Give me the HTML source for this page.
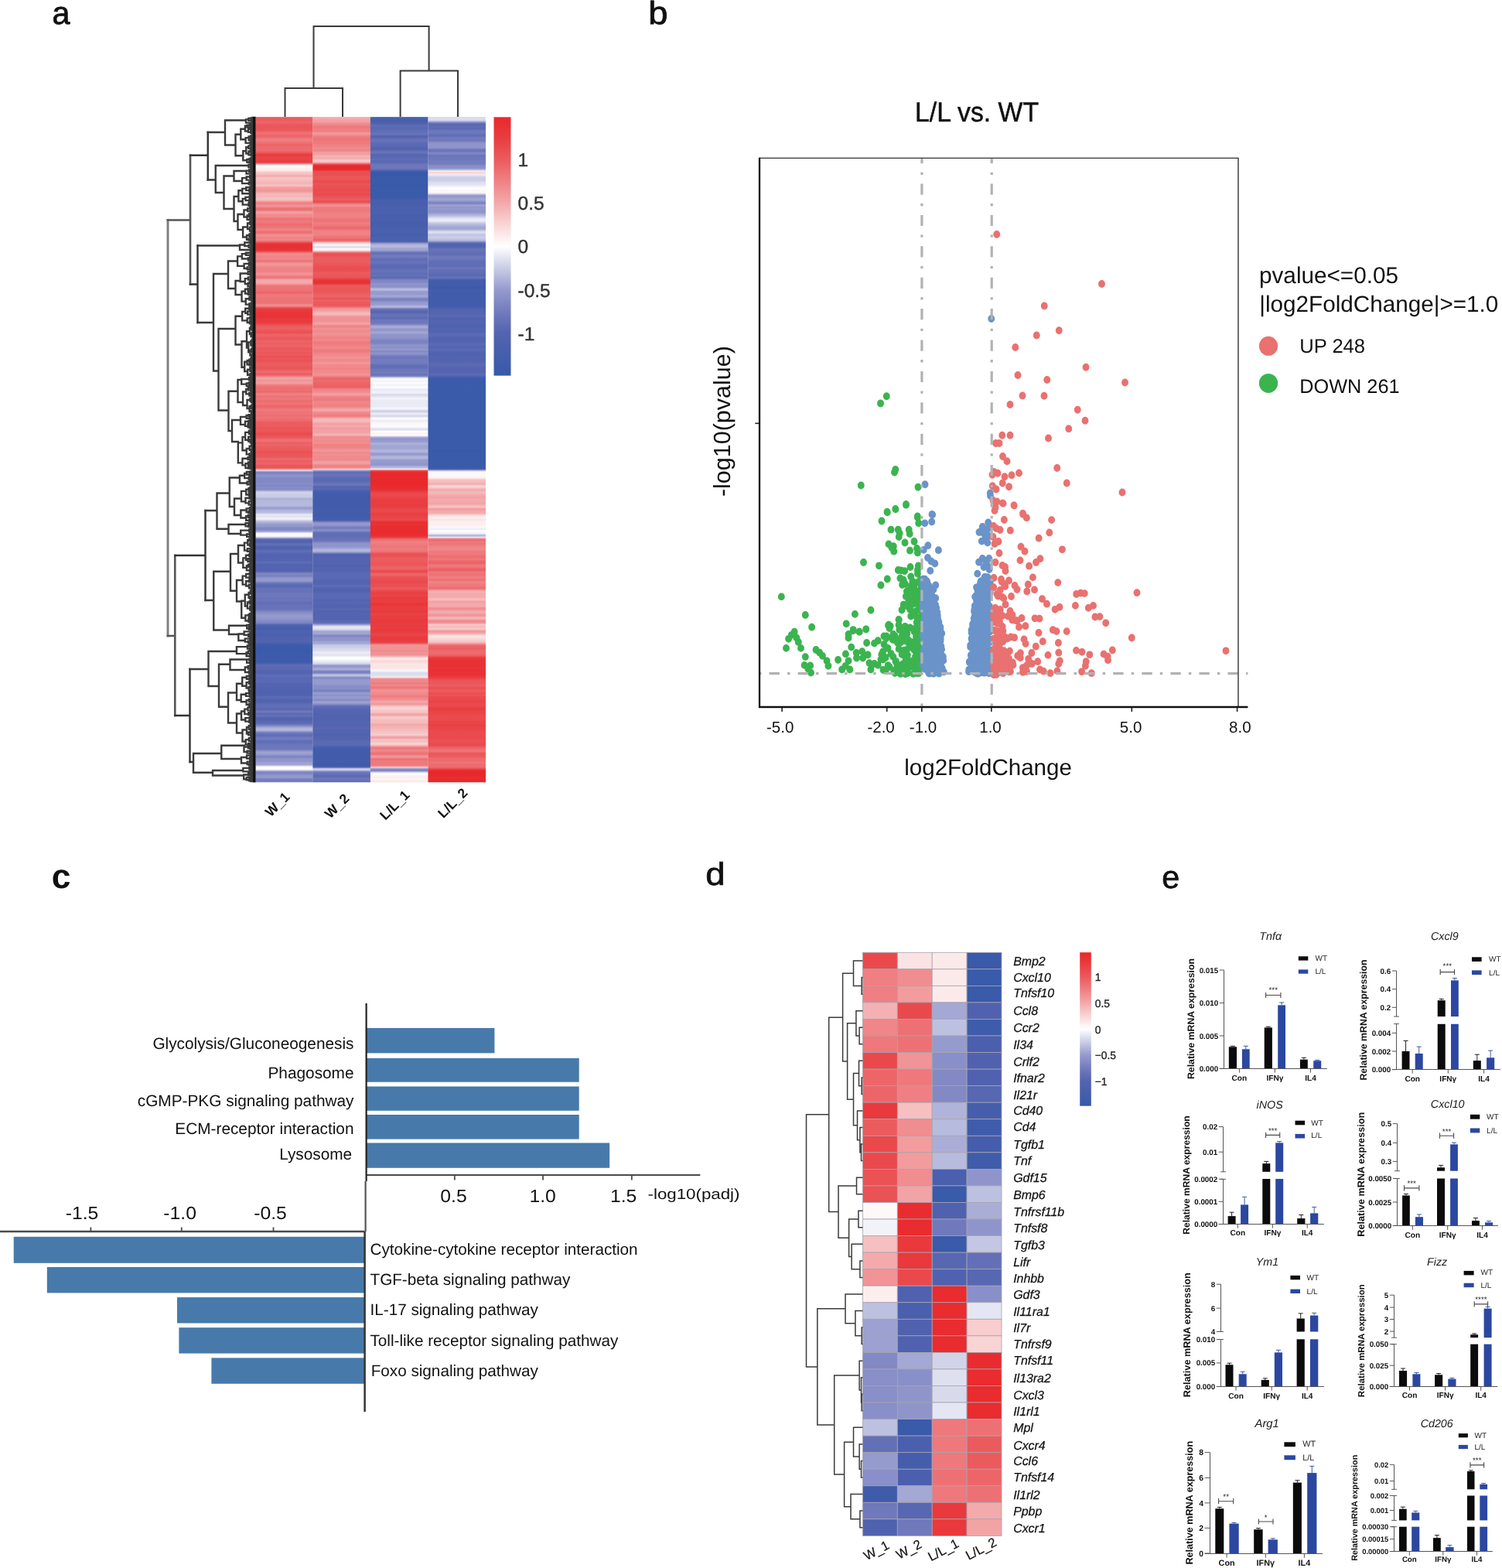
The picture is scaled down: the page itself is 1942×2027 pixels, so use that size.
<!DOCTYPE html>
<html lang="en"><head><meta charset="utf-8"><title>Figure</title>
<style>
html,body{margin:0;padding:0;background:#fff;}
body{width:1942px;height:2027px;overflow:hidden;}
svg{display:block;font-family:"Liberation Sans", sans-serif;text-rendering:geometricPrecision;}
</style></head>
<body>
<svg width="1942" height="2027" viewBox="0 0 1942 2027">
<defs>
<linearGradient id="cbA" x1="0" y1="0" x2="0" y2="1"><stop offset="0.0000" stop-color="#e8282b"/><stop offset="0.0833" stop-color="#e93e41"/><stop offset="0.1667" stop-color="#eb5c5f"/><stop offset="0.2500" stop-color="#ef8285"/><stop offset="0.3333" stop-color="#f3aaac"/><stop offset="0.4167" stop-color="#f9d6d6"/><stop offset="0.5000" stop-color="#ffffff"/><stop offset="0.5833" stop-color="#cacde6"/><stop offset="0.6667" stop-color="#969bce"/><stop offset="0.7500" stop-color="#737cbe"/><stop offset="0.8333" stop-color="#5464b0"/><stop offset="1.0000" stop-color="#3759a9"/></linearGradient><linearGradient id="hA0" x1="0" y1="0" x2="0" y2="1"><stop offset="0.0010" stop-color="#eb5c5f"/><stop offset="0.0029" stop-color="#eb5c5f"/><stop offset="0.0049" stop-color="#eb5c5f"/><stop offset="0.0069" stop-color="#ec6467"/><stop offset="0.0088" stop-color="#ec6467"/><stop offset="0.0108" stop-color="#eb5c5f"/><stop offset="0.0128" stop-color="#eb5659"/><stop offset="0.0147" stop-color="#eb5659"/><stop offset="0.0167" stop-color="#eb5659"/><stop offset="0.0187" stop-color="#eb5659"/><stop offset="0.0206" stop-color="#eb5c5f"/><stop offset="0.0226" stop-color="#ed6b6e"/><stop offset="0.0246" stop-color="#ed7376"/><stop offset="0.0265" stop-color="#ed6b6e"/><stop offset="0.0285" stop-color="#ec6467"/><stop offset="0.0305" stop-color="#ed6b6e"/><stop offset="0.0324" stop-color="#ee7a7d"/><stop offset="0.0344" stop-color="#ef8285"/><stop offset="0.0363" stop-color="#ee7a7d"/><stop offset="0.0383" stop-color="#ed7376"/><stop offset="0.0403" stop-color="#ed6b6e"/><stop offset="0.0422" stop-color="#ec6467"/><stop offset="0.0442" stop-color="#ed6b6e"/><stop offset="0.0462" stop-color="#ed6b6e"/><stop offset="0.0481" stop-color="#ed6b6e"/><stop offset="0.0501" stop-color="#ed6b6e"/><stop offset="0.0521" stop-color="#ec6467"/><stop offset="0.0540" stop-color="#eb5659"/><stop offset="0.0560" stop-color="#e93e41"/><stop offset="0.0580" stop-color="#e93a3d"/><stop offset="0.0599" stop-color="#e94447"/><stop offset="0.0619" stop-color="#e94447"/><stop offset="0.0639" stop-color="#e94447"/><stop offset="0.0658" stop-color="#e93e41"/><stop offset="0.0678" stop-color="#e93e41"/><stop offset="0.0697" stop-color="#ec6467"/><stop offset="0.0717" stop-color="#f8cdce"/><stop offset="0.0737" stop-color="#ffffff"/><stop offset="0.0756" stop-color="#fef7f7"/><stop offset="0.0776" stop-color="#fdefef"/><stop offset="0.0796" stop-color="#fdefef"/><stop offset="0.0815" stop-color="#fadede"/><stop offset="0.0835" stop-color="#f7c4c5"/><stop offset="0.0855" stop-color="#f7c4c5"/><stop offset="0.0874" stop-color="#f4b3b4"/><stop offset="0.0894" stop-color="#f3aaac"/><stop offset="0.0914" stop-color="#f7c4c5"/><stop offset="0.0933" stop-color="#f7c4c5"/><stop offset="0.0953" stop-color="#f5bcbd"/><stop offset="0.0972" stop-color="#f5bcbd"/><stop offset="0.0992" stop-color="#f4b3b4"/><stop offset="0.1012" stop-color="#f5bcbd"/><stop offset="0.1031" stop-color="#f7c4c5"/><stop offset="0.1051" stop-color="#f3aaac"/><stop offset="0.1071" stop-color="#f19a9c"/><stop offset="0.1090" stop-color="#f19a9c"/><stop offset="0.1110" stop-color="#f19295"/><stop offset="0.1130" stop-color="#f2a2a4"/><stop offset="0.1149" stop-color="#f4b3b4"/><stop offset="0.1169" stop-color="#f5bcbd"/><stop offset="0.1189" stop-color="#f4b3b4"/><stop offset="0.1208" stop-color="#f5bcbd"/><stop offset="0.1228" stop-color="#f7c4c5"/><stop offset="0.1248" stop-color="#f5bcbd"/><stop offset="0.1267" stop-color="#f2a2a4"/><stop offset="0.1287" stop-color="#ef8285"/><stop offset="0.1306" stop-color="#ef8285"/><stop offset="0.1326" stop-color="#f19295"/><stop offset="0.1346" stop-color="#f19295"/><stop offset="0.1365" stop-color="#ee7a7d"/><stop offset="0.1385" stop-color="#ed6b6e"/><stop offset="0.1405" stop-color="#ee7a7d"/><stop offset="0.1424" stop-color="#f19a9c"/><stop offset="0.1444" stop-color="#f2a2a4"/><stop offset="0.1464" stop-color="#f08a8d"/><stop offset="0.1483" stop-color="#f08a8d"/><stop offset="0.1503" stop-color="#f08a8d"/><stop offset="0.1523" stop-color="#ed7376"/><stop offset="0.1542" stop-color="#ed7376"/><stop offset="0.1562" stop-color="#ee7a7d"/><stop offset="0.1582" stop-color="#ee7a7d"/><stop offset="0.1601" stop-color="#ed7376"/><stop offset="0.1621" stop-color="#ed6b6e"/><stop offset="0.1640" stop-color="#ed7376"/><stop offset="0.1660" stop-color="#ed7376"/><stop offset="0.1680" stop-color="#ef8285"/><stop offset="0.1699" stop-color="#ef8285"/><stop offset="0.1719" stop-color="#ed7376"/><stop offset="0.1739" stop-color="#ed6b6e"/><stop offset="0.1758" stop-color="#ef8285"/><stop offset="0.1778" stop-color="#f19295"/><stop offset="0.1798" stop-color="#f08a8d"/><stop offset="0.1817" stop-color="#ef8285"/><stop offset="0.1837" stop-color="#f08a8d"/><stop offset="0.1857" stop-color="#ef8285"/><stop offset="0.1876" stop-color="#ec6467"/><stop offset="0.1896" stop-color="#e93e41"/><stop offset="0.1916" stop-color="#e83134"/><stop offset="0.1935" stop-color="#e83134"/><stop offset="0.1955" stop-color="#e83134"/><stop offset="0.1974" stop-color="#e83134"/><stop offset="0.1994" stop-color="#e83134"/><stop offset="0.2014" stop-color="#e93e41"/><stop offset="0.2033" stop-color="#ec6467"/><stop offset="0.2053" stop-color="#f08a8d"/><stop offset="0.2073" stop-color="#f08a8d"/><stop offset="0.2092" stop-color="#ef8285"/><stop offset="0.2112" stop-color="#ef8285"/><stop offset="0.2132" stop-color="#f08a8d"/><stop offset="0.2151" stop-color="#ee7a7d"/><stop offset="0.2171" stop-color="#ed7376"/><stop offset="0.2191" stop-color="#f08a8d"/><stop offset="0.2210" stop-color="#f19a9c"/><stop offset="0.2230" stop-color="#f19295"/><stop offset="0.2250" stop-color="#f08a8d"/><stop offset="0.2269" stop-color="#ef8285"/><stop offset="0.2289" stop-color="#ef8285"/><stop offset="0.2308" stop-color="#ef8285"/><stop offset="0.2328" stop-color="#ef8285"/><stop offset="0.2348" stop-color="#f19295"/><stop offset="0.2367" stop-color="#f19295"/><stop offset="0.2387" stop-color="#ef8285"/><stop offset="0.2407" stop-color="#ed7376"/><stop offset="0.2426" stop-color="#ef8285"/><stop offset="0.2446" stop-color="#f2a2a4"/><stop offset="0.2466" stop-color="#f3aaac"/><stop offset="0.2485" stop-color="#f3aaac"/><stop offset="0.2505" stop-color="#f2a2a4"/><stop offset="0.2525" stop-color="#ef8285"/><stop offset="0.2544" stop-color="#ed7376"/><stop offset="0.2564" stop-color="#ed7376"/><stop offset="0.2583" stop-color="#ed7376"/><stop offset="0.2603" stop-color="#ed7376"/><stop offset="0.2623" stop-color="#ed6b6e"/><stop offset="0.2642" stop-color="#ec6467"/><stop offset="0.2662" stop-color="#ed7376"/><stop offset="0.2682" stop-color="#ee7a7d"/><stop offset="0.2701" stop-color="#ee7a7d"/><stop offset="0.2721" stop-color="#ed7376"/><stop offset="0.2741" stop-color="#ed7376"/><stop offset="0.2760" stop-color="#ed7376"/><stop offset="0.2780" stop-color="#ed7376"/><stop offset="0.2800" stop-color="#ed7376"/><stop offset="0.2819" stop-color="#f08a8d"/><stop offset="0.2839" stop-color="#f08a8d"/><stop offset="0.2859" stop-color="#ec6467"/><stop offset="0.2878" stop-color="#e94447"/><stop offset="0.2898" stop-color="#e93a3d"/><stop offset="0.2917" stop-color="#e93a3d"/><stop offset="0.2937" stop-color="#e93538"/><stop offset="0.2957" stop-color="#e93538"/><stop offset="0.2976" stop-color="#e93538"/><stop offset="0.2996" stop-color="#e83134"/><stop offset="0.3016" stop-color="#e93538"/><stop offset="0.3035" stop-color="#e93a3d"/><stop offset="0.3055" stop-color="#e93a3d"/><stop offset="0.3075" stop-color="#e93a3d"/><stop offset="0.3094" stop-color="#e93e41"/><stop offset="0.3114" stop-color="#ea4a4d"/><stop offset="0.3134" stop-color="#eb5659"/><stop offset="0.3153" stop-color="#eb5c5f"/><stop offset="0.3173" stop-color="#ec6467"/><stop offset="0.3193" stop-color="#eb5c5f"/><stop offset="0.3212" stop-color="#eb5659"/><stop offset="0.3232" stop-color="#ea5053"/><stop offset="0.3251" stop-color="#eb5659"/><stop offset="0.3271" stop-color="#ec6467"/><stop offset="0.3291" stop-color="#ec6467"/><stop offset="0.3310" stop-color="#eb5c5f"/><stop offset="0.3330" stop-color="#eb5659"/><stop offset="0.3350" stop-color="#eb5c5f"/><stop offset="0.3369" stop-color="#ec6467"/><stop offset="0.3389" stop-color="#ec6467"/><stop offset="0.3409" stop-color="#eb5c5f"/><stop offset="0.3428" stop-color="#ec6467"/><stop offset="0.3448" stop-color="#ec6467"/><stop offset="0.3468" stop-color="#eb5c5f"/><stop offset="0.3487" stop-color="#eb5659"/><stop offset="0.3507" stop-color="#eb5c5f"/><stop offset="0.3527" stop-color="#eb5c5f"/><stop offset="0.3546" stop-color="#eb5659"/><stop offset="0.3566" stop-color="#eb5c5f"/><stop offset="0.3585" stop-color="#eb5659"/><stop offset="0.3605" stop-color="#ea5053"/><stop offset="0.3625" stop-color="#eb5659"/><stop offset="0.3644" stop-color="#eb5659"/><stop offset="0.3664" stop-color="#ea5053"/><stop offset="0.3684" stop-color="#eb5659"/><stop offset="0.3703" stop-color="#eb5c5f"/><stop offset="0.3723" stop-color="#eb5c5f"/><stop offset="0.3743" stop-color="#eb5c5f"/><stop offset="0.3762" stop-color="#eb5659"/><stop offset="0.3782" stop-color="#eb5659"/><stop offset="0.3802" stop-color="#eb5c5f"/><stop offset="0.3821" stop-color="#ed6b6e"/><stop offset="0.3841" stop-color="#ed6b6e"/><stop offset="0.3861" stop-color="#eb5c5f"/><stop offset="0.3880" stop-color="#ec6467"/><stop offset="0.3900" stop-color="#ef8285"/><stop offset="0.3919" stop-color="#f2a2a4"/><stop offset="0.3939" stop-color="#f2a2a4"/><stop offset="0.3959" stop-color="#f19295"/><stop offset="0.3978" stop-color="#f19a9c"/><stop offset="0.3998" stop-color="#f2a2a4"/><stop offset="0.4018" stop-color="#f08a8d"/><stop offset="0.4037" stop-color="#ee7a7d"/><stop offset="0.4057" stop-color="#ed7376"/><stop offset="0.4077" stop-color="#ed6b6e"/><stop offset="0.4096" stop-color="#ed7376"/><stop offset="0.4116" stop-color="#ed6b6e"/><stop offset="0.4136" stop-color="#ed6b6e"/><stop offset="0.4155" stop-color="#ee7a7d"/><stop offset="0.4175" stop-color="#ef8285"/><stop offset="0.4194" stop-color="#ed7376"/><stop offset="0.4214" stop-color="#ed7376"/><stop offset="0.4234" stop-color="#ee7a7d"/><stop offset="0.4253" stop-color="#ed7376"/><stop offset="0.4273" stop-color="#ed6b6e"/><stop offset="0.4293" stop-color="#ed7376"/><stop offset="0.4312" stop-color="#ed7376"/><stop offset="0.4332" stop-color="#ed6b6e"/><stop offset="0.4352" stop-color="#ec6467"/><stop offset="0.4371" stop-color="#ed6b6e"/><stop offset="0.4391" stop-color="#ee7a7d"/><stop offset="0.4411" stop-color="#ee7a7d"/><stop offset="0.4430" stop-color="#ed7376"/><stop offset="0.4450" stop-color="#ed7376"/><stop offset="0.4470" stop-color="#ed7376"/><stop offset="0.4489" stop-color="#ed6b6e"/><stop offset="0.4509" stop-color="#ed7376"/><stop offset="0.4528" stop-color="#ed7376"/><stop offset="0.4548" stop-color="#ed6b6e"/><stop offset="0.4568" stop-color="#ed6b6e"/><stop offset="0.4587" stop-color="#eb5c5f"/><stop offset="0.4607" stop-color="#eb5c5f"/><stop offset="0.4627" stop-color="#eb5c5f"/><stop offset="0.4646" stop-color="#eb5c5f"/><stop offset="0.4666" stop-color="#eb5659"/><stop offset="0.4686" stop-color="#eb5659"/><stop offset="0.4705" stop-color="#eb5659"/><stop offset="0.4725" stop-color="#eb5659"/><stop offset="0.4745" stop-color="#ea5053"/><stop offset="0.4764" stop-color="#ea4a4d"/><stop offset="0.4784" stop-color="#ea5053"/><stop offset="0.4804" stop-color="#eb5659"/><stop offset="0.4823" stop-color="#eb5c5f"/><stop offset="0.4843" stop-color="#ed6b6e"/><stop offset="0.4862" stop-color="#ed7376"/><stop offset="0.4882" stop-color="#ed6b6e"/><stop offset="0.4902" stop-color="#eb5c5f"/><stop offset="0.4921" stop-color="#ec6467"/><stop offset="0.4941" stop-color="#ec6467"/><stop offset="0.4961" stop-color="#eb5c5f"/><stop offset="0.4980" stop-color="#eb5c5f"/><stop offset="0.5000" stop-color="#eb5c5f"/><stop offset="0.5020" stop-color="#eb5659"/><stop offset="0.5039" stop-color="#ea5053"/><stop offset="0.5059" stop-color="#eb5659"/><stop offset="0.5079" stop-color="#eb5659"/><stop offset="0.5098" stop-color="#eb5659"/><stop offset="0.5118" stop-color="#eb5c5f"/><stop offset="0.5138" stop-color="#ed6b6e"/><stop offset="0.5157" stop-color="#ec6467"/><stop offset="0.5177" stop-color="#eb5c5f"/><stop offset="0.5196" stop-color="#ec6467"/><stop offset="0.5216" stop-color="#ec6467"/><stop offset="0.5236" stop-color="#eb5659"/><stop offset="0.5255" stop-color="#eb5659"/><stop offset="0.5275" stop-color="#eb5659"/><stop offset="0.5295" stop-color="#f19295"/><stop offset="0.5314" stop-color="#dfe1f0"/><stop offset="0.5334" stop-color="#8188c4"/><stop offset="0.5354" stop-color="#7a82c1"/><stop offset="0.5373" stop-color="#888fc8"/><stop offset="0.5393" stop-color="#8f95cb"/><stop offset="0.5413" stop-color="#888fc8"/><stop offset="0.5432" stop-color="#8188c4"/><stop offset="0.5452" stop-color="#8188c4"/><stop offset="0.5472" stop-color="#8188c4"/><stop offset="0.5491" stop-color="#8188c4"/><stop offset="0.5511" stop-color="#888fc8"/><stop offset="0.5530" stop-color="#8188c4"/><stop offset="0.5550" stop-color="#8188c4"/><stop offset="0.5570" stop-color="#888fc8"/><stop offset="0.5589" stop-color="#8188c4"/><stop offset="0.5609" stop-color="#8f95cb"/><stop offset="0.5629" stop-color="#c0c3e1"/><stop offset="0.5648" stop-color="#d5d7eb"/><stop offset="0.5668" stop-color="#cacde6"/><stop offset="0.5688" stop-color="#cacde6"/><stop offset="0.5707" stop-color="#cacde6"/><stop offset="0.5727" stop-color="#b5b9dc"/><stop offset="0.5747" stop-color="#abafd8"/><stop offset="0.5766" stop-color="#b5b9dc"/><stop offset="0.5786" stop-color="#b5b9dc"/><stop offset="0.5806" stop-color="#b5b9dc"/><stop offset="0.5825" stop-color="#b5b9dc"/><stop offset="0.5845" stop-color="#b5b9dc"/><stop offset="0.5864" stop-color="#a0a5d3"/><stop offset="0.5884" stop-color="#969bce"/><stop offset="0.5904" stop-color="#abafd8"/><stop offset="0.5923" stop-color="#b5b9dc"/><stop offset="0.5943" stop-color="#b5b9dc"/><stop offset="0.5963" stop-color="#d5d7eb"/><stop offset="0.5982" stop-color="#eaebf5"/><stop offset="0.6002" stop-color="#dfe1f0"/><stop offset="0.6022" stop-color="#eaebf5"/><stop offset="0.6041" stop-color="#f4f5fa"/><stop offset="0.6061" stop-color="#d5d7eb"/><stop offset="0.6081" stop-color="#b5b9dc"/><stop offset="0.6100" stop-color="#abafd8"/><stop offset="0.6120" stop-color="#969bce"/><stop offset="0.6139" stop-color="#969bce"/><stop offset="0.6159" stop-color="#8f95cb"/><stop offset="0.6179" stop-color="#8188c4"/><stop offset="0.6198" stop-color="#8188c4"/><stop offset="0.6218" stop-color="#8f95cb"/><stop offset="0.6238" stop-color="#b5b9dc"/><stop offset="0.6257" stop-color="#f4f5fa"/><stop offset="0.6277" stop-color="#fef7f7"/><stop offset="0.6297" stop-color="#fef7f7"/><stop offset="0.6316" stop-color="#d5d7eb"/><stop offset="0.6336" stop-color="#7a82c1"/><stop offset="0.6356" stop-color="#5464b0"/><stop offset="0.6375" stop-color="#5163af"/><stop offset="0.6395" stop-color="#5464b0"/><stop offset="0.6415" stop-color="#606eb6"/><stop offset="0.6434" stop-color="#606eb6"/><stop offset="0.6454" stop-color="#5464b0"/><stop offset="0.6473" stop-color="#4e62af"/><stop offset="0.6493" stop-color="#5464b0"/><stop offset="0.6513" stop-color="#5a69b3"/><stop offset="0.6532" stop-color="#606eb6"/><stop offset="0.6552" stop-color="#5a69b3"/><stop offset="0.6572" stop-color="#5464b0"/><stop offset="0.6591" stop-color="#5464b0"/><stop offset="0.6611" stop-color="#5163af"/><stop offset="0.6631" stop-color="#5464b0"/><stop offset="0.6650" stop-color="#5464b0"/><stop offset="0.6670" stop-color="#5464b0"/><stop offset="0.6690" stop-color="#606eb6"/><stop offset="0.6709" stop-color="#5a69b3"/><stop offset="0.6729" stop-color="#5163af"/><stop offset="0.6749" stop-color="#5163af"/><stop offset="0.6768" stop-color="#5464b0"/><stop offset="0.6788" stop-color="#5464b0"/><stop offset="0.6807" stop-color="#5163af"/><stop offset="0.6827" stop-color="#5464b0"/><stop offset="0.6847" stop-color="#6d77bb"/><stop offset="0.6866" stop-color="#8188c4"/><stop offset="0.6886" stop-color="#7a82c1"/><stop offset="0.6906" stop-color="#7a82c1"/><stop offset="0.6925" stop-color="#8f95cb"/><stop offset="0.6945" stop-color="#969bce"/><stop offset="0.6965" stop-color="#969bce"/><stop offset="0.6984" stop-color="#888fc8"/><stop offset="0.7004" stop-color="#6d77bb"/><stop offset="0.7024" stop-color="#606eb6"/><stop offset="0.7043" stop-color="#5a69b3"/><stop offset="0.7063" stop-color="#5a69b3"/><stop offset="0.7083" stop-color="#6772b8"/><stop offset="0.7102" stop-color="#6772b8"/><stop offset="0.7122" stop-color="#6772b8"/><stop offset="0.7141" stop-color="#6772b8"/><stop offset="0.7161" stop-color="#6d77bb"/><stop offset="0.7181" stop-color="#6d77bb"/><stop offset="0.7200" stop-color="#6d77bb"/><stop offset="0.7220" stop-color="#6d77bb"/><stop offset="0.7240" stop-color="#6772b8"/><stop offset="0.7259" stop-color="#6d77bb"/><stop offset="0.7279" stop-color="#6772b8"/><stop offset="0.7299" stop-color="#606eb6"/><stop offset="0.7318" stop-color="#606eb6"/><stop offset="0.7338" stop-color="#6772b8"/><stop offset="0.7358" stop-color="#6772b8"/><stop offset="0.7377" stop-color="#6772b8"/><stop offset="0.7397" stop-color="#6772b8"/><stop offset="0.7417" stop-color="#737cbe"/><stop offset="0.7436" stop-color="#8188c4"/><stop offset="0.7456" stop-color="#888fc8"/><stop offset="0.7475" stop-color="#8f95cb"/><stop offset="0.7495" stop-color="#969bce"/><stop offset="0.7515" stop-color="#969bce"/><stop offset="0.7534" stop-color="#8f95cb"/><stop offset="0.7554" stop-color="#8f95cb"/><stop offset="0.7574" stop-color="#8188c4"/><stop offset="0.7593" stop-color="#8188c4"/><stop offset="0.7613" stop-color="#737cbe"/><stop offset="0.7633" stop-color="#5464b0"/><stop offset="0.7652" stop-color="#4e62af"/><stop offset="0.7672" stop-color="#4860ad"/><stop offset="0.7692" stop-color="#465eac"/><stop offset="0.7711" stop-color="#4b61ae"/><stop offset="0.7731" stop-color="#5163af"/><stop offset="0.7750" stop-color="#4e62af"/><stop offset="0.7770" stop-color="#4860ad"/><stop offset="0.7790" stop-color="#4b61ae"/><stop offset="0.7809" stop-color="#4e62af"/><stop offset="0.7829" stop-color="#5163af"/><stop offset="0.7849" stop-color="#5163af"/><stop offset="0.7868" stop-color="#5163af"/><stop offset="0.7888" stop-color="#5163af"/><stop offset="0.7908" stop-color="#4b61ae"/><stop offset="0.7927" stop-color="#405cab"/><stop offset="0.7947" stop-color="#3d5baa"/><stop offset="0.7967" stop-color="#3d5baa"/><stop offset="0.7986" stop-color="#3a5aaa"/><stop offset="0.8006" stop-color="#3a5aaa"/><stop offset="0.8026" stop-color="#3a5aaa"/><stop offset="0.8045" stop-color="#3a5aaa"/><stop offset="0.8065" stop-color="#3a5aaa"/><stop offset="0.8084" stop-color="#3d5baa"/><stop offset="0.8104" stop-color="#3d5baa"/><stop offset="0.8124" stop-color="#3a5aaa"/><stop offset="0.8143" stop-color="#3d5baa"/><stop offset="0.8163" stop-color="#3d5baa"/><stop offset="0.8183" stop-color="#3d5baa"/><stop offset="0.8202" stop-color="#405cab"/><stop offset="0.8222" stop-color="#5163af"/><stop offset="0.8242" stop-color="#606eb6"/><stop offset="0.8261" stop-color="#5a69b3"/><stop offset="0.8281" stop-color="#5a69b3"/><stop offset="0.8301" stop-color="#5a69b3"/><stop offset="0.8320" stop-color="#5464b0"/><stop offset="0.8340" stop-color="#5163af"/><stop offset="0.8360" stop-color="#5464b0"/><stop offset="0.8379" stop-color="#5a69b3"/><stop offset="0.8399" stop-color="#606eb6"/><stop offset="0.8418" stop-color="#5a69b3"/><stop offset="0.8438" stop-color="#5a69b3"/><stop offset="0.8458" stop-color="#5a69b3"/><stop offset="0.8477" stop-color="#5a69b3"/><stop offset="0.8497" stop-color="#5a69b3"/><stop offset="0.8517" stop-color="#5464b0"/><stop offset="0.8536" stop-color="#5464b0"/><stop offset="0.8556" stop-color="#5464b0"/><stop offset="0.8576" stop-color="#5163af"/><stop offset="0.8595" stop-color="#5163af"/><stop offset="0.8615" stop-color="#5163af"/><stop offset="0.8635" stop-color="#4e62af"/><stop offset="0.8654" stop-color="#4e62af"/><stop offset="0.8674" stop-color="#4e62af"/><stop offset="0.8694" stop-color="#5163af"/><stop offset="0.8713" stop-color="#5a69b3"/><stop offset="0.8733" stop-color="#5a69b3"/><stop offset="0.8752" stop-color="#5464b0"/><stop offset="0.8772" stop-color="#5163af"/><stop offset="0.8792" stop-color="#5163af"/><stop offset="0.8811" stop-color="#5a69b3"/><stop offset="0.8831" stop-color="#606eb6"/><stop offset="0.8851" stop-color="#606eb6"/><stop offset="0.8870" stop-color="#606eb6"/><stop offset="0.8890" stop-color="#5a69b3"/><stop offset="0.8910" stop-color="#5a69b3"/><stop offset="0.8929" stop-color="#6d77bb"/><stop offset="0.8949" stop-color="#6d77bb"/><stop offset="0.8969" stop-color="#5a69b3"/><stop offset="0.8988" stop-color="#606eb6"/><stop offset="0.9008" stop-color="#6772b8"/><stop offset="0.9028" stop-color="#5464b0"/><stop offset="0.9047" stop-color="#5163af"/><stop offset="0.9067" stop-color="#5464b0"/><stop offset="0.9086" stop-color="#5a69b3"/><stop offset="0.9106" stop-color="#5a69b3"/><stop offset="0.9126" stop-color="#6772b8"/><stop offset="0.9145" stop-color="#7a82c1"/><stop offset="0.9165" stop-color="#969bce"/><stop offset="0.9185" stop-color="#abafd8"/><stop offset="0.9204" stop-color="#b5b9dc"/><stop offset="0.9224" stop-color="#abafd8"/><stop offset="0.9244" stop-color="#8188c4"/><stop offset="0.9263" stop-color="#6d77bb"/><stop offset="0.9283" stop-color="#606eb6"/><stop offset="0.9303" stop-color="#606eb6"/><stop offset="0.9322" stop-color="#6d77bb"/><stop offset="0.9342" stop-color="#737cbe"/><stop offset="0.9361" stop-color="#6d77bb"/><stop offset="0.9381" stop-color="#606eb6"/><stop offset="0.9401" stop-color="#606eb6"/><stop offset="0.9420" stop-color="#6772b8"/><stop offset="0.9440" stop-color="#6d77bb"/><stop offset="0.9460" stop-color="#6d77bb"/><stop offset="0.9479" stop-color="#6d77bb"/><stop offset="0.9499" stop-color="#6d77bb"/><stop offset="0.9519" stop-color="#8188c4"/><stop offset="0.9538" stop-color="#969bce"/><stop offset="0.9558" stop-color="#a0a5d3"/><stop offset="0.9578" stop-color="#969bce"/><stop offset="0.9597" stop-color="#888fc8"/><stop offset="0.9617" stop-color="#7a82c1"/><stop offset="0.9637" stop-color="#888fc8"/><stop offset="0.9656" stop-color="#8f95cb"/><stop offset="0.9676" stop-color="#8f95cb"/><stop offset="0.9695" stop-color="#969bce"/><stop offset="0.9715" stop-color="#a0a5d3"/><stop offset="0.9735" stop-color="#a0a5d3"/><stop offset="0.9754" stop-color="#d5d7eb"/><stop offset="0.9774" stop-color="#ffffff"/><stop offset="0.9794" stop-color="#ffffff"/><stop offset="0.9813" stop-color="#eaebf5"/><stop offset="0.9833" stop-color="#969bce"/><stop offset="0.9853" stop-color="#7a82c1"/><stop offset="0.9872" stop-color="#8188c4"/><stop offset="0.9892" stop-color="#8f95cb"/><stop offset="0.9912" stop-color="#969bce"/><stop offset="0.9931" stop-color="#8f95cb"/><stop offset="0.9951" stop-color="#7a82c1"/><stop offset="0.9971" stop-color="#6d77bb"/><stop offset="0.9990" stop-color="#7a82c1"/></linearGradient><linearGradient id="hA1" x1="0" y1="0" x2="0" y2="1"><stop offset="0.0010" stop-color="#f3aaac"/><stop offset="0.0029" stop-color="#f3aaac"/><stop offset="0.0049" stop-color="#f2a2a4"/><stop offset="0.0069" stop-color="#f2a2a4"/><stop offset="0.0088" stop-color="#f19295"/><stop offset="0.0108" stop-color="#f08a8d"/><stop offset="0.0128" stop-color="#ef8285"/><stop offset="0.0147" stop-color="#ee7a7d"/><stop offset="0.0167" stop-color="#ee7a7d"/><stop offset="0.0187" stop-color="#ef8285"/><stop offset="0.0206" stop-color="#ee7a7d"/><stop offset="0.0226" stop-color="#f08a8d"/><stop offset="0.0246" stop-color="#f19a9c"/><stop offset="0.0265" stop-color="#f19295"/><stop offset="0.0285" stop-color="#ef8285"/><stop offset="0.0305" stop-color="#ee7a7d"/><stop offset="0.0324" stop-color="#ed7376"/><stop offset="0.0344" stop-color="#ed7376"/><stop offset="0.0363" stop-color="#ee7a7d"/><stop offset="0.0383" stop-color="#ee7a7d"/><stop offset="0.0403" stop-color="#ee7a7d"/><stop offset="0.0422" stop-color="#ef8285"/><stop offset="0.0442" stop-color="#ef8285"/><stop offset="0.0462" stop-color="#f08a8d"/><stop offset="0.0481" stop-color="#f08a8d"/><stop offset="0.0501" stop-color="#ef8285"/><stop offset="0.0521" stop-color="#f19295"/><stop offset="0.0540" stop-color="#f2a2a4"/><stop offset="0.0560" stop-color="#f19a9c"/><stop offset="0.0580" stop-color="#f4b3b4"/><stop offset="0.0599" stop-color="#f4b3b4"/><stop offset="0.0619" stop-color="#f3aaac"/><stop offset="0.0639" stop-color="#f5bcbd"/><stop offset="0.0658" stop-color="#f8cdce"/><stop offset="0.0678" stop-color="#f5bcbd"/><stop offset="0.0697" stop-color="#ef8285"/><stop offset="0.0717" stop-color="#e93e41"/><stop offset="0.0737" stop-color="#e8282b"/><stop offset="0.0756" stop-color="#e8282b"/><stop offset="0.0776" stop-color="#e8282b"/><stop offset="0.0796" stop-color="#e83134"/><stop offset="0.0815" stop-color="#ea4a4d"/><stop offset="0.0835" stop-color="#ea5053"/><stop offset="0.0855" stop-color="#ea5053"/><stop offset="0.0874" stop-color="#ea5053"/><stop offset="0.0894" stop-color="#eb5659"/><stop offset="0.0914" stop-color="#eb5659"/><stop offset="0.0933" stop-color="#eb5659"/><stop offset="0.0953" stop-color="#ea5053"/><stop offset="0.0972" stop-color="#ea4a4d"/><stop offset="0.0992" stop-color="#ea5053"/><stop offset="0.1012" stop-color="#eb5659"/><stop offset="0.1031" stop-color="#ea5053"/><stop offset="0.1051" stop-color="#ea5053"/><stop offset="0.1071" stop-color="#ea5053"/><stop offset="0.1090" stop-color="#ea4a4d"/><stop offset="0.1110" stop-color="#ea4a4d"/><stop offset="0.1130" stop-color="#ea5053"/><stop offset="0.1149" stop-color="#ea4a4d"/><stop offset="0.1169" stop-color="#ea4a4d"/><stop offset="0.1189" stop-color="#ea5053"/><stop offset="0.1208" stop-color="#eb5659"/><stop offset="0.1228" stop-color="#eb5c5f"/><stop offset="0.1248" stop-color="#eb5c5f"/><stop offset="0.1267" stop-color="#ea4a4d"/><stop offset="0.1287" stop-color="#eb5659"/><stop offset="0.1306" stop-color="#ee7a7d"/><stop offset="0.1326" stop-color="#f19295"/><stop offset="0.1346" stop-color="#f08a8d"/><stop offset="0.1365" stop-color="#ee7a7d"/><stop offset="0.1385" stop-color="#ee7a7d"/><stop offset="0.1405" stop-color="#ee7a7d"/><stop offset="0.1424" stop-color="#ee7a7d"/><stop offset="0.1444" stop-color="#ef8285"/><stop offset="0.1464" stop-color="#ef8285"/><stop offset="0.1483" stop-color="#ef8285"/><stop offset="0.1503" stop-color="#ef8285"/><stop offset="0.1523" stop-color="#ee7a7d"/><stop offset="0.1542" stop-color="#ed7376"/><stop offset="0.1562" stop-color="#ed7376"/><stop offset="0.1582" stop-color="#ee7a7d"/><stop offset="0.1601" stop-color="#ef8285"/><stop offset="0.1621" stop-color="#ee7a7d"/><stop offset="0.1640" stop-color="#ed7376"/><stop offset="0.1660" stop-color="#ed6b6e"/><stop offset="0.1680" stop-color="#ed6b6e"/><stop offset="0.1699" stop-color="#ee7a7d"/><stop offset="0.1719" stop-color="#ef8285"/><stop offset="0.1739" stop-color="#ef8285"/><stop offset="0.1758" stop-color="#ef8285"/><stop offset="0.1778" stop-color="#ef8285"/><stop offset="0.1798" stop-color="#ed7376"/><stop offset="0.1817" stop-color="#ed7376"/><stop offset="0.1837" stop-color="#ec6467"/><stop offset="0.1857" stop-color="#ec6467"/><stop offset="0.1876" stop-color="#f19295"/><stop offset="0.1896" stop-color="#f9d6d6"/><stop offset="0.1916" stop-color="#fdefef"/><stop offset="0.1935" stop-color="#f4f5fa"/><stop offset="0.1955" stop-color="#d5d7eb"/><stop offset="0.1974" stop-color="#f4f5fa"/><stop offset="0.1994" stop-color="#fef7f7"/><stop offset="0.2014" stop-color="#f8cdce"/><stop offset="0.2033" stop-color="#ee7a7d"/><stop offset="0.2053" stop-color="#eb5659"/><stop offset="0.2073" stop-color="#ea5053"/><stop offset="0.2092" stop-color="#eb5659"/><stop offset="0.2112" stop-color="#eb5c5f"/><stop offset="0.2132" stop-color="#eb5c5f"/><stop offset="0.2151" stop-color="#eb5c5f"/><stop offset="0.2171" stop-color="#eb5c5f"/><stop offset="0.2191" stop-color="#eb5c5f"/><stop offset="0.2210" stop-color="#eb5659"/><stop offset="0.2230" stop-color="#eb5659"/><stop offset="0.2250" stop-color="#ea5053"/><stop offset="0.2269" stop-color="#ea5053"/><stop offset="0.2289" stop-color="#ea5053"/><stop offset="0.2308" stop-color="#ea5053"/><stop offset="0.2328" stop-color="#eb5659"/><stop offset="0.2348" stop-color="#eb5c5f"/><stop offset="0.2367" stop-color="#eb5659"/><stop offset="0.2387" stop-color="#eb5659"/><stop offset="0.2407" stop-color="#eb5659"/><stop offset="0.2426" stop-color="#ea4a4d"/><stop offset="0.2446" stop-color="#e93a3d"/><stop offset="0.2466" stop-color="#e83134"/><stop offset="0.2485" stop-color="#e83134"/><stop offset="0.2505" stop-color="#e93538"/><stop offset="0.2525" stop-color="#ea5053"/><stop offset="0.2544" stop-color="#eb5c5f"/><stop offset="0.2564" stop-color="#eb5659"/><stop offset="0.2583" stop-color="#eb5659"/><stop offset="0.2603" stop-color="#eb5659"/><stop offset="0.2623" stop-color="#eb5659"/><stop offset="0.2642" stop-color="#eb5c5f"/><stop offset="0.2662" stop-color="#eb5c5f"/><stop offset="0.2682" stop-color="#ec6467"/><stop offset="0.2701" stop-color="#ec6467"/><stop offset="0.2721" stop-color="#eb5659"/><stop offset="0.2741" stop-color="#eb5659"/><stop offset="0.2760" stop-color="#ec6467"/><stop offset="0.2780" stop-color="#eb5c5f"/><stop offset="0.2800" stop-color="#eb5c5f"/><stop offset="0.2819" stop-color="#eb5659"/><stop offset="0.2839" stop-color="#eb5c5f"/><stop offset="0.2859" stop-color="#ed7376"/><stop offset="0.2878" stop-color="#f19295"/><stop offset="0.2898" stop-color="#f19a9c"/><stop offset="0.2917" stop-color="#f2a2a4"/><stop offset="0.2937" stop-color="#f4b3b4"/><stop offset="0.2957" stop-color="#f5bcbd"/><stop offset="0.2976" stop-color="#f4b3b4"/><stop offset="0.2996" stop-color="#f19a9c"/><stop offset="0.3016" stop-color="#f19295"/><stop offset="0.3035" stop-color="#f19295"/><stop offset="0.3055" stop-color="#f19295"/><stop offset="0.3075" stop-color="#f19295"/><stop offset="0.3094" stop-color="#f2a2a4"/><stop offset="0.3114" stop-color="#f2a2a4"/><stop offset="0.3134" stop-color="#f08a8d"/><stop offset="0.3153" stop-color="#ef8285"/><stop offset="0.3173" stop-color="#f19295"/><stop offset="0.3193" stop-color="#f19295"/><stop offset="0.3212" stop-color="#f08a8d"/><stop offset="0.3232" stop-color="#f08a8d"/><stop offset="0.3251" stop-color="#f19295"/><stop offset="0.3271" stop-color="#f19295"/><stop offset="0.3291" stop-color="#f08a8d"/><stop offset="0.3310" stop-color="#ef8285"/><stop offset="0.3330" stop-color="#ef8285"/><stop offset="0.3350" stop-color="#f08a8d"/><stop offset="0.3369" stop-color="#ef8285"/><stop offset="0.3389" stop-color="#ee7a7d"/><stop offset="0.3409" stop-color="#ee7a7d"/><stop offset="0.3428" stop-color="#ef8285"/><stop offset="0.3448" stop-color="#ef8285"/><stop offset="0.3468" stop-color="#f08a8d"/><stop offset="0.3487" stop-color="#ef8285"/><stop offset="0.3507" stop-color="#ee7a7d"/><stop offset="0.3527" stop-color="#ee7a7d"/><stop offset="0.3546" stop-color="#ef8285"/><stop offset="0.3566" stop-color="#f08a8d"/><stop offset="0.3585" stop-color="#f08a8d"/><stop offset="0.3605" stop-color="#f19295"/><stop offset="0.3625" stop-color="#f19295"/><stop offset="0.3644" stop-color="#f08a8d"/><stop offset="0.3664" stop-color="#f08a8d"/><stop offset="0.3684" stop-color="#f19295"/><stop offset="0.3703" stop-color="#f19a9c"/><stop offset="0.3723" stop-color="#f08a8d"/><stop offset="0.3743" stop-color="#f08a8d"/><stop offset="0.3762" stop-color="#f08a8d"/><stop offset="0.3782" stop-color="#ef8285"/><stop offset="0.3802" stop-color="#f08a8d"/><stop offset="0.3821" stop-color="#f08a8d"/><stop offset="0.3841" stop-color="#f08a8d"/><stop offset="0.3861" stop-color="#f19295"/><stop offset="0.3880" stop-color="#f19295"/><stop offset="0.3900" stop-color="#ef8285"/><stop offset="0.3919" stop-color="#ed6b6e"/><stop offset="0.3939" stop-color="#ec6467"/><stop offset="0.3959" stop-color="#ed6b6e"/><stop offset="0.3978" stop-color="#ed6b6e"/><stop offset="0.3998" stop-color="#ec6467"/><stop offset="0.4018" stop-color="#ec6467"/><stop offset="0.4037" stop-color="#ec6467"/><stop offset="0.4057" stop-color="#eb5c5f"/><stop offset="0.4077" stop-color="#ed7376"/><stop offset="0.4096" stop-color="#ef8285"/><stop offset="0.4116" stop-color="#f08a8d"/><stop offset="0.4136" stop-color="#f08a8d"/><stop offset="0.4155" stop-color="#f19a9c"/><stop offset="0.4175" stop-color="#f2a2a4"/><stop offset="0.4194" stop-color="#f08a8d"/><stop offset="0.4214" stop-color="#ef8285"/><stop offset="0.4234" stop-color="#ee7a7d"/><stop offset="0.4253" stop-color="#ee7a7d"/><stop offset="0.4273" stop-color="#ef8285"/><stop offset="0.4293" stop-color="#f08a8d"/><stop offset="0.4312" stop-color="#ef8285"/><stop offset="0.4332" stop-color="#ef8285"/><stop offset="0.4352" stop-color="#ef8285"/><stop offset="0.4371" stop-color="#f19295"/><stop offset="0.4391" stop-color="#f2a2a4"/><stop offset="0.4411" stop-color="#f3aaac"/><stop offset="0.4430" stop-color="#f19295"/><stop offset="0.4450" stop-color="#f08a8d"/><stop offset="0.4470" stop-color="#ef8285"/><stop offset="0.4489" stop-color="#ee7a7d"/><stop offset="0.4509" stop-color="#f08a8d"/><stop offset="0.4528" stop-color="#f3aaac"/><stop offset="0.4548" stop-color="#f5bcbd"/><stop offset="0.4568" stop-color="#f5bcbd"/><stop offset="0.4587" stop-color="#f4b3b4"/><stop offset="0.4607" stop-color="#f2a2a4"/><stop offset="0.4627" stop-color="#f2a2a4"/><stop offset="0.4646" stop-color="#f3aaac"/><stop offset="0.4666" stop-color="#f2a2a4"/><stop offset="0.4686" stop-color="#f19a9c"/><stop offset="0.4705" stop-color="#f2a2a4"/><stop offset="0.4725" stop-color="#f2a2a4"/><stop offset="0.4745" stop-color="#f2a2a4"/><stop offset="0.4764" stop-color="#f4b3b4"/><stop offset="0.4784" stop-color="#f4b3b4"/><stop offset="0.4804" stop-color="#f19295"/><stop offset="0.4823" stop-color="#f08a8d"/><stop offset="0.4843" stop-color="#f19295"/><stop offset="0.4862" stop-color="#f08a8d"/><stop offset="0.4882" stop-color="#f08a8d"/><stop offset="0.4902" stop-color="#f19295"/><stop offset="0.4921" stop-color="#ef8285"/><stop offset="0.4941" stop-color="#ef8285"/><stop offset="0.4961" stop-color="#ef8285"/><stop offset="0.4980" stop-color="#f08a8d"/><stop offset="0.5000" stop-color="#f19295"/><stop offset="0.5020" stop-color="#f19a9c"/><stop offset="0.5039" stop-color="#f08a8d"/><stop offset="0.5059" stop-color="#f08a8d"/><stop offset="0.5079" stop-color="#f19295"/><stop offset="0.5098" stop-color="#f08a8d"/><stop offset="0.5118" stop-color="#f08a8d"/><stop offset="0.5138" stop-color="#f08a8d"/><stop offset="0.5157" stop-color="#f08a8d"/><stop offset="0.5177" stop-color="#f19a9c"/><stop offset="0.5196" stop-color="#f2a2a4"/><stop offset="0.5216" stop-color="#f19a9c"/><stop offset="0.5236" stop-color="#ef8285"/><stop offset="0.5255" stop-color="#ef8285"/><stop offset="0.5275" stop-color="#f08a8d"/><stop offset="0.5295" stop-color="#f8cdce"/><stop offset="0.5314" stop-color="#a0a5d3"/><stop offset="0.5334" stop-color="#606eb6"/><stop offset="0.5354" stop-color="#606eb6"/><stop offset="0.5373" stop-color="#6772b8"/><stop offset="0.5393" stop-color="#6772b8"/><stop offset="0.5413" stop-color="#606eb6"/><stop offset="0.5432" stop-color="#5a69b3"/><stop offset="0.5452" stop-color="#5a69b3"/><stop offset="0.5472" stop-color="#5a69b3"/><stop offset="0.5491" stop-color="#606eb6"/><stop offset="0.5511" stop-color="#6772b8"/><stop offset="0.5530" stop-color="#6d77bb"/><stop offset="0.5550" stop-color="#5a69b3"/><stop offset="0.5570" stop-color="#5464b0"/><stop offset="0.5589" stop-color="#5a69b3"/><stop offset="0.5609" stop-color="#4e62af"/><stop offset="0.5629" stop-color="#465eac"/><stop offset="0.5648" stop-color="#435dac"/><stop offset="0.5668" stop-color="#405cab"/><stop offset="0.5688" stop-color="#405cab"/><stop offset="0.5707" stop-color="#405cab"/><stop offset="0.5727" stop-color="#405cab"/><stop offset="0.5747" stop-color="#405cab"/><stop offset="0.5766" stop-color="#405cab"/><stop offset="0.5786" stop-color="#405cab"/><stop offset="0.5806" stop-color="#405cab"/><stop offset="0.5825" stop-color="#435dac"/><stop offset="0.5845" stop-color="#405cab"/><stop offset="0.5864" stop-color="#405cab"/><stop offset="0.5884" stop-color="#435dac"/><stop offset="0.5904" stop-color="#435dac"/><stop offset="0.5923" stop-color="#435dac"/><stop offset="0.5943" stop-color="#435dac"/><stop offset="0.5963" stop-color="#435dac"/><stop offset="0.5982" stop-color="#405cab"/><stop offset="0.6002" stop-color="#405cab"/><stop offset="0.6022" stop-color="#435dac"/><stop offset="0.6041" stop-color="#435dac"/><stop offset="0.6061" stop-color="#4860ad"/><stop offset="0.6081" stop-color="#6d77bb"/><stop offset="0.6100" stop-color="#8f95cb"/><stop offset="0.6120" stop-color="#969bce"/><stop offset="0.6139" stop-color="#8f95cb"/><stop offset="0.6159" stop-color="#7a82c1"/><stop offset="0.6179" stop-color="#737cbe"/><stop offset="0.6198" stop-color="#8188c4"/><stop offset="0.6218" stop-color="#888fc8"/><stop offset="0.6238" stop-color="#6d77bb"/><stop offset="0.6257" stop-color="#606eb6"/><stop offset="0.6277" stop-color="#606eb6"/><stop offset="0.6297" stop-color="#606eb6"/><stop offset="0.6316" stop-color="#606eb6"/><stop offset="0.6336" stop-color="#6772b8"/><stop offset="0.6356" stop-color="#6772b8"/><stop offset="0.6375" stop-color="#6d77bb"/><stop offset="0.6395" stop-color="#8188c4"/><stop offset="0.6415" stop-color="#8f95cb"/><stop offset="0.6434" stop-color="#8f95cb"/><stop offset="0.6454" stop-color="#8f95cb"/><stop offset="0.6473" stop-color="#969bce"/><stop offset="0.6493" stop-color="#abafd8"/><stop offset="0.6513" stop-color="#b5b9dc"/><stop offset="0.6532" stop-color="#abafd8"/><stop offset="0.6552" stop-color="#8188c4"/><stop offset="0.6572" stop-color="#5464b0"/><stop offset="0.6591" stop-color="#4e62af"/><stop offset="0.6611" stop-color="#5464b0"/><stop offset="0.6631" stop-color="#5464b0"/><stop offset="0.6650" stop-color="#5464b0"/><stop offset="0.6670" stop-color="#5464b0"/><stop offset="0.6690" stop-color="#5163af"/><stop offset="0.6709" stop-color="#5464b0"/><stop offset="0.6729" stop-color="#5163af"/><stop offset="0.6749" stop-color="#4e62af"/><stop offset="0.6768" stop-color="#5464b0"/><stop offset="0.6788" stop-color="#5464b0"/><stop offset="0.6807" stop-color="#5163af"/><stop offset="0.6827" stop-color="#5464b0"/><stop offset="0.6847" stop-color="#5a69b3"/><stop offset="0.6866" stop-color="#5a69b3"/><stop offset="0.6886" stop-color="#5a69b3"/><stop offset="0.6906" stop-color="#5a69b3"/><stop offset="0.6925" stop-color="#5a69b3"/><stop offset="0.6945" stop-color="#5a69b3"/><stop offset="0.6965" stop-color="#5464b0"/><stop offset="0.6984" stop-color="#5464b0"/><stop offset="0.7004" stop-color="#5464b0"/><stop offset="0.7024" stop-color="#5464b0"/><stop offset="0.7043" stop-color="#606eb6"/><stop offset="0.7063" stop-color="#5a69b3"/><stop offset="0.7083" stop-color="#5464b0"/><stop offset="0.7102" stop-color="#4e62af"/><stop offset="0.7122" stop-color="#5163af"/><stop offset="0.7141" stop-color="#5464b0"/><stop offset="0.7161" stop-color="#5a69b3"/><stop offset="0.7181" stop-color="#5a69b3"/><stop offset="0.7200" stop-color="#5a69b3"/><stop offset="0.7220" stop-color="#5a69b3"/><stop offset="0.7240" stop-color="#5a69b3"/><stop offset="0.7259" stop-color="#5464b0"/><stop offset="0.7279" stop-color="#5464b0"/><stop offset="0.7299" stop-color="#5a69b3"/><stop offset="0.7318" stop-color="#5464b0"/><stop offset="0.7338" stop-color="#5464b0"/><stop offset="0.7358" stop-color="#5163af"/><stop offset="0.7377" stop-color="#5464b0"/><stop offset="0.7397" stop-color="#5a69b3"/><stop offset="0.7417" stop-color="#5464b0"/><stop offset="0.7436" stop-color="#5163af"/><stop offset="0.7456" stop-color="#5464b0"/><stop offset="0.7475" stop-color="#5464b0"/><stop offset="0.7495" stop-color="#5464b0"/><stop offset="0.7515" stop-color="#5464b0"/><stop offset="0.7534" stop-color="#5464b0"/><stop offset="0.7554" stop-color="#5464b0"/><stop offset="0.7574" stop-color="#5a69b3"/><stop offset="0.7593" stop-color="#5a69b3"/><stop offset="0.7613" stop-color="#6d77bb"/><stop offset="0.7633" stop-color="#a0a5d3"/><stop offset="0.7652" stop-color="#d5d7eb"/><stop offset="0.7672" stop-color="#eaebf5"/><stop offset="0.7692" stop-color="#dfe1f0"/><stop offset="0.7711" stop-color="#cacde6"/><stop offset="0.7731" stop-color="#a0a5d3"/><stop offset="0.7750" stop-color="#a0a5d3"/><stop offset="0.7770" stop-color="#a0a5d3"/><stop offset="0.7790" stop-color="#8188c4"/><stop offset="0.7809" stop-color="#8188c4"/><stop offset="0.7829" stop-color="#8f95cb"/><stop offset="0.7849" stop-color="#8f95cb"/><stop offset="0.7868" stop-color="#8f95cb"/><stop offset="0.7888" stop-color="#a0a5d3"/><stop offset="0.7908" stop-color="#a0a5d3"/><stop offset="0.7927" stop-color="#b5b9dc"/><stop offset="0.7947" stop-color="#cacde6"/><stop offset="0.7967" stop-color="#cacde6"/><stop offset="0.7986" stop-color="#d5d7eb"/><stop offset="0.8006" stop-color="#d5d7eb"/><stop offset="0.8026" stop-color="#dfe1f0"/><stop offset="0.8045" stop-color="#eaebf5"/><stop offset="0.8065" stop-color="#eaebf5"/><stop offset="0.8084" stop-color="#dfe1f0"/><stop offset="0.8104" stop-color="#eaebf5"/><stop offset="0.8124" stop-color="#ffffff"/><stop offset="0.8143" stop-color="#ffffff"/><stop offset="0.8163" stop-color="#f4f5fa"/><stop offset="0.8183" stop-color="#eaebf5"/><stop offset="0.8202" stop-color="#dfe1f0"/><stop offset="0.8222" stop-color="#cacde6"/><stop offset="0.8242" stop-color="#969bce"/><stop offset="0.8261" stop-color="#8f95cb"/><stop offset="0.8281" stop-color="#a0a5d3"/><stop offset="0.8301" stop-color="#abafd8"/><stop offset="0.8320" stop-color="#8f95cb"/><stop offset="0.8340" stop-color="#737cbe"/><stop offset="0.8360" stop-color="#8188c4"/><stop offset="0.8379" stop-color="#b5b9dc"/><stop offset="0.8399" stop-color="#c0c3e1"/><stop offset="0.8418" stop-color="#8f95cb"/><stop offset="0.8438" stop-color="#8188c4"/><stop offset="0.8458" stop-color="#969bce"/><stop offset="0.8477" stop-color="#969bce"/><stop offset="0.8497" stop-color="#969bce"/><stop offset="0.8517" stop-color="#969bce"/><stop offset="0.8536" stop-color="#8f95cb"/><stop offset="0.8556" stop-color="#888fc8"/><stop offset="0.8576" stop-color="#888fc8"/><stop offset="0.8595" stop-color="#888fc8"/><stop offset="0.8615" stop-color="#7a82c1"/><stop offset="0.8635" stop-color="#7a82c1"/><stop offset="0.8654" stop-color="#969bce"/><stop offset="0.8674" stop-color="#969bce"/><stop offset="0.8694" stop-color="#888fc8"/><stop offset="0.8713" stop-color="#969bce"/><stop offset="0.8733" stop-color="#969bce"/><stop offset="0.8752" stop-color="#888fc8"/><stop offset="0.8772" stop-color="#888fc8"/><stop offset="0.8792" stop-color="#a0a5d3"/><stop offset="0.8811" stop-color="#969bce"/><stop offset="0.8831" stop-color="#8188c4"/><stop offset="0.8851" stop-color="#6772b8"/><stop offset="0.8870" stop-color="#5a69b3"/><stop offset="0.8890" stop-color="#5a69b3"/><stop offset="0.8910" stop-color="#5464b0"/><stop offset="0.8929" stop-color="#5464b0"/><stop offset="0.8949" stop-color="#5464b0"/><stop offset="0.8969" stop-color="#5163af"/><stop offset="0.8988" stop-color="#5163af"/><stop offset="0.9008" stop-color="#5163af"/><stop offset="0.9028" stop-color="#5163af"/><stop offset="0.9047" stop-color="#5163af"/><stop offset="0.9067" stop-color="#5163af"/><stop offset="0.9086" stop-color="#5464b0"/><stop offset="0.9106" stop-color="#5464b0"/><stop offset="0.9126" stop-color="#5464b0"/><stop offset="0.9145" stop-color="#5464b0"/><stop offset="0.9165" stop-color="#5464b0"/><stop offset="0.9185" stop-color="#5a69b3"/><stop offset="0.9204" stop-color="#5464b0"/><stop offset="0.9224" stop-color="#5464b0"/><stop offset="0.9244" stop-color="#5464b0"/><stop offset="0.9263" stop-color="#5163af"/><stop offset="0.9283" stop-color="#4e62af"/><stop offset="0.9303" stop-color="#5163af"/><stop offset="0.9322" stop-color="#5464b0"/><stop offset="0.9342" stop-color="#5464b0"/><stop offset="0.9361" stop-color="#5464b0"/><stop offset="0.9381" stop-color="#5a69b3"/><stop offset="0.9401" stop-color="#5a69b3"/><stop offset="0.9420" stop-color="#5a69b3"/><stop offset="0.9440" stop-color="#5a69b3"/><stop offset="0.9460" stop-color="#4e62af"/><stop offset="0.9479" stop-color="#465eac"/><stop offset="0.9499" stop-color="#405cab"/><stop offset="0.9519" stop-color="#405cab"/><stop offset="0.9538" stop-color="#405cab"/><stop offset="0.9558" stop-color="#405cab"/><stop offset="0.9578" stop-color="#405cab"/><stop offset="0.9597" stop-color="#405cab"/><stop offset="0.9617" stop-color="#405cab"/><stop offset="0.9637" stop-color="#405cab"/><stop offset="0.9656" stop-color="#405cab"/><stop offset="0.9676" stop-color="#435dac"/><stop offset="0.9695" stop-color="#435dac"/><stop offset="0.9715" stop-color="#405cab"/><stop offset="0.9735" stop-color="#3d5baa"/><stop offset="0.9754" stop-color="#405cab"/><stop offset="0.9774" stop-color="#5464b0"/><stop offset="0.9794" stop-color="#c0c3e1"/><stop offset="0.9813" stop-color="#d5d7eb"/><stop offset="0.9833" stop-color="#888fc8"/><stop offset="0.9853" stop-color="#6d77bb"/><stop offset="0.9872" stop-color="#6772b8"/><stop offset="0.9892" stop-color="#606eb6"/><stop offset="0.9912" stop-color="#5a69b3"/><stop offset="0.9931" stop-color="#6772b8"/><stop offset="0.9951" stop-color="#6d77bb"/><stop offset="0.9971" stop-color="#6772b8"/><stop offset="0.9990" stop-color="#606eb6"/></linearGradient><linearGradient id="hA2" x1="0" y1="0" x2="0" y2="1"><stop offset="0.0010" stop-color="#4860ad"/><stop offset="0.0029" stop-color="#4860ad"/><stop offset="0.0049" stop-color="#465eac"/><stop offset="0.0069" stop-color="#4860ad"/><stop offset="0.0088" stop-color="#4e62af"/><stop offset="0.0108" stop-color="#5464b0"/><stop offset="0.0128" stop-color="#606eb6"/><stop offset="0.0147" stop-color="#5a69b3"/><stop offset="0.0167" stop-color="#5a69b3"/><stop offset="0.0187" stop-color="#5a69b3"/><stop offset="0.0206" stop-color="#606eb6"/><stop offset="0.0226" stop-color="#606eb6"/><stop offset="0.0246" stop-color="#6772b8"/><stop offset="0.0265" stop-color="#6772b8"/><stop offset="0.0285" stop-color="#5464b0"/><stop offset="0.0305" stop-color="#5464b0"/><stop offset="0.0324" stop-color="#606eb6"/><stop offset="0.0344" stop-color="#6772b8"/><stop offset="0.0363" stop-color="#6772b8"/><stop offset="0.0383" stop-color="#606eb6"/><stop offset="0.0403" stop-color="#5a69b3"/><stop offset="0.0422" stop-color="#5a69b3"/><stop offset="0.0442" stop-color="#5a69b3"/><stop offset="0.0462" stop-color="#5464b0"/><stop offset="0.0481" stop-color="#5163af"/><stop offset="0.0501" stop-color="#5a69b3"/><stop offset="0.0521" stop-color="#6772b8"/><stop offset="0.0540" stop-color="#6772b8"/><stop offset="0.0560" stop-color="#5a69b3"/><stop offset="0.0580" stop-color="#5464b0"/><stop offset="0.0599" stop-color="#5a69b3"/><stop offset="0.0619" stop-color="#5a69b3"/><stop offset="0.0639" stop-color="#606eb6"/><stop offset="0.0658" stop-color="#5a69b3"/><stop offset="0.0678" stop-color="#5a69b3"/><stop offset="0.0697" stop-color="#606eb6"/><stop offset="0.0717" stop-color="#6d77bb"/><stop offset="0.0737" stop-color="#6d77bb"/><stop offset="0.0756" stop-color="#6d77bb"/><stop offset="0.0776" stop-color="#6d77bb"/><stop offset="0.0796" stop-color="#5a69b3"/><stop offset="0.0815" stop-color="#435dac"/><stop offset="0.0835" stop-color="#3759a9"/><stop offset="0.0855" stop-color="#3759a9"/><stop offset="0.0874" stop-color="#3759a9"/><stop offset="0.0894" stop-color="#3a5aaa"/><stop offset="0.0914" stop-color="#3a5aaa"/><stop offset="0.0933" stop-color="#3a5aaa"/><stop offset="0.0953" stop-color="#3a5aaa"/><stop offset="0.0972" stop-color="#3a5aaa"/><stop offset="0.0992" stop-color="#3a5aaa"/><stop offset="0.1012" stop-color="#3a5aaa"/><stop offset="0.1031" stop-color="#3759a9"/><stop offset="0.1051" stop-color="#3a5aaa"/><stop offset="0.1071" stop-color="#3a5aaa"/><stop offset="0.1090" stop-color="#3a5aaa"/><stop offset="0.1110" stop-color="#3a5aaa"/><stop offset="0.1130" stop-color="#3a5aaa"/><stop offset="0.1149" stop-color="#3a5aaa"/><stop offset="0.1169" stop-color="#3a5aaa"/><stop offset="0.1189" stop-color="#3a5aaa"/><stop offset="0.1208" stop-color="#3a5aaa"/><stop offset="0.1228" stop-color="#405cab"/><stop offset="0.1248" stop-color="#465eac"/><stop offset="0.1267" stop-color="#4860ad"/><stop offset="0.1287" stop-color="#465eac"/><stop offset="0.1306" stop-color="#465eac"/><stop offset="0.1326" stop-color="#465eac"/><stop offset="0.1346" stop-color="#4b61ae"/><stop offset="0.1365" stop-color="#4b61ae"/><stop offset="0.1385" stop-color="#4860ad"/><stop offset="0.1405" stop-color="#4860ad"/><stop offset="0.1424" stop-color="#4860ad"/><stop offset="0.1444" stop-color="#4b61ae"/><stop offset="0.1464" stop-color="#4860ad"/><stop offset="0.1483" stop-color="#465eac"/><stop offset="0.1503" stop-color="#465eac"/><stop offset="0.1523" stop-color="#4860ad"/><stop offset="0.1542" stop-color="#4860ad"/><stop offset="0.1562" stop-color="#4860ad"/><stop offset="0.1582" stop-color="#465eac"/><stop offset="0.1601" stop-color="#465eac"/><stop offset="0.1621" stop-color="#465eac"/><stop offset="0.1640" stop-color="#465eac"/><stop offset="0.1660" stop-color="#4860ad"/><stop offset="0.1680" stop-color="#4860ad"/><stop offset="0.1699" stop-color="#4860ad"/><stop offset="0.1719" stop-color="#4b61ae"/><stop offset="0.1739" stop-color="#4b61ae"/><stop offset="0.1758" stop-color="#4860ad"/><stop offset="0.1778" stop-color="#465eac"/><stop offset="0.1798" stop-color="#4860ad"/><stop offset="0.1817" stop-color="#4b61ae"/><stop offset="0.1837" stop-color="#4b61ae"/><stop offset="0.1857" stop-color="#4860ad"/><stop offset="0.1876" stop-color="#5464b0"/><stop offset="0.1896" stop-color="#888fc8"/><stop offset="0.1916" stop-color="#abafd8"/><stop offset="0.1935" stop-color="#b5b9dc"/><stop offset="0.1955" stop-color="#b5b9dc"/><stop offset="0.1974" stop-color="#a0a5d3"/><stop offset="0.1994" stop-color="#a0a5d3"/><stop offset="0.2014" stop-color="#8f95cb"/><stop offset="0.2033" stop-color="#6d77bb"/><stop offset="0.2053" stop-color="#606eb6"/><stop offset="0.2073" stop-color="#6d77bb"/><stop offset="0.2092" stop-color="#737cbe"/><stop offset="0.2112" stop-color="#6d77bb"/><stop offset="0.2132" stop-color="#606eb6"/><stop offset="0.2151" stop-color="#606eb6"/><stop offset="0.2171" stop-color="#6772b8"/><stop offset="0.2191" stop-color="#6772b8"/><stop offset="0.2210" stop-color="#606eb6"/><stop offset="0.2230" stop-color="#5a69b3"/><stop offset="0.2250" stop-color="#5a69b3"/><stop offset="0.2269" stop-color="#5a69b3"/><stop offset="0.2289" stop-color="#606eb6"/><stop offset="0.2308" stop-color="#6772b8"/><stop offset="0.2328" stop-color="#6772b8"/><stop offset="0.2348" stop-color="#606eb6"/><stop offset="0.2367" stop-color="#606eb6"/><stop offset="0.2387" stop-color="#6772b8"/><stop offset="0.2407" stop-color="#5a69b3"/><stop offset="0.2426" stop-color="#606eb6"/><stop offset="0.2446" stop-color="#7a82c1"/><stop offset="0.2466" stop-color="#8188c4"/><stop offset="0.2485" stop-color="#8188c4"/><stop offset="0.2505" stop-color="#8f95cb"/><stop offset="0.2525" stop-color="#8f95cb"/><stop offset="0.2544" stop-color="#888fc8"/><stop offset="0.2564" stop-color="#969bce"/><stop offset="0.2583" stop-color="#b5b9dc"/><stop offset="0.2603" stop-color="#b5b9dc"/><stop offset="0.2623" stop-color="#969bce"/><stop offset="0.2642" stop-color="#969bce"/><stop offset="0.2662" stop-color="#969bce"/><stop offset="0.2682" stop-color="#a0a5d3"/><stop offset="0.2701" stop-color="#a0a5d3"/><stop offset="0.2721" stop-color="#888fc8"/><stop offset="0.2741" stop-color="#737cbe"/><stop offset="0.2760" stop-color="#8188c4"/><stop offset="0.2780" stop-color="#8f95cb"/><stop offset="0.2800" stop-color="#969bce"/><stop offset="0.2819" stop-color="#969bce"/><stop offset="0.2839" stop-color="#abafd8"/><stop offset="0.2859" stop-color="#b5b9dc"/><stop offset="0.2878" stop-color="#7a82c1"/><stop offset="0.2898" stop-color="#606eb6"/><stop offset="0.2917" stop-color="#5a69b3"/><stop offset="0.2937" stop-color="#5464b0"/><stop offset="0.2957" stop-color="#606eb6"/><stop offset="0.2976" stop-color="#6772b8"/><stop offset="0.2996" stop-color="#6772b8"/><stop offset="0.3016" stop-color="#5a69b3"/><stop offset="0.3035" stop-color="#606eb6"/><stop offset="0.3055" stop-color="#6d77bb"/><stop offset="0.3075" stop-color="#6d77bb"/><stop offset="0.3094" stop-color="#6d77bb"/><stop offset="0.3114" stop-color="#7a82c1"/><stop offset="0.3134" stop-color="#969bce"/><stop offset="0.3153" stop-color="#abafd8"/><stop offset="0.3173" stop-color="#a0a5d3"/><stop offset="0.3193" stop-color="#8f95cb"/><stop offset="0.3212" stop-color="#969bce"/><stop offset="0.3232" stop-color="#a0a5d3"/><stop offset="0.3251" stop-color="#a0a5d3"/><stop offset="0.3271" stop-color="#8f95cb"/><stop offset="0.3291" stop-color="#8f95cb"/><stop offset="0.3310" stop-color="#8f95cb"/><stop offset="0.3330" stop-color="#888fc8"/><stop offset="0.3350" stop-color="#8188c4"/><stop offset="0.3369" stop-color="#7a82c1"/><stop offset="0.3389" stop-color="#7a82c1"/><stop offset="0.3409" stop-color="#8188c4"/><stop offset="0.3428" stop-color="#8f95cb"/><stop offset="0.3448" stop-color="#8f95cb"/><stop offset="0.3468" stop-color="#888fc8"/><stop offset="0.3487" stop-color="#969bce"/><stop offset="0.3507" stop-color="#8f95cb"/><stop offset="0.3527" stop-color="#8188c4"/><stop offset="0.3546" stop-color="#8f95cb"/><stop offset="0.3566" stop-color="#888fc8"/><stop offset="0.3585" stop-color="#7a82c1"/><stop offset="0.3605" stop-color="#6d77bb"/><stop offset="0.3625" stop-color="#6d77bb"/><stop offset="0.3644" stop-color="#737cbe"/><stop offset="0.3664" stop-color="#737cbe"/><stop offset="0.3684" stop-color="#737cbe"/><stop offset="0.3703" stop-color="#737cbe"/><stop offset="0.3723" stop-color="#6772b8"/><stop offset="0.3743" stop-color="#606eb6"/><stop offset="0.3762" stop-color="#606eb6"/><stop offset="0.3782" stop-color="#6772b8"/><stop offset="0.3802" stop-color="#6d77bb"/><stop offset="0.3821" stop-color="#6d77bb"/><stop offset="0.3841" stop-color="#737cbe"/><stop offset="0.3861" stop-color="#6d77bb"/><stop offset="0.3880" stop-color="#6772b8"/><stop offset="0.3900" stop-color="#888fc8"/><stop offset="0.3919" stop-color="#d5d7eb"/><stop offset="0.3939" stop-color="#ffffff"/><stop offset="0.3959" stop-color="#f4f5fa"/><stop offset="0.3978" stop-color="#f4f5fa"/><stop offset="0.3998" stop-color="#ffffff"/><stop offset="0.4018" stop-color="#f4f5fa"/><stop offset="0.4037" stop-color="#f4f5fa"/><stop offset="0.4057" stop-color="#ffffff"/><stop offset="0.4077" stop-color="#f4f5fa"/><stop offset="0.4096" stop-color="#eaebf5"/><stop offset="0.4116" stop-color="#eaebf5"/><stop offset="0.4136" stop-color="#f4f5fa"/><stop offset="0.4155" stop-color="#eaebf5"/><stop offset="0.4175" stop-color="#d5d7eb"/><stop offset="0.4194" stop-color="#dfe1f0"/><stop offset="0.4214" stop-color="#eaebf5"/><stop offset="0.4234" stop-color="#f4f5fa"/><stop offset="0.4253" stop-color="#eaebf5"/><stop offset="0.4273" stop-color="#eaebf5"/><stop offset="0.4293" stop-color="#eaebf5"/><stop offset="0.4312" stop-color="#eaebf5"/><stop offset="0.4332" stop-color="#eaebf5"/><stop offset="0.4352" stop-color="#eaebf5"/><stop offset="0.4371" stop-color="#f4f5fa"/><stop offset="0.4391" stop-color="#f4f5fa"/><stop offset="0.4411" stop-color="#d5d7eb"/><stop offset="0.4430" stop-color="#cacde6"/><stop offset="0.4450" stop-color="#eaebf5"/><stop offset="0.4470" stop-color="#eaebf5"/><stop offset="0.4489" stop-color="#d5d7eb"/><stop offset="0.4509" stop-color="#dfe1f0"/><stop offset="0.4528" stop-color="#ffffff"/><stop offset="0.4548" stop-color="#f4f5fa"/><stop offset="0.4568" stop-color="#eaebf5"/><stop offset="0.4587" stop-color="#f4f5fa"/><stop offset="0.4607" stop-color="#fef7f7"/><stop offset="0.4627" stop-color="#fef7f7"/><stop offset="0.4646" stop-color="#ffffff"/><stop offset="0.4666" stop-color="#f4f5fa"/><stop offset="0.4686" stop-color="#dfe1f0"/><stop offset="0.4705" stop-color="#dfe1f0"/><stop offset="0.4725" stop-color="#ffffff"/><stop offset="0.4745" stop-color="#fef7f7"/><stop offset="0.4764" stop-color="#fdefef"/><stop offset="0.4784" stop-color="#ffffff"/><stop offset="0.4804" stop-color="#cacde6"/><stop offset="0.4823" stop-color="#969bce"/><stop offset="0.4843" stop-color="#8f95cb"/><stop offset="0.4862" stop-color="#969bce"/><stop offset="0.4882" stop-color="#969bce"/><stop offset="0.4902" stop-color="#abafd8"/><stop offset="0.4921" stop-color="#abafd8"/><stop offset="0.4941" stop-color="#a0a5d3"/><stop offset="0.4961" stop-color="#a0a5d3"/><stop offset="0.4980" stop-color="#a0a5d3"/><stop offset="0.5000" stop-color="#abafd8"/><stop offset="0.5020" stop-color="#b5b9dc"/><stop offset="0.5039" stop-color="#abafd8"/><stop offset="0.5059" stop-color="#969bce"/><stop offset="0.5079" stop-color="#969bce"/><stop offset="0.5098" stop-color="#abafd8"/><stop offset="0.5118" stop-color="#b5b9dc"/><stop offset="0.5138" stop-color="#abafd8"/><stop offset="0.5157" stop-color="#969bce"/><stop offset="0.5177" stop-color="#969bce"/><stop offset="0.5196" stop-color="#969bce"/><stop offset="0.5216" stop-color="#8f95cb"/><stop offset="0.5236" stop-color="#969bce"/><stop offset="0.5255" stop-color="#abafd8"/><stop offset="0.5275" stop-color="#c0c3e1"/><stop offset="0.5295" stop-color="#fbe6e6"/><stop offset="0.5314" stop-color="#eb5659"/><stop offset="0.5334" stop-color="#e82c2f"/><stop offset="0.5354" stop-color="#e8282b"/><stop offset="0.5373" stop-color="#e8282b"/><stop offset="0.5393" stop-color="#e8282b"/><stop offset="0.5413" stop-color="#e82c2f"/><stop offset="0.5432" stop-color="#e8282b"/><stop offset="0.5452" stop-color="#e8282b"/><stop offset="0.5472" stop-color="#e8282b"/><stop offset="0.5491" stop-color="#e8282b"/><stop offset="0.5511" stop-color="#e8282b"/><stop offset="0.5530" stop-color="#e8282b"/><stop offset="0.5550" stop-color="#e82c2f"/><stop offset="0.5570" stop-color="#e82c2f"/><stop offset="0.5589" stop-color="#e82c2f"/><stop offset="0.5609" stop-color="#e83134"/><stop offset="0.5629" stop-color="#e93e41"/><stop offset="0.5648" stop-color="#e94447"/><stop offset="0.5668" stop-color="#ea4a4d"/><stop offset="0.5688" stop-color="#ea4a4d"/><stop offset="0.5707" stop-color="#e94447"/><stop offset="0.5727" stop-color="#e94447"/><stop offset="0.5747" stop-color="#e93e41"/><stop offset="0.5766" stop-color="#e93e41"/><stop offset="0.5786" stop-color="#e93e41"/><stop offset="0.5806" stop-color="#e93e41"/><stop offset="0.5825" stop-color="#e93e41"/><stop offset="0.5845" stop-color="#e93e41"/><stop offset="0.5864" stop-color="#e93e41"/><stop offset="0.5884" stop-color="#e94447"/><stop offset="0.5904" stop-color="#ea4a4d"/><stop offset="0.5923" stop-color="#ea4a4d"/><stop offset="0.5943" stop-color="#e94447"/><stop offset="0.5963" stop-color="#e93e41"/><stop offset="0.5982" stop-color="#e93e41"/><stop offset="0.6002" stop-color="#e94447"/><stop offset="0.6022" stop-color="#e94447"/><stop offset="0.6041" stop-color="#ea4a4d"/><stop offset="0.6061" stop-color="#e94447"/><stop offset="0.6081" stop-color="#e93538"/><stop offset="0.6100" stop-color="#e82c2f"/><stop offset="0.6120" stop-color="#e83134"/><stop offset="0.6139" stop-color="#e83134"/><stop offset="0.6159" stop-color="#e82c2f"/><stop offset="0.6179" stop-color="#e82c2f"/><stop offset="0.6198" stop-color="#e82c2f"/><stop offset="0.6218" stop-color="#e82c2f"/><stop offset="0.6238" stop-color="#e82c2f"/><stop offset="0.6257" stop-color="#e82c2f"/><stop offset="0.6277" stop-color="#e82c2f"/><stop offset="0.6297" stop-color="#e83134"/><stop offset="0.6316" stop-color="#e93e41"/><stop offset="0.6336" stop-color="#eb5c5f"/><stop offset="0.6356" stop-color="#ed7376"/><stop offset="0.6375" stop-color="#ee7a7d"/><stop offset="0.6395" stop-color="#ef8285"/><stop offset="0.6415" stop-color="#ee7a7d"/><stop offset="0.6434" stop-color="#ee7a7d"/><stop offset="0.6454" stop-color="#ed7376"/><stop offset="0.6473" stop-color="#ee7a7d"/><stop offset="0.6493" stop-color="#ee7a7d"/><stop offset="0.6513" stop-color="#ee7a7d"/><stop offset="0.6532" stop-color="#ed7376"/><stop offset="0.6552" stop-color="#eb5c5f"/><stop offset="0.6572" stop-color="#ea5053"/><stop offset="0.6591" stop-color="#ea5053"/><stop offset="0.6611" stop-color="#eb5659"/><stop offset="0.6631" stop-color="#eb5c5f"/><stop offset="0.6650" stop-color="#eb5c5f"/><stop offset="0.6670" stop-color="#eb5c5f"/><stop offset="0.6690" stop-color="#eb5c5f"/><stop offset="0.6709" stop-color="#eb5659"/><stop offset="0.6729" stop-color="#eb5659"/><stop offset="0.6749" stop-color="#eb5c5f"/><stop offset="0.6768" stop-color="#ec6467"/><stop offset="0.6788" stop-color="#ec6467"/><stop offset="0.6807" stop-color="#eb5659"/><stop offset="0.6827" stop-color="#ea4a4d"/><stop offset="0.6847" stop-color="#ea5053"/><stop offset="0.6866" stop-color="#ec6467"/><stop offset="0.6886" stop-color="#ec6467"/><stop offset="0.6906" stop-color="#eb5659"/><stop offset="0.6925" stop-color="#ea5053"/><stop offset="0.6945" stop-color="#ea5053"/><stop offset="0.6965" stop-color="#ea4a4d"/><stop offset="0.6984" stop-color="#ea4a4d"/><stop offset="0.7004" stop-color="#ea4a4d"/><stop offset="0.7024" stop-color="#ea5053"/><stop offset="0.7043" stop-color="#ea5053"/><stop offset="0.7063" stop-color="#ea5053"/><stop offset="0.7083" stop-color="#eb5c5f"/><stop offset="0.7102" stop-color="#eb5659"/><stop offset="0.7122" stop-color="#ea4a4d"/><stop offset="0.7141" stop-color="#e94447"/><stop offset="0.7161" stop-color="#e93e41"/><stop offset="0.7181" stop-color="#e94447"/><stop offset="0.7200" stop-color="#e94447"/><stop offset="0.7220" stop-color="#e93e41"/><stop offset="0.7240" stop-color="#e93a3d"/><stop offset="0.7259" stop-color="#e93e41"/><stop offset="0.7279" stop-color="#e93e41"/><stop offset="0.7299" stop-color="#e93a3d"/><stop offset="0.7318" stop-color="#e93538"/><stop offset="0.7338" stop-color="#e93538"/><stop offset="0.7358" stop-color="#e93e41"/><stop offset="0.7377" stop-color="#e93e41"/><stop offset="0.7397" stop-color="#e93e41"/><stop offset="0.7417" stop-color="#e93a3d"/><stop offset="0.7436" stop-color="#e93a3d"/><stop offset="0.7456" stop-color="#e93e41"/><stop offset="0.7475" stop-color="#e94447"/><stop offset="0.7495" stop-color="#e93e41"/><stop offset="0.7515" stop-color="#e93e41"/><stop offset="0.7534" stop-color="#e93e41"/><stop offset="0.7554" stop-color="#e93a3d"/><stop offset="0.7574" stop-color="#e93a3d"/><stop offset="0.7593" stop-color="#e93a3d"/><stop offset="0.7613" stop-color="#e93e41"/><stop offset="0.7633" stop-color="#e93e41"/><stop offset="0.7652" stop-color="#e93a3d"/><stop offset="0.7672" stop-color="#e93e41"/><stop offset="0.7692" stop-color="#e93e41"/><stop offset="0.7711" stop-color="#e93a3d"/><stop offset="0.7731" stop-color="#e93a3d"/><stop offset="0.7750" stop-color="#e93e41"/><stop offset="0.7770" stop-color="#e94447"/><stop offset="0.7790" stop-color="#e94447"/><stop offset="0.7809" stop-color="#e93e41"/><stop offset="0.7829" stop-color="#e93a3d"/><stop offset="0.7849" stop-color="#e93a3d"/><stop offset="0.7868" stop-color="#e93e41"/><stop offset="0.7888" stop-color="#e93e41"/><stop offset="0.7908" stop-color="#ea5053"/><stop offset="0.7927" stop-color="#ef8285"/><stop offset="0.7947" stop-color="#f19a9c"/><stop offset="0.7967" stop-color="#f19295"/><stop offset="0.7986" stop-color="#f19295"/><stop offset="0.8006" stop-color="#f19295"/><stop offset="0.8026" stop-color="#f08a8d"/><stop offset="0.8045" stop-color="#f19295"/><stop offset="0.8065" stop-color="#f19295"/><stop offset="0.8084" stop-color="#f19295"/><stop offset="0.8104" stop-color="#f3aaac"/><stop offset="0.8124" stop-color="#f9d6d6"/><stop offset="0.8143" stop-color="#fdefef"/><stop offset="0.8163" stop-color="#fadede"/><stop offset="0.8183" stop-color="#f9d6d6"/><stop offset="0.8202" stop-color="#fadede"/><stop offset="0.8222" stop-color="#fbe6e6"/><stop offset="0.8242" stop-color="#fbe6e6"/><stop offset="0.8261" stop-color="#fbe6e6"/><stop offset="0.8281" stop-color="#fbe6e6"/><stop offset="0.8301" stop-color="#fdefef"/><stop offset="0.8320" stop-color="#fef7f7"/><stop offset="0.8340" stop-color="#eaebf5"/><stop offset="0.8360" stop-color="#d5d7eb"/><stop offset="0.8379" stop-color="#dfe1f0"/><stop offset="0.8399" stop-color="#dfe1f0"/><stop offset="0.8418" stop-color="#fdefef"/><stop offset="0.8438" stop-color="#f2a2a4"/><stop offset="0.8458" stop-color="#ef8285"/><stop offset="0.8477" stop-color="#f08a8d"/><stop offset="0.8497" stop-color="#ef8285"/><stop offset="0.8517" stop-color="#ee7a7d"/><stop offset="0.8536" stop-color="#f08a8d"/><stop offset="0.8556" stop-color="#ef8285"/><stop offset="0.8576" stop-color="#ed7376"/><stop offset="0.8595" stop-color="#ef8285"/><stop offset="0.8615" stop-color="#f19295"/><stop offset="0.8635" stop-color="#f19295"/><stop offset="0.8654" stop-color="#f08a8d"/><stop offset="0.8674" stop-color="#f08a8d"/><stop offset="0.8694" stop-color="#ef8285"/><stop offset="0.8713" stop-color="#ee7a7d"/><stop offset="0.8733" stop-color="#f08a8d"/><stop offset="0.8752" stop-color="#f08a8d"/><stop offset="0.8772" stop-color="#f19a9c"/><stop offset="0.8792" stop-color="#f3aaac"/><stop offset="0.8811" stop-color="#f19a9c"/><stop offset="0.8831" stop-color="#f19a9c"/><stop offset="0.8851" stop-color="#f5bcbd"/><stop offset="0.8870" stop-color="#f8cdce"/><stop offset="0.8890" stop-color="#f9d6d6"/><stop offset="0.8910" stop-color="#f8cdce"/><stop offset="0.8929" stop-color="#f7c4c5"/><stop offset="0.8949" stop-color="#f7c4c5"/><stop offset="0.8969" stop-color="#f3aaac"/><stop offset="0.8988" stop-color="#f2a2a4"/><stop offset="0.9008" stop-color="#f5bcbd"/><stop offset="0.9028" stop-color="#f8cdce"/><stop offset="0.9047" stop-color="#f7c4c5"/><stop offset="0.9067" stop-color="#f5bcbd"/><stop offset="0.9086" stop-color="#f5bcbd"/><stop offset="0.9106" stop-color="#f5bcbd"/><stop offset="0.9126" stop-color="#f3aaac"/><stop offset="0.9145" stop-color="#f3aaac"/><stop offset="0.9165" stop-color="#f4b3b4"/><stop offset="0.9185" stop-color="#f4b3b4"/><stop offset="0.9204" stop-color="#f5bcbd"/><stop offset="0.9224" stop-color="#f5bcbd"/><stop offset="0.9244" stop-color="#f7c4c5"/><stop offset="0.9263" stop-color="#f7c4c5"/><stop offset="0.9283" stop-color="#f8cdce"/><stop offset="0.9303" stop-color="#f5bcbd"/><stop offset="0.9322" stop-color="#f19a9c"/><stop offset="0.9342" stop-color="#f3aaac"/><stop offset="0.9361" stop-color="#f7c4c5"/><stop offset="0.9381" stop-color="#f5bcbd"/><stop offset="0.9401" stop-color="#f7c4c5"/><stop offset="0.9420" stop-color="#f9d6d6"/><stop offset="0.9440" stop-color="#f7c4c5"/><stop offset="0.9460" stop-color="#f19a9c"/><stop offset="0.9479" stop-color="#ee7a7d"/><stop offset="0.9499" stop-color="#ee7a7d"/><stop offset="0.9519" stop-color="#f08a8d"/><stop offset="0.9538" stop-color="#ef8285"/><stop offset="0.9558" stop-color="#ed7376"/><stop offset="0.9578" stop-color="#ed7376"/><stop offset="0.9597" stop-color="#f08a8d"/><stop offset="0.9617" stop-color="#f19a9c"/><stop offset="0.9637" stop-color="#ef8285"/><stop offset="0.9656" stop-color="#ed6b6e"/><stop offset="0.9676" stop-color="#ee7a7d"/><stop offset="0.9695" stop-color="#ee7a7d"/><stop offset="0.9715" stop-color="#ee7a7d"/><stop offset="0.9735" stop-color="#ee7a7d"/><stop offset="0.9754" stop-color="#ef8285"/><stop offset="0.9774" stop-color="#f8cdce"/><stop offset="0.9794" stop-color="#a0a5d3"/><stop offset="0.9813" stop-color="#737cbe"/><stop offset="0.9833" stop-color="#8f95cb"/><stop offset="0.9853" stop-color="#dfe1f0"/><stop offset="0.9872" stop-color="#ffffff"/><stop offset="0.9892" stop-color="#fef7f7"/><stop offset="0.9912" stop-color="#fdefef"/><stop offset="0.9931" stop-color="#fdefef"/><stop offset="0.9951" stop-color="#fef7f7"/><stop offset="0.9971" stop-color="#fdefef"/><stop offset="0.9990" stop-color="#fbe6e6"/></linearGradient><linearGradient id="hA3" x1="0" y1="0" x2="0" y2="1"><stop offset="0.0010" stop-color="#d5d7eb"/><stop offset="0.0029" stop-color="#dfe1f0"/><stop offset="0.0049" stop-color="#d5d7eb"/><stop offset="0.0069" stop-color="#abafd8"/><stop offset="0.0088" stop-color="#737cbe"/><stop offset="0.0108" stop-color="#5a69b3"/><stop offset="0.0128" stop-color="#5a69b3"/><stop offset="0.0147" stop-color="#606eb6"/><stop offset="0.0167" stop-color="#5a69b3"/><stop offset="0.0187" stop-color="#606eb6"/><stop offset="0.0206" stop-color="#6d77bb"/><stop offset="0.0226" stop-color="#6d77bb"/><stop offset="0.0246" stop-color="#6d77bb"/><stop offset="0.0265" stop-color="#606eb6"/><stop offset="0.0285" stop-color="#606eb6"/><stop offset="0.0305" stop-color="#6d77bb"/><stop offset="0.0324" stop-color="#737cbe"/><stop offset="0.0344" stop-color="#6d77bb"/><stop offset="0.0363" stop-color="#737cbe"/><stop offset="0.0383" stop-color="#888fc8"/><stop offset="0.0403" stop-color="#8f95cb"/><stop offset="0.0422" stop-color="#8f95cb"/><stop offset="0.0442" stop-color="#8f95cb"/><stop offset="0.0462" stop-color="#8f95cb"/><stop offset="0.0481" stop-color="#7a82c1"/><stop offset="0.0501" stop-color="#6772b8"/><stop offset="0.0521" stop-color="#6d77bb"/><stop offset="0.0540" stop-color="#8188c4"/><stop offset="0.0560" stop-color="#7a82c1"/><stop offset="0.0580" stop-color="#6772b8"/><stop offset="0.0599" stop-color="#6d77bb"/><stop offset="0.0619" stop-color="#6d77bb"/><stop offset="0.0639" stop-color="#6d77bb"/><stop offset="0.0658" stop-color="#737cbe"/><stop offset="0.0678" stop-color="#737cbe"/><stop offset="0.0697" stop-color="#737cbe"/><stop offset="0.0717" stop-color="#7a82c1"/><stop offset="0.0737" stop-color="#888fc8"/><stop offset="0.0756" stop-color="#888fc8"/><stop offset="0.0776" stop-color="#8f95cb"/><stop offset="0.0796" stop-color="#c0c3e1"/><stop offset="0.0815" stop-color="#fdefef"/><stop offset="0.0835" stop-color="#f8cdce"/><stop offset="0.0855" stop-color="#fbe6e6"/><stop offset="0.0874" stop-color="#eaebf5"/><stop offset="0.0894" stop-color="#d5d7eb"/><stop offset="0.0914" stop-color="#cacde6"/><stop offset="0.0933" stop-color="#cacde6"/><stop offset="0.0953" stop-color="#cacde6"/><stop offset="0.0972" stop-color="#d5d7eb"/><stop offset="0.0992" stop-color="#dfe1f0"/><stop offset="0.1012" stop-color="#dfe1f0"/><stop offset="0.1031" stop-color="#eaebf5"/><stop offset="0.1051" stop-color="#f4f5fa"/><stop offset="0.1071" stop-color="#ffffff"/><stop offset="0.1090" stop-color="#fef7f7"/><stop offset="0.1110" stop-color="#fef7f7"/><stop offset="0.1130" stop-color="#fef7f7"/><stop offset="0.1149" stop-color="#eaebf5"/><stop offset="0.1169" stop-color="#abafd8"/><stop offset="0.1189" stop-color="#8f95cb"/><stop offset="0.1208" stop-color="#969bce"/><stop offset="0.1228" stop-color="#a0a5d3"/><stop offset="0.1248" stop-color="#a0a5d3"/><stop offset="0.1267" stop-color="#8f95cb"/><stop offset="0.1287" stop-color="#7a82c1"/><stop offset="0.1306" stop-color="#8188c4"/><stop offset="0.1326" stop-color="#a0a5d3"/><stop offset="0.1346" stop-color="#969bce"/><stop offset="0.1365" stop-color="#8f95cb"/><stop offset="0.1385" stop-color="#969bce"/><stop offset="0.1405" stop-color="#8f95cb"/><stop offset="0.1424" stop-color="#8f95cb"/><stop offset="0.1444" stop-color="#969bce"/><stop offset="0.1464" stop-color="#abafd8"/><stop offset="0.1483" stop-color="#b5b9dc"/><stop offset="0.1503" stop-color="#cacde6"/><stop offset="0.1523" stop-color="#dfe1f0"/><stop offset="0.1542" stop-color="#eaebf5"/><stop offset="0.1562" stop-color="#eaebf5"/><stop offset="0.1582" stop-color="#d5d7eb"/><stop offset="0.1601" stop-color="#c0c3e1"/><stop offset="0.1621" stop-color="#b5b9dc"/><stop offset="0.1640" stop-color="#abafd8"/><stop offset="0.1660" stop-color="#a0a5d3"/><stop offset="0.1680" stop-color="#a0a5d3"/><stop offset="0.1699" stop-color="#b5b9dc"/><stop offset="0.1719" stop-color="#d5d7eb"/><stop offset="0.1739" stop-color="#dfe1f0"/><stop offset="0.1758" stop-color="#cacde6"/><stop offset="0.1778" stop-color="#c0c3e1"/><stop offset="0.1798" stop-color="#cacde6"/><stop offset="0.1817" stop-color="#cacde6"/><stop offset="0.1837" stop-color="#c0c3e1"/><stop offset="0.1857" stop-color="#b5b9dc"/><stop offset="0.1876" stop-color="#888fc8"/><stop offset="0.1896" stop-color="#5a69b3"/><stop offset="0.1916" stop-color="#5163af"/><stop offset="0.1935" stop-color="#5163af"/><stop offset="0.1955" stop-color="#5464b0"/><stop offset="0.1974" stop-color="#606eb6"/><stop offset="0.1994" stop-color="#6772b8"/><stop offset="0.2014" stop-color="#6772b8"/><stop offset="0.2033" stop-color="#606eb6"/><stop offset="0.2053" stop-color="#606eb6"/><stop offset="0.2073" stop-color="#606eb6"/><stop offset="0.2092" stop-color="#6d77bb"/><stop offset="0.2112" stop-color="#6d77bb"/><stop offset="0.2132" stop-color="#6d77bb"/><stop offset="0.2151" stop-color="#6772b8"/><stop offset="0.2171" stop-color="#606eb6"/><stop offset="0.2191" stop-color="#606eb6"/><stop offset="0.2210" stop-color="#606eb6"/><stop offset="0.2230" stop-color="#606eb6"/><stop offset="0.2250" stop-color="#606eb6"/><stop offset="0.2269" stop-color="#6d77bb"/><stop offset="0.2289" stop-color="#6772b8"/><stop offset="0.2308" stop-color="#606eb6"/><stop offset="0.2328" stop-color="#606eb6"/><stop offset="0.2348" stop-color="#606eb6"/><stop offset="0.2367" stop-color="#5a69b3"/><stop offset="0.2387" stop-color="#5a69b3"/><stop offset="0.2407" stop-color="#6772b8"/><stop offset="0.2426" stop-color="#606eb6"/><stop offset="0.2446" stop-color="#4860ad"/><stop offset="0.2466" stop-color="#405cab"/><stop offset="0.2485" stop-color="#435dac"/><stop offset="0.2505" stop-color="#435dac"/><stop offset="0.2525" stop-color="#435dac"/><stop offset="0.2544" stop-color="#405cab"/><stop offset="0.2564" stop-color="#3d5baa"/><stop offset="0.2583" stop-color="#405cab"/><stop offset="0.2603" stop-color="#435dac"/><stop offset="0.2623" stop-color="#435dac"/><stop offset="0.2642" stop-color="#405cab"/><stop offset="0.2662" stop-color="#405cab"/><stop offset="0.2682" stop-color="#405cab"/><stop offset="0.2701" stop-color="#405cab"/><stop offset="0.2721" stop-color="#405cab"/><stop offset="0.2741" stop-color="#405cab"/><stop offset="0.2760" stop-color="#405cab"/><stop offset="0.2780" stop-color="#405cab"/><stop offset="0.2800" stop-color="#405cab"/><stop offset="0.2819" stop-color="#405cab"/><stop offset="0.2839" stop-color="#405cab"/><stop offset="0.2859" stop-color="#465eac"/><stop offset="0.2878" stop-color="#4e62af"/><stop offset="0.2898" stop-color="#5163af"/><stop offset="0.2917" stop-color="#5464b0"/><stop offset="0.2937" stop-color="#5464b0"/><stop offset="0.2957" stop-color="#5464b0"/><stop offset="0.2976" stop-color="#5a69b3"/><stop offset="0.2996" stop-color="#5a69b3"/><stop offset="0.3016" stop-color="#5464b0"/><stop offset="0.3035" stop-color="#5163af"/><stop offset="0.3055" stop-color="#5163af"/><stop offset="0.3075" stop-color="#5464b0"/><stop offset="0.3094" stop-color="#5464b0"/><stop offset="0.3114" stop-color="#5163af"/><stop offset="0.3134" stop-color="#4e62af"/><stop offset="0.3153" stop-color="#4e62af"/><stop offset="0.3173" stop-color="#5163af"/><stop offset="0.3193" stop-color="#5464b0"/><stop offset="0.3212" stop-color="#5163af"/><stop offset="0.3232" stop-color="#5163af"/><stop offset="0.3251" stop-color="#5a69b3"/><stop offset="0.3271" stop-color="#5a69b3"/><stop offset="0.3291" stop-color="#5a69b3"/><stop offset="0.3310" stop-color="#5464b0"/><stop offset="0.3330" stop-color="#5163af"/><stop offset="0.3350" stop-color="#5163af"/><stop offset="0.3369" stop-color="#5163af"/><stop offset="0.3389" stop-color="#5464b0"/><stop offset="0.3409" stop-color="#5a69b3"/><stop offset="0.3428" stop-color="#5a69b3"/><stop offset="0.3448" stop-color="#5464b0"/><stop offset="0.3468" stop-color="#5464b0"/><stop offset="0.3487" stop-color="#5a69b3"/><stop offset="0.3507" stop-color="#5a69b3"/><stop offset="0.3527" stop-color="#5464b0"/><stop offset="0.3546" stop-color="#5163af"/><stop offset="0.3566" stop-color="#4e62af"/><stop offset="0.3585" stop-color="#5163af"/><stop offset="0.3605" stop-color="#5464b0"/><stop offset="0.3625" stop-color="#5163af"/><stop offset="0.3644" stop-color="#5163af"/><stop offset="0.3664" stop-color="#5464b0"/><stop offset="0.3684" stop-color="#5464b0"/><stop offset="0.3703" stop-color="#5a69b3"/><stop offset="0.3723" stop-color="#5a69b3"/><stop offset="0.3743" stop-color="#5a69b3"/><stop offset="0.3762" stop-color="#5464b0"/><stop offset="0.3782" stop-color="#5464b0"/><stop offset="0.3802" stop-color="#5464b0"/><stop offset="0.3821" stop-color="#5464b0"/><stop offset="0.3841" stop-color="#5464b0"/><stop offset="0.3861" stop-color="#5a69b3"/><stop offset="0.3880" stop-color="#5a69b3"/><stop offset="0.3900" stop-color="#4e62af"/><stop offset="0.3919" stop-color="#435dac"/><stop offset="0.3939" stop-color="#3a5aaa"/><stop offset="0.3959" stop-color="#3a5aaa"/><stop offset="0.3978" stop-color="#3a5aaa"/><stop offset="0.3998" stop-color="#3a5aaa"/><stop offset="0.4018" stop-color="#3a5aaa"/><stop offset="0.4037" stop-color="#3a5aaa"/><stop offset="0.4057" stop-color="#3a5aaa"/><stop offset="0.4077" stop-color="#3d5baa"/><stop offset="0.4096" stop-color="#3a5aaa"/><stop offset="0.4116" stop-color="#3a5aaa"/><stop offset="0.4136" stop-color="#3a5aaa"/><stop offset="0.4155" stop-color="#3a5aaa"/><stop offset="0.4175" stop-color="#3a5aaa"/><stop offset="0.4194" stop-color="#3a5aaa"/><stop offset="0.4214" stop-color="#3a5aaa"/><stop offset="0.4234" stop-color="#3a5aaa"/><stop offset="0.4253" stop-color="#3a5aaa"/><stop offset="0.4273" stop-color="#3a5aaa"/><stop offset="0.4293" stop-color="#3a5aaa"/><stop offset="0.4312" stop-color="#3a5aaa"/><stop offset="0.4332" stop-color="#3a5aaa"/><stop offset="0.4352" stop-color="#3a5aaa"/><stop offset="0.4371" stop-color="#3a5aaa"/><stop offset="0.4391" stop-color="#3a5aaa"/><stop offset="0.4411" stop-color="#3a5aaa"/><stop offset="0.4430" stop-color="#3a5aaa"/><stop offset="0.4450" stop-color="#3a5aaa"/><stop offset="0.4470" stop-color="#3a5aaa"/><stop offset="0.4489" stop-color="#3a5aaa"/><stop offset="0.4509" stop-color="#3a5aaa"/><stop offset="0.4528" stop-color="#3a5aaa"/><stop offset="0.4548" stop-color="#3a5aaa"/><stop offset="0.4568" stop-color="#3a5aaa"/><stop offset="0.4587" stop-color="#3a5aaa"/><stop offset="0.4607" stop-color="#3a5aaa"/><stop offset="0.4627" stop-color="#3a5aaa"/><stop offset="0.4646" stop-color="#3a5aaa"/><stop offset="0.4666" stop-color="#3a5aaa"/><stop offset="0.4686" stop-color="#3a5aaa"/><stop offset="0.4705" stop-color="#3a5aaa"/><stop offset="0.4725" stop-color="#3a5aaa"/><stop offset="0.4745" stop-color="#3a5aaa"/><stop offset="0.4764" stop-color="#3a5aaa"/><stop offset="0.4784" stop-color="#3a5aaa"/><stop offset="0.4804" stop-color="#3a5aaa"/><stop offset="0.4823" stop-color="#3a5aaa"/><stop offset="0.4843" stop-color="#3a5aaa"/><stop offset="0.4862" stop-color="#3a5aaa"/><stop offset="0.4882" stop-color="#3a5aaa"/><stop offset="0.4902" stop-color="#3a5aaa"/><stop offset="0.4921" stop-color="#3a5aaa"/><stop offset="0.4941" stop-color="#3a5aaa"/><stop offset="0.4961" stop-color="#3a5aaa"/><stop offset="0.4980" stop-color="#3a5aaa"/><stop offset="0.5000" stop-color="#3a5aaa"/><stop offset="0.5020" stop-color="#3759a9"/><stop offset="0.5039" stop-color="#3a5aaa"/><stop offset="0.5059" stop-color="#3a5aaa"/><stop offset="0.5079" stop-color="#3a5aaa"/><stop offset="0.5098" stop-color="#3a5aaa"/><stop offset="0.5118" stop-color="#3a5aaa"/><stop offset="0.5138" stop-color="#3a5aaa"/><stop offset="0.5157" stop-color="#3a5aaa"/><stop offset="0.5177" stop-color="#3a5aaa"/><stop offset="0.5196" stop-color="#3a5aaa"/><stop offset="0.5216" stop-color="#3a5aaa"/><stop offset="0.5236" stop-color="#3a5aaa"/><stop offset="0.5255" stop-color="#3a5aaa"/><stop offset="0.5275" stop-color="#3a5aaa"/><stop offset="0.5295" stop-color="#4e62af"/><stop offset="0.5314" stop-color="#b5b9dc"/><stop offset="0.5334" stop-color="#fef7f7"/><stop offset="0.5354" stop-color="#fef7f7"/><stop offset="0.5373" stop-color="#fef7f7"/><stop offset="0.5393" stop-color="#fef7f7"/><stop offset="0.5413" stop-color="#fef7f7"/><stop offset="0.5432" stop-color="#fbe6e6"/><stop offset="0.5452" stop-color="#f7c4c5"/><stop offset="0.5472" stop-color="#f5bcbd"/><stop offset="0.5491" stop-color="#f5bcbd"/><stop offset="0.5511" stop-color="#f3aaac"/><stop offset="0.5530" stop-color="#f5bcbd"/><stop offset="0.5550" stop-color="#f9d6d6"/><stop offset="0.5570" stop-color="#f8cdce"/><stop offset="0.5589" stop-color="#f4b3b4"/><stop offset="0.5609" stop-color="#f3aaac"/><stop offset="0.5629" stop-color="#f4b3b4"/><stop offset="0.5648" stop-color="#f5bcbd"/><stop offset="0.5668" stop-color="#f4b3b4"/><stop offset="0.5688" stop-color="#f3aaac"/><stop offset="0.5707" stop-color="#f2a2a4"/><stop offset="0.5727" stop-color="#f2a2a4"/><stop offset="0.5747" stop-color="#f3aaac"/><stop offset="0.5766" stop-color="#f3aaac"/><stop offset="0.5786" stop-color="#f3aaac"/><stop offset="0.5806" stop-color="#f2a2a4"/><stop offset="0.5825" stop-color="#f3aaac"/><stop offset="0.5845" stop-color="#f5bcbd"/><stop offset="0.5864" stop-color="#f7c4c5"/><stop offset="0.5884" stop-color="#f2a2a4"/><stop offset="0.5904" stop-color="#f19a9c"/><stop offset="0.5923" stop-color="#f3aaac"/><stop offset="0.5943" stop-color="#f3aaac"/><stop offset="0.5963" stop-color="#f4b3b4"/><stop offset="0.5982" stop-color="#f9d6d6"/><stop offset="0.6002" stop-color="#fbe6e6"/><stop offset="0.6022" stop-color="#fdefef"/><stop offset="0.6041" stop-color="#fbe6e6"/><stop offset="0.6061" stop-color="#fbe6e6"/><stop offset="0.6081" stop-color="#fdefef"/><stop offset="0.6100" stop-color="#fdefef"/><stop offset="0.6120" stop-color="#fdefef"/><stop offset="0.6139" stop-color="#fdefef"/><stop offset="0.6159" stop-color="#fef7f7"/><stop offset="0.6179" stop-color="#f4f5fa"/><stop offset="0.6198" stop-color="#eaebf5"/><stop offset="0.6218" stop-color="#ffffff"/><stop offset="0.6238" stop-color="#fef7f7"/><stop offset="0.6257" stop-color="#f4f5fa"/><stop offset="0.6277" stop-color="#cacde6"/><stop offset="0.6297" stop-color="#abafd8"/><stop offset="0.6316" stop-color="#eaebf5"/><stop offset="0.6336" stop-color="#f19295"/><stop offset="0.6356" stop-color="#ec6467"/><stop offset="0.6375" stop-color="#ed7376"/><stop offset="0.6395" stop-color="#ee7a7d"/><stop offset="0.6415" stop-color="#ed7376"/><stop offset="0.6434" stop-color="#ee7a7d"/><stop offset="0.6454" stop-color="#ef8285"/><stop offset="0.6473" stop-color="#ef8285"/><stop offset="0.6493" stop-color="#f08a8d"/><stop offset="0.6513" stop-color="#ef8285"/><stop offset="0.6532" stop-color="#ee7a7d"/><stop offset="0.6552" stop-color="#ee7a7d"/><stop offset="0.6572" stop-color="#ee7a7d"/><stop offset="0.6591" stop-color="#ed7376"/><stop offset="0.6611" stop-color="#ed6b6e"/><stop offset="0.6631" stop-color="#ed7376"/><stop offset="0.6650" stop-color="#ee7a7d"/><stop offset="0.6670" stop-color="#ed6b6e"/><stop offset="0.6690" stop-color="#ec6467"/><stop offset="0.6709" stop-color="#ec6467"/><stop offset="0.6729" stop-color="#ed7376"/><stop offset="0.6749" stop-color="#ee7a7d"/><stop offset="0.6768" stop-color="#ed7376"/><stop offset="0.6788" stop-color="#ec6467"/><stop offset="0.6807" stop-color="#eb5c5f"/><stop offset="0.6827" stop-color="#ed6b6e"/><stop offset="0.6847" stop-color="#ee7a7d"/><stop offset="0.6866" stop-color="#ed7376"/><stop offset="0.6886" stop-color="#ed7376"/><stop offset="0.6906" stop-color="#ee7a7d"/><stop offset="0.6925" stop-color="#ef8285"/><stop offset="0.6945" stop-color="#ed7376"/><stop offset="0.6965" stop-color="#ed7376"/><stop offset="0.6984" stop-color="#ef8285"/><stop offset="0.7004" stop-color="#ef8285"/><stop offset="0.7024" stop-color="#ee7a7d"/><stop offset="0.7043" stop-color="#ee7a7d"/><stop offset="0.7063" stop-color="#ed7376"/><stop offset="0.7083" stop-color="#ed6b6e"/><stop offset="0.7102" stop-color="#ef8285"/><stop offset="0.7122" stop-color="#f3aaac"/><stop offset="0.7141" stop-color="#f4b3b4"/><stop offset="0.7161" stop-color="#f3aaac"/><stop offset="0.7181" stop-color="#f3aaac"/><stop offset="0.7200" stop-color="#f3aaac"/><stop offset="0.7220" stop-color="#f3aaac"/><stop offset="0.7240" stop-color="#f5bcbd"/><stop offset="0.7259" stop-color="#f5bcbd"/><stop offset="0.7279" stop-color="#f2a2a4"/><stop offset="0.7299" stop-color="#f2a2a4"/><stop offset="0.7318" stop-color="#f3aaac"/><stop offset="0.7338" stop-color="#f3aaac"/><stop offset="0.7358" stop-color="#f3aaac"/><stop offset="0.7377" stop-color="#f19295"/><stop offset="0.7397" stop-color="#f08a8d"/><stop offset="0.7417" stop-color="#f2a2a4"/><stop offset="0.7436" stop-color="#f3aaac"/><stop offset="0.7456" stop-color="#f3aaac"/><stop offset="0.7475" stop-color="#f19a9c"/><stop offset="0.7495" stop-color="#f19295"/><stop offset="0.7515" stop-color="#f3aaac"/><stop offset="0.7534" stop-color="#f5bcbd"/><stop offset="0.7554" stop-color="#f2a2a4"/><stop offset="0.7574" stop-color="#f08a8d"/><stop offset="0.7593" stop-color="#f08a8d"/><stop offset="0.7613" stop-color="#f2a2a4"/><stop offset="0.7633" stop-color="#f8cdce"/><stop offset="0.7652" stop-color="#f5bcbd"/><stop offset="0.7672" stop-color="#f5bcbd"/><stop offset="0.7692" stop-color="#f8cdce"/><stop offset="0.7711" stop-color="#f4b3b4"/><stop offset="0.7731" stop-color="#f19295"/><stop offset="0.7750" stop-color="#f2a2a4"/><stop offset="0.7770" stop-color="#f4b3b4"/><stop offset="0.7790" stop-color="#f9d6d6"/><stop offset="0.7809" stop-color="#fbe6e6"/><stop offset="0.7829" stop-color="#fadede"/><stop offset="0.7849" stop-color="#f9d6d6"/><stop offset="0.7868" stop-color="#f8cdce"/><stop offset="0.7888" stop-color="#f7c4c5"/><stop offset="0.7908" stop-color="#f3aaac"/><stop offset="0.7927" stop-color="#ef8285"/><stop offset="0.7947" stop-color="#ec6467"/><stop offset="0.7967" stop-color="#ec6467"/><stop offset="0.7986" stop-color="#eb5c5f"/><stop offset="0.8006" stop-color="#ec6467"/><stop offset="0.8026" stop-color="#ed6b6e"/><stop offset="0.8045" stop-color="#ed6b6e"/><stop offset="0.8065" stop-color="#ed6b6e"/><stop offset="0.8084" stop-color="#ec6467"/><stop offset="0.8104" stop-color="#eb5659"/><stop offset="0.8124" stop-color="#e93e41"/><stop offset="0.8143" stop-color="#e93538"/><stop offset="0.8163" stop-color="#e83134"/><stop offset="0.8183" stop-color="#e83134"/><stop offset="0.8202" stop-color="#e83134"/><stop offset="0.8222" stop-color="#e83134"/><stop offset="0.8242" stop-color="#e83134"/><stop offset="0.8261" stop-color="#e83134"/><stop offset="0.8281" stop-color="#e93538"/><stop offset="0.8301" stop-color="#e83134"/><stop offset="0.8320" stop-color="#e83134"/><stop offset="0.8340" stop-color="#e83134"/><stop offset="0.8360" stop-color="#e83134"/><stop offset="0.8379" stop-color="#e83134"/><stop offset="0.8399" stop-color="#e93538"/><stop offset="0.8418" stop-color="#e93a3d"/><stop offset="0.8438" stop-color="#e94447"/><stop offset="0.8458" stop-color="#ea5053"/><stop offset="0.8477" stop-color="#eb5659"/><stop offset="0.8497" stop-color="#eb5659"/><stop offset="0.8517" stop-color="#eb5659"/><stop offset="0.8536" stop-color="#eb5c5f"/><stop offset="0.8556" stop-color="#eb5c5f"/><stop offset="0.8576" stop-color="#ea5053"/><stop offset="0.8595" stop-color="#ea5053"/><stop offset="0.8615" stop-color="#eb5c5f"/><stop offset="0.8635" stop-color="#eb5c5f"/><stop offset="0.8654" stop-color="#ea5053"/><stop offset="0.8674" stop-color="#ea5053"/><stop offset="0.8694" stop-color="#eb5659"/><stop offset="0.8713" stop-color="#ea4a4d"/><stop offset="0.8733" stop-color="#ea4a4d"/><stop offset="0.8752" stop-color="#ea4a4d"/><stop offset="0.8772" stop-color="#e94447"/><stop offset="0.8792" stop-color="#e94447"/><stop offset="0.8811" stop-color="#ea4a4d"/><stop offset="0.8831" stop-color="#ea4a4d"/><stop offset="0.8851" stop-color="#ea4a4d"/><stop offset="0.8870" stop-color="#e94447"/><stop offset="0.8890" stop-color="#e93e41"/><stop offset="0.8910" stop-color="#e93e41"/><stop offset="0.8929" stop-color="#e94447"/><stop offset="0.8949" stop-color="#e94447"/><stop offset="0.8969" stop-color="#e94447"/><stop offset="0.8988" stop-color="#ea4a4d"/><stop offset="0.9008" stop-color="#ea4a4d"/><stop offset="0.9028" stop-color="#ea4a4d"/><stop offset="0.9047" stop-color="#ea4a4d"/><stop offset="0.9067" stop-color="#ea4a4d"/><stop offset="0.9086" stop-color="#e94447"/><stop offset="0.9106" stop-color="#e94447"/><stop offset="0.9126" stop-color="#e94447"/><stop offset="0.9145" stop-color="#e93e41"/><stop offset="0.9165" stop-color="#e94447"/><stop offset="0.9185" stop-color="#e94447"/><stop offset="0.9204" stop-color="#e94447"/><stop offset="0.9224" stop-color="#ea4a4d"/><stop offset="0.9244" stop-color="#ea4a4d"/><stop offset="0.9263" stop-color="#ea4a4d"/><stop offset="0.9283" stop-color="#ea4a4d"/><stop offset="0.9303" stop-color="#ea4a4d"/><stop offset="0.9322" stop-color="#ea4a4d"/><stop offset="0.9342" stop-color="#ea4a4d"/><stop offset="0.9361" stop-color="#ea5053"/><stop offset="0.9381" stop-color="#ea5053"/><stop offset="0.9401" stop-color="#ea5053"/><stop offset="0.9420" stop-color="#ea4a4d"/><stop offset="0.9440" stop-color="#ea4a4d"/><stop offset="0.9460" stop-color="#eb5659"/><stop offset="0.9479" stop-color="#ec6467"/><stop offset="0.9499" stop-color="#ed6b6e"/><stop offset="0.9519" stop-color="#ed7376"/><stop offset="0.9538" stop-color="#ed7376"/><stop offset="0.9558" stop-color="#eb5c5f"/><stop offset="0.9578" stop-color="#eb5659"/><stop offset="0.9597" stop-color="#eb5c5f"/><stop offset="0.9617" stop-color="#eb5c5f"/><stop offset="0.9637" stop-color="#ed6b6e"/><stop offset="0.9656" stop-color="#ed6b6e"/><stop offset="0.9676" stop-color="#ed6b6e"/><stop offset="0.9695" stop-color="#ed7376"/><stop offset="0.9715" stop-color="#ed7376"/><stop offset="0.9735" stop-color="#ed6b6e"/><stop offset="0.9754" stop-color="#ed6b6e"/><stop offset="0.9774" stop-color="#ed6b6e"/><stop offset="0.9794" stop-color="#ea5053"/><stop offset="0.9813" stop-color="#e93538"/><stop offset="0.9833" stop-color="#e8282b"/><stop offset="0.9853" stop-color="#e8282b"/><stop offset="0.9872" stop-color="#e8282b"/><stop offset="0.9892" stop-color="#e8282b"/><stop offset="0.9912" stop-color="#e82c2f"/><stop offset="0.9931" stop-color="#e82c2f"/><stop offset="0.9951" stop-color="#e82c2f"/><stop offset="0.9971" stop-color="#e8282b"/><stop offset="0.9990" stop-color="#e8282b"/></linearGradient>
<linearGradient id="cbD" x1="0" y1="0" x2="0" y2="1"><stop offset="0.0000" stop-color="#e8282b"/><stop offset="0.0833" stop-color="#e93e41"/><stop offset="0.1667" stop-color="#eb5c5f"/><stop offset="0.2500" stop-color="#ef8285"/><stop offset="0.3333" stop-color="#f3aaac"/><stop offset="0.4167" stop-color="#f9d6d6"/><stop offset="0.5000" stop-color="#ffffff"/><stop offset="0.5833" stop-color="#cacde6"/><stop offset="0.6667" stop-color="#969bce"/><stop offset="0.7500" stop-color="#737cbe"/><stop offset="0.8333" stop-color="#5464b0"/><stop offset="1.0000" stop-color="#3759a9"/></linearGradient>
</defs>
<rect width="1942" height="2027" fill="#ffffff"/>
<g id="panel-a">
<text x="67.6" y="30.6" font-size="41.3" fill="#111" stroke="#111" stroke-width="0.8">a</text>
<rect x="329.8" y="151.2" width="74.75" height="860.1" fill="url(#hA0)" /><rect x="404.35" y="151.2" width="74.75" height="860.1" fill="url(#hA1)" /><rect x="478.9" y="151.2" width="74.75" height="860.1" fill="url(#hA2)" /><rect x="553.45" y="151.2" width="74.55" height="860.1" fill="url(#hA3)" />
<path fill="none" stroke="#808080" stroke-width="3" stroke-linecap="square" d="M217 284.5V822"/><path fill="none" stroke="#555" stroke-width="2.6" stroke-linecap="square" d="M217 284.5H246M246 200.75V367.5M217 822H226.25M226.25 718V925"/><path fill="none" stroke="#333" stroke-width="2.4" stroke-linecap="square" d="M246 200.75H268.75M268.75 171V232.5M246 367.5H255.5M255.5 317.5V417M226.25 718H265.5M265.5 660V776M226.25 925H245.5M245.5 865V985"/><path fill="none" stroke="#3a3a3a" stroke-width="2.4" stroke-linecap="square" d="M268.75 171H291M291 155.5V187.5M291 155.5H317.93M317.93 154.35V158.6M317.93 154.35H321.38M321.38 153.02V155.87M321.38 153.02H324.67M324.67 152.34V153.86M324.67 152.34H326.51M326.51 151.85V152.69M326.51 151.85H329.5M326.51 152.69H329.5M324.67 153.86H326.93M326.93 153.57V154.26M326.93 153.57H329.5M326.93 154.26H329.5M321.38 155.87H325.47M325.47 155.45V156.78M325.47 155.45H326.97M326.97 154.87V155.78M326.97 154.87H329.5M326.97 155.78H329.5M325.47 156.78H329.5M317.93 158.6H325.36M325.36 157.65V159.05M325.36 157.65H329.5M325.36 159.05H326.86M326.86 158.4V159.35M326.86 158.4H329.5M326.86 159.35H328.36M328.36 159.11V159.76M328.36 159.11H329.5M328.36 159.76H329.5M291 187.5H304.5M304.5 173.75V201.25M304.5 173.75H311.3M311.3 166.75V180.25M311.3 166.75H316.91M316.91 162.78V169.52M316.91 162.78H319.44M319.44 161.77V164.54M319.44 161.77H322.83M322.83 160.69V162.46M322.83 160.69H326.61M326.61 160.42V161.11M326.61 160.42H329.5M326.61 161.11H329.5M322.83 162.46H325.31M325.31 161.87V162.95M325.31 161.87H329.5M325.31 162.95H329.5M319.44 164.54H324.41M324.41 163.83V164.84M324.41 163.83H329.5M324.41 164.84H326.68M326.68 164.48V165.19M326.68 164.48H329.5M326.68 165.19H329.5M316.91 169.52H320.95M320.95 166.86V170.83M320.95 166.86H324.13M324.13 166.08V167.39M324.13 166.08H329.5M324.13 167.39H326.69M326.69 167.15V167.92M326.69 167.15H329.5M326.69 167.92H329.5M320.95 170.83H324.17M324.17 169.23V171.89M324.17 169.23H326.24M326.24 168.82V169.89M326.24 168.82H327.74M327.74 168.48V169.14M327.74 168.48H329.5M327.74 169.14H329.5M326.24 169.89H329.5M324.17 171.89H325.67M325.67 170.86V172.46M325.67 170.86H329.5M325.67 172.46H327.17M327.17 171.91V172.95M327.17 171.91H329.5M327.17 172.95H329.5M311.3 180.25H317.6M317.6 178.14V184.9M317.6 178.14H321.63M321.63 176.54V181.18M321.63 176.54H324.16M324.16 175.45V178.49M324.16 175.45H326.19M326.19 174.85V176.8M326.19 174.85H327.69M327.69 174.32V175.68M327.69 174.32H329.5M327.69 175.68H329.5M326.19 176.8H329.5M324.16 178.49H326.2M326.2 177.98V179.07M326.2 177.98H329.5M326.2 179.07H329.5M321.63 181.18H324.32M324.32 180.3V181.91M324.32 180.3H326.27M326.27 179.93V180.65M326.27 179.93H329.5M326.27 180.65H329.5M324.32 181.91H325.82M325.82 181.35V182.24M325.82 181.35H329.5M325.82 182.24H329.5M317.6 184.9H323.51M323.51 184.11V186.22M323.51 184.11H325.68M325.68 183.58V184.9M325.68 183.58H327.18M327.18 183.33V184.11M327.18 183.33H329.5M327.18 184.11H329.5M325.68 184.9H329.5M323.51 186.22H325.38M325.38 185.8V186.58M325.38 185.8H329.5M325.38 186.58H329.5M304.5 201.25H314.31M314.31 195.22V207.22M314.31 195.22H318.24M318.24 190.31V198.53M318.24 190.31H321.4M321.4 188.38V191.69M321.4 188.38H325.02M325.02 187.45V188.83M325.02 187.45H329.5M325.02 188.83H326.52M326.52 188.5V189.43M326.52 188.5H329.5M326.52 189.43H329.5M321.4 191.69H324.19M324.19 191.05V192.98M324.19 191.05H326.3M326.3 190.29V191.58M326.3 190.29H329.5M326.3 191.58H327.8M327.8 191.1V191.86M327.8 191.1H329.5M327.8 191.86H329.5M324.19 192.98H329.5M318.24 198.53H321.46M321.46 195.35V200.26M321.46 195.35H323.7M323.7 194.82V196.55M323.7 194.82H325.21M325.21 194.26V195.46M325.21 194.26H329.5M325.21 195.46H329.5M323.7 196.55H329.5M321.46 200.26H324.62M324.62 198.06V201.24M324.62 198.06H326.12M326.12 197.75V198.73M326.12 197.75H327.62M327.62 197.41V198.08M327.62 197.41H329.5M327.62 198.08H329.5M326.12 198.73H329.5M324.62 201.24H326.26M326.26 200.58V202.78M326.26 200.58H327.76M327.76 199.95V201.5M327.76 199.95H329.5M327.76 201.5H329.5M326.26 202.78H327.76M327.76 202.56V203.22M327.76 202.56H329.5M327.76 203.22H329.5M314.31 207.22H319.37M319.37 205.94V209.72M319.37 205.94H322.58M322.58 204.98V207.47M322.58 204.98H324.55M324.55 204.29V205.83M324.55 204.29H326.05M326.05 203.9V204.75M326.05 203.9H329.5M326.05 204.75H329.5M324.55 205.83H326.92M326.92 205.62V206.31M326.92 205.62H329.5M326.92 206.31H329.5M322.58 207.47H324.74M324.74 206.95V207.91M324.74 206.95H329.5M324.74 207.91H329.5M319.37 209.72H323.96M323.96 209.04V210.33M323.96 209.04H329.5M323.96 210.33H326.08M326.08 210.06V210.73M326.08 210.06H329.5M326.08 210.73H329.5M268.75 232.5H278.75M278.75 214V249M278.75 214H306M306 214H321.44M321.44 212.72V216.22M321.44 212.72H324.09M324.09 211.86V213.58M324.09 211.86H325.59M325.59 211.35V212.21M325.59 211.35H329.5M325.59 212.21H329.5M324.09 213.58H326.59M326.59 213.21V214.08M326.59 213.21H329.5M326.59 214.08H329.5M321.44 216.22H324.39M324.39 215.62V217.4M324.39 215.62H325.98M325.98 215.22V216.4M325.98 215.22H327.48M327.48 214.74V215.51M327.48 214.74H329.5M327.48 215.51H329.5M325.98 216.4H329.5M324.39 217.4H329.5M278.75 249H289.5M289.5 227.5V270M289.5 227.5H302.5M302.5 221V234M302.5 221H318.53M318.53 220.66V224.66M318.53 220.66H322.08M322.08 219.42V222.08M322.08 219.42H324.84M324.84 218.71V220.13M324.84 218.71H326.34M326.34 218.41V219.12M326.34 218.41H329.5M326.34 219.12H329.5M324.84 220.13H326.45M326.45 219.68V220.39M326.45 219.68H329.5M326.45 220.39H329.5M322.08 222.08H324.73M324.73 221.32V222.56M324.73 221.32H329.5M324.73 222.56H326.23M326.23 222.18V222.94M326.23 222.18H329.5M326.23 222.94H329.5M318.53 224.66H324.79M324.79 224.25V225.59M324.79 224.25H326.6M326.6 223.62V224.54M326.6 223.62H329.5M326.6 224.54H329.5M324.79 225.59H329.5M302.5 234H313.08M313.08 230.08V237.08M313.08 230.08H318.63M318.63 228.52V232.6M318.63 228.52H323.18M323.18 227.21V229.73M323.18 227.21H325.75M325.75 226.48V227.69M325.75 226.48H329.5M325.75 227.69H327.25M327.25 227.36V228.1M327.25 227.36H329.5M327.25 228.1H329.5M323.18 229.73H324.91M324.91 229.16V230.47M324.91 229.16H326.41M326.41 228.85V229.58M326.41 228.85H329.5M326.41 229.58H329.5M324.91 230.47H329.5M318.63 232.6H324.53M324.53 231.62V233.18M324.53 231.62H329.5M324.53 233.18H326.3M326.3 232.78V233.76M326.3 232.78H329.5M326.3 233.76H329.5M313.08 237.08H321.81M321.81 235.45V238.36M321.81 235.45H324.09M324.09 234.87V236.14M324.09 234.87H325.9M325.9 234.6V235.3M325.9 234.6H329.5M325.9 235.3H329.5M324.09 236.14H329.5M321.81 238.36H324.75M324.75 237.83V239.46M324.75 237.83H326.53M326.53 237.26V238.36M326.53 237.26H329.5M326.53 238.36H329.5M324.75 239.46H329.5M289.5 270H302.5M302.5 254V286M302.5 254H308.39M308.39 246.31V260.31M308.39 246.31H313.27M313.27 243.9V250.21M313.27 243.9H318.26M318.26 242.19V246.09M318.26 242.19H323.16M323.16 241.37V243.56M323.16 241.37H324.79M324.79 240.53V241.9M324.79 240.53H329.5M324.79 241.9H326.29M326.29 241.64V242.48M326.29 241.64H329.5M326.29 242.48H329.5M323.16 243.56H325.83M325.83 243.09V243.91M325.83 243.09H329.5M325.83 243.91H329.5M318.26 246.09H322.18M322.18 245.13V246.85M322.18 245.13H326.75M326.75 244.77V245.52M326.75 244.77H329.5M326.75 245.52H329.5M322.18 246.85H324.94M324.94 246.18V247.15M324.94 246.18H329.5M324.94 247.15H326.7M326.7 246.89V247.56M326.7 246.89H329.5M326.7 247.56H329.5M313.27 250.21H322.83M322.83 249.29V251.69M322.83 249.29H325.3M325.3 248.56V250.04M325.3 248.56H326.8M326.8 248.24V248.99M326.8 248.24H329.5M326.8 248.99H329.5M325.3 250.04H326.8M326.8 249.8V250.53M326.8 249.8H329.5M326.8 250.53H329.5M322.83 251.69H326.3M326.3 251.24V252.17M326.3 251.24H329.5M326.3 252.17H329.5M308.39 260.31H313.75M313.75 256.89V264.58M313.75 256.89H317.5M317.5 254.86V259.13M317.5 254.86H322.69M322.69 254.05V256.29M322.69 254.05H325.13M325.13 253.53V254.96M325.13 253.53H326.63M326.63 253.1V254.02M326.63 253.1H329.5M326.63 254.02H329.5M325.13 254.96H329.5M322.69 256.29H326.41M326.41 255.88V256.69M326.41 255.88H329.5M326.41 256.69H329.5M317.5 259.13H322.23M322.23 258.5V260.53M322.23 258.5H324.56M324.56 257.97V259.36M324.56 257.97H326.06M326.06 257.6V258.47M326.06 257.6H329.5M326.06 258.47H329.5M324.56 259.36H329.5M322.23 260.53H329.5M313.75 264.58H321.41M321.41 262.76V266.17M321.41 262.76H323.15M323.15 261.81V263.4M323.15 261.81H329.5M323.15 263.4H325.55M325.55 262.91V263.85M325.55 262.91H329.5M325.55 263.85H329.5M321.41 266.17H323.19M323.19 265.24V267.07M323.19 265.24H325.97M325.97 264.84V265.73M325.97 264.84H329.5M325.97 265.73H329.5M323.19 267.07H325.55M325.55 266.71V267.64M325.55 266.71H329.5M325.55 267.64H329.5M302.5 286H307.5M307.5 277V297M307.5 277H315.45M315.45 271.52V280.52M315.45 271.52H320.16M320.16 269.56V273.07M320.16 269.56H323.7M323.7 268.92V270.48M323.7 268.92H326.25M326.25 268.37V269.29M326.25 268.37H329.5M326.25 269.29H329.5M323.7 270.48H329.5M320.16 273.07H323.66M323.66 272.04V274.01M323.66 272.04H325.76M325.76 271.59V272.52M325.76 271.59H329.5M325.76 272.52H329.5M323.66 274.01H325.9M325.9 273.54V274.57M325.9 273.54H329.5M325.9 274.57H329.5M315.45 280.52H319.58M319.58 278.55V284.03M319.58 278.55H321.85M321.85 276.42V279.93M321.85 276.42H323.67M323.67 275.95V277.33M323.67 275.95H325.92M325.92 275.65V276.56M325.92 275.65H329.5M325.92 276.56H329.5M323.67 277.33H329.5M321.85 279.93H323.38M323.38 279.19V281.32M323.38 279.19H325.54M325.54 278.62V280.02M325.54 278.62H327.04M327.04 278.32V279.14M327.04 278.32H329.5M327.04 279.14H329.5M325.54 280.02H329.5M323.38 281.32H326.28M326.28 280.85V281.58M326.28 280.85H329.5M326.28 281.58H329.5M319.58 284.03H323M323 282.66V284.63M323 282.66H329.5M323 284.63H325M325 284.18V285.54M325 284.18H326.69M326.69 283.72V284.63M326.69 283.72H329.5M326.69 284.63H329.5M325 285.54H329.5M307.5 297H314.09M314.09 293.47V306.47M314.09 293.47H320.04M320.04 288.56V296.02M320.04 288.56H323.04M323.04 287.29V289.85M323.04 287.29H325.44M325.44 286.48V287.78M325.44 286.48H329.5M325.44 287.78H326.94M326.94 287.53V288.34M326.94 287.53H329.5M326.94 288.34H329.5M323.04 289.85H325.5M325.5 289V290.26M325.5 289H329.5M325.5 290.26H327M327 289.92V290.78M327 289.92H329.5M327 290.78H329.5M320.04 296.02H322.94M322.94 293.6V298.51M322.94 293.6H324.77M324.77 291.87V294.36M324.77 291.87H326.27M326.27 291.4V292.15M326.27 291.4H329.5M326.27 292.15H329.5M324.77 294.36H326.27M326.27 293.43V295.15M326.27 293.43H327.77M327.77 293.03V293.83M327.77 293.03H329.5M327.77 293.83H329.5M326.27 295.15H327.77M327.77 294.8V295.73M327.77 294.8H329.5M327.77 295.73H329.5M322.94 298.51H324.44M324.44 297.42V299.84M324.44 297.42H325.94M325.94 296.75V298.09M325.94 296.75H327.44M327.44 296.35V297.02M327.44 296.35H329.5M327.44 297.02H329.5M325.94 298.09H327.44M327.44 297.83V298.5M327.44 297.83H329.5M327.44 298.5H329.5M324.44 299.84H326.05M326.05 299.47V300.56M326.05 299.47H327.55M327.55 299.19V299.91M327.55 299.19H329.5M327.55 299.91H329.5M326.05 300.56H329.5M314.09 306.47H319M319 304.19V309.73M319 304.19H322.48M322.48 302.52V305.78M322.48 302.52H324.99M324.99 301.81V303.4M324.99 301.81H326.58M326.58 301.53V302.41M326.58 301.53H329.5M326.58 302.41H329.5M324.99 303.4H326.49M326.49 303.1V303.8M326.49 303.1H329.5M326.49 303.8H329.5M322.48 305.78H324.54M324.54 304.87V306.54M324.54 304.87H326.04M326.04 304.55V305.31M326.04 304.55H329.5M326.04 305.31H329.5M324.54 306.54H326.04M326.04 305.91V306.82M326.04 305.91H329.5M326.04 306.82H329.5M319 309.73H321.65M321.65 308.37V310.64M321.65 308.37H325.76M325.76 307.8V308.71M325.76 307.8H329.5M325.76 308.71H329.5M321.65 310.64H324.64M324.64 309.83V311.19M324.64 309.83H329.5M324.64 311.19H326.14M326.14 310.78V311.6M326.14 310.78H329.5M326.14 311.6H329.5M255.5 317.5H294M294 317.5H309.97M309.97 316.54V323.04M309.97 316.54H316.3M316.3 313.5V318.04M316.3 313.5H323.66M323.66 312.48V313.98M323.66 312.48H329.5M323.66 313.98H325.81M325.81 313.45V314.48M325.81 313.45H329.5M325.81 314.48H329.5M316.3 318.04H321.63M321.63 316.65V319.69M321.63 316.65H324.72M324.72 315.77V317.43M324.72 315.77H326.22M326.22 315.34V316.12M326.22 315.34H329.5M326.22 316.12H329.5M324.72 317.43H326.22M326.22 317.01V317.89M326.22 317.01H329.5M326.22 317.89H329.5M321.63 319.69H324.75M324.75 318.89V320.27M324.75 318.89H329.5M324.75 320.27H326.73M326.73 319.72V320.52M326.73 319.72H329.5M326.73 320.52H329.5M309.97 323.04H323.79M323.79 321.97V323.93M323.79 321.97H325.29M325.29 321.36V322.26M325.29 321.36H329.5M325.29 322.26H329.5M323.79 323.93H325.29M325.29 323.22V324.28M325.29 323.22H329.5M325.29 324.28H326.79M326.79 323.92V324.64M326.79 323.92H329.5M326.79 324.64H329.5M255.5 417H276M276 354V479.5M276 354H295M295 337.5V373M295 337.5H307.12M307.12 331.37V343.87M307.12 331.37H312.84M312.84 328.1V334.47M312.84 328.1H317.98M317.98 326.68V329.78M317.98 326.68H324.51M324.51 325.81V327.49M324.51 325.81H326.45M326.45 325.41V326.22M326.45 325.41H329.5M326.45 326.22H329.5M324.51 327.49H326.38M326.38 327.11V327.98M326.38 327.11H329.5M326.38 327.98H329.5M317.98 329.78H324.23M324.23 329.12V330.54M324.23 329.12H326.21M326.21 328.75V329.51M326.21 328.75H329.5M326.21 329.51H329.5M324.23 330.54H325.73M325.73 330.27V330.94M325.73 330.27H329.5M325.73 330.94H329.5M312.84 334.47H320.9M320.9 333.35V336.61M320.9 333.35H323.26M323.26 332.16V334.3M323.26 332.16H325.9M325.9 331.71V332.66M325.9 331.71H329.5M325.9 332.66H329.5M323.26 334.3H324.97M324.97 333.83V335.02M324.97 333.83H326.68M326.68 333.61V334.32M326.68 333.61H329.5M326.68 334.32H329.5M324.97 335.02H329.5M320.9 336.61H324.1M324.1 335.85V336.97M324.1 335.85H329.5M324.1 336.97H326.75M326.75 336.56V337.33M326.75 336.56H329.5M326.75 337.33H329.5M307.12 343.87H315.61M315.61 340.9V347.04M315.61 340.9H321.81M321.81 339.54V342.71M321.81 339.54H323.92M323.92 338.55V340.35M323.92 338.55H325.94M325.94 338.09V338.9M325.94 338.09H329.5M325.94 338.9H329.5M323.92 340.35H325.42M325.42 339.69V340.68M325.42 339.69H329.5M325.42 340.68H326.93M326.93 340.38V341.05M326.93 340.38H329.5M326.93 341.05H329.5M321.81 342.71H324.56M324.56 341.99V343.35M324.56 341.99H329.5M324.56 343.35H326.57M326.57 342.95V343.67M326.57 342.95H329.5M326.57 343.67H329.5M315.61 347.04H319.72M319.72 345.35V348.31M319.72 345.35H324.41M324.41 344.92V346.2M324.41 344.92H326.07M326.07 344.36V345.21M326.07 344.36H329.5M326.07 345.21H329.5M324.41 346.2H329.5M319.72 348.31H323.48M323.48 347.18V348.87M323.48 347.18H329.5M323.48 348.87H325.3M325.3 348.39V349.52M325.3 348.39H329.5M325.3 349.52H329.5M295 373H304.5M304.5 363V381M304.5 363H310.62M310.62 353.47V363.97M310.62 353.47H320.63M320.63 351.15V354.62M320.63 351.15H325.29M325.29 350.67V351.82M325.29 350.67H326.85M326.85 350.3V350.96M326.85 350.3H329.5M326.85 350.96H329.5M325.29 351.82H329.5M320.63 354.62H323.53M323.53 353.11V355.43M323.53 353.11H325.59M325.59 352.84V353.65M325.59 352.84H329.5M325.59 353.65H329.5M323.53 355.43H325.03M325.03 354.63V356.15M325.03 354.63H326.54M326.54 354.22V354.94M326.54 354.22H329.5M326.54 354.94H329.5M325.03 356.15H326.53M326.53 355.87V356.67M326.53 355.87H329.5M326.53 356.67H329.5M310.62 363.97H316.81M316.81 360.08V367.11M316.81 360.08H320.88M320.88 358.37V361.5M320.88 358.37H324.86M324.86 357.82V359.25M324.86 357.82H326.36M326.36 357.4V358.29M326.36 357.4H329.5M326.36 358.29H329.5M324.86 359.25H329.5M320.88 361.5H324.27M324.27 360.91V362.62M324.27 360.91H326.34M326.34 360.36V361.47M326.34 360.36H329.5M326.34 361.47H329.5M324.27 362.62H329.5M316.81 367.11H320.44M320.44 365.89V369.78M320.44 365.89H322.61M322.61 364.08V366.76M322.61 364.08H325.64M325.64 363.5V364.37M325.64 363.5H329.5M325.64 364.37H329.5M322.61 366.76H324.35M324.35 366.14V367.95M324.35 366.14H325.85M325.85 365.38V366.57M325.85 365.38H329.5M325.85 366.57H327.35M327.35 366.11V366.87M327.35 366.11H329.5M327.35 366.87H329.5M324.35 367.95H329.5M320.44 369.78H325.3M325.3 369.18V370.4M325.3 369.18H329.5M325.3 370.4H329.5M304.5 381H312.53M312.53 376.66V389.66M312.53 376.66H317.03M317.03 373.81V379.47M317.03 373.81H320.55M320.55 372.64V375.46M320.55 372.64H323.4M323.4 372.03V373.68M323.4 372.03H324.9M324.9 371.64V372.68M324.9 371.64H329.5M324.9 372.68H329.5M323.4 373.68H329.5M320.55 375.46H324.1M324.1 375.08V376.26M324.1 375.08H325.71M325.71 374.75V375.55M325.71 374.75H329.5M325.71 375.55H329.5M324.1 376.26H329.5M317.03 379.47H320.97M320.97 377.96V380.8M320.97 377.96H325.21M325.21 377.55V378.89M325.21 377.55H326.78M326.78 376.98V377.91M326.78 376.98H329.5M326.78 377.91H329.5M325.21 378.89H329.5M320.97 380.8H324.07M324.07 380.33V381.84M324.07 380.33H326.08M326.08 379.65V380.69M326.08 379.65H329.5M326.08 380.69H327.58M327.58 380.26V380.94M327.58 380.26H329.5M327.58 380.94H329.5M324.07 381.84H329.5M312.53 389.66H317.76M317.76 386.23V393.58M317.76 386.23H322.37M322.37 383.66V387.58M322.37 383.66H325.08M325.08 382.84V384.19M325.08 382.84H329.5M325.08 384.19H326.58M326.58 383.69V384.51M326.58 383.69H329.5M326.58 384.51H329.5M322.37 387.58H324.82M324.82 385.95V388.53M324.82 385.95H326.4M326.4 385.5V386.45M326.4 385.5H329.5M326.4 386.45H329.5M324.82 388.53H326.32M326.32 387.56V389.18M326.32 387.56H327.82M327.82 387.19V387.85M327.82 387.19H329.5M327.82 387.85H329.5M326.32 389.18H327.82M327.82 388.69V389.66M327.82 388.69H329.5M327.82 389.66H329.5M317.76 393.58H322.34M322.34 392.48V395.9M322.34 392.48H324.65M324.65 391.34V393.66M324.65 391.34H326.33M326.33 390.98V392.17M326.33 390.98H327.83M327.83 390.4V391.23M327.83 390.4H329.5M327.83 391.23H329.5M326.33 392.17H329.5M324.65 393.66H326.23M326.23 393.23V394.37M326.23 393.23H327.73M327.73 392.78V393.49M327.73 392.78H329.5M327.73 393.49H329.5M326.23 394.37H329.5M322.34 395.9H325.74M325.74 395.25V396.34M325.74 395.25H329.5M325.74 396.34H327.24M327.24 396.05V396.71M327.24 396.05H329.5M327.24 396.71H329.5M276 479.5H282.5M282.5 425V530.5M282.5 425H304.5M304.5 408.75V445.5M304.5 408.75H313.17M313.17 402.91V414.41M313.17 402.91H317.18M317.18 398.78V404.68M317.18 398.78H322.25M322.25 398.12V399.89M322.25 398.12H325.85M325.85 397.66V398.77M325.85 397.66H327.35M327.35 397.32V397.97M327.35 397.32H329.5M327.35 397.97H329.5M325.85 398.77H329.5M322.25 399.89H325.76M325.76 399.66V400.32M325.76 399.66H329.5M325.76 400.32H329.5M317.18 404.68H320.17M320.17 402.48V406.61M320.17 402.48H323.73M323.73 401.77V403.7M323.73 401.77H325.41M325.41 401.17V402.39M325.41 401.17H329.5M325.41 402.39H329.5M323.73 403.7H326.74M326.74 403.29V404M326.74 403.29H329.5M326.74 404H329.5M320.17 406.61H323.76M323.76 405.34V407.54M323.76 405.34H325.6M325.6 404.82V405.75M325.6 404.82H329.5M325.6 405.75H329.5M323.76 407.54H325.93M325.93 406.85V408.13M325.93 406.85H329.5M325.93 408.13H327.43M327.43 407.87V408.56M327.43 407.87H329.5M327.43 408.56H329.5M313.17 414.41H319.66M319.66 411.34V416.93M319.66 411.34H323.13M323.13 410.14V412.66M323.13 410.14H325.66M325.66 409.74V411.07M325.66 409.74H327.16M327.16 409.32V410.25M327.16 409.32H329.5M327.16 410.25H329.5M325.66 411.07H329.5M323.13 412.66H325.21M325.21 412.08V413.28M325.21 412.08H329.5M325.21 413.28H329.5M319.66 416.93H322.93M322.93 415.26V418.33M322.93 415.26H325.22M325.22 414.39V415.8M325.22 414.39H329.5M325.22 415.8H326.72M326.72 415.52V416.38M326.72 415.52H329.5M326.72 416.38H329.5M322.93 418.33H324.61M324.61 417.39V419.05M324.61 417.39H326.47M326.47 416.92V417.64M326.47 416.92H329.5M326.47 417.64H329.5M324.61 419.05H326.24M326.24 418.66V419.61M326.24 418.66H329.5M326.24 419.61H329.5M304.5 445.5H312.49M312.49 441.26V474.76M312.49 441.26H318.99M318.99 428.31V449.57M318.99 428.31H322.93M322.93 423.84V432.15M322.93 423.84H324.43M324.43 421.81V425.65M324.43 421.81H325.93M325.93 421.1V422.91M325.93 421.1H327.43M327.43 420.47V421.57M327.43 420.47H329.5M327.43 421.57H329.5M325.93 422.91H327.43M327.43 422.52V423.24M327.43 422.52H329.5M327.43 423.24H329.5M324.43 425.65H325.93M325.93 424.87V426.91M325.93 424.87H327.43M327.43 424V425.26M327.43 424H329.5M327.43 425.26H329.5M325.93 426.91H327.43M327.43 426.48V427.26M327.43 426.48H329.5M327.43 427.26H329.5M322.93 432.15H324.52M324.52 430.5V434.96M324.52 430.5H326.36M326.36 429.39V432.21M326.36 429.39H327.86M327.86 428.44V430.15M327.86 428.44H329.5M327.86 430.15H329.5M326.36 432.21H327.86M327.86 431.8V432.91M327.86 431.8H329.5M327.86 432.91H329.5M324.52 434.96H326.32M326.32 433.86V435.51M326.32 433.86H329.5M326.32 435.51H327.82M327.82 435.05V436.15M327.82 435.05H329.5M327.82 436.15H329.5M318.99 449.57H321.24M321.24 442.37V455.33M321.24 442.37H324.34M324.34 440.58V446.34M324.34 440.58H325.84M325.84 438.67V442.64M325.84 438.67H327.34M327.34 437.45V439.5M327.34 437.45H329.5M327.34 439.5H329.5M325.84 442.64H327.34M327.34 441.52V443.43M327.34 441.52H329.5M327.34 443.43H329.5M324.34 446.34H325.84M325.84 445.15V446.94M325.84 445.15H329.5M325.84 446.94H327.34M327.34 446.57V447.77M327.34 446.57H329.5M327.34 447.77H329.5M321.24 455.33H323.43M323.43 452.42V459.61M323.43 452.42H325.14M325.14 450.79V455.08M325.14 450.79H326.71M326.71 449.43V452.09M326.71 449.43H328.21M328.21 448.82V450.11M328.21 448.82H329.5M328.21 450.11H329.5M326.71 452.09H328.21M328.21 451.32V452.68M328.21 451.32H329.5M328.21 452.68H329.5M325.14 455.08H326.76M326.76 454.57V456.19M326.76 454.57H328.26M328.26 453.97V455.08M328.26 453.97H329.5M328.26 455.08H329.5M326.76 456.19H329.5M323.43 459.61H325.02M325.02 458.46V461.37M325.02 458.46H326.52M326.52 457.93V459.69M326.52 457.93H328.02M328.02 457.27V458.5M328.02 457.27H329.5M328.02 458.5H329.5M326.52 459.69H329.5M325.02 461.37H326.52M326.52 460.81V461.96M326.52 460.81H329.5M326.52 461.96H329.5M312.49 474.76H316.22M316.22 467.77V480M316.22 467.77H319.6M319.6 465.99V471.23M319.6 465.99H322.38M322.38 464.61V468.07M322.38 464.61H324.38M324.38 463.21V465.29M324.38 463.21H326.88M326.88 462.87V463.55M326.88 462.87H329.5M326.88 463.55H329.5M324.38 465.29H326.38M326.38 464.7V466.1M326.38 464.7H327.88M327.88 464.23V465.04M327.88 464.23H329.5M327.88 465.04H329.5M326.38 466.1H329.5M322.38 468.07H324.89M324.89 467.14V468.52M324.89 467.14H329.5M324.89 468.52H326.39M326.39 468.12V469.04M326.39 468.12H329.5M326.39 469.04H329.5M319.6 471.23H322.73M322.73 470.56V472.34M322.73 470.56H325.58M325.58 470.03V471.14M325.58 470.03H329.5M325.58 471.14H329.5M322.73 472.34H325.78M325.78 472.08V472.75M325.78 472.08H329.5M325.78 472.75H329.5M316.22 480H320.1M320.1 477.77V484.76M320.1 477.77H323.4M323.4 475.01V479.77M323.4 475.01H325.77M325.77 474.32V476.32M325.77 474.32H327.27M327.27 473.59V474.91M327.27 473.59H329.5M327.27 474.91H329.5M325.77 476.32H327.27M327.27 475.93V476.61M327.27 475.93H329.5M327.27 476.61H329.5M323.4 479.77H324.9M324.9 478.91V481.67M324.9 478.91H326.55M326.55 477.8V479.71M326.55 477.8H328.05M328.05 477.31V478.1M328.05 477.31H329.5M328.05 478.1H329.5M326.55 479.71H328.05M328.05 479.14V480.25M328.05 479.14H329.5M328.05 480.25H329.5M324.9 481.67H326.4M326.4 481.42V482.27M326.4 481.42H329.5M326.4 482.27H329.5M320.1 484.76H323.07M323.07 483.37V485.61M323.07 483.37H325.58M325.58 482.82V483.66M325.58 482.82H329.5M325.58 483.66H329.5M323.07 485.61H325.24M325.24 485.13V486.53M325.24 485.13H326.74M326.74 484.54V485.46M326.74 484.54H329.5M326.74 485.46H329.5M325.24 486.53H329.5M282.5 530.5H295.5M295.5 505.75V557M295.5 505.75H307.5M307.5 491V520M307.5 491H312.17M312.17 490.11V496.61M312.17 490.11H321.89M321.89 488.31V491.42M321.89 488.31H324.63M324.63 487.49V488.8M324.63 487.49H329.5M324.63 488.8H326.31M326.31 488.49V489.31M326.31 488.49H329.5M326.31 489.31H329.5M321.89 491.42H323.93M323.93 490.8V492.59M323.93 490.8H325.9M325.9 490.12V491.29M325.9 490.12H329.5M325.9 491.29H327.4M327.4 490.89V491.57M327.4 490.89H329.5M327.4 491.57H329.5M323.93 492.59H329.5M312.17 496.61H318.79M318.79 495.57V498.96M318.79 495.57H321.98M321.98 494.42V496.77M321.98 494.42H325.73M325.73 493.71V494.92M325.73 493.71H329.5M325.73 494.92H327.23M327.23 494.45V495.15M327.23 494.45H329.5M327.23 495.15H329.5M321.98 496.77H325.35M325.35 496.08V497.23M325.35 496.08H329.5M325.35 497.23H326.85M326.85 496.8V497.49M326.85 496.8H329.5M326.85 497.49H329.5M318.79 498.96H324.41M324.41 498.24V499.29M324.41 498.24H329.5M324.41 499.29H326.28M326.28 498.9V499.61M326.28 498.9H329.5M326.28 499.61H329.5M307.5 520H314.1M314.1 506.51V524.01M314.1 506.51H318.27M318.27 502.89V509.4M318.27 502.89H321.01M321.01 501.46V504.35M321.01 501.46H323.99M323.99 500.84V502.3M323.99 500.84H325.78M325.78 500.31V501.15M325.78 500.31H329.5M325.78 501.15H329.5M323.99 502.3H329.5M321.01 504.35H324.12M324.12 503.7V505.13M324.12 503.7H326.45M326.45 503.4V504.17M326.45 503.4H329.5M326.45 504.17H329.5M324.12 505.13H326.03M326.03 504.73V505.38M326.03 504.73H329.5M326.03 505.38H329.5M318.27 509.4H322.27M322.27 507.7V511.32M322.27 507.7H325.11M325.11 506.82V508.74M325.11 506.82H326.61M326.61 506.45V507.49M326.61 506.45H328.11M328.11 505.99V506.66M328.11 505.99H329.5M328.11 506.66H329.5M326.61 507.49H329.5M325.11 508.74H326.61M326.61 508.28V509.17M326.61 508.28H329.5M326.61 509.17H329.5M322.27 511.32H324.06M324.06 510.19V511.88M324.06 510.19H329.5M324.06 511.88H325.62M325.62 511.33V512.47M325.62 511.33H329.5M325.62 512.47H329.5M314.1 524.01H319.53M319.53 516.96V527.95M319.53 516.96H323.43M323.43 514.7V518.64M323.43 514.7H325.22M325.22 513.7V515.38M325.22 513.7H326.86M326.86 513.45V514.13M326.86 513.45H329.5M326.86 514.13H329.5M325.22 515.38H326.72M326.72 514.74V515.74M326.72 514.74H329.5M326.72 515.74H329.5M323.43 518.64H324.93M324.93 517.76V520.03M324.93 517.76H326.43M326.43 516.99V518.38M326.43 516.99H329.5M326.43 518.38H327.93M327.93 517.86V518.63M327.93 517.86H329.5M327.93 518.63H329.5M324.93 520.03H326.43M326.43 519.76V520.63M326.43 519.76H329.5M326.43 520.63H329.5M319.53 527.95H322.61M322.61 525.11V532.17M322.61 525.11H325.03M325.03 523.66V527.88M325.03 523.66H326.53M326.53 522.06V524.82M326.53 522.06H328.03M328.03 521.26V522.42M328.03 521.26H329.5M328.03 522.42H329.5M326.53 524.82H328.03M328.03 523.86V525.47M328.03 523.86H329.5M328.03 525.47H329.5M325.03 527.88H326.53M326.53 527.08V528.53M326.53 527.08H329.5M326.53 528.53H328.03M328.03 528.16V528.96M328.03 528.16H329.5M328.03 528.96H329.5M322.61 532.17H324.81M324.81 530.92V533.75M324.81 530.92H326.36M326.36 530.25V531.84M326.36 530.25H327.86M327.86 529.93V530.85M327.86 529.93H329.5M327.86 530.85H329.5M326.36 531.84H327.86M327.86 531.59V532.26M327.86 531.59H329.5M327.86 532.26H329.5M324.81 533.75H326.31M326.31 532.99V534.23M326.31 532.99H329.5M326.31 534.23H327.81M327.81 533.87V534.63M327.81 533.87H329.5M327.81 534.63H329.5M295.5 557H300M300 543V571M300 543H310.99M310.99 538.86V548.86M310.99 538.86H318.63M318.63 536.85V540.71M318.63 536.85H321.53M321.53 536.19V538.04M321.53 536.19H325.41M325.41 535.39V536.58M325.41 535.39H329.5M325.41 536.58H326.91M326.91 536.11V536.91M326.91 536.11H329.5M326.91 536.91H329.5M321.53 538.04H327.1M327.1 537.65V538.3M327.1 537.65H329.5M327.1 538.3H329.5M318.63 540.71H322.94M322.94 539.87V541.88M322.94 539.87H325.3M325.3 539.12V540.3M325.3 539.12H329.5M325.3 540.3H326.8M326.8 540V540.75M326.8 540H329.5M326.8 540.75H329.5M322.94 541.88H325.46M325.46 541.31V542.14M325.46 541.31H329.5M325.46 542.14H329.5M310.99 548.86H316.97M316.97 544.76V550.9M316.97 544.76H321.27M321.27 543.96V546.01M321.27 543.96H324.57M324.57 543.29V544.53M324.57 543.29H329.5M324.57 544.53H326.73M326.73 544.1V544.77M326.73 544.1H329.5M326.73 544.77H329.5M321.27 546.01H325.78M325.78 545.55V546.35M325.78 545.55H329.5M325.78 546.35H329.5M316.97 550.9H320.62M320.62 548.26V552.36M320.62 548.26H323.71M323.71 547.67V549.12M323.71 547.67H325.85M325.85 547.14V547.99M325.85 547.14H329.5M325.85 547.99H329.5M323.71 549.12H329.5M320.62 552.36H322.9M322.9 550.93V553.58M322.9 550.93H324.93M324.93 550.19V551.41M324.93 550.19H329.5M324.93 551.41H326.45M326.45 550.95V551.7M326.45 550.95H329.5M326.45 551.7H329.5M322.9 553.58H325.51M325.51 552.94V554.36M325.51 552.94H327.01M327.01 552.7V553.48M327.01 552.7H329.5M327.01 553.48H329.5M325.51 554.36H329.5M300 571H307.84M307.84 572.36V598.36M307.84 572.36H313.52M313.52 564.84V582.19M313.52 564.84H317.14M317.14 558.87V568.71M317.14 558.87H321.86M321.86 556.82V560.7M321.86 556.82H324.82M324.82 555.83V557.65M324.82 555.83H326.32M326.32 555.34V556.17M326.32 555.34H329.5M326.32 556.17H329.5M324.82 557.65H326.32M326.32 557.14V558.14M326.32 557.14H329.5M326.32 558.14H329.5M321.86 560.7H323.9M323.9 559.46V561.51M323.9 559.46H326.58M326.58 559.03V559.84M326.58 559.03H329.5M326.58 559.84H329.5M323.9 561.51H325.49M325.49 560.99V562.23M325.49 560.99H326.99M326.99 560.49V561.21M326.99 560.49H329.5M326.99 561.21H329.5M325.49 562.23H329.5M317.14 568.71H321.18M321.18 564.69V570.65M321.18 564.69H324.42M324.42 563.71V565.65M324.42 563.71H325.97M325.97 563.16V564.13M325.97 563.16H329.5M325.97 564.13H329.5M324.42 565.65H326.43M326.43 565.11V566.08M326.43 565.11H329.5M326.43 566.08H329.5M321.18 570.65H323.57M323.57 568.25V572.28M323.57 568.25H325.72M325.72 567.42V569.05M325.72 567.42H327.22M327.22 566.98V567.77M327.22 566.98H329.5M327.22 567.77H329.5M325.72 569.05H327.22M327.22 568.72V569.56M327.22 568.72H329.5M327.22 569.56H329.5M323.57 572.28H325.2M325.2 570.99V573.39M325.2 570.99H326.7M326.7 570.58V571.7M326.7 570.58H328.2M328.2 570.35V571.05M328.2 570.35H329.5M328.2 571.05H329.5M326.7 571.7H329.5M325.2 573.39H326.81M326.81 572.75V574.03M326.81 572.75H329.5M326.81 574.03H329.5M313.52 582.19H318.76M318.76 579.87V587.39M318.76 579.87H322.64M322.64 576.71V581.9M322.64 576.71H325.06M325.06 575.28V577.32M325.06 575.28H329.5M325.06 577.32H326.56M326.56 576.46V577.88M326.56 576.46H329.5M326.56 577.88H328.06M328.06 577.47V578.33M328.06 577.47H329.5M328.06 578.33H329.5M322.64 581.9H324.62M324.62 580.74V583.9M324.62 580.74H326.24M326.24 579.62V581.62M326.24 579.62H327.74M327.74 579.25V580.13M327.74 579.25H329.5M327.74 580.13H329.5M326.24 581.62H327.74M327.74 581.26V582.39M327.74 581.26H329.5M327.74 582.39H329.5M324.62 583.9H326.12M326.12 583.35V584.51M326.12 583.35H329.5M326.12 584.51H329.5M318.76 587.39H322.44M322.44 586.46V588.79M322.44 586.46H324.93M324.93 585.62V587.02M324.93 585.62H329.5M324.93 587.02H326.6M326.6 586.6V587.44M326.6 586.6H329.5M326.6 587.44H329.5M322.44 588.79H326.22M326.22 588.16V589.09M326.22 588.16H329.5M326.22 589.09H329.5M307.84 598.36H313.45M313.45 592.7V601.34M313.45 592.7H320.53M320.53 591.18V594.17M320.53 591.18H324.85M324.85 590.67V592.14M324.85 590.67H326.48M326.48 590.2V591.15M326.48 590.2H329.5M326.48 591.15H329.5M324.85 592.14H329.5M320.53 594.17H323.42M323.42 593.54V595.06M323.42 593.54H326.11M326.11 593.04V593.92M326.11 593.04H329.5M326.11 593.92H329.5M323.42 595.06H329.5M313.45 601.34H317.44M317.44 599.29V604.95M317.44 599.29H320.89M320.89 597.37V600.98M320.89 597.37H323.26M323.26 596.75V598.44M323.26 596.75H325.6M325.6 596.16V597.23M325.6 596.16H329.5M325.6 597.23H329.5M323.26 598.44H329.5M320.89 600.98H323.94M323.94 599.77V601.69M323.94 599.77H326.95M326.95 599.54V600.26M326.95 599.54H329.5M326.95 600.26H329.5M323.94 601.69H326.01M326.01 601.18V602.38M326.01 601.18H327.51M327.51 600.81V601.5M327.51 600.81H329.5M327.51 601.5H329.5M326.01 602.38H329.5M317.44 604.95H321.09M321.09 603.55V605.6M321.09 603.55H326.11M326.11 603.1V603.76M326.11 603.1H329.5M326.11 603.76H329.5M321.09 605.6H324.71M324.71 605.18V606.58M324.71 605.18H326.31M326.31 604.51V605.48M326.31 604.51H329.5M326.31 605.48H327.81M327.81 605.11V605.78M327.81 605.11H329.5M327.81 605.78H329.5M324.71 606.58H329.5M265.5 660H280.5M280.5 637.5V683.75M280.5 637.5H296.75M296.75 617.5V655M296.75 617.5H309.88M309.88 614.7V624.45M309.88 614.7H316.19M316.19 611.89V618.09M316.19 611.89H318.9M318.9 610.04V613.43M318.9 610.04H323.28M323.28 609.46V611M323.28 609.46H326.11M326.11 608.83V609.79M326.11 608.83H329.5M326.11 609.79H329.5M323.28 611H329.5M318.9 613.43H322.61M322.61 612.5V614.35M322.61 612.5H326.27M326.27 611.87V612.78M326.27 611.87H329.5M326.27 612.78H329.5M322.61 614.35H325.41M325.41 613.93V614.86M325.41 613.93H329.5M325.41 614.86H329.5M316.19 618.09H321.64M321.64 616.66V619.47M321.64 616.66H324.55M324.55 615.72V617.11M324.55 615.72H329.5M324.55 617.11H326.31M326.31 616.56V617.5M326.31 616.56H329.5M326.31 617.5H329.5M321.64 619.47H325.16M325.16 618.75V620.17M325.16 618.75H326.72M326.72 618.5V619.2M326.72 618.5H329.5M326.72 619.2H329.5M325.16 620.17H326.66M326.66 619.9V620.62M326.66 619.9H329.5M326.66 620.62H329.5M309.88 624.45H319.59M319.59 622.74V626.29M319.59 622.74H322.53M322.53 621.65V623.5M322.53 621.65H325.38M325.38 621.42V622.18M325.38 621.42H329.5M325.38 622.18H329.5M322.53 623.5H325.18M325.18 623.05V624.14M325.18 623.05H329.5M325.18 624.14H329.5M319.59 626.29H324.29M324.29 625.22V626.92M324.29 625.22H329.5M324.29 626.92H326.29M326.29 626.32V627.4M326.29 626.32H329.5M326.29 627.4H329.5M296.75 655H303M303 644.5V666M303 644.5H311.96M311.96 634.83V648.33M311.96 634.83H318.24M318.24 632.67V639.49M318.24 632.67H321.55M321.55 630.91V635.58M321.55 630.91H323.56M323.56 629.34V632.25M323.56 629.34H325.06M325.06 628.81V630.15M325.06 628.81H326.75M326.75 628.55V629.37M326.75 628.55H329.5M326.75 629.37H329.5M325.06 630.15H329.5M323.56 632.25H325.1M325.1 631.31V632.88M325.1 631.31H329.5M325.1 632.88H326.84M326.84 632.44V633.38M326.84 632.44H329.5M326.84 633.38H329.5M321.55 635.58H324.12M324.12 634.61V636.37M324.12 634.61H325.74M325.74 634.18V634.96M325.74 634.18H329.5M325.74 634.96H329.5M324.12 636.37H325.89M325.89 635.8V636.77M325.89 635.8H329.5M325.89 636.77H329.5M318.24 639.49H322.02M322.02 638.06V640.22M322.02 638.06H326.43M326.43 637.62V638.34M326.43 637.62H329.5M326.43 638.34H329.5M322.02 640.22H324.19M324.19 639.61V641.04M324.19 639.61H326.42M326.42 639.09V639.9M326.42 639.09H329.5M326.42 639.9H329.5M324.19 641.04H329.5M311.96 648.33H317.46M317.46 643.68V650.35M317.46 643.68H322.55M322.55 642.52V644.55M322.55 642.52H325.66M325.66 641.99V642.85M325.66 641.99H329.5M325.66 642.85H329.5M322.55 644.55H324.88M324.88 644.09V645.25M324.88 644.09H326.86M326.86 643.72V644.42M326.86 643.72H329.5M326.86 644.42H329.5M324.88 645.25H329.5M317.46 650.35H321.75M321.75 647.86V652.51M321.75 647.86H324.57M324.57 646.59V648.74M324.57 646.59H326.07M326.07 646.09V646.97M326.07 646.09H329.5M326.07 646.97H329.5M324.57 648.74H326.19M326.19 648.35V649.63M326.19 648.35H327.69M327.69 647.87V648.75M327.69 647.87H329.5M327.69 648.75H329.5M326.19 649.63H329.5M321.75 652.51H324.52M324.52 651.38V653.87M324.52 651.38H326.02M326.02 650.76V652.13M326.02 650.76H327.52M327.52 650.27V651.02M327.52 650.27H329.5M327.52 651.02H329.5M326.02 652.13H329.5M324.52 653.87H326.02M326.02 653.28V654.41M326.02 653.28H329.5M326.02 654.41H329.5M303 666H311.38M311.38 659.54V669.54M311.38 659.54H318.64M318.64 657.4V661.94M318.64 657.4H322.91M322.91 656.32V658.72M322.91 656.32H324.77M324.77 655.71V657.03M324.77 655.71H326.52M326.52 655.35V656.06M326.52 655.35H329.5M326.52 656.06H329.5M324.77 657.03H329.5M322.91 658.72H324.58M324.58 658.1V659.18M324.58 658.1H329.5M324.58 659.18H329.5M318.64 661.94H321.5M321.5 660.79V662.92M321.5 660.79H324.67M324.67 660.49V661.47M324.67 660.49H326.38M326.38 660.24V660.92M326.38 660.24H329.5M326.38 660.92H329.5M324.67 661.47H329.5M321.5 662.92H324.56M324.56 662.5V663.65M324.56 662.5H326.06M326.06 662.28V663.01M326.06 662.28H329.5M326.06 663.01H329.5M324.56 663.65H329.5M311.38 669.54H318.17M318.17 667.27V672.73M318.17 667.27H320.98M320.98 665.62V668.81M320.98 665.62H323.71M323.71 664.66V666.2M323.71 664.66H329.5M323.71 666.2H325.87M325.87 665.56V666.51M325.87 665.56H329.5M325.87 666.51H329.5M320.98 668.81H323.35M323.35 667.97V669.63M323.35 667.97H326.31M326.31 667.68V668.5M326.31 667.68H329.5M326.31 668.5H329.5M323.35 669.63H325.38M325.38 669.35V670.18M325.38 669.35H329.5M325.38 670.18H329.5M318.17 672.73H322.36M322.36 671.48V673.74M322.36 671.48H326.06M326.06 670.91V671.92M326.06 670.91H329.5M326.06 671.92H329.5M322.36 673.74H324.02M324.02 672.92V674.18M324.02 672.92H329.5M324.02 674.18H326.41M326.41 673.88V674.7M326.41 673.88H329.5M326.41 674.7H329.5M280.5 683.75H295.5M295.5 678V690M295.5 678H317.56M317.56 676.32V680.32M317.56 676.32H323.27M323.27 675.73V677.04M323.27 675.73H325.61M325.61 675.27V676M325.61 675.27H329.5M325.61 676H329.5M323.27 677.04H329.5M317.56 680.32H321.31M321.31 678.45V681.14M321.31 678.45H326.14M326.14 678.08V678.91M326.14 678.08H329.5M326.14 678.91H329.5M321.31 681.14H323.63M323.63 680.35V682.21M323.63 680.35H325.83M325.83 679.9V680.97M325.83 679.9H329.5M325.83 680.97H329.5M323.63 682.21H326.04M326.04 681.7V682.49M326.04 681.7H329.5M326.04 682.49H329.5M295.5 690H311.24M311.24 685.66V691.66M311.24 685.66H322.24M322.24 684.53V687.19M322.24 684.53H324.62M324.62 683.65V685.18M324.62 683.65H326.57M326.57 683.36V684.01M326.57 683.36H329.5M326.57 684.01H329.5M324.62 685.18H326.12M326.12 684.71V685.59M326.12 684.71H329.5M326.12 685.59H329.5M322.24 687.19H325.04M325.04 686.83V687.95M325.04 686.83H326.54M326.54 686.37V687.13M326.54 686.37H329.5M326.54 687.13H329.5M325.04 687.95H329.5M311.24 691.66H319.18M319.18 690.49V693.83M319.18 690.49H322.93M322.93 689.55V691.72M322.93 689.55H324.73M324.73 688.88V690.12M324.73 688.88H329.5M324.73 690.12H326.23M326.23 689.77V690.44M326.23 689.77H329.5M326.23 690.44H329.5M322.93 691.72H326.33M326.33 691.18V692.11M326.33 691.18H329.5M326.33 692.11H329.5M319.18 693.83H324.94M324.94 693.14V694.32M324.94 693.14H329.5M324.94 694.32H326.44M326.44 693.9V694.59M326.44 693.9H329.5M326.44 694.59H329.5M265.5 776H276.25M276.25 738.75V814.5M276.25 738.75H298M298 716V763.75M298 716H308M308 705V727.5M308 705H316.03M316.03 701.58V711.58M316.03 701.58H320.29M320.29 697.87V704.46M320.29 697.87H322.4M322.4 696.54V699.41M322.4 696.54H325.1M325.1 696.01V697.56M325.1 696.01H326.6M326.6 695.46V696.47M326.6 695.46H329.5M326.6 696.47H329.5M325.1 697.56H329.5M322.4 699.41H324.29M324.29 698.67V700M324.29 698.67H329.5M324.29 700H325.79M325.79 699.48V700.23M325.79 699.48H329.5M325.79 700.23H329.5M320.29 704.46H323.11M323.11 702.4V706.1M323.11 702.4H325.26M325.26 701.68V703.33M325.26 701.68H326.76M326.76 701.39V702.33M326.76 701.39H329.5M326.76 702.33H329.5M325.26 703.33H326.76M326.76 703.07V703.78M326.76 703.07H329.5M326.76 703.78H329.5M323.11 706.1H324.77M324.77 705.48V707.54M324.77 705.48H326.27M326.27 704.71V706.15M326.27 704.71H327.77M327.77 704.51V705.17M327.77 704.51H329.5M327.77 705.17H329.5M326.27 706.15H327.77M327.77 705.65V706.42M327.77 705.65H329.5M327.77 706.42H329.5M324.77 707.54H329.5M316.03 711.58H319.87M319.87 709.3V712.72M319.87 709.3H325.62M325.62 708.79V709.93M325.62 708.79H329.5M325.62 709.93H329.5M319.87 712.72H323.24M323.24 711.87V714.14M323.24 711.87H324.77M324.77 710.94V712.36M324.77 710.94H329.5M324.77 712.36H326.65M326.65 712.03V712.96M326.65 712.03H329.5M326.65 712.96H329.5M323.24 714.14H325M325 713.55V714.41M325 713.55H329.5M325 714.41H329.5M308 727.5H314.3M314.3 721.42V733.92M314.3 721.42H317.98M317.98 717.7V724.12M317.98 717.7H322.3M322.3 716.42V719.12M322.3 716.42H325.05M325.05 715.72V717.14M325.05 715.72H326.55M326.55 715.29V716.01M326.55 715.29H329.5M326.55 716.01H329.5M325.05 717.14H326.78M326.78 716.71V717.41M326.78 716.71H329.5M326.78 717.41H329.5M322.3 719.12H324.63M324.63 718.46V719.74M324.63 718.46H329.5M324.63 719.74H326.48M326.48 719.5V720.16M326.48 719.5H329.5M326.48 720.16H329.5M317.98 724.12H320.46M320.46 722.3V726.01M320.46 722.3H323.17M323.17 721.62V723.52M323.17 721.62H325.18M325.18 720.77V722M325.18 720.77H329.5M325.18 722H326.68M326.68 721.65V722.5M326.68 721.65H329.5M326.68 722.5H329.5M323.17 723.52H326.06M326.06 723.19V723.86M326.06 723.19H329.5M326.06 723.86H329.5M320.46 726.01H324.47M324.47 724.96V726.78M324.47 724.96H325.97M325.97 724.68V725.45M325.97 724.68H329.5M325.97 725.45H329.5M324.47 726.78H326.07M326.07 726.07V727.13M326.07 726.07H329.5M326.07 727.13H327.57M327.57 726.9V727.6M327.57 726.9H329.5M327.57 727.6H329.5M314.3 733.92H318.89M318.89 731.25V737.33M318.89 731.25H321.13M321.13 729.64V733.05M321.13 729.64H323.12M323.12 728.66V730.46M323.12 728.66H326.2M326.2 728.17V728.99M326.2 728.17H329.5M326.2 728.99H329.5M323.12 730.46H325.65M325.65 729.96V730.94M325.65 729.96H329.5M325.65 730.94H329.5M321.13 733.05H323.99M323.99 732.21V733.83M323.99 732.21H326.75M326.75 731.69V732.47M326.75 731.69H329.5M326.75 732.47H329.5M323.99 733.83H325.77M325.77 733.38V734.21M325.77 733.38H329.5M325.77 734.21H329.5M318.89 737.33H322.92M322.92 735.86V738.53M322.92 735.86H325.16M325.16 735.14V736.33M325.16 735.14H329.5M325.16 736.33H326.66M326.66 735.83V736.55M326.66 735.83H329.5M326.66 736.55H329.5M322.92 738.53H324.42M324.42 737.51V738.98M324.42 737.51H329.5M324.42 738.98H325.92M325.92 738.41V739.43M325.92 738.41H329.5M325.92 739.43H329.5M298 763.75H306M306 750V777.5M306 750H313.67M313.67 744.63V755.63M313.67 744.63H318.13M318.13 741.97V746.6M318.13 741.97H322.7M322.7 741.19V743.16M322.7 741.19H325.75M325.75 740.48V741.66M325.75 740.48H329.5M325.75 741.66H327.25M327.25 741.28V741.99M327.25 741.28H329.5M327.25 741.99H329.5M322.7 743.16H325.41M325.41 742.7V743.48M325.41 742.7H329.5M325.41 743.48H329.5M318.13 746.6H322.49M322.49 745.78V748.44M322.49 745.78H324.83M324.83 744.73V746.57M324.83 744.73H326.33M326.33 744.38V745.17M326.33 744.38H329.5M326.33 745.17H329.5M324.83 746.57H326.33M326.33 745.85V746.91M326.33 745.85H329.5M326.33 746.91H327.83M327.83 746.67V747.39M327.83 746.67H329.5M327.83 747.39H329.5M322.49 748.44H325.67M325.67 748.17V748.98M325.67 748.17H329.5M325.67 748.98H329.5M313.67 755.63H318.16M318.16 751.18V757.55M318.16 751.18H322.07M322.07 750.35V752.28M322.07 750.35H324.02M324.02 749.61V750.72M324.02 749.61H329.5M324.02 750.72H325.73M325.73 750.42V751.16M325.73 750.42H329.5M325.73 751.16H329.5M322.07 752.28H326.07M326.07 751.85V752.67M326.07 751.85H329.5M326.07 752.67H329.5M318.16 757.55H321.97M321.97 755.75V760.19M321.97 755.75H324.81M324.81 754.78V757.42M324.81 754.78H326.31M326.31 753.68V755.36M326.31 753.68H329.5M326.31 755.36H327.81M327.81 755.01V756.1M327.81 755.01H329.5M327.81 756.1H329.5M324.81 757.42H326.31M326.31 756.95V757.92M326.31 756.95H329.5M326.31 757.92H329.5M321.97 760.19H324.8M324.8 759.56V761.37M324.8 759.56H326.65M326.65 758.94V760.11M326.65 758.94H329.5M326.65 760.11H329.5M324.8 761.37H329.5M306 777.5H312.23M312.23 776.77V798.77M312.23 776.77H316.76M316.76 768.72V783.49M316.76 768.72H321.59M321.59 766.01V772.74M321.59 766.01H323.82M323.82 763.53V767.54M323.82 763.53H325.91M325.91 762.67V764.2M325.91 762.67H327.41M327.41 762.31V762.98M327.41 762.31H329.5M327.41 762.98H329.5M325.91 764.2H327.41M327.41 763.72V764.58M327.41 763.72H329.5M327.41 764.58H329.5M323.82 767.54H325.55M325.55 766.78V769.26M325.55 766.78H327.05M327.05 765.73V767.45M327.05 765.73H328.55M328.55 765.42V766.09M328.55 765.42H329.5M328.55 766.09H329.5M327.05 767.45H328.55M328.55 767.07V768.11M328.55 767.07H329.5M328.55 768.11H329.5M325.55 769.26H327.05M327.05 768.9V769.66M327.05 768.9H329.5M327.05 769.66H329.5M321.59 772.74H323.31M323.31 771.33V774.04M323.31 771.33H325.5M325.5 770.81V772.12M325.5 770.81H327M327 770.53V771.31M327 770.53H329.5M327 771.31H329.5M325.5 772.12H329.5M323.31 774.04H325.32M325.32 773.38V774.78M325.32 773.38H326.82M326.82 772.91V773.65M326.82 772.91H329.5M326.82 773.65H329.5M325.32 774.78H326.82M326.82 774.53V775.19M326.82 774.53H329.5M326.82 775.19H329.5M316.76 783.49H319.86M319.86 778.56V786.61M319.86 778.56H322.68M322.68 777.14V780.26M322.68 777.14H324.46M324.46 776.35V778.04M324.46 776.35H325.96M325.96 775.96V776.87M325.96 775.96H329.5M325.96 776.87H329.5M324.46 778.04H326.19M326.19 777.72V778.51M326.19 777.72H329.5M326.19 778.51H329.5M322.68 780.26H324.64M324.64 779.68V781.1M324.64 779.68H326.34M326.34 779.09V779.93M326.34 779.09H329.5M326.34 779.93H329.5M324.64 781.1H329.5M319.86 786.61H323.22M323.22 783.73V788.66M323.22 783.73H325.57M325.57 782.69V784.75M325.57 782.69H327.07M327.07 782.1V783.11M327.07 782.1H329.5M327.07 783.11H329.5M325.57 784.75H327.07M327.07 784.09V785.13M327.07 784.09H329.5M327.07 785.13H328.57M328.57 784.83V785.49M328.57 784.83H329.5M328.57 785.49H329.5M323.22 788.66H324.81M324.81 787.27V790.14M324.81 787.27H326.31M326.31 786.69V788.17M326.31 786.69H327.81M327.81 786.4V787.3M327.81 786.4H329.5M327.81 787.3H329.5M326.31 788.17H329.5M324.81 790.14H326.31M326.31 789.29V790.69M326.31 789.29H329.5M326.31 790.69H327.81M327.81 790.34V791.19M327.81 790.34H329.5M327.81 791.19H329.5M312.23 798.77H317.39M317.39 795.34V802.57M317.39 795.34H321.67M321.67 794.12V797.93M321.67 794.12H323.33M323.33 792.99V795.58M323.33 792.99H325.11M325.11 792.03V793.49M325.11 792.03H329.5M325.11 793.49H326.76M326.76 793.2V794.16M326.76 793.2H328.26M328.26 792.75V793.41M328.26 792.75H329.5M328.26 793.41H329.5M326.76 794.16H329.5M323.33 795.58H325.72M325.72 794.8V795.93M325.72 794.8H329.5M325.72 795.93H327.22M327.22 795.6V796.38M327.22 795.6H329.5M327.22 796.38H329.5M321.67 797.93H323.9M323.9 797.33V798.55M323.9 797.33H329.5M323.9 798.55H329.5M317.39 802.57H321.35M321.35 800.43V803.86M321.35 800.43H324.45M324.45 799.79V801.07M324.45 799.79H329.5M324.45 801.07H329.5M321.35 803.86H323.46M323.46 802.71V804.86M323.46 802.71H325.78M325.78 802.21V803.21M325.78 802.21H329.5M325.78 803.21H329.5M323.46 804.86H324.96M324.96 804.31V805.46M324.96 804.31H329.5M324.96 805.46H329.5M276.25 814.5H296M296 808.75V820M296 808.75H319.25M319.25 807.95V812.45M319.25 807.95H322.11M322.11 807.35V809.3M322.11 807.35H323.69M323.69 806.87V808.22M323.69 806.87H325.99M325.99 806.43V807.3M325.99 806.43H329.5M325.99 807.3H329.5M323.69 808.22H329.5M322.11 809.3H329.5M319.25 812.45H321.94M321.94 811.3V813.84M321.94 811.3H323.94M323.94 810.37V811.76M323.94 810.37H329.5M323.94 811.76H325.52M325.52 811.13V812.05M325.52 811.13H329.5M325.52 812.05H329.5M321.94 813.84H325.69M325.69 813.47V814.63M325.69 813.47H327.19M327.19 813.18V813.97M327.19 813.18H329.5M327.19 813.97H329.5M325.69 814.63H329.5M296 820H308.31M308.31 819.52V828.02M308.31 819.52H315.65M315.65 816.36V820.88M315.65 816.36H325.33M325.33 815.94V817.3M325.33 815.94H326.83M326.83 815.41V816.34M326.83 815.41H329.5M326.83 816.34H329.5M325.33 817.3H329.5M315.65 820.88H321.15M321.15 819.64V822.8M321.15 819.64H323.54M323.54 818.7V820.62M323.54 818.7H325.69M325.69 818.19V819.17M325.69 818.19H329.5M325.69 819.17H329.5M323.54 820.62H325.99M325.99 820.03V820.97M325.99 820.03H329.5M325.99 820.97H329.5M321.15 822.8H325.41M325.41 822.17V823.41M325.41 822.17H329.5M325.41 823.41H329.5M308.31 828.02H316.74M316.74 825.62V829.59M316.74 825.62H323.3M323.3 824.85V826.42M323.3 824.85H326.34M326.34 824.34V825.14M326.34 824.34H329.5M326.34 825.14H329.5M323.3 826.42H326.46M326.46 825.98V826.75M326.46 825.98H329.5M326.46 826.75H329.5M316.74 829.59H320.82M320.82 828.67V831.08M320.82 828.67H324.16M324.16 828.09V829.57M324.16 828.09H326.09M326.09 827.61V828.5M326.09 827.61H329.5M326.09 828.5H329.5M324.16 829.57H329.5M320.82 831.08H324.67M324.67 830.56V831.49M324.67 830.56H329.5M324.67 831.49H329.5M245.5 865H269.5M269.5 842V887M269.5 842H300M300 842H305.96M305.96 836.09V845.09M305.96 836.09H319.92M319.92 834.51V838.6M319.92 834.51H322.24M322.24 833.13V835.64M322.24 833.13H325.38M325.38 832.68V833.81M325.38 832.68H326.88M326.88 832.21V832.88M326.88 832.21H329.5M326.88 832.88H329.5M325.38 833.81H329.5M322.24 835.64H324.59M324.59 834.72V836.09M324.59 834.72H329.5M324.59 836.09H326.41M326.41 835.52V836.45M326.41 835.52H329.5M326.41 836.45H329.5M319.92 838.6H322.67M322.67 838.08V839.67M322.67 838.08H325.45M325.45 837.4V838.46M325.45 837.4H329.5M325.45 838.46H326.95M326.95 838.04V838.72M326.95 838.04H329.5M326.95 838.72H329.5M322.67 839.67H329.5M305.96 845.09H318.58M318.58 843.39V848.3M318.58 843.39H320.88M320.88 841.73V844.93M320.88 841.73H324.13M324.13 840.82V842.36M324.13 840.82H329.5M324.13 842.36H326.2M326.2 841.79V842.7M326.2 841.79H329.5M326.2 842.7H329.5M320.88 844.93H324.24M324.24 843.98V845.64M324.24 843.98H326.74M326.74 843.63V844.33M326.74 843.63H329.5M326.74 844.33H329.5M324.24 845.64H325.75M325.75 845.26V846.22M325.75 845.26H329.5M325.75 846.22H329.5M318.58 848.3H323.3M323.3 847.16V848.86M323.3 847.16H329.5M323.3 848.86H325.68M325.68 848.21V849.35M325.68 848.21H329.5M325.68 849.35H327.18M327.18 849.02V849.67M327.18 849.02H329.5M327.18 849.67H329.5M269.5 887H283M283 858.75V913.75M283 858.75H297.5M297.5 852.5V866M297.5 852.5H319.1M319.1 852.37V856.87M319.1 852.37H322.46M322.46 851.64V854.01M322.46 851.64H324.43M324.43 851.04V852.68M324.43 851.04H326.26M326.26 850.71V851.75M326.26 850.71H327.76M327.76 850.43V851.14M327.76 850.43H329.5M327.76 851.14H329.5M326.26 851.75H329.5M324.43 852.68H329.5M322.46 854.01H326.3M326.3 853.54V854.28M326.3 853.54H329.5M326.3 854.28H329.5M319.1 856.87H323.4M323.4 855.56V857.69M323.4 855.56H326.69M326.69 855.25V856.07M326.69 855.25H329.5M326.69 856.07H329.5M323.4 857.69H325.04M325.04 857.02V858.33M325.04 857.02H329.5M325.04 858.33H326.82M326.82 857.94V858.61M326.82 857.94H329.5M326.82 858.61H329.5M297.5 866H316.83M316.83 862.56V869.06M316.83 862.56H320.7M320.7 860.96V864.51M320.7 860.96H323.59M323.59 860.28V862.23M323.59 860.28H325.46M325.46 859.66V860.94M325.46 859.66H326.96M326.96 859.44V860.1M326.96 859.44H329.5M326.96 860.1H329.5M325.46 860.94H329.5M323.59 862.23H326.73M326.73 861.99V862.67M326.73 861.99H329.5M326.73 862.67H329.5M320.7 864.51H323.93M323.93 863.72V865.32M323.93 863.72H325.84M325.84 863.21V864.02M325.84 863.21H329.5M325.84 864.02H329.5M323.93 865.32H325.9M325.9 864.95V865.75M325.9 864.95H329.5M325.9 865.75H329.5M316.83 869.06H321.86M321.86 867.33V870.28M321.86 867.33H325.59M325.59 866.65V867.87M325.59 866.65H329.5M325.59 867.87H327.09M327.09 867.64V868.32M327.09 867.64H329.5M327.09 868.32H329.5M321.86 870.28H324.33M324.33 869.07V870.79M324.33 869.07H329.5M324.33 870.79H326.12M326.12 870.23V871.43M326.12 870.23H329.5M326.12 871.43H329.5M283 913.75H295M295 895.5V934.5M295 895.5H306M306 883.75V905M306 883.75H313.23M313.23 875.7V886.7M313.23 875.7H318.81M318.81 874.06V877.75M318.81 874.06H322.49M322.49 872.98V875.04M322.49 872.98H326.17M326.17 872.39V873.37M326.17 872.39H329.5M326.17 873.37H329.5M322.49 875.04H324.43M324.43 874.39V875.47M324.43 874.39H329.5M324.43 875.47H329.5M318.81 877.75H322.43M322.43 876.88V878.52M322.43 876.88H325.95M325.95 876.5V877.27M325.95 876.5H329.5M325.95 877.27H329.5M322.43 878.52H325.76M325.76 878.21V879.08M325.76 878.21H329.5M325.76 879.08H329.5M313.23 886.7H318.62M318.62 882.16V889.46M318.62 882.16H321.96M321.96 881.11V883.88M321.96 881.11H323.59M323.59 880.38V882.1M323.59 880.38H325.11M325.11 880.01V880.99M325.11 880.01H329.5M325.11 880.99H329.5M323.59 882.1H325.75M325.75 881.82V882.55M325.75 881.82H329.5M325.75 882.55H329.5M321.96 883.88H325.58M325.58 883.53V884.57M325.58 883.53H327.08M327.08 883.13V883.83M327.08 883.13H329.5M327.08 883.83H329.5M325.58 884.57H329.5M318.62 889.46H321.64M321.64 887.94V892.48M321.64 887.94H323.77M323.77 885.9V888.92M323.77 885.9H325.94M325.94 885.6V886.59M325.94 885.6H327.44M327.44 885.18V885.86M327.44 885.18H329.5M327.44 885.86H329.5M325.94 886.59H329.5M323.77 888.92H325.27M325.27 888.3V890.33M325.27 888.3H326.86M326.86 887.72V889.13M326.86 887.72H328.36M328.36 887.39V888.23M328.36 887.39H329.5M328.36 888.23H329.5M326.86 889.13H329.5M325.27 890.33H329.5M321.64 892.48H323.41M323.41 891.76V893.28M323.41 891.76H325.2M325.2 891.35V892.16M325.2 891.35H329.5M325.2 892.16H329.5M323.41 893.28H326.38M326.38 892.78V893.5M326.38 892.78H329.5M326.38 893.5H329.5M306 905H311.68M311.68 897.72V907.22M311.68 897.72H317.99M317.99 896.15V899.87M317.99 896.15H322.2M322.2 894.88V897.03M322.2 894.88H326.24M326.24 894.51V895.38M326.24 894.51H329.5M326.24 895.38H329.5M322.2 897.03H324.64M324.64 896.61V897.88M324.64 896.61H326.3M326.3 896.34V897.19M326.3 896.34H329.5M326.3 897.19H329.5M324.64 897.88H329.5M317.99 899.87H323.4M323.4 899.25V900.83M323.4 899.25H325.76M325.76 898.78V899.74M325.76 898.78H329.5M325.76 899.74H329.5M323.4 900.83H329.5M311.68 907.22H318.68M318.68 905.17V910.95M318.68 905.17H321.99M321.99 903.67V907.4M321.99 903.67H324.69M324.69 902.62V904.85M324.69 902.62H326.3M326.3 901.83V903.01M326.3 901.83H329.5M326.3 903.01H327.8M327.8 902.62V903.42M327.8 902.62H329.5M327.8 903.42H329.5M324.69 904.85H326.19M326.19 904.3V905.34M326.19 904.3H329.5M326.19 905.34H329.5M321.99 907.4H324.64M324.64 906.63V908.13M324.64 906.63H326.46M326.46 906.24V906.98M326.46 906.24H329.5M326.46 906.98H329.5M324.64 908.13H326.14M326.14 907.76V908.53M326.14 907.76H329.5M326.14 908.53H329.5M318.68 910.95H322.04M322.04 910.25V912.3M322.04 910.25H324.9M324.9 909.84V911.2M324.9 909.84H326.56M326.56 909.47V910.42M326.56 909.47H329.5M326.56 910.42H329.5M324.9 911.2H329.5M322.04 912.3H326.94M326.94 911.97V912.67M326.94 911.97H329.5M326.94 912.67H329.5M295 934.5H306M306 922.5V947.5M306 922.5H312.02M312.02 919.5V930.5M312.02 919.5H316.33M316.33 916.63V923.13M316.33 916.63H320.39M320.39 914.72V918.35M320.39 914.72H324.45M324.45 914.17V915.89M324.45 914.17H326.42M326.42 913.38V914.56M326.42 913.38H329.5M326.42 914.56H327.92M327.92 914.14V914.93M327.92 914.14H329.5M327.92 914.93H329.5M324.45 915.89H329.5M320.39 918.35H323.98M323.98 917.45V919.36M323.98 917.45H325.74M325.74 917V918.02M325.74 917H329.5M325.74 918.02H329.5M323.98 919.36H325.51M325.51 918.75V919.65M325.51 918.75H329.5M325.51 919.65H329.5M316.33 923.13H321.26M321.26 921.19V924.05M321.26 921.19H325.61M325.61 920.57V921.49M325.61 920.57H329.5M325.61 921.49H329.5M321.26 924.05H323.78M323.78 922.78V924.72M323.78 922.78H325.74M325.74 922.44V923.1M325.74 922.44H329.5M325.74 923.1H329.5M323.78 924.72H325.71M325.71 924.33V925.6M325.71 924.33H327.21M327.21 923.78V924.67M327.21 923.78H329.5M327.21 924.67H329.5M325.71 925.6H329.5M312.02 930.5H317.23M317.23 928.09V932.59M317.23 928.09H322.73M322.73 926.84V928.93M322.73 926.84H325.31M325.31 926.4V927.24M325.31 926.4H329.5M325.31 927.24H329.5M322.73 928.93H324.91M324.91 928.28V929.53M324.91 928.28H329.5M324.91 929.53H329.5M317.23 932.59H322.3M322.3 931.3V933.71M322.3 931.3H325.38M325.38 930.72V931.84M325.38 930.72H329.5M325.38 931.84H329.5M322.3 933.71H324.54M324.54 933.04V934.33M324.54 933.04H329.5M324.54 934.33H326.55M326.55 934.12V934.79M326.55 934.12H329.5M326.55 934.79H329.5M306 947.5H313.51M313.51 943.53V958.53M313.51 943.53H318.96M318.96 940.03V948.55M318.96 940.03H321.79M321.79 937.85V942.88M321.79 937.85H323.87M323.87 936.11V938.97M323.87 936.11H325.51M325.51 935.77V936.88M325.51 935.77H327.01M327.01 935.24V936.01M327.01 935.24H329.5M327.01 936.01H329.5M325.51 936.88H329.5M323.87 938.97H325.37M325.37 937.93V939.67M325.37 937.93H326.87M326.87 937.55V938.25M326.87 937.55H329.5M326.87 938.25H329.5M325.37 939.67H326.87M326.87 939.32V940.36M326.87 939.32H328.37M328.37 939.07V939.76M328.37 939.07H329.5M328.37 939.76H329.5M326.87 940.36H329.5M321.79 942.88H324.27M324.27 941.87V944.05M324.27 941.87H325.77M325.77 941.4V942.57M325.77 941.4H327.27M327.27 941.11V941.81M327.27 941.11H329.5M327.27 941.81H329.5M325.77 942.57H329.5M324.27 944.05H325.8M325.8 943.74V944.75M325.8 943.74H327.3M327.3 943.34V944.04M327.3 943.34H329.5M327.3 944.04H329.5M325.8 944.75H329.5M318.96 948.55H321.17M321.17 946.49V949.99M321.17 946.49H323.92M323.92 945.77V947.2M323.92 945.77H326.73M326.73 945.52V946.24M326.73 945.52H329.5M326.73 946.24H329.5M323.92 947.2H325.96M325.96 946.93V947.65M325.96 946.93H329.5M325.96 947.65H329.5M321.17 949.99H324.26M324.26 949.04V951.11M324.26 949.04H325.8M325.8 948.7V949.82M325.8 948.7H327.3M327.3 948.27V949.05M327.3 948.27H329.5M327.3 949.05H329.5M325.8 949.82H329.5M324.26 951.11H326.28M326.28 950.56V951.51M326.28 950.56H329.5M326.28 951.51H329.5M313.51 958.53H317.7M317.7 956.14V962.61M317.7 956.14H321.77M321.77 953.87V957.95M321.77 953.87H324.83M324.83 952.87V954.68M324.83 952.87H326.56M326.56 952.4V953.22M326.56 952.4H329.5M326.56 953.22H329.5M324.83 954.68H326.33M326.33 954.08V955.08M326.33 954.08H329.5M326.33 955.08H329.5M321.77 957.95H324.68M324.68 956.44V958.71M324.68 956.44H326.18M326.18 955.99V956.75M326.18 955.99H329.5M326.18 956.75H329.5M324.68 958.71H326.18M326.18 957.67V959.18M326.18 957.67H329.5M326.18 959.18H327.68M327.68 958.54V959.59M327.68 958.54H329.5M327.68 959.59H329.5M317.7 962.61H320.96M320.96 961.27V963.65M320.96 961.27H324.46M324.46 960.74V961.77M324.46 960.74H329.5M324.46 961.77H329.5M320.96 963.65H324.77M324.77 963.15V964.49M324.77 963.15H326.27M326.27 962.89V963.73M326.27 962.89H329.5M326.27 963.73H329.5M324.77 964.49H329.5M245.5 985H250M250 974V998.75M250 974H286.25M286.25 963.75V981M286.25 963.75H315.48M315.48 965.56V972.06M315.48 965.56H320.76M320.76 963.55V967.12M320.76 963.55H323.92M323.92 962.98V964.54M323.92 962.98H325.42M325.42 962.36V963.34M325.42 962.36H329.5M325.42 963.34H329.5M323.92 964.54H329.5M320.76 967.12H323.07M323.07 965.88V967.89M323.07 965.88H325.41M325.41 965.41V966.19M325.41 965.41H329.5M325.41 966.19H329.5M323.07 967.89H325.35M325.35 967.38V968.61M325.35 967.38H326.88M326.88 966.89V967.62M326.88 966.89H329.5M326.88 967.62H329.5M325.35 968.61H329.5M315.48 972.06H319.57M319.57 970.69V973.63M319.57 970.69H324.81M324.81 969.81V971.38M324.81 969.81H326.31M326.31 969.57V970.26M326.31 969.57H329.5M326.31 970.26H329.5M324.81 971.38H326.59M326.59 970.78V971.65M326.59 970.78H329.5M326.59 971.65H329.5M319.57 973.63H323.78M323.78 972.82V974.19M323.78 972.82H329.5M323.78 974.19H325.63M325.63 973.73V974.54M325.63 973.73H329.5M325.63 974.54H329.5M286.25 981H311.95M311.95 978.93V986.43M311.95 978.93H319.05M319.05 976.57V980.51M319.05 976.57H324.27M324.27 975.48V977.05M324.27 975.48H329.5M324.27 977.05H325.77M325.77 976.41V977.5M325.77 976.41H329.5M325.77 977.5H329.5M319.05 980.51H323.13M323.13 979.3V981.66M323.13 979.3H325.28M325.28 978.9V980.05M325.28 978.9H326.78M326.78 978.57V979.32M326.78 978.57H329.5M326.78 979.32H329.5M325.28 980.05H329.5M323.13 981.66H325.04M325.04 981.01V982.22M325.04 981.01H329.5M325.04 982.22H329.5M311.95 986.43H319.6M319.6 984.61V988.17M319.6 984.61H323.2M323.2 983.94V985.68M323.2 983.94H325.44M325.44 983.2V984.27M325.44 983.2H329.5M325.44 984.27H327.04M327.04 983.99V984.73M327.04 983.99H329.5M327.04 984.73H329.5M323.2 985.68H326.2M326.2 985.26V985.93M326.2 985.26H329.5M326.2 985.93H329.5M319.6 988.17H321.96M321.96 987.39V989.22M321.96 987.39H324.8M324.8 986.85V987.9M324.8 986.85H329.5M324.8 987.9H329.5M321.96 989.22H326.17M326.17 988.95V989.73M326.17 988.95H329.5M326.17 989.73H329.5M250 998.75H275M275 996V1002.5M275 996H314.37M314.37 992.85V997.35M314.37 992.85H322.36M322.36 991.96V994.82M322.36 991.96H324.48M324.48 990.83V992.8M324.48 990.83H325.98M325.98 990.58V991.41M325.98 990.58H329.5M325.98 991.41H329.5M324.48 992.8H325.98M325.98 992.01V993.14M325.98 992.01H329.5M325.98 993.14H327.48M327.48 992.79V993.58M327.48 992.79H329.5M327.48 993.58H329.5M322.36 994.82H326.35M326.35 994.53V995.42M326.35 994.53H329.5M326.35 995.42H329.5M314.37 997.35H323.7M323.7 996.59V998.24M323.7 996.59H325.82M325.82 996.14V997.02M325.82 996.14H329.5M325.82 997.02H329.5M323.7 998.24H325.43M325.43 997.77V998.53M325.43 997.77H329.5M325.43 998.53H329.5M275 1002.5H315.15M315.15 1001.5V1007.25M315.15 1001.5H321.13M321.13 999.77V1002.27M321.13 999.77H326.49M326.49 999.3V1000.06M326.49 999.3H329.5M326.49 1000.06H329.5M321.13 1002.27H324.52M324.52 1001.29V1003.02M324.52 1001.29H326.02M326.02 1000.79V1001.54M326.02 1000.79H329.5M326.02 1001.54H329.5M324.52 1003.02H326.25M326.25 1002.65V1003.63M326.25 1002.65H329.5M326.25 1003.63H329.5M315.15 1007.25H318.73M318.73 1005.05V1008.3M318.73 1005.05H326.11M326.11 1004.37V1005.42M326.11 1004.37H329.5M326.11 1005.42H327.61M327.61 1004.99V1005.67M327.61 1004.99H329.5M327.61 1005.67H329.5M318.73 1008.3H322.22M322.22 1007.04V1009.24M322.22 1007.04H325.94M325.94 1006.45V1007.39M325.94 1006.45H329.5M325.94 1007.39H329.5M322.22 1009.24H324.27M324.27 1008.83V1010.09M324.27 1008.83H326.57M326.57 1008.37V1009.22M326.57 1008.37H329.5M326.57 1009.22H329.5M324.27 1010.09H329.5"/><rect x="327" y="151.2" width="3" height="860.1" fill="#111" />
<path fill="none" stroke="#3a3a3a" stroke-width="2" d="M368.5 151V114H443V151M517.6 151V91.6H592V151M405.5 114V34H554.6V91.6"/>
<rect x="638.5" y="151.4" width="22" height="334.2" fill="url(#cbA)" />
<text x="669.5" y="215.4" font-size="24.5" fill="#333" stroke="#333" stroke-width="0.4">1</text>
<text x="669.5" y="271.4" font-size="24.5" fill="#333" stroke="#333" stroke-width="0.4">0.5</text>
<text x="669.5" y="327" font-size="24.5" fill="#333" stroke="#333" stroke-width="0.4">0</text>
<text x="669.5" y="383.6" font-size="24.5" fill="#333" stroke="#333" stroke-width="0.4">-0.5</text>
<text x="669.5" y="439.6" font-size="24.5" fill="#333" stroke="#333" stroke-width="0.4">-1</text>
<text transform="translate(362.8 1044) rotate(-45)" text-anchor="middle" font-size="17.5" font-weight="bold" fill="#111">W_1</text>
<text transform="translate(439.8 1046.2) rotate(-45)" text-anchor="middle" font-size="17.5" font-weight="bold" fill="#111">W_2</text>
<text transform="translate(514.5 1044.9) rotate(-45)" text-anchor="middle" font-size="17.5" font-weight="bold" fill="#111">L/L_1</text>
<text transform="translate(589.4 1042.3) rotate(-45)" text-anchor="middle" font-size="17.5" font-weight="bold" fill="#111">L/L_2</text>
</g>
<g id="panel-b">
<text x="838.2" y="30.7" font-size="41.6" fill="#111" stroke="#111" stroke-width="0.8" textLength="25.2" lengthAdjust="spacingAndGlyphs">b</text>
<text x="1183" y="156.9" font-size="35.7" fill="#111" textLength="160" lengthAdjust="spacingAndGlyphs" stroke="#111" stroke-width="0.5">L/L vs. WT</text>
<line x1="1011.1" y1="914" x2="1011.1" y2="920" stroke="#222" stroke-width="1.6" />
<line x1="1146.7" y1="914" x2="1146.7" y2="920" stroke="#222" stroke-width="1.6" />
<line x1="1191.8" y1="914" x2="1191.8" y2="920" stroke="#222" stroke-width="1.6" />
<line x1="1281.8" y1="914" x2="1281.8" y2="920" stroke="#222" stroke-width="1.6" />
<line x1="1463.3" y1="914" x2="1463.3" y2="920" stroke="#222" stroke-width="1.6" />
<line x1="1599.6" y1="914" x2="1599.6" y2="920" stroke="#222" stroke-width="1.6" />
<line x1="976.3" y1="547.3" x2="982" y2="547.3" stroke="#222" stroke-width="1.6" />
<text x="1008.7" y="946.7" font-size="20.5" text-anchor="middle" fill="#111" >-5.0</text>
<text x="1139.1" y="946.7" font-size="20.5" text-anchor="middle" fill="#111" >-2.0</text>
<text x="1193.5" y="946.7" font-size="20.5" text-anchor="middle" fill="#111" >-1.0</text>
<text x="1280.5" y="946.7" font-size="20.5" text-anchor="middle" fill="#111" >1.0</text>
<text x="1462.1" y="946.7" font-size="20.5" text-anchor="middle" fill="#111" >5.0</text>
<text x="1603.3" y="946.7" font-size="20.5" text-anchor="middle" fill="#111" >8.0</text>
<text x="1169.3" y="1002.3" font-size="29.5" fill="#111" >log2FoldChange</text>
<text transform="translate(943.8 544.6) rotate(-90)" text-anchor="middle" font-size="30.5" fill="#111">-log10(pvalue)</text>
<path fill="#3bb44f" d="M1141.8 512.25a4.45 4.9 0 1 0 8.9 0a4.45 4.9 0 1 0 -8.9 0zM1134.05 521.5a4.45 4.9 0 1 0 8.9 0a4.45 4.9 0 1 0 -8.9 0zM1153.3 607a4.45 4.9 0 1 0 8.9 0a4.45 4.9 0 1 0 -8.9 0zM1152.05 610.5a4.45 4.9 0 1 0 8.9 0a4.45 4.9 0 1 0 -8.9 0zM1108.8 627.5a4.45 4.9 0 1 0 8.9 0a4.45 4.9 0 1 0 -8.9 0zM1182.55 629.75a4.45 4.9 0 1 0 8.9 0a4.45 4.9 0 1 0 -8.9 0zM1167.05 652a4.45 4.9 0 1 0 8.9 0a4.45 4.9 0 1 0 -8.9 0zM1153.3 658a4.45 4.9 0 1 0 8.9 0a4.45 4.9 0 1 0 -8.9 0zM1142.55 661.75a4.45 4.9 0 1 0 8.9 0a4.45 4.9 0 1 0 -8.9 0zM1181.8 667.5a4.45 4.9 0 1 0 8.9 0a4.45 4.9 0 1 0 -8.9 0zM1005.85 771.4a4.45 4.9 0 1 0 8.9 0a4.45 4.9 0 1 0 -8.9 0zM1036.85 795a4.45 4.9 0 1 0 8.9 0a4.45 4.9 0 1 0 -8.9 0zM1045.15 810.7a4.45 4.9 0 1 0 8.9 0a4.45 4.9 0 1 0 -8.9 0zM1022.65 816.7a4.45 4.9 0 1 0 8.9 0a4.45 4.9 0 1 0 -8.9 0zM1018.95 820.8a4.45 4.9 0 1 0 8.9 0a4.45 4.9 0 1 0 -8.9 0zM1015.15 825.8a4.45 4.9 0 1 0 8.9 0a4.45 4.9 0 1 0 -8.9 0zM1025.45 824.5a4.45 4.9 0 1 0 8.9 0a4.45 4.9 0 1 0 -8.9 0zM1027.85 830a4.45 4.9 0 1 0 8.9 0a4.45 4.9 0 1 0 -8.9 0zM1012.05 837.9a4.45 4.9 0 1 0 8.9 0a4.45 4.9 0 1 0 -8.9 0zM1031.05 837.9a4.45 4.9 0 1 0 8.9 0a4.45 4.9 0 1 0 -8.9 0zM1036.85 849.1a4.45 4.9 0 1 0 8.9 0a4.45 4.9 0 1 0 -8.9 0zM1035.65 859.9a4.45 4.9 0 1 0 8.9 0a4.45 4.9 0 1 0 -8.9 0zM1043.15 860.5a4.45 4.9 0 1 0 8.9 0a4.45 4.9 0 1 0 -8.9 0zM1040.35 864.6a4.45 4.9 0 1 0 8.9 0a4.45 4.9 0 1 0 -8.9 0zM1044.05 869.6a4.45 4.9 0 1 0 8.9 0a4.45 4.9 0 1 0 -8.9 0zM1050.55 840a4.45 4.9 0 1 0 8.9 0a4.45 4.9 0 1 0 -8.9 0zM1055.25 843.7a4.45 4.9 0 1 0 8.9 0a4.45 4.9 0 1 0 -8.9 0zM1058.95 847.8a4.45 4.9 0 1 0 8.9 0a4.45 4.9 0 1 0 -8.9 0zM1064.55 854.3a4.45 4.9 0 1 0 8.9 0a4.45 4.9 0 1 0 -8.9 0zM1066.45 860.8a4.45 4.9 0 1 0 8.9 0a4.45 4.9 0 1 0 -8.9 0zM1079.15 853a4.45 4.9 0 1 0 8.9 0a4.45 4.9 0 1 0 -8.9 0zM1084.15 865.5a4.45 4.9 0 1 0 8.9 0a4.45 4.9 0 1 0 -8.9 0zM1088.75 860.8a4.45 4.9 0 1 0 8.9 0a4.45 4.9 0 1 0 -8.9 0zM1092.55 854.3a4.45 4.9 0 1 0 8.9 0a4.45 4.9 0 1 0 -8.9 0zM1094.35 865.5a4.45 4.9 0 1 0 8.9 0a4.45 4.9 0 1 0 -8.9 0zM1088.95 845.4a4.45 4.9 0 1 0 8.9 0a4.45 4.9 0 1 0 -8.9 0zM1096.25 836.6a4.45 4.9 0 1 0 8.9 0a4.45 4.9 0 1 0 -8.9 0zM1092.55 824.5a4.45 4.9 0 1 0 8.9 0a4.45 4.9 0 1 0 -8.9 0zM1092.55 820a4.45 4.9 0 1 0 8.9 0a4.45 4.9 0 1 0 -8.9 0zM1089.75 806.4a4.45 4.9 0 1 0 8.9 0a4.45 4.9 0 1 0 -8.9 0zM1100.95 793.9a4.45 4.9 0 1 0 8.9 0a4.45 4.9 0 1 0 -8.9 0zM1098.65 815.2a4.45 4.9 0 1 0 8.9 0a4.45 4.9 0 1 0 -8.9 0zM1106.55 816.7a4.45 4.9 0 1 0 8.9 0a4.45 4.9 0 1 0 -8.9 0zM1115.25 813.3a4.45 4.9 0 1 0 8.9 0a4.45 4.9 0 1 0 -8.9 0zM1121.45 788.7a4.45 4.9 0 1 0 8.9 0a4.45 4.9 0 1 0 -8.9 0zM1116.15 831a4.45 4.9 0 1 0 8.9 0a4.45 4.9 0 1 0 -8.9 0zM1126.05 831.6a4.45 4.9 0 1 0 8.9 0a4.45 4.9 0 1 0 -8.9 0zM1130.75 828.2a4.45 4.9 0 1 0 8.9 0a4.45 4.9 0 1 0 -8.9 0zM1102.75 844a4.45 4.9 0 1 0 8.9 0a4.45 4.9 0 1 0 -8.9 0zM1110.25 842.2a4.45 4.9 0 1 0 8.9 0a4.45 4.9 0 1 0 -8.9 0zM1111.15 850.6a4.45 4.9 0 1 0 8.9 0a4.45 4.9 0 1 0 -8.9 0zM1117.65 846.5a4.45 4.9 0 1 0 8.9 0a4.45 4.9 0 1 0 -8.9 0zM1103.05 850.5a4.45 4.9 0 1 0 8.9 0a4.45 4.9 0 1 0 -8.9 0zM1119.55 857.1a4.45 4.9 0 1 0 8.9 0a4.45 4.9 0 1 0 -8.9 0zM1121.45 865.5a4.45 4.9 0 1 0 8.9 0a4.45 4.9 0 1 0 -8.9 0zM1126.05 858a4.45 4.9 0 1 0 8.9 0a4.45 4.9 0 1 0 -8.9 0zM1130.75 859.9a4.45 4.9 0 1 0 8.9 0a4.45 4.9 0 1 0 -8.9 0zM1134.45 852.4a4.45 4.9 0 1 0 8.9 0a4.45 4.9 0 1 0 -8.9 0zM1135.35 845.9a4.45 4.9 0 1 0 8.9 0a4.45 4.9 0 1 0 -8.9 0zM1112.05 727a4.45 4.9 0 1 0 8.9 0a4.45 4.9 0 1 0 -8.9 0zM1132.05 731.3a4.45 4.9 0 1 0 8.9 0a4.45 4.9 0 1 0 -8.9 0zM1142.85 748.5a4.45 4.9 0 1 0 8.9 0a4.45 4.9 0 1 0 -8.9 0zM1134.45 756.5a4.45 4.9 0 1 0 8.9 0a4.45 4.9 0 1 0 -8.9 0zM1135.55 673.5a4.45 4.9 0 1 0 8.9 0a4.45 4.9 0 1 0 -8.9 0zM1142.85 662.4a4.45 4.9 0 1 0 8.9 0a4.45 4.9 0 1 0 -8.9 0zM1153.45 658.3a4.45 4.9 0 1 0 8.9 0a4.45 4.9 0 1 0 -8.9 0zM1167.05 652.7a4.45 4.9 0 1 0 8.9 0a4.45 4.9 0 1 0 -8.9 0zM1181.95 668.9a4.45 4.9 0 1 0 8.9 0a4.45 4.9 0 1 0 -8.9 0zM1183.25 676.3a4.45 4.9 0 1 0 8.9 0a4.45 4.9 0 1 0 -8.9 0zM1147.55 684.7a4.45 4.9 0 1 0 8.9 0a4.45 4.9 0 1 0 -8.9 0zM1156.85 684.7a4.45 4.9 0 1 0 8.9 0a4.45 4.9 0 1 0 -8.9 0zM1158.65 689.4a4.45 4.9 0 1 0 8.9 0a4.45 4.9 0 1 0 -8.9 0zM1157.75 694a4.45 4.9 0 1 0 8.9 0a4.45 4.9 0 1 0 -8.9 0zM1170.75 684.7a4.45 4.9 0 1 0 8.9 0a4.45 4.9 0 1 0 -8.9 0zM1171.75 690a4.45 4.9 0 1 0 8.9 0a4.45 4.9 0 1 0 -8.9 0zM1165.55 701.5a4.45 4.9 0 1 0 8.9 0a4.45 4.9 0 1 0 -8.9 0zM1177.55 700a4.45 4.9 0 1 0 8.9 0a4.45 4.9 0 1 0 -8.9 0zM1144.55 703.4a4.45 4.9 0 1 0 8.9 0a4.45 4.9 0 1 0 -8.9 0zM1148.45 708a4.45 4.9 0 1 0 8.9 0a4.45 4.9 0 1 0 -8.9 0zM1150.85 706.2a4.45 4.9 0 1 0 8.9 0a4.45 4.9 0 1 0 -8.9 0zM1151.25 712.7a4.45 4.9 0 1 0 8.9 0a4.45 4.9 0 1 0 -8.9 0zM1172.05 711.7a4.45 4.9 0 1 0 8.9 0a4.45 4.9 0 1 0 -8.9 0zM1181.05 709a4.45 4.9 0 1 0 8.9 0a4.45 4.9 0 1 0 -8.9 0zM1181.95 714.5a4.45 4.9 0 1 0 8.9 0a4.45 4.9 0 1 0 -8.9 0zM1156.85 737a4.45 4.9 0 1 0 8.9 0a4.45 4.9 0 1 0 -8.9 0zM1160.55 737.3a4.45 4.9 0 1 0 8.9 0a4.45 4.9 0 1 0 -8.9 0zM1165.15 738.2a4.45 4.9 0 1 0 8.9 0a4.45 4.9 0 1 0 -8.9 0zM1172.55 733a4.45 4.9 0 1 0 8.9 0a4.45 4.9 0 1 0 -8.9 0zM1182.95 731.3a4.45 4.9 0 1 0 8.9 0a4.45 4.9 0 1 0 -8.9 0zM1181.95 737a4.45 4.9 0 1 0 8.9 0a4.45 4.9 0 1 0 -8.9 0zM1181.95 741.5a4.45 4.9 0 1 0 8.9 0a4.45 4.9 0 1 0 -8.9 0zM1141.55 825a4.45 4.9 0 1 0 8.9 0a4.45 4.9 0 1 0 -8.9 0zM1145.55 812a4.45 4.9 0 1 0 8.9 0a4.45 4.9 0 1 0 -8.9 0zM1138.55 833a4.45 4.9 0 1 0 8.9 0a4.45 4.9 0 1 0 -8.9 0zM1143.55 838a4.45 4.9 0 1 0 8.9 0a4.45 4.9 0 1 0 -8.9 0zM1150.55 820a4.45 4.9 0 1 0 8.9 0a4.45 4.9 0 1 0 -8.9 0zM1155.55 830a4.45 4.9 0 1 0 8.9 0a4.45 4.9 0 1 0 -8.9 0zM1147.55 845a4.45 4.9 0 1 0 8.9 0a4.45 4.9 0 1 0 -8.9 0zM1140.55 850a4.45 4.9 0 1 0 8.9 0a4.45 4.9 0 1 0 -8.9 0zM1153.55 855a4.45 4.9 0 1 0 8.9 0a4.45 4.9 0 1 0 -8.9 0zM1145.55 862a4.45 4.9 0 1 0 8.9 0a4.45 4.9 0 1 0 -8.9 0zM1137.55 866a4.45 4.9 0 1 0 8.9 0a4.45 4.9 0 1 0 -8.9 0zM1157.55 808a4.45 4.9 0 1 0 8.9 0a4.45 4.9 0 1 0 -8.9 0zM1144.05 808.5a4.45 4.9 0 1 0 8.9 0a4.45 4.9 0 1 0 -8.9 0zM1157.55 801a4.45 4.9 0 1 0 8.9 0a4.45 4.9 0 1 0 -8.9 0zM1163.71 749.64a4.45 4.9 0 1 0 8.9 0a4.45 4.9 0 1 0 -8.9 0zM1162.11 756.03a4.45 4.9 0 1 0 8.9 0a4.45 4.9 0 1 0 -8.9 0zM1173.29 745.38a4.45 4.9 0 1 0 8.9 0a4.45 4.9 0 1 0 -8.9 0zM1175.42 751.77a4.45 4.9 0 1 0 8.9 0a4.45 4.9 0 1 0 -8.9 0zM1173.82 757.09a4.45 4.9 0 1 0 8.9 0a4.45 4.9 0 1 0 -8.9 0zM1177.55 760.29a4.45 4.9 0 1 0 8.9 0a4.45 4.9 0 1 0 -8.9 0zM1186.6 760.29a4.45 4.9 0 1 0 8.9 0a4.45 4.9 0 1 0 -8.9 0zM1167.97 764.55a4.45 4.9 0 1 0 8.9 0a4.45 4.9 0 1 0 -8.9 0zM1166.9 770.94a4.45 4.9 0 1 0 8.9 0a4.45 4.9 0 1 0 -8.9 0zM1179.68 766.68a4.45 4.9 0 1 0 8.9 0a4.45 4.9 0 1 0 -8.9 0zM1183.94 770.94a4.45 4.9 0 1 0 8.9 0a4.45 4.9 0 1 0 -8.9 0zM1174.36 772a4.45 4.9 0 1 0 8.9 0a4.45 4.9 0 1 0 -8.9 0zM1163.71 781.59a4.45 4.9 0 1 0 8.9 0a4.45 4.9 0 1 0 -8.9 0zM1170.1 778.39a4.45 4.9 0 1 0 8.9 0a4.45 4.9 0 1 0 -8.9 0zM1176.49 780.52a4.45 4.9 0 1 0 8.9 0a4.45 4.9 0 1 0 -8.9 0zM1182.88 781.59a4.45 4.9 0 1 0 8.9 0a4.45 4.9 0 1 0 -8.9 0zM1186.92 780.52a4.45 4.9 0 1 0 8.9 0a4.45 4.9 0 1 0 -8.9 0zM1161.58 788.51a4.45 4.9 0 1 0 8.9 0a4.45 4.9 0 1 0 -8.9 0zM1172.23 787.98a4.45 4.9 0 1 0 8.9 0a4.45 4.9 0 1 0 -8.9 0zM1179.68 790.11a4.45 4.9 0 1 0 8.9 0a4.45 4.9 0 1 0 -8.9 0zM1186.07 789.04a4.45 4.9 0 1 0 8.9 0a4.45 4.9 0 1 0 -8.9 0zM1169.03 783.72a4.45 4.9 0 1 0 8.9 0a4.45 4.9 0 1 0 -8.9 0zM1173.29 796.5a4.45 4.9 0 1 0 8.9 0a4.45 4.9 0 1 0 -8.9 0zM1180.75 797.56a4.45 4.9 0 1 0 8.9 0a4.45 4.9 0 1 0 -8.9 0zM1186.07 797.56a4.45 4.9 0 1 0 8.9 0a4.45 4.9 0 1 0 -8.9 0zM1176.49 792.24a4.45 4.9 0 1 0 8.9 0a4.45 4.9 0 1 0 -8.9 0zM1157.85 801.29a4.45 4.9 0 1 0 8.9 0a4.45 4.9 0 1 0 -8.9 0zM1180.75 804.48a4.45 4.9 0 1 0 8.9 0a4.45 4.9 0 1 0 -8.9 0zM1185.01 805.02a4.45 4.9 0 1 0 8.9 0a4.45 4.9 0 1 0 -8.9 0zM1170.1 763.48a4.45 4.9 0 1 0 8.9 0a4.45 4.9 0 1 0 -8.9 0zM1176.49 764.55a4.45 4.9 0 1 0 8.9 0a4.45 4.9 0 1 0 -8.9 0zM1182.88 764.55a4.45 4.9 0 1 0 8.9 0a4.45 4.9 0 1 0 -8.9 0zM1180.75 775.2a4.45 4.9 0 1 0 8.9 0a4.45 4.9 0 1 0 -8.9 0zM1186.07 774.13a4.45 4.9 0 1 0 8.9 0a4.45 4.9 0 1 0 -8.9 0zM1172.23 768.81a4.45 4.9 0 1 0 8.9 0a4.45 4.9 0 1 0 -8.9 0zM1144.54 807.68a4.45 4.9 0 1 0 8.9 0a4.45 4.9 0 1 0 -8.9 0zM1146.67 809.28a4.45 4.9 0 1 0 8.9 0a4.45 4.9 0 1 0 -8.9 0zM1098.74 814.07a4.45 4.9 0 1 0 8.9 0a4.45 4.9 0 1 0 -8.9 0zM1106.73 816.73a4.45 4.9 0 1 0 8.9 0a4.45 4.9 0 1 0 -8.9 0zM1115.25 813.54a4.45 4.9 0 1 0 8.9 0a4.45 4.9 0 1 0 -8.9 0zM1158.38 814.07a4.45 4.9 0 1 0 8.9 0a4.45 4.9 0 1 0 -8.9 0zM1165.84 809.81a4.45 4.9 0 1 0 8.9 0a4.45 4.9 0 1 0 -8.9 0zM1172.23 811.41a4.45 4.9 0 1 0 8.9 0a4.45 4.9 0 1 0 -8.9 0zM1178.62 812.47a4.45 4.9 0 1 0 8.9 0a4.45 4.9 0 1 0 -8.9 0zM1185.01 810.34a4.45 4.9 0 1 0 8.9 0a4.45 4.9 0 1 0 -8.9 0zM1159.45 747.51a4.45 4.9 0 1 0 8.9 0a4.45 4.9 0 1 0 -8.9 0zM1165.84 754.96a4.45 4.9 0 1 0 8.9 0a4.45 4.9 0 1 0 -8.9 0zM1181.81 752.83a4.45 4.9 0 1 0 8.9 0a4.45 4.9 0 1 0 -8.9 0zM1185.54 749.64a4.45 4.9 0 1 0 8.9 0a4.45 4.9 0 1 0 -8.9 0zM1169.35 870.1a4.45 4.9 0 1 0 8.9 0a4.45 4.9 0 1 0 -8.9 0zM1151.24 866.63a4.45 4.9 0 1 0 8.9 0a4.45 4.9 0 1 0 -8.9 0zM1184.2 859.26a4.45 4.9 0 1 0 8.9 0a4.45 4.9 0 1 0 -8.9 0zM1184.25 860.37a4.45 4.9 0 1 0 8.9 0a4.45 4.9 0 1 0 -8.9 0zM1172.84 859.16a4.45 4.9 0 1 0 8.9 0a4.45 4.9 0 1 0 -8.9 0zM1159.78 871.14a4.45 4.9 0 1 0 8.9 0a4.45 4.9 0 1 0 -8.9 0zM1166.68 852.45a4.45 4.9 0 1 0 8.9 0a4.45 4.9 0 1 0 -8.9 0zM1137.38 852.65a4.45 4.9 0 1 0 8.9 0a4.45 4.9 0 1 0 -8.9 0zM1159.96 830.64a4.45 4.9 0 1 0 8.9 0a4.45 4.9 0 1 0 -8.9 0zM1183.95 858.74a4.45 4.9 0 1 0 8.9 0a4.45 4.9 0 1 0 -8.9 0zM1183.4 858.46a4.45 4.9 0 1 0 8.9 0a4.45 4.9 0 1 0 -8.9 0zM1179.76 835.9a4.45 4.9 0 1 0 8.9 0a4.45 4.9 0 1 0 -8.9 0zM1177.72 859.77a4.45 4.9 0 1 0 8.9 0a4.45 4.9 0 1 0 -8.9 0zM1181.83 830.67a4.45 4.9 0 1 0 8.9 0a4.45 4.9 0 1 0 -8.9 0zM1162.21 858.67a4.45 4.9 0 1 0 8.9 0a4.45 4.9 0 1 0 -8.9 0zM1178.97 856.51a4.45 4.9 0 1 0 8.9 0a4.45 4.9 0 1 0 -8.9 0zM1141.7 822.42a4.45 4.9 0 1 0 8.9 0a4.45 4.9 0 1 0 -8.9 0zM1175.44 856.67a4.45 4.9 0 1 0 8.9 0a4.45 4.9 0 1 0 -8.9 0zM1172.29 856.79a4.45 4.9 0 1 0 8.9 0a4.45 4.9 0 1 0 -8.9 0zM1150.43 849.13a4.45 4.9 0 1 0 8.9 0a4.45 4.9 0 1 0 -8.9 0zM1183.22 868.86a4.45 4.9 0 1 0 8.9 0a4.45 4.9 0 1 0 -8.9 0zM1169.84 827.14a4.45 4.9 0 1 0 8.9 0a4.45 4.9 0 1 0 -8.9 0zM1173.1 856.56a4.45 4.9 0 1 0 8.9 0a4.45 4.9 0 1 0 -8.9 0zM1182.88 847.15a4.45 4.9 0 1 0 8.9 0a4.45 4.9 0 1 0 -8.9 0zM1138.52 822.45a4.45 4.9 0 1 0 8.9 0a4.45 4.9 0 1 0 -8.9 0zM1153.99 854.79a4.45 4.9 0 1 0 8.9 0a4.45 4.9 0 1 0 -8.9 0zM1170.57 862.94a4.45 4.9 0 1 0 8.9 0a4.45 4.9 0 1 0 -8.9 0zM1184.64 853.35a4.45 4.9 0 1 0 8.9 0a4.45 4.9 0 1 0 -8.9 0zM1179.14 868.26a4.45 4.9 0 1 0 8.9 0a4.45 4.9 0 1 0 -8.9 0zM1140.6 866.7a4.45 4.9 0 1 0 8.9 0a4.45 4.9 0 1 0 -8.9 0zM1182.59 844.88a4.45 4.9 0 1 0 8.9 0a4.45 4.9 0 1 0 -8.9 0zM1180.03 822.64a4.45 4.9 0 1 0 8.9 0a4.45 4.9 0 1 0 -8.9 0zM1168.91 846.97a4.45 4.9 0 1 0 8.9 0a4.45 4.9 0 1 0 -8.9 0zM1182.72 858.92a4.45 4.9 0 1 0 8.9 0a4.45 4.9 0 1 0 -8.9 0zM1171.34 858.61a4.45 4.9 0 1 0 8.9 0a4.45 4.9 0 1 0 -8.9 0zM1183.55 836.16a4.45 4.9 0 1 0 8.9 0a4.45 4.9 0 1 0 -8.9 0zM1149.28 823.36a4.45 4.9 0 1 0 8.9 0a4.45 4.9 0 1 0 -8.9 0zM1180.57 834.04a4.45 4.9 0 1 0 8.9 0a4.45 4.9 0 1 0 -8.9 0zM1181.48 866.07a4.45 4.9 0 1 0 8.9 0a4.45 4.9 0 1 0 -8.9 0zM1167.87 816.39a4.45 4.9 0 1 0 8.9 0a4.45 4.9 0 1 0 -8.9 0zM1180.36 860.85a4.45 4.9 0 1 0 8.9 0a4.45 4.9 0 1 0 -8.9 0zM1176.43 855.9a4.45 4.9 0 1 0 8.9 0a4.45 4.9 0 1 0 -8.9 0zM1156.32 862.19a4.45 4.9 0 1 0 8.9 0a4.45 4.9 0 1 0 -8.9 0zM1181.04 849.04a4.45 4.9 0 1 0 8.9 0a4.45 4.9 0 1 0 -8.9 0zM1177.5 816.32a4.45 4.9 0 1 0 8.9 0a4.45 4.9 0 1 0 -8.9 0zM1161.66 846.02a4.45 4.9 0 1 0 8.9 0a4.45 4.9 0 1 0 -8.9 0zM1165.64 862.83a4.45 4.9 0 1 0 8.9 0a4.45 4.9 0 1 0 -8.9 0zM1172.93 829.61a4.45 4.9 0 1 0 8.9 0a4.45 4.9 0 1 0 -8.9 0zM1182.08 817.7a4.45 4.9 0 1 0 8.9 0a4.45 4.9 0 1 0 -8.9 0zM1180.63 864.79a4.45 4.9 0 1 0 8.9 0a4.45 4.9 0 1 0 -8.9 0zM1180.41 838.21a4.45 4.9 0 1 0 8.9 0a4.45 4.9 0 1 0 -8.9 0zM1176.5 838.81a4.45 4.9 0 1 0 8.9 0a4.45 4.9 0 1 0 -8.9 0zM1143.72 860.06a4.45 4.9 0 1 0 8.9 0a4.45 4.9 0 1 0 -8.9 0zM1180.56 849.34a4.45 4.9 0 1 0 8.9 0a4.45 4.9 0 1 0 -8.9 0zM1179.3 853.79a4.45 4.9 0 1 0 8.9 0a4.45 4.9 0 1 0 -8.9 0zM1152.74 822.26a4.45 4.9 0 1 0 8.9 0a4.45 4.9 0 1 0 -8.9 0zM1184.53 825.74a4.45 4.9 0 1 0 8.9 0a4.45 4.9 0 1 0 -8.9 0zM1168.32 818.92a4.45 4.9 0 1 0 8.9 0a4.45 4.9 0 1 0 -8.9 0zM1182.81 865.51a4.45 4.9 0 1 0 8.9 0a4.45 4.9 0 1 0 -8.9 0zM1181.24 835.98a4.45 4.9 0 1 0 8.9 0a4.45 4.9 0 1 0 -8.9 0zM1183.2 847.78a4.45 4.9 0 1 0 8.9 0a4.45 4.9 0 1 0 -8.9 0zM1176.28 870.96a4.45 4.9 0 1 0 8.9 0a4.45 4.9 0 1 0 -8.9 0zM1157.66 838.88a4.45 4.9 0 1 0 8.9 0a4.45 4.9 0 1 0 -8.9 0zM1181.11 857.53a4.45 4.9 0 1 0 8.9 0a4.45 4.9 0 1 0 -8.9 0zM1161.93 821.99a4.45 4.9 0 1 0 8.9 0a4.45 4.9 0 1 0 -8.9 0zM1152.67 870.11a4.45 4.9 0 1 0 8.9 0a4.45 4.9 0 1 0 -8.9 0zM1154.72 826.1a4.45 4.9 0 1 0 8.9 0a4.45 4.9 0 1 0 -8.9 0zM1161.43 865.45a4.45 4.9 0 1 0 8.9 0a4.45 4.9 0 1 0 -8.9 0zM1155.31 859.04a4.45 4.9 0 1 0 8.9 0a4.45 4.9 0 1 0 -8.9 0zM1175.4 854.41a4.45 4.9 0 1 0 8.9 0a4.45 4.9 0 1 0 -8.9 0zM1180.78 870.17a4.45 4.9 0 1 0 8.9 0a4.45 4.9 0 1 0 -8.9 0zM1179.74 835.58a4.45 4.9 0 1 0 8.9 0a4.45 4.9 0 1 0 -8.9 0zM1181.7 817.6a4.45 4.9 0 1 0 8.9 0a4.45 4.9 0 1 0 -8.9 0zM1182.93 847.16a4.45 4.9 0 1 0 8.9 0a4.45 4.9 0 1 0 -8.9 0zM1179 837.55a4.45 4.9 0 1 0 8.9 0a4.45 4.9 0 1 0 -8.9 0zM1177.35 839.21a4.45 4.9 0 1 0 8.9 0a4.45 4.9 0 1 0 -8.9 0zM1166.14 871.41a4.45 4.9 0 1 0 8.9 0a4.45 4.9 0 1 0 -8.9 0zM1167.99 851.1a4.45 4.9 0 1 0 8.9 0a4.45 4.9 0 1 0 -8.9 0zM1168.28 853.01a4.45 4.9 0 1 0 8.9 0a4.45 4.9 0 1 0 -8.9 0zM1156.39 831.19a4.45 4.9 0 1 0 8.9 0a4.45 4.9 0 1 0 -8.9 0zM1179.1 848.63a4.45 4.9 0 1 0 8.9 0a4.45 4.9 0 1 0 -8.9 0zM1179.39 864.37a4.45 4.9 0 1 0 8.9 0a4.45 4.9 0 1 0 -8.9 0zM1170.31 854.65a4.45 4.9 0 1 0 8.9 0a4.45 4.9 0 1 0 -8.9 0zM1184.64 855.43a4.45 4.9 0 1 0 8.9 0a4.45 4.9 0 1 0 -8.9 0zM1171.64 834.84a4.45 4.9 0 1 0 8.9 0a4.45 4.9 0 1 0 -8.9 0zM1175.89 859.53a4.45 4.9 0 1 0 8.9 0a4.45 4.9 0 1 0 -8.9 0zM1149.93 826.92a4.45 4.9 0 1 0 8.9 0a4.45 4.9 0 1 0 -8.9 0zM1183.32 842.63a4.45 4.9 0 1 0 8.9 0a4.45 4.9 0 1 0 -8.9 0zM1167.89 858.92a4.45 4.9 0 1 0 8.9 0a4.45 4.9 0 1 0 -8.9 0zM1184.28 857.79a4.45 4.9 0 1 0 8.9 0a4.45 4.9 0 1 0 -8.9 0zM1156.22 867.42a4.45 4.9 0 1 0 8.9 0a4.45 4.9 0 1 0 -8.9 0zM1169.75 860.61a4.45 4.9 0 1 0 8.9 0a4.45 4.9 0 1 0 -8.9 0zM1174.42 857.84a4.45 4.9 0 1 0 8.9 0a4.45 4.9 0 1 0 -8.9 0zM1182.96 847.69a4.45 4.9 0 1 0 8.9 0a4.45 4.9 0 1 0 -8.9 0zM1137.11 842.49a4.45 4.9 0 1 0 8.9 0a4.45 4.9 0 1 0 -8.9 0zM1180.35 823.99a4.45 4.9 0 1 0 8.9 0a4.45 4.9 0 1 0 -8.9 0zM1170.42 831.22a4.45 4.9 0 1 0 8.9 0a4.45 4.9 0 1 0 -8.9 0zM1164.23 844.92a4.45 4.9 0 1 0 8.9 0a4.45 4.9 0 1 0 -8.9 0zM1173.6 836.4a4.45 4.9 0 1 0 8.9 0a4.45 4.9 0 1 0 -8.9 0zM1183.44 855.5a4.45 4.9 0 1 0 8.9 0a4.45 4.9 0 1 0 -8.9 0zM1178.87 841.25a4.45 4.9 0 1 0 8.9 0a4.45 4.9 0 1 0 -8.9 0zM1183.65 848.67a4.45 4.9 0 1 0 8.9 0a4.45 4.9 0 1 0 -8.9 0zM1176.59 859.92a4.45 4.9 0 1 0 8.9 0a4.45 4.9 0 1 0 -8.9 0zM1155.5 828.63a4.45 4.9 0 1 0 8.9 0a4.45 4.9 0 1 0 -8.9 0zM1184.56 851.8a4.45 4.9 0 1 0 8.9 0a4.45 4.9 0 1 0 -8.9 0zM1164 840.92a4.45 4.9 0 1 0 8.9 0a4.45 4.9 0 1 0 -8.9 0zM1180.91 859.21a4.45 4.9 0 1 0 8.9 0a4.45 4.9 0 1 0 -8.9 0zM1184.21 852.68a4.45 4.9 0 1 0 8.9 0a4.45 4.9 0 1 0 -8.9 0zM1176.88 862.26a4.45 4.9 0 1 0 8.9 0a4.45 4.9 0 1 0 -8.9 0zM1182.6 836.65a4.45 4.9 0 1 0 8.9 0a4.45 4.9 0 1 0 -8.9 0zM1177.14 839.89a4.45 4.9 0 1 0 8.9 0a4.45 4.9 0 1 0 -8.9 0zM1169.21 863.9a4.45 4.9 0 1 0 8.9 0a4.45 4.9 0 1 0 -8.9 0zM1183.88 850.27a4.45 4.9 0 1 0 8.9 0a4.45 4.9 0 1 0 -8.9 0zM1178.71 828.87a4.45 4.9 0 1 0 8.9 0a4.45 4.9 0 1 0 -8.9 0zM1163.73 824.91a4.45 4.9 0 1 0 8.9 0a4.45 4.9 0 1 0 -8.9 0zM1183.37 870.41a4.45 4.9 0 1 0 8.9 0a4.45 4.9 0 1 0 -8.9 0zM1163.6 818.32a4.45 4.9 0 1 0 8.9 0a4.45 4.9 0 1 0 -8.9 0zM1184.34 862.97a4.45 4.9 0 1 0 8.9 0a4.45 4.9 0 1 0 -8.9 0zM1168.04 839.92a4.45 4.9 0 1 0 8.9 0a4.45 4.9 0 1 0 -8.9 0zM1166.62 828.55a4.45 4.9 0 1 0 8.9 0a4.45 4.9 0 1 0 -8.9 0z"/>
<path fill="#6a93c9" d="M1202.45 870.86a4.45 4.9 0 1 0 8.9 0a4.45 4.9 0 1 0 -8.9 0zM1194.65 766.28a4.45 4.9 0 1 0 8.9 0a4.45 4.9 0 1 0 -8.9 0zM1198.88 790.45a4.45 4.9 0 1 0 8.9 0a4.45 4.9 0 1 0 -8.9 0zM1199.57 814.84a4.45 4.9 0 1 0 8.9 0a4.45 4.9 0 1 0 -8.9 0zM1192.03 787.58a4.45 4.9 0 1 0 8.9 0a4.45 4.9 0 1 0 -8.9 0zM1203.25 833.79a4.45 4.9 0 1 0 8.9 0a4.45 4.9 0 1 0 -8.9 0zM1200.8 776.73a4.45 4.9 0 1 0 8.9 0a4.45 4.9 0 1 0 -8.9 0zM1193.67 753.37a4.45 4.9 0 1 0 8.9 0a4.45 4.9 0 1 0 -8.9 0zM1209.4 834.74a4.45 4.9 0 1 0 8.9 0a4.45 4.9 0 1 0 -8.9 0zM1201.65 795.49a4.45 4.9 0 1 0 8.9 0a4.45 4.9 0 1 0 -8.9 0zM1214.93 848.95a4.45 4.9 0 1 0 8.9 0a4.45 4.9 0 1 0 -8.9 0zM1189.49 808.93a4.45 4.9 0 1 0 8.9 0a4.45 4.9 0 1 0 -8.9 0zM1202.12 809.78a4.45 4.9 0 1 0 8.9 0a4.45 4.9 0 1 0 -8.9 0zM1212.6 854.97a4.45 4.9 0 1 0 8.9 0a4.45 4.9 0 1 0 -8.9 0zM1199.74 802.16a4.45 4.9 0 1 0 8.9 0a4.45 4.9 0 1 0 -8.9 0zM1204.22 804.2a4.45 4.9 0 1 0 8.9 0a4.45 4.9 0 1 0 -8.9 0zM1201.9 798.43a4.45 4.9 0 1 0 8.9 0a4.45 4.9 0 1 0 -8.9 0zM1194.04 766.99a4.45 4.9 0 1 0 8.9 0a4.45 4.9 0 1 0 -8.9 0zM1198.16 867.21a4.45 4.9 0 1 0 8.9 0a4.45 4.9 0 1 0 -8.9 0zM1205.22 833.2a4.45 4.9 0 1 0 8.9 0a4.45 4.9 0 1 0 -8.9 0zM1211.81 852.77a4.45 4.9 0 1 0 8.9 0a4.45 4.9 0 1 0 -8.9 0zM1199.01 853.7a4.45 4.9 0 1 0 8.9 0a4.45 4.9 0 1 0 -8.9 0zM1201.44 786.95a4.45 4.9 0 1 0 8.9 0a4.45 4.9 0 1 0 -8.9 0zM1211.37 841.41a4.45 4.9 0 1 0 8.9 0a4.45 4.9 0 1 0 -8.9 0zM1189.09 752.42a4.45 4.9 0 1 0 8.9 0a4.45 4.9 0 1 0 -8.9 0zM1211.77 825.63a4.45 4.9 0 1 0 8.9 0a4.45 4.9 0 1 0 -8.9 0zM1209.7 870.68a4.45 4.9 0 1 0 8.9 0a4.45 4.9 0 1 0 -8.9 0zM1190.71 801.38a4.45 4.9 0 1 0 8.9 0a4.45 4.9 0 1 0 -8.9 0zM1210.57 825.95a4.45 4.9 0 1 0 8.9 0a4.45 4.9 0 1 0 -8.9 0zM1203.35 802.57a4.45 4.9 0 1 0 8.9 0a4.45 4.9 0 1 0 -8.9 0zM1189.93 859.12a4.45 4.9 0 1 0 8.9 0a4.45 4.9 0 1 0 -8.9 0zM1196.42 845.93a4.45 4.9 0 1 0 8.9 0a4.45 4.9 0 1 0 -8.9 0zM1191.46 794.11a4.45 4.9 0 1 0 8.9 0a4.45 4.9 0 1 0 -8.9 0zM1202.03 813.33a4.45 4.9 0 1 0 8.9 0a4.45 4.9 0 1 0 -8.9 0zM1193.15 845.48a4.45 4.9 0 1 0 8.9 0a4.45 4.9 0 1 0 -8.9 0zM1195.73 757.71a4.45 4.9 0 1 0 8.9 0a4.45 4.9 0 1 0 -8.9 0zM1194.68 824.22a4.45 4.9 0 1 0 8.9 0a4.45 4.9 0 1 0 -8.9 0zM1192.64 860.28a4.45 4.9 0 1 0 8.9 0a4.45 4.9 0 1 0 -8.9 0zM1194.15 804.72a4.45 4.9 0 1 0 8.9 0a4.45 4.9 0 1 0 -8.9 0zM1188.8 779.41a4.45 4.9 0 1 0 8.9 0a4.45 4.9 0 1 0 -8.9 0zM1212.62 846.97a4.45 4.9 0 1 0 8.9 0a4.45 4.9 0 1 0 -8.9 0zM1192.66 831.35a4.45 4.9 0 1 0 8.9 0a4.45 4.9 0 1 0 -8.9 0zM1195.95 802.33a4.45 4.9 0 1 0 8.9 0a4.45 4.9 0 1 0 -8.9 0zM1204.51 820.27a4.45 4.9 0 1 0 8.9 0a4.45 4.9 0 1 0 -8.9 0zM1193.81 800.19a4.45 4.9 0 1 0 8.9 0a4.45 4.9 0 1 0 -8.9 0zM1194.05 851.97a4.45 4.9 0 1 0 8.9 0a4.45 4.9 0 1 0 -8.9 0zM1198.1 795.32a4.45 4.9 0 1 0 8.9 0a4.45 4.9 0 1 0 -8.9 0zM1197.66 777.18a4.45 4.9 0 1 0 8.9 0a4.45 4.9 0 1 0 -8.9 0zM1213.21 818.7a4.45 4.9 0 1 0 8.9 0a4.45 4.9 0 1 0 -8.9 0zM1205.52 784.31a4.45 4.9 0 1 0 8.9 0a4.45 4.9 0 1 0 -8.9 0zM1195.59 828.96a4.45 4.9 0 1 0 8.9 0a4.45 4.9 0 1 0 -8.9 0zM1205.53 817.61a4.45 4.9 0 1 0 8.9 0a4.45 4.9 0 1 0 -8.9 0zM1189.92 839.59a4.45 4.9 0 1 0 8.9 0a4.45 4.9 0 1 0 -8.9 0zM1201.04 822.59a4.45 4.9 0 1 0 8.9 0a4.45 4.9 0 1 0 -8.9 0zM1196.61 859.21a4.45 4.9 0 1 0 8.9 0a4.45 4.9 0 1 0 -8.9 0zM1204.75 846.26a4.45 4.9 0 1 0 8.9 0a4.45 4.9 0 1 0 -8.9 0zM1200.57 791.34a4.45 4.9 0 1 0 8.9 0a4.45 4.9 0 1 0 -8.9 0zM1205.62 824.37a4.45 4.9 0 1 0 8.9 0a4.45 4.9 0 1 0 -8.9 0zM1205.58 836.67a4.45 4.9 0 1 0 8.9 0a4.45 4.9 0 1 0 -8.9 0zM1205.62 851.12a4.45 4.9 0 1 0 8.9 0a4.45 4.9 0 1 0 -8.9 0zM1206.63 859.12a4.45 4.9 0 1 0 8.9 0a4.45 4.9 0 1 0 -8.9 0zM1196.41 786a4.45 4.9 0 1 0 8.9 0a4.45 4.9 0 1 0 -8.9 0zM1206.79 819.29a4.45 4.9 0 1 0 8.9 0a4.45 4.9 0 1 0 -8.9 0zM1191.18 759.09a4.45 4.9 0 1 0 8.9 0a4.45 4.9 0 1 0 -8.9 0zM1193.2 839.94a4.45 4.9 0 1 0 8.9 0a4.45 4.9 0 1 0 -8.9 0zM1194.16 764.26a4.45 4.9 0 1 0 8.9 0a4.45 4.9 0 1 0 -8.9 0zM1203.57 867.49a4.45 4.9 0 1 0 8.9 0a4.45 4.9 0 1 0 -8.9 0zM1211.83 860.36a4.45 4.9 0 1 0 8.9 0a4.45 4.9 0 1 0 -8.9 0zM1202.06 779.61a4.45 4.9 0 1 0 8.9 0a4.45 4.9 0 1 0 -8.9 0zM1206.6 807.27a4.45 4.9 0 1 0 8.9 0a4.45 4.9 0 1 0 -8.9 0zM1197.42 839.83a4.45 4.9 0 1 0 8.9 0a4.45 4.9 0 1 0 -8.9 0zM1197.85 762.17a4.45 4.9 0 1 0 8.9 0a4.45 4.9 0 1 0 -8.9 0zM1198.98 765.31a4.45 4.9 0 1 0 8.9 0a4.45 4.9 0 1 0 -8.9 0zM1208.41 853.8a4.45 4.9 0 1 0 8.9 0a4.45 4.9 0 1 0 -8.9 0zM1215.86 868.53a4.45 4.9 0 1 0 8.9 0a4.45 4.9 0 1 0 -8.9 0zM1198.38 846.96a4.45 4.9 0 1 0 8.9 0a4.45 4.9 0 1 0 -8.9 0zM1189.02 845.25a4.45 4.9 0 1 0 8.9 0a4.45 4.9 0 1 0 -8.9 0zM1199.47 814a4.45 4.9 0 1 0 8.9 0a4.45 4.9 0 1 0 -8.9 0zM1205.71 830.76a4.45 4.9 0 1 0 8.9 0a4.45 4.9 0 1 0 -8.9 0zM1209.05 819.9a4.45 4.9 0 1 0 8.9 0a4.45 4.9 0 1 0 -8.9 0zM1191.68 863.66a4.45 4.9 0 1 0 8.9 0a4.45 4.9 0 1 0 -8.9 0zM1189.04 776.76a4.45 4.9 0 1 0 8.9 0a4.45 4.9 0 1 0 -8.9 0zM1204.13 856.76a4.45 4.9 0 1 0 8.9 0a4.45 4.9 0 1 0 -8.9 0zM1194.83 860.58a4.45 4.9 0 1 0 8.9 0a4.45 4.9 0 1 0 -8.9 0zM1194.84 755.78a4.45 4.9 0 1 0 8.9 0a4.45 4.9 0 1 0 -8.9 0zM1197.08 859.85a4.45 4.9 0 1 0 8.9 0a4.45 4.9 0 1 0 -8.9 0zM1191.47 798.22a4.45 4.9 0 1 0 8.9 0a4.45 4.9 0 1 0 -8.9 0zM1197.18 864.39a4.45 4.9 0 1 0 8.9 0a4.45 4.9 0 1 0 -8.9 0zM1190.84 808.59a4.45 4.9 0 1 0 8.9 0a4.45 4.9 0 1 0 -8.9 0zM1192.4 857.13a4.45 4.9 0 1 0 8.9 0a4.45 4.9 0 1 0 -8.9 0zM1203.04 803.8a4.45 4.9 0 1 0 8.9 0a4.45 4.9 0 1 0 -8.9 0zM1213.09 839.41a4.45 4.9 0 1 0 8.9 0a4.45 4.9 0 1 0 -8.9 0zM1203.86 799.55a4.45 4.9 0 1 0 8.9 0a4.45 4.9 0 1 0 -8.9 0zM1193.42 767.01a4.45 4.9 0 1 0 8.9 0a4.45 4.9 0 1 0 -8.9 0zM1193.01 760.18a4.45 4.9 0 1 0 8.9 0a4.45 4.9 0 1 0 -8.9 0zM1207.86 798.2a4.45 4.9 0 1 0 8.9 0a4.45 4.9 0 1 0 -8.9 0zM1190.99 752.02a4.45 4.9 0 1 0 8.9 0a4.45 4.9 0 1 0 -8.9 0zM1208.78 802.54a4.45 4.9 0 1 0 8.9 0a4.45 4.9 0 1 0 -8.9 0zM1191.35 853.22a4.45 4.9 0 1 0 8.9 0a4.45 4.9 0 1 0 -8.9 0zM1202.51 832.34a4.45 4.9 0 1 0 8.9 0a4.45 4.9 0 1 0 -8.9 0zM1198.74 868.27a4.45 4.9 0 1 0 8.9 0a4.45 4.9 0 1 0 -8.9 0zM1192.43 796.97a4.45 4.9 0 1 0 8.9 0a4.45 4.9 0 1 0 -8.9 0zM1196.98 763.03a4.45 4.9 0 1 0 8.9 0a4.45 4.9 0 1 0 -8.9 0zM1202.9 803.93a4.45 4.9 0 1 0 8.9 0a4.45 4.9 0 1 0 -8.9 0zM1203.68 826.93a4.45 4.9 0 1 0 8.9 0a4.45 4.9 0 1 0 -8.9 0zM1192.53 750.63a4.45 4.9 0 1 0 8.9 0a4.45 4.9 0 1 0 -8.9 0zM1190.65 777.96a4.45 4.9 0 1 0 8.9 0a4.45 4.9 0 1 0 -8.9 0zM1190.34 817.44a4.45 4.9 0 1 0 8.9 0a4.45 4.9 0 1 0 -8.9 0zM1194.06 842.11a4.45 4.9 0 1 0 8.9 0a4.45 4.9 0 1 0 -8.9 0zM1201.77 774.56a4.45 4.9 0 1 0 8.9 0a4.45 4.9 0 1 0 -8.9 0zM1191.32 788.41a4.45 4.9 0 1 0 8.9 0a4.45 4.9 0 1 0 -8.9 0zM1188.73 858.77a4.45 4.9 0 1 0 8.9 0a4.45 4.9 0 1 0 -8.9 0zM1192.59 853.58a4.45 4.9 0 1 0 8.9 0a4.45 4.9 0 1 0 -8.9 0zM1191.19 763.99a4.45 4.9 0 1 0 8.9 0a4.45 4.9 0 1 0 -8.9 0zM1197.02 769.46a4.45 4.9 0 1 0 8.9 0a4.45 4.9 0 1 0 -8.9 0zM1188.73 751.17a4.45 4.9 0 1 0 8.9 0a4.45 4.9 0 1 0 -8.9 0zM1194.94 845.17a4.45 4.9 0 1 0 8.9 0a4.45 4.9 0 1 0 -8.9 0zM1191.78 787.82a4.45 4.9 0 1 0 8.9 0a4.45 4.9 0 1 0 -8.9 0zM1193.9 754.45a4.45 4.9 0 1 0 8.9 0a4.45 4.9 0 1 0 -8.9 0zM1206.17 812.71a4.45 4.9 0 1 0 8.9 0a4.45 4.9 0 1 0 -8.9 0zM1205.84 806.58a4.45 4.9 0 1 0 8.9 0a4.45 4.9 0 1 0 -8.9 0zM1191.17 811.13a4.45 4.9 0 1 0 8.9 0a4.45 4.9 0 1 0 -8.9 0zM1210.27 809.97a4.45 4.9 0 1 0 8.9 0a4.45 4.9 0 1 0 -8.9 0zM1193.92 753.33a4.45 4.9 0 1 0 8.9 0a4.45 4.9 0 1 0 -8.9 0zM1202.92 854.64a4.45 4.9 0 1 0 8.9 0a4.45 4.9 0 1 0 -8.9 0zM1209.46 804.34a4.45 4.9 0 1 0 8.9 0a4.45 4.9 0 1 0 -8.9 0zM1192.2 755.48a4.45 4.9 0 1 0 8.9 0a4.45 4.9 0 1 0 -8.9 0zM1202.38 797.4a4.45 4.9 0 1 0 8.9 0a4.45 4.9 0 1 0 -8.9 0zM1209.11 808.3a4.45 4.9 0 1 0 8.9 0a4.45 4.9 0 1 0 -8.9 0zM1189.29 757.04a4.45 4.9 0 1 0 8.9 0a4.45 4.9 0 1 0 -8.9 0zM1190.29 822.82a4.45 4.9 0 1 0 8.9 0a4.45 4.9 0 1 0 -8.9 0zM1199.24 781.83a4.45 4.9 0 1 0 8.9 0a4.45 4.9 0 1 0 -8.9 0zM1196.49 815.45a4.45 4.9 0 1 0 8.9 0a4.45 4.9 0 1 0 -8.9 0zM1203.6 870.34a4.45 4.9 0 1 0 8.9 0a4.45 4.9 0 1 0 -8.9 0zM1201.65 803.81a4.45 4.9 0 1 0 8.9 0a4.45 4.9 0 1 0 -8.9 0zM1194.91 760.2a4.45 4.9 0 1 0 8.9 0a4.45 4.9 0 1 0 -8.9 0zM1206.35 852.89a4.45 4.9 0 1 0 8.9 0a4.45 4.9 0 1 0 -8.9 0zM1207.51 842.58a4.45 4.9 0 1 0 8.9 0a4.45 4.9 0 1 0 -8.9 0zM1195.44 774.45a4.45 4.9 0 1 0 8.9 0a4.45 4.9 0 1 0 -8.9 0zM1193.91 776.1a4.45 4.9 0 1 0 8.9 0a4.45 4.9 0 1 0 -8.9 0zM1197.58 803.78a4.45 4.9 0 1 0 8.9 0a4.45 4.9 0 1 0 -8.9 0zM1192.39 759.7a4.45 4.9 0 1 0 8.9 0a4.45 4.9 0 1 0 -8.9 0zM1198.13 829.81a4.45 4.9 0 1 0 8.9 0a4.45 4.9 0 1 0 -8.9 0zM1199.16 766.77a4.45 4.9 0 1 0 8.9 0a4.45 4.9 0 1 0 -8.9 0zM1195.02 756.26a4.45 4.9 0 1 0 8.9 0a4.45 4.9 0 1 0 -8.9 0zM1189.49 759.47a4.45 4.9 0 1 0 8.9 0a4.45 4.9 0 1 0 -8.9 0zM1209.59 838.87a4.45 4.9 0 1 0 8.9 0a4.45 4.9 0 1 0 -8.9 0zM1202.93 816.43a4.45 4.9 0 1 0 8.9 0a4.45 4.9 0 1 0 -8.9 0zM1196.72 817.08a4.45 4.9 0 1 0 8.9 0a4.45 4.9 0 1 0 -8.9 0zM1192.13 763.03a4.45 4.9 0 1 0 8.9 0a4.45 4.9 0 1 0 -8.9 0zM1207.65 829.84a4.45 4.9 0 1 0 8.9 0a4.45 4.9 0 1 0 -8.9 0zM1208.39 854.78a4.45 4.9 0 1 0 8.9 0a4.45 4.9 0 1 0 -8.9 0zM1205.52 867.11a4.45 4.9 0 1 0 8.9 0a4.45 4.9 0 1 0 -8.9 0zM1199.46 791.25a4.45 4.9 0 1 0 8.9 0a4.45 4.9 0 1 0 -8.9 0zM1198.44 774.17a4.45 4.9 0 1 0 8.9 0a4.45 4.9 0 1 0 -8.9 0zM1190.32 775.58a4.45 4.9 0 1 0 8.9 0a4.45 4.9 0 1 0 -8.9 0zM1198.61 851.98a4.45 4.9 0 1 0 8.9 0a4.45 4.9 0 1 0 -8.9 0zM1203.62 841.8a4.45 4.9 0 1 0 8.9 0a4.45 4.9 0 1 0 -8.9 0zM1211.16 847.29a4.45 4.9 0 1 0 8.9 0a4.45 4.9 0 1 0 -8.9 0zM1211.66 867.87a4.45 4.9 0 1 0 8.9 0a4.45 4.9 0 1 0 -8.9 0zM1204.71 823.47a4.45 4.9 0 1 0 8.9 0a4.45 4.9 0 1 0 -8.9 0zM1193.79 751.23a4.45 4.9 0 1 0 8.9 0a4.45 4.9 0 1 0 -8.9 0zM1195.84 850.02a4.45 4.9 0 1 0 8.9 0a4.45 4.9 0 1 0 -8.9 0zM1197.79 770.19a4.45 4.9 0 1 0 8.9 0a4.45 4.9 0 1 0 -8.9 0zM1194.63 786.01a4.45 4.9 0 1 0 8.9 0a4.45 4.9 0 1 0 -8.9 0zM1191.3 748.75a4.45 4.9 0 1 0 8.9 0a4.45 4.9 0 1 0 -8.9 0zM1198.52 817.66a4.45 4.9 0 1 0 8.9 0a4.45 4.9 0 1 0 -8.9 0zM1195.46 765.45a4.45 4.9 0 1 0 8.9 0a4.45 4.9 0 1 0 -8.9 0zM1193.18 751.77a4.45 4.9 0 1 0 8.9 0a4.45 4.9 0 1 0 -8.9 0zM1194.97 774.46a4.45 4.9 0 1 0 8.9 0a4.45 4.9 0 1 0 -8.9 0zM1195.47 789.93a4.45 4.9 0 1 0 8.9 0a4.45 4.9 0 1 0 -8.9 0zM1208.6 836.76a4.45 4.9 0 1 0 8.9 0a4.45 4.9 0 1 0 -8.9 0zM1190.74 817.81a4.45 4.9 0 1 0 8.9 0a4.45 4.9 0 1 0 -8.9 0zM1189.77 754.47a4.45 4.9 0 1 0 8.9 0a4.45 4.9 0 1 0 -8.9 0zM1205.51 823.99a4.45 4.9 0 1 0 8.9 0a4.45 4.9 0 1 0 -8.9 0zM1199.67 781.47a4.45 4.9 0 1 0 8.9 0a4.45 4.9 0 1 0 -8.9 0zM1198.53 807.74a4.45 4.9 0 1 0 8.9 0a4.45 4.9 0 1 0 -8.9 0zM1201.24 781.6a4.45 4.9 0 1 0 8.9 0a4.45 4.9 0 1 0 -8.9 0zM1192.73 762a4.45 4.9 0 1 0 8.9 0a4.45 4.9 0 1 0 -8.9 0zM1200.14 782.84a4.45 4.9 0 1 0 8.9 0a4.45 4.9 0 1 0 -8.9 0zM1203.59 807.86a4.45 4.9 0 1 0 8.9 0a4.45 4.9 0 1 0 -8.9 0zM1191.34 753.59a4.45 4.9 0 1 0 8.9 0a4.45 4.9 0 1 0 -8.9 0zM1188.84 821.72a4.45 4.9 0 1 0 8.9 0a4.45 4.9 0 1 0 -8.9 0zM1192.33 785.07a4.45 4.9 0 1 0 8.9 0a4.45 4.9 0 1 0 -8.9 0zM1191.33 764.88a4.45 4.9 0 1 0 8.9 0a4.45 4.9 0 1 0 -8.9 0zM1188.79 788.36a4.45 4.9 0 1 0 8.9 0a4.45 4.9 0 1 0 -8.9 0zM1193.2 839.88a4.45 4.9 0 1 0 8.9 0a4.45 4.9 0 1 0 -8.9 0zM1202.33 794.77a4.45 4.9 0 1 0 8.9 0a4.45 4.9 0 1 0 -8.9 0zM1207.63 809.53a4.45 4.9 0 1 0 8.9 0a4.45 4.9 0 1 0 -8.9 0zM1190.57 847.16a4.45 4.9 0 1 0 8.9 0a4.45 4.9 0 1 0 -8.9 0zM1189.8 854a4.45 4.9 0 1 0 8.9 0a4.45 4.9 0 1 0 -8.9 0zM1192.89 750.31a4.45 4.9 0 1 0 8.9 0a4.45 4.9 0 1 0 -8.9 0zM1204.37 854.04a4.45 4.9 0 1 0 8.9 0a4.45 4.9 0 1 0 -8.9 0zM1206.19 818.53a4.45 4.9 0 1 0 8.9 0a4.45 4.9 0 1 0 -8.9 0zM1191.01 799.38a4.45 4.9 0 1 0 8.9 0a4.45 4.9 0 1 0 -8.9 0zM1190.23 750.57a4.45 4.9 0 1 0 8.9 0a4.45 4.9 0 1 0 -8.9 0zM1205.07 846.56a4.45 4.9 0 1 0 8.9 0a4.45 4.9 0 1 0 -8.9 0zM1213.42 850.34a4.45 4.9 0 1 0 8.9 0a4.45 4.9 0 1 0 -8.9 0zM1195.82 758.84a4.45 4.9 0 1 0 8.9 0a4.45 4.9 0 1 0 -8.9 0zM1198.02 777.93a4.45 4.9 0 1 0 8.9 0a4.45 4.9 0 1 0 -8.9 0zM1197.92 812.45a4.45 4.9 0 1 0 8.9 0a4.45 4.9 0 1 0 -8.9 0zM1194.64 786.16a4.45 4.9 0 1 0 8.9 0a4.45 4.9 0 1 0 -8.9 0zM1191.71 788.97a4.45 4.9 0 1 0 8.9 0a4.45 4.9 0 1 0 -8.9 0zM1191.28 810.79a4.45 4.9 0 1 0 8.9 0a4.45 4.9 0 1 0 -8.9 0zM1209.52 810.72a4.45 4.9 0 1 0 8.9 0a4.45 4.9 0 1 0 -8.9 0zM1202.21 790.97a4.45 4.9 0 1 0 8.9 0a4.45 4.9 0 1 0 -8.9 0zM1210.47 848.73a4.45 4.9 0 1 0 8.9 0a4.45 4.9 0 1 0 -8.9 0zM1190.95 777.06a4.45 4.9 0 1 0 8.9 0a4.45 4.9 0 1 0 -8.9 0zM1197.08 772.26a4.45 4.9 0 1 0 8.9 0a4.45 4.9 0 1 0 -8.9 0zM1205.73 841.51a4.45 4.9 0 1 0 8.9 0a4.45 4.9 0 1 0 -8.9 0zM1198.56 769.79a4.45 4.9 0 1 0 8.9 0a4.45 4.9 0 1 0 -8.9 0zM1205.7 808.78a4.45 4.9 0 1 0 8.9 0a4.45 4.9 0 1 0 -8.9 0zM1200.34 841.46a4.45 4.9 0 1 0 8.9 0a4.45 4.9 0 1 0 -8.9 0zM1204.42 861.67a4.45 4.9 0 1 0 8.9 0a4.45 4.9 0 1 0 -8.9 0zM1204.34 826.14a4.45 4.9 0 1 0 8.9 0a4.45 4.9 0 1 0 -8.9 0zM1205.79 854.3a4.45 4.9 0 1 0 8.9 0a4.45 4.9 0 1 0 -8.9 0zM1189.42 766.57a4.45 4.9 0 1 0 8.9 0a4.45 4.9 0 1 0 -8.9 0zM1195.05 802.39a4.45 4.9 0 1 0 8.9 0a4.45 4.9 0 1 0 -8.9 0zM1189.59 781.78a4.45 4.9 0 1 0 8.9 0a4.45 4.9 0 1 0 -8.9 0zM1195.78 810.4a4.45 4.9 0 1 0 8.9 0a4.45 4.9 0 1 0 -8.9 0zM1189.87 803.59a4.45 4.9 0 1 0 8.9 0a4.45 4.9 0 1 0 -8.9 0zM1190.72 850.3a4.45 4.9 0 1 0 8.9 0a4.45 4.9 0 1 0 -8.9 0zM1212.03 854.3a4.45 4.9 0 1 0 8.9 0a4.45 4.9 0 1 0 -8.9 0zM1201.32 823.65a4.45 4.9 0 1 0 8.9 0a4.45 4.9 0 1 0 -8.9 0zM1200.69 804.91a4.45 4.9 0 1 0 8.9 0a4.45 4.9 0 1 0 -8.9 0zM1212.34 845.39a4.45 4.9 0 1 0 8.9 0a4.45 4.9 0 1 0 -8.9 0zM1205.94 803.32a4.45 4.9 0 1 0 8.9 0a4.45 4.9 0 1 0 -8.9 0zM1196.76 828.18a4.45 4.9 0 1 0 8.9 0a4.45 4.9 0 1 0 -8.9 0zM1191.98 806.5a4.45 4.9 0 1 0 8.9 0a4.45 4.9 0 1 0 -8.9 0zM1189.42 755.61a4.45 4.9 0 1 0 8.9 0a4.45 4.9 0 1 0 -8.9 0zM1198.18 858.59a4.45 4.9 0 1 0 8.9 0a4.45 4.9 0 1 0 -8.9 0zM1201.58 835.86a4.45 4.9 0 1 0 8.9 0a4.45 4.9 0 1 0 -8.9 0zM1191.76 769.22a4.45 4.9 0 1 0 8.9 0a4.45 4.9 0 1 0 -8.9 0zM1197.89 801.84a4.45 4.9 0 1 0 8.9 0a4.45 4.9 0 1 0 -8.9 0zM1192.36 812.3a4.45 4.9 0 1 0 8.9 0a4.45 4.9 0 1 0 -8.9 0zM1194.1 793.86a4.45 4.9 0 1 0 8.9 0a4.45 4.9 0 1 0 -8.9 0zM1195.49 798.28a4.45 4.9 0 1 0 8.9 0a4.45 4.9 0 1 0 -8.9 0zM1208.29 821.54a4.45 4.9 0 1 0 8.9 0a4.45 4.9 0 1 0 -8.9 0zM1190.31 827.62a4.45 4.9 0 1 0 8.9 0a4.45 4.9 0 1 0 -8.9 0zM1194.58 759.62a4.45 4.9 0 1 0 8.9 0a4.45 4.9 0 1 0 -8.9 0zM1200.93 782.95a4.45 4.9 0 1 0 8.9 0a4.45 4.9 0 1 0 -8.9 0zM1211.55 828.76a4.45 4.9 0 1 0 8.9 0a4.45 4.9 0 1 0 -8.9 0zM1197.8 855.41a4.45 4.9 0 1 0 8.9 0a4.45 4.9 0 1 0 -8.9 0zM1192.16 819.68a4.45 4.9 0 1 0 8.9 0a4.45 4.9 0 1 0 -8.9 0zM1206.7 791.03a4.45 4.9 0 1 0 8.9 0a4.45 4.9 0 1 0 -8.9 0zM1198.66 833.91a4.45 4.9 0 1 0 8.9 0a4.45 4.9 0 1 0 -8.9 0zM1211.98 821.19a4.45 4.9 0 1 0 8.9 0a4.45 4.9 0 1 0 -8.9 0zM1195.29 786.08a4.45 4.9 0 1 0 8.9 0a4.45 4.9 0 1 0 -8.9 0zM1210.15 845.37a4.45 4.9 0 1 0 8.9 0a4.45 4.9 0 1 0 -8.9 0zM1209.66 830.42a4.45 4.9 0 1 0 8.9 0a4.45 4.9 0 1 0 -8.9 0zM1206.33 838.87a4.45 4.9 0 1 0 8.9 0a4.45 4.9 0 1 0 -8.9 0zM1203.83 812.75a4.45 4.9 0 1 0 8.9 0a4.45 4.9 0 1 0 -8.9 0zM1196.11 800.08a4.45 4.9 0 1 0 8.9 0a4.45 4.9 0 1 0 -8.9 0zM1192.07 792.6a4.45 4.9 0 1 0 8.9 0a4.45 4.9 0 1 0 -8.9 0zM1202.85 774.35a4.45 4.9 0 1 0 8.9 0a4.45 4.9 0 1 0 -8.9 0zM1193.72 807.81a4.45 4.9 0 1 0 8.9 0a4.45 4.9 0 1 0 -8.9 0zM1189.46 764.92a4.45 4.9 0 1 0 8.9 0a4.45 4.9 0 1 0 -8.9 0zM1191.39 851.86a4.45 4.9 0 1 0 8.9 0a4.45 4.9 0 1 0 -8.9 0zM1210.51 842.82a4.45 4.9 0 1 0 8.9 0a4.45 4.9 0 1 0 -8.9 0zM1189.69 856.69a4.45 4.9 0 1 0 8.9 0a4.45 4.9 0 1 0 -8.9 0zM1202.69 789.42a4.45 4.9 0 1 0 8.9 0a4.45 4.9 0 1 0 -8.9 0zM1192.48 764.12a4.45 4.9 0 1 0 8.9 0a4.45 4.9 0 1 0 -8.9 0zM1198.58 767.96a4.45 4.9 0 1 0 8.9 0a4.45 4.9 0 1 0 -8.9 0zM1209.83 842.85a4.45 4.9 0 1 0 8.9 0a4.45 4.9 0 1 0 -8.9 0zM1193.96 768.36a4.45 4.9 0 1 0 8.9 0a4.45 4.9 0 1 0 -8.9 0zM1202.36 798.54a4.45 4.9 0 1 0 8.9 0a4.45 4.9 0 1 0 -8.9 0zM1195.65 777.22a4.45 4.9 0 1 0 8.9 0a4.45 4.9 0 1 0 -8.9 0zM1201.36 783.05a4.45 4.9 0 1 0 8.9 0a4.45 4.9 0 1 0 -8.9 0zM1200.04 803.22a4.45 4.9 0 1 0 8.9 0a4.45 4.9 0 1 0 -8.9 0zM1202.89 786.06a4.45 4.9 0 1 0 8.9 0a4.45 4.9 0 1 0 -8.9 0zM1206.93 805.69a4.45 4.9 0 1 0 8.9 0a4.45 4.9 0 1 0 -8.9 0zM1206.76 793.24a4.45 4.9 0 1 0 8.9 0a4.45 4.9 0 1 0 -8.9 0zM1201.64 869.09a4.45 4.9 0 1 0 8.9 0a4.45 4.9 0 1 0 -8.9 0zM1195.1 782.66a4.45 4.9 0 1 0 8.9 0a4.45 4.9 0 1 0 -8.9 0zM1211.39 812.88a4.45 4.9 0 1 0 8.9 0a4.45 4.9 0 1 0 -8.9 0zM1210.08 848.48a4.45 4.9 0 1 0 8.9 0a4.45 4.9 0 1 0 -8.9 0zM1191.29 765.02a4.45 4.9 0 1 0 8.9 0a4.45 4.9 0 1 0 -8.9 0zM1210.65 826.87a4.45 4.9 0 1 0 8.9 0a4.45 4.9 0 1 0 -8.9 0zM1191.14 816.21a4.45 4.9 0 1 0 8.9 0a4.45 4.9 0 1 0 -8.9 0zM1211.72 852.04a4.45 4.9 0 1 0 8.9 0a4.45 4.9 0 1 0 -8.9 0zM1201.61 783.06a4.45 4.9 0 1 0 8.9 0a4.45 4.9 0 1 0 -8.9 0zM1203.74 781.55a4.45 4.9 0 1 0 8.9 0a4.45 4.9 0 1 0 -8.9 0zM1193.49 766.12a4.45 4.9 0 1 0 8.9 0a4.45 4.9 0 1 0 -8.9 0zM1194.87 864.41a4.45 4.9 0 1 0 8.9 0a4.45 4.9 0 1 0 -8.9 0zM1196.13 803.49a4.45 4.9 0 1 0 8.9 0a4.45 4.9 0 1 0 -8.9 0zM1188.95 751.28a4.45 4.9 0 1 0 8.9 0a4.45 4.9 0 1 0 -8.9 0zM1194.03 809.75a4.45 4.9 0 1 0 8.9 0a4.45 4.9 0 1 0 -8.9 0zM1199.21 870.33a4.45 4.9 0 1 0 8.9 0a4.45 4.9 0 1 0 -8.9 0zM1194.02 751.47a4.45 4.9 0 1 0 8.9 0a4.45 4.9 0 1 0 -8.9 0zM1206.21 851.22a4.45 4.9 0 1 0 8.9 0a4.45 4.9 0 1 0 -8.9 0zM1192.29 845.34a4.45 4.9 0 1 0 8.9 0a4.45 4.9 0 1 0 -8.9 0zM1202.78 783.29a4.45 4.9 0 1 0 8.9 0a4.45 4.9 0 1 0 -8.9 0zM1192.19 833.62a4.45 4.9 0 1 0 8.9 0a4.45 4.9 0 1 0 -8.9 0zM1200.12 834.78a4.45 4.9 0 1 0 8.9 0a4.45 4.9 0 1 0 -8.9 0zM1188.88 748.65a4.45 4.9 0 1 0 8.9 0a4.45 4.9 0 1 0 -8.9 0zM1202.21 779.48a4.45 4.9 0 1 0 8.9 0a4.45 4.9 0 1 0 -8.9 0zM1206.2 815.5a4.45 4.9 0 1 0 8.9 0a4.45 4.9 0 1 0 -8.9 0zM1191.27 812.92a4.45 4.9 0 1 0 8.9 0a4.45 4.9 0 1 0 -8.9 0zM1193.79 783.44a4.45 4.9 0 1 0 8.9 0a4.45 4.9 0 1 0 -8.9 0zM1191.55 753.87a4.45 4.9 0 1 0 8.9 0a4.45 4.9 0 1 0 -8.9 0zM1200.75 845.65a4.45 4.9 0 1 0 8.9 0a4.45 4.9 0 1 0 -8.9 0zM1197.14 761.64a4.45 4.9 0 1 0 8.9 0a4.45 4.9 0 1 0 -8.9 0zM1189.06 821.4a4.45 4.9 0 1 0 8.9 0a4.45 4.9 0 1 0 -8.9 0zM1194.26 811.39a4.45 4.9 0 1 0 8.9 0a4.45 4.9 0 1 0 -8.9 0zM1193.31 765.66a4.45 4.9 0 1 0 8.9 0a4.45 4.9 0 1 0 -8.9 0zM1194.66 823.62a4.45 4.9 0 1 0 8.9 0a4.45 4.9 0 1 0 -8.9 0zM1202.22 799.24a4.45 4.9 0 1 0 8.9 0a4.45 4.9 0 1 0 -8.9 0zM1196.83 758.53a4.45 4.9 0 1 0 8.9 0a4.45 4.9 0 1 0 -8.9 0zM1192.69 756.32a4.45 4.9 0 1 0 8.9 0a4.45 4.9 0 1 0 -8.9 0zM1211.35 810.4a4.45 4.9 0 1 0 8.9 0a4.45 4.9 0 1 0 -8.9 0zM1198.13 816.16a4.45 4.9 0 1 0 8.9 0a4.45 4.9 0 1 0 -8.9 0zM1202.59 805.83a4.45 4.9 0 1 0 8.9 0a4.45 4.9 0 1 0 -8.9 0zM1195.79 868.67a4.45 4.9 0 1 0 8.9 0a4.45 4.9 0 1 0 -8.9 0zM1192.04 750a4.45 4.9 0 1 0 8.9 0a4.45 4.9 0 1 0 -8.9 0zM1202.23 790.41a4.45 4.9 0 1 0 8.9 0a4.45 4.9 0 1 0 -8.9 0zM1208 825.28a4.45 4.9 0 1 0 8.9 0a4.45 4.9 0 1 0 -8.9 0zM1197.22 838.43a4.45 4.9 0 1 0 8.9 0a4.45 4.9 0 1 0 -8.9 0zM1192.34 753.45a4.45 4.9 0 1 0 8.9 0a4.45 4.9 0 1 0 -8.9 0zM1193.33 848.06a4.45 4.9 0 1 0 8.9 0a4.45 4.9 0 1 0 -8.9 0zM1200.86 843.83a4.45 4.9 0 1 0 8.9 0a4.45 4.9 0 1 0 -8.9 0zM1204.77 833.53a4.45 4.9 0 1 0 8.9 0a4.45 4.9 0 1 0 -8.9 0zM1190.33 847.81a4.45 4.9 0 1 0 8.9 0a4.45 4.9 0 1 0 -8.9 0zM1200.66 843.47a4.45 4.9 0 1 0 8.9 0a4.45 4.9 0 1 0 -8.9 0zM1189.4 784.09a4.45 4.9 0 1 0 8.9 0a4.45 4.9 0 1 0 -8.9 0zM1189.24 772.53a4.45 4.9 0 1 0 8.9 0a4.45 4.9 0 1 0 -8.9 0zM1203.07 862.8a4.45 4.9 0 1 0 8.9 0a4.45 4.9 0 1 0 -8.9 0zM1203.94 869.66a4.45 4.9 0 1 0 8.9 0a4.45 4.9 0 1 0 -8.9 0zM1200.83 779.16a4.45 4.9 0 1 0 8.9 0a4.45 4.9 0 1 0 -8.9 0zM1193.52 771.51a4.45 4.9 0 1 0 8.9 0a4.45 4.9 0 1 0 -8.9 0zM1211.42 844.04a4.45 4.9 0 1 0 8.9 0a4.45 4.9 0 1 0 -8.9 0zM1190.91 788.83a4.45 4.9 0 1 0 8.9 0a4.45 4.9 0 1 0 -8.9 0zM1205.66 793.27a4.45 4.9 0 1 0 8.9 0a4.45 4.9 0 1 0 -8.9 0zM1211.77 839.43a4.45 4.9 0 1 0 8.9 0a4.45 4.9 0 1 0 -8.9 0zM1207.74 795.56a4.45 4.9 0 1 0 8.9 0a4.45 4.9 0 1 0 -8.9 0zM1199.92 809.03a4.45 4.9 0 1 0 8.9 0a4.45 4.9 0 1 0 -8.9 0zM1203.16 861.69a4.45 4.9 0 1 0 8.9 0a4.45 4.9 0 1 0 -8.9 0zM1207.96 846.54a4.45 4.9 0 1 0 8.9 0a4.45 4.9 0 1 0 -8.9 0zM1193.55 757.71a4.45 4.9 0 1 0 8.9 0a4.45 4.9 0 1 0 -8.9 0zM1203.28 849.15a4.45 4.9 0 1 0 8.9 0a4.45 4.9 0 1 0 -8.9 0zM1190.08 787.51a4.45 4.9 0 1 0 8.9 0a4.45 4.9 0 1 0 -8.9 0zM1196.4 829.29a4.45 4.9 0 1 0 8.9 0a4.45 4.9 0 1 0 -8.9 0zM1199.27 822.12a4.45 4.9 0 1 0 8.9 0a4.45 4.9 0 1 0 -8.9 0zM1197.61 832.84a4.45 4.9 0 1 0 8.9 0a4.45 4.9 0 1 0 -8.9 0zM1194.47 753.21a4.45 4.9 0 1 0 8.9 0a4.45 4.9 0 1 0 -8.9 0zM1207.34 791.36a4.45 4.9 0 1 0 8.9 0a4.45 4.9 0 1 0 -8.9 0zM1205.03 781.77a4.45 4.9 0 1 0 8.9 0a4.45 4.9 0 1 0 -8.9 0zM1190.75 864.59a4.45 4.9 0 1 0 8.9 0a4.45 4.9 0 1 0 -8.9 0zM1197.78 826.41a4.45 4.9 0 1 0 8.9 0a4.45 4.9 0 1 0 -8.9 0zM1206.69 846.53a4.45 4.9 0 1 0 8.9 0a4.45 4.9 0 1 0 -8.9 0zM1192.65 865.19a4.45 4.9 0 1 0 8.9 0a4.45 4.9 0 1 0 -8.9 0zM1208.14 822.73a4.45 4.9 0 1 0 8.9 0a4.45 4.9 0 1 0 -8.9 0zM1189.08 752.28a4.45 4.9 0 1 0 8.9 0a4.45 4.9 0 1 0 -8.9 0zM1198.28 843.76a4.45 4.9 0 1 0 8.9 0a4.45 4.9 0 1 0 -8.9 0zM1199.71 795.09a4.45 4.9 0 1 0 8.9 0a4.45 4.9 0 1 0 -8.9 0zM1205.58 822.43a4.45 4.9 0 1 0 8.9 0a4.45 4.9 0 1 0 -8.9 0zM1199.08 864.71a4.45 4.9 0 1 0 8.9 0a4.45 4.9 0 1 0 -8.9 0zM1203.62 841.86a4.45 4.9 0 1 0 8.9 0a4.45 4.9 0 1 0 -8.9 0zM1198.04 813.12a4.45 4.9 0 1 0 8.9 0a4.45 4.9 0 1 0 -8.9 0zM1194.94 827.9a4.45 4.9 0 1 0 8.9 0a4.45 4.9 0 1 0 -8.9 0zM1195.63 761.95a4.45 4.9 0 1 0 8.9 0a4.45 4.9 0 1 0 -8.9 0zM1197.45 809.38a4.45 4.9 0 1 0 8.9 0a4.45 4.9 0 1 0 -8.9 0zM1195.06 817.09a4.45 4.9 0 1 0 8.9 0a4.45 4.9 0 1 0 -8.9 0zM1195.95 780.02a4.45 4.9 0 1 0 8.9 0a4.45 4.9 0 1 0 -8.9 0zM1196.7 870.55a4.45 4.9 0 1 0 8.9 0a4.45 4.9 0 1 0 -8.9 0zM1202.36 860.73a4.45 4.9 0 1 0 8.9 0a4.45 4.9 0 1 0 -8.9 0zM1197.05 763.08a4.45 4.9 0 1 0 8.9 0a4.45 4.9 0 1 0 -8.9 0zM1207.9 803.6a4.45 4.9 0 1 0 8.9 0a4.45 4.9 0 1 0 -8.9 0zM1190.51 802.75a4.45 4.9 0 1 0 8.9 0a4.45 4.9 0 1 0 -8.9 0zM1210.15 831.88a4.45 4.9 0 1 0 8.9 0a4.45 4.9 0 1 0 -8.9 0zM1194.86 787.31a4.45 4.9 0 1 0 8.9 0a4.45 4.9 0 1 0 -8.9 0zM1192.76 755.99a4.45 4.9 0 1 0 8.9 0a4.45 4.9 0 1 0 -8.9 0zM1212.2 857.63a4.45 4.9 0 1 0 8.9 0a4.45 4.9 0 1 0 -8.9 0zM1212.41 835.55a4.45 4.9 0 1 0 8.9 0a4.45 4.9 0 1 0 -8.9 0zM1208.61 826.44a4.45 4.9 0 1 0 8.9 0a4.45 4.9 0 1 0 -8.9 0zM1191.44 810.58a4.45 4.9 0 1 0 8.9 0a4.45 4.9 0 1 0 -8.9 0zM1190.62 772.72a4.45 4.9 0 1 0 8.9 0a4.45 4.9 0 1 0 -8.9 0zM1189.34 845.22a4.45 4.9 0 1 0 8.9 0a4.45 4.9 0 1 0 -8.9 0zM1197.61 816.14a4.45 4.9 0 1 0 8.9 0a4.45 4.9 0 1 0 -8.9 0zM1203.32 846.85a4.45 4.9 0 1 0 8.9 0a4.45 4.9 0 1 0 -8.9 0zM1190.8 823.27a4.45 4.9 0 1 0 8.9 0a4.45 4.9 0 1 0 -8.9 0zM1206.25 786.04a4.45 4.9 0 1 0 8.9 0a4.45 4.9 0 1 0 -8.9 0zM1202.14 836.42a4.45 4.9 0 1 0 8.9 0a4.45 4.9 0 1 0 -8.9 0zM1210.19 842.61a4.45 4.9 0 1 0 8.9 0a4.45 4.9 0 1 0 -8.9 0zM1196.35 757.07a4.45 4.9 0 1 0 8.9 0a4.45 4.9 0 1 0 -8.9 0zM1199.98 827.01a4.45 4.9 0 1 0 8.9 0a4.45 4.9 0 1 0 -8.9 0zM1197.41 831.65a4.45 4.9 0 1 0 8.9 0a4.45 4.9 0 1 0 -8.9 0zM1210.11 855.99a4.45 4.9 0 1 0 8.9 0a4.45 4.9 0 1 0 -8.9 0zM1193.23 826.69a4.45 4.9 0 1 0 8.9 0a4.45 4.9 0 1 0 -8.9 0zM1200.8 866.85a4.45 4.9 0 1 0 8.9 0a4.45 4.9 0 1 0 -8.9 0zM1190.2 860.02a4.45 4.9 0 1 0 8.9 0a4.45 4.9 0 1 0 -8.9 0zM1190.17 763.27a4.45 4.9 0 1 0 8.9 0a4.45 4.9 0 1 0 -8.9 0zM1192.55 768.25a4.45 4.9 0 1 0 8.9 0a4.45 4.9 0 1 0 -8.9 0zM1197.51 835.25a4.45 4.9 0 1 0 8.9 0a4.45 4.9 0 1 0 -8.9 0zM1213.71 863.73a4.45 4.9 0 1 0 8.9 0a4.45 4.9 0 1 0 -8.9 0zM1195.44 852.05a4.45 4.9 0 1 0 8.9 0a4.45 4.9 0 1 0 -8.9 0zM1202.49 826.11a4.45 4.9 0 1 0 8.9 0a4.45 4.9 0 1 0 -8.9 0zM1191.66 763.4a4.45 4.9 0 1 0 8.9 0a4.45 4.9 0 1 0 -8.9 0zM1200.56 813.62a4.45 4.9 0 1 0 8.9 0a4.45 4.9 0 1 0 -8.9 0zM1200.25 768.74a4.45 4.9 0 1 0 8.9 0a4.45 4.9 0 1 0 -8.9 0zM1196.21 766.97a4.45 4.9 0 1 0 8.9 0a4.45 4.9 0 1 0 -8.9 0zM1204.19 836.64a4.45 4.9 0 1 0 8.9 0a4.45 4.9 0 1 0 -8.9 0zM1203.9 851.63a4.45 4.9 0 1 0 8.9 0a4.45 4.9 0 1 0 -8.9 0zM1189.41 849.5a4.45 4.9 0 1 0 8.9 0a4.45 4.9 0 1 0 -8.9 0zM1193.02 753.59a4.45 4.9 0 1 0 8.9 0a4.45 4.9 0 1 0 -8.9 0zM1204.77 818.94a4.45 4.9 0 1 0 8.9 0a4.45 4.9 0 1 0 -8.9 0zM1199.54 842.34a4.45 4.9 0 1 0 8.9 0a4.45 4.9 0 1 0 -8.9 0zM1201.18 826.6a4.45 4.9 0 1 0 8.9 0a4.45 4.9 0 1 0 -8.9 0zM1195.91 825.14a4.45 4.9 0 1 0 8.9 0a4.45 4.9 0 1 0 -8.9 0zM1202.2 865.67a4.45 4.9 0 1 0 8.9 0a4.45 4.9 0 1 0 -8.9 0zM1206.87 846.98a4.45 4.9 0 1 0 8.9 0a4.45 4.9 0 1 0 -8.9 0zM1189.91 784.58a4.45 4.9 0 1 0 8.9 0a4.45 4.9 0 1 0 -8.9 0zM1191.89 755.37a4.45 4.9 0 1 0 8.9 0a4.45 4.9 0 1 0 -8.9 0zM1193.2 807.56a4.45 4.9 0 1 0 8.9 0a4.45 4.9 0 1 0 -8.9 0zM1196.45 822.62a4.45 4.9 0 1 0 8.9 0a4.45 4.9 0 1 0 -8.9 0zM1207.49 836.36a4.45 4.9 0 1 0 8.9 0a4.45 4.9 0 1 0 -8.9 0zM1215.27 853.88a4.45 4.9 0 1 0 8.9 0a4.45 4.9 0 1 0 -8.9 0zM1192.42 764.08a4.45 4.9 0 1 0 8.9 0a4.45 4.9 0 1 0 -8.9 0zM1196.47 817.08a4.45 4.9 0 1 0 8.9 0a4.45 4.9 0 1 0 -8.9 0zM1194.49 805.38a4.45 4.9 0 1 0 8.9 0a4.45 4.9 0 1 0 -8.9 0zM1190.2 778.49a4.45 4.9 0 1 0 8.9 0a4.45 4.9 0 1 0 -8.9 0zM1277.3 412a4.45 4.9 0 1 0 8.9 0a4.45 4.9 0 1 0 -8.9 0zM1191.55 626.25a4.45 4.9 0 1 0 8.9 0a4.45 4.9 0 1 0 -8.9 0zM1275.8 637.5a4.45 4.9 0 1 0 8.9 0a4.45 4.9 0 1 0 -8.9 0zM1200.55 665a4.45 4.9 0 1 0 8.9 0a4.45 4.9 0 1 0 -8.9 0zM1201.15 665.2a4.45 4.9 0 1 0 8.9 0a4.45 4.9 0 1 0 -8.9 0zM1191.25 676.3a4.45 4.9 0 1 0 8.9 0a4.45 4.9 0 1 0 -8.9 0zM1200.25 674.5a4.45 4.9 0 1 0 8.9 0a4.45 4.9 0 1 0 -8.9 0zM1195.35 705.2a4.45 4.9 0 1 0 8.9 0a4.45 4.9 0 1 0 -8.9 0zM1189.85 710.8a4.45 4.9 0 1 0 8.9 0a4.45 4.9 0 1 0 -8.9 0zM1208.95 711.2a4.45 4.9 0 1 0 8.9 0a4.45 4.9 0 1 0 -8.9 0zM1195.05 721a4.45 4.9 0 1 0 8.9 0a4.45 4.9 0 1 0 -8.9 0zM1199.65 725.7a4.45 4.9 0 1 0 8.9 0a4.45 4.9 0 1 0 -8.9 0zM1204.35 728.5a4.45 4.9 0 1 0 8.9 0a4.45 4.9 0 1 0 -8.9 0zM1198.35 737.8a4.45 4.9 0 1 0 8.9 0a4.45 4.9 0 1 0 -8.9 0zM1191.85 750a4.45 4.9 0 1 0 8.9 0a4.45 4.9 0 1 0 -8.9 0zM1205.25 756.5a4.45 4.9 0 1 0 8.9 0a4.45 4.9 0 1 0 -8.9 0zM1205.25 773.2a4.45 4.9 0 1 0 8.9 0a4.45 4.9 0 1 0 -8.9 0zM1193.55 755a4.45 4.9 0 1 0 8.9 0a4.45 4.9 0 1 0 -8.9 0zM1202.55 762a4.45 4.9 0 1 0 8.9 0a4.45 4.9 0 1 0 -8.9 0zM1259.35 741.6a4.45 4.9 0 1 0 8.9 0a4.45 4.9 0 1 0 -8.9 0zM1261.15 726.7a4.45 4.9 0 1 0 8.9 0a4.45 4.9 0 1 0 -8.9 0zM1265.85 722a4.45 4.9 0 1 0 8.9 0a4.45 4.9 0 1 0 -8.9 0zM1270.55 727.6a4.45 4.9 0 1 0 8.9 0a4.45 4.9 0 1 0 -8.9 0zM1274.25 722a4.45 4.9 0 1 0 8.9 0a4.45 4.9 0 1 0 -8.9 0zM1272.35 731.3a4.45 4.9 0 1 0 8.9 0a4.45 4.9 0 1 0 -8.9 0zM1267.55 733a4.45 4.9 0 1 0 8.9 0a4.45 4.9 0 1 0 -8.9 0zM1274.55 736a4.45 4.9 0 1 0 8.9 0a4.45 4.9 0 1 0 -8.9 0zM1265.85 681a4.45 4.9 0 1 0 8.9 0a4.45 4.9 0 1 0 -8.9 0zM1270.55 685.7a4.45 4.9 0 1 0 8.9 0a4.45 4.9 0 1 0 -8.9 0zM1273.25 675.4a4.45 4.9 0 1 0 8.9 0a4.45 4.9 0 1 0 -8.9 0zM1264.85 699.6a4.45 4.9 0 1 0 8.9 0a4.45 4.9 0 1 0 -8.9 0zM1269.55 695.9a4.45 4.9 0 1 0 8.9 0a4.45 4.9 0 1 0 -8.9 0zM1272.35 701.5a4.45 4.9 0 1 0 8.9 0a4.45 4.9 0 1 0 -8.9 0zM1268.05 690a4.45 4.9 0 1 0 8.9 0a4.45 4.9 0 1 0 -8.9 0zM1274.55 693a4.45 4.9 0 1 0 8.9 0a4.45 4.9 0 1 0 -8.9 0zM1273.55 683a4.45 4.9 0 1 0 8.9 0a4.45 4.9 0 1 0 -8.9 0zM1261.55 688a4.45 4.9 0 1 0 8.9 0a4.45 4.9 0 1 0 -8.9 0zM1276.05 641a4.45 4.9 0 1 0 8.9 0a4.45 4.9 0 1 0 -8.9 0zM1262.76 781.92a4.45 4.9 0 1 0 8.9 0a4.45 4.9 0 1 0 -8.9 0zM1256.76 822.73a4.45 4.9 0 1 0 8.9 0a4.45 4.9 0 1 0 -8.9 0zM1253.08 854.1a4.45 4.9 0 1 0 8.9 0a4.45 4.9 0 1 0 -8.9 0zM1267.03 786.59a4.45 4.9 0 1 0 8.9 0a4.45 4.9 0 1 0 -8.9 0zM1270.97 784.75a4.45 4.9 0 1 0 8.9 0a4.45 4.9 0 1 0 -8.9 0zM1264.71 808.03a4.45 4.9 0 1 0 8.9 0a4.45 4.9 0 1 0 -8.9 0zM1259.88 808.09a4.45 4.9 0 1 0 8.9 0a4.45 4.9 0 1 0 -8.9 0zM1275.44 748.41a4.45 4.9 0 1 0 8.9 0a4.45 4.9 0 1 0 -8.9 0zM1275.27 808.93a4.45 4.9 0 1 0 8.9 0a4.45 4.9 0 1 0 -8.9 0zM1262.25 772.5a4.45 4.9 0 1 0 8.9 0a4.45 4.9 0 1 0 -8.9 0zM1269.13 751.84a4.45 4.9 0 1 0 8.9 0a4.45 4.9 0 1 0 -8.9 0zM1266.54 856.23a4.45 4.9 0 1 0 8.9 0a4.45 4.9 0 1 0 -8.9 0zM1265.57 804.56a4.45 4.9 0 1 0 8.9 0a4.45 4.9 0 1 0 -8.9 0zM1260.59 851.82a4.45 4.9 0 1 0 8.9 0a4.45 4.9 0 1 0 -8.9 0zM1268.56 856.25a4.45 4.9 0 1 0 8.9 0a4.45 4.9 0 1 0 -8.9 0zM1259.33 841.36a4.45 4.9 0 1 0 8.9 0a4.45 4.9 0 1 0 -8.9 0zM1267.05 795.77a4.45 4.9 0 1 0 8.9 0a4.45 4.9 0 1 0 -8.9 0zM1266.79 769.93a4.45 4.9 0 1 0 8.9 0a4.45 4.9 0 1 0 -8.9 0zM1268.36 754.73a4.45 4.9 0 1 0 8.9 0a4.45 4.9 0 1 0 -8.9 0zM1257.05 841.43a4.45 4.9 0 1 0 8.9 0a4.45 4.9 0 1 0 -8.9 0zM1266.94 869.63a4.45 4.9 0 1 0 8.9 0a4.45 4.9 0 1 0 -8.9 0zM1275.59 760.41a4.45 4.9 0 1 0 8.9 0a4.45 4.9 0 1 0 -8.9 0zM1271.75 794.93a4.45 4.9 0 1 0 8.9 0a4.45 4.9 0 1 0 -8.9 0zM1274.75 788.06a4.45 4.9 0 1 0 8.9 0a4.45 4.9 0 1 0 -8.9 0zM1254.99 840.25a4.45 4.9 0 1 0 8.9 0a4.45 4.9 0 1 0 -8.9 0zM1264.22 809.39a4.45 4.9 0 1 0 8.9 0a4.45 4.9 0 1 0 -8.9 0zM1264.59 751.19a4.45 4.9 0 1 0 8.9 0a4.45 4.9 0 1 0 -8.9 0zM1264.83 787.3a4.45 4.9 0 1 0 8.9 0a4.45 4.9 0 1 0 -8.9 0zM1267.29 802.85a4.45 4.9 0 1 0 8.9 0a4.45 4.9 0 1 0 -8.9 0zM1260.04 810.2a4.45 4.9 0 1 0 8.9 0a4.45 4.9 0 1 0 -8.9 0zM1254.57 822.44a4.45 4.9 0 1 0 8.9 0a4.45 4.9 0 1 0 -8.9 0zM1268.62 869.82a4.45 4.9 0 1 0 8.9 0a4.45 4.9 0 1 0 -8.9 0zM1261.77 783.05a4.45 4.9 0 1 0 8.9 0a4.45 4.9 0 1 0 -8.9 0zM1263.43 849.45a4.45 4.9 0 1 0 8.9 0a4.45 4.9 0 1 0 -8.9 0zM1257.81 834.45a4.45 4.9 0 1 0 8.9 0a4.45 4.9 0 1 0 -8.9 0zM1259.08 847.88a4.45 4.9 0 1 0 8.9 0a4.45 4.9 0 1 0 -8.9 0zM1275.53 830.06a4.45 4.9 0 1 0 8.9 0a4.45 4.9 0 1 0 -8.9 0zM1270.86 818.75a4.45 4.9 0 1 0 8.9 0a4.45 4.9 0 1 0 -8.9 0zM1267.9 836.53a4.45 4.9 0 1 0 8.9 0a4.45 4.9 0 1 0 -8.9 0zM1269.91 748.84a4.45 4.9 0 1 0 8.9 0a4.45 4.9 0 1 0 -8.9 0zM1269.91 866.87a4.45 4.9 0 1 0 8.9 0a4.45 4.9 0 1 0 -8.9 0zM1264.86 842.91a4.45 4.9 0 1 0 8.9 0a4.45 4.9 0 1 0 -8.9 0zM1265.18 836.04a4.45 4.9 0 1 0 8.9 0a4.45 4.9 0 1 0 -8.9 0zM1268.62 766.9a4.45 4.9 0 1 0 8.9 0a4.45 4.9 0 1 0 -8.9 0zM1271.97 823.28a4.45 4.9 0 1 0 8.9 0a4.45 4.9 0 1 0 -8.9 0zM1269.87 764.05a4.45 4.9 0 1 0 8.9 0a4.45 4.9 0 1 0 -8.9 0zM1275.42 749.46a4.45 4.9 0 1 0 8.9 0a4.45 4.9 0 1 0 -8.9 0zM1258.13 759.29a4.45 4.9 0 1 0 8.9 0a4.45 4.9 0 1 0 -8.9 0zM1257.86 784.87a4.45 4.9 0 1 0 8.9 0a4.45 4.9 0 1 0 -8.9 0zM1260.74 832.16a4.45 4.9 0 1 0 8.9 0a4.45 4.9 0 1 0 -8.9 0zM1273.95 842.76a4.45 4.9 0 1 0 8.9 0a4.45 4.9 0 1 0 -8.9 0zM1268.81 855.04a4.45 4.9 0 1 0 8.9 0a4.45 4.9 0 1 0 -8.9 0zM1263.45 753.32a4.45 4.9 0 1 0 8.9 0a4.45 4.9 0 1 0 -8.9 0zM1261.81 771.52a4.45 4.9 0 1 0 8.9 0a4.45 4.9 0 1 0 -8.9 0zM1263.78 828.61a4.45 4.9 0 1 0 8.9 0a4.45 4.9 0 1 0 -8.9 0zM1258.32 784.88a4.45 4.9 0 1 0 8.9 0a4.45 4.9 0 1 0 -8.9 0zM1257.78 859.97a4.45 4.9 0 1 0 8.9 0a4.45 4.9 0 1 0 -8.9 0zM1271.22 789.96a4.45 4.9 0 1 0 8.9 0a4.45 4.9 0 1 0 -8.9 0zM1266.74 835.98a4.45 4.9 0 1 0 8.9 0a4.45 4.9 0 1 0 -8.9 0zM1265.92 832.51a4.45 4.9 0 1 0 8.9 0a4.45 4.9 0 1 0 -8.9 0zM1260.48 769.63a4.45 4.9 0 1 0 8.9 0a4.45 4.9 0 1 0 -8.9 0zM1256.69 815.54a4.45 4.9 0 1 0 8.9 0a4.45 4.9 0 1 0 -8.9 0zM1256.14 867.6a4.45 4.9 0 1 0 8.9 0a4.45 4.9 0 1 0 -8.9 0zM1258.94 781.77a4.45 4.9 0 1 0 8.9 0a4.45 4.9 0 1 0 -8.9 0zM1258.27 833.98a4.45 4.9 0 1 0 8.9 0a4.45 4.9 0 1 0 -8.9 0zM1274.64 789.27a4.45 4.9 0 1 0 8.9 0a4.45 4.9 0 1 0 -8.9 0zM1256.67 845.32a4.45 4.9 0 1 0 8.9 0a4.45 4.9 0 1 0 -8.9 0zM1270.03 760.8a4.45 4.9 0 1 0 8.9 0a4.45 4.9 0 1 0 -8.9 0zM1275.63 793.15a4.45 4.9 0 1 0 8.9 0a4.45 4.9 0 1 0 -8.9 0zM1274.83 848.21a4.45 4.9 0 1 0 8.9 0a4.45 4.9 0 1 0 -8.9 0zM1257.06 846.48a4.45 4.9 0 1 0 8.9 0a4.45 4.9 0 1 0 -8.9 0zM1269.88 781.6a4.45 4.9 0 1 0 8.9 0a4.45 4.9 0 1 0 -8.9 0zM1264.2 788.97a4.45 4.9 0 1 0 8.9 0a4.45 4.9 0 1 0 -8.9 0zM1264.71 777.68a4.45 4.9 0 1 0 8.9 0a4.45 4.9 0 1 0 -8.9 0zM1266.39 770.86a4.45 4.9 0 1 0 8.9 0a4.45 4.9 0 1 0 -8.9 0zM1267.55 862.59a4.45 4.9 0 1 0 8.9 0a4.45 4.9 0 1 0 -8.9 0zM1268.72 762.73a4.45 4.9 0 1 0 8.9 0a4.45 4.9 0 1 0 -8.9 0zM1256.7 819.15a4.45 4.9 0 1 0 8.9 0a4.45 4.9 0 1 0 -8.9 0zM1263.91 829.56a4.45 4.9 0 1 0 8.9 0a4.45 4.9 0 1 0 -8.9 0zM1251.65 825.56a4.45 4.9 0 1 0 8.9 0a4.45 4.9 0 1 0 -8.9 0zM1270.09 797.37a4.45 4.9 0 1 0 8.9 0a4.45 4.9 0 1 0 -8.9 0zM1272.01 758.12a4.45 4.9 0 1 0 8.9 0a4.45 4.9 0 1 0 -8.9 0zM1272.53 746.15a4.45 4.9 0 1 0 8.9 0a4.45 4.9 0 1 0 -8.9 0zM1259.48 862.1a4.45 4.9 0 1 0 8.9 0a4.45 4.9 0 1 0 -8.9 0zM1272.65 862.85a4.45 4.9 0 1 0 8.9 0a4.45 4.9 0 1 0 -8.9 0zM1257.79 805.42a4.45 4.9 0 1 0 8.9 0a4.45 4.9 0 1 0 -8.9 0zM1256.87 866.47a4.45 4.9 0 1 0 8.9 0a4.45 4.9 0 1 0 -8.9 0zM1273.68 826.56a4.45 4.9 0 1 0 8.9 0a4.45 4.9 0 1 0 -8.9 0zM1268.91 756.73a4.45 4.9 0 1 0 8.9 0a4.45 4.9 0 1 0 -8.9 0zM1269.31 812.66a4.45 4.9 0 1 0 8.9 0a4.45 4.9 0 1 0 -8.9 0zM1273.62 863.05a4.45 4.9 0 1 0 8.9 0a4.45 4.9 0 1 0 -8.9 0zM1273.68 767.47a4.45 4.9 0 1 0 8.9 0a4.45 4.9 0 1 0 -8.9 0zM1274.43 767.56a4.45 4.9 0 1 0 8.9 0a4.45 4.9 0 1 0 -8.9 0zM1258.82 870.65a4.45 4.9 0 1 0 8.9 0a4.45 4.9 0 1 0 -8.9 0zM1274.57 807.67a4.45 4.9 0 1 0 8.9 0a4.45 4.9 0 1 0 -8.9 0zM1273.96 866.25a4.45 4.9 0 1 0 8.9 0a4.45 4.9 0 1 0 -8.9 0zM1248.86 855.53a4.45 4.9 0 1 0 8.9 0a4.45 4.9 0 1 0 -8.9 0zM1253.52 816.78a4.45 4.9 0 1 0 8.9 0a4.45 4.9 0 1 0 -8.9 0zM1255.7 868.87a4.45 4.9 0 1 0 8.9 0a4.45 4.9 0 1 0 -8.9 0zM1263.04 869.63a4.45 4.9 0 1 0 8.9 0a4.45 4.9 0 1 0 -8.9 0zM1274.62 807.49a4.45 4.9 0 1 0 8.9 0a4.45 4.9 0 1 0 -8.9 0zM1261.58 852.31a4.45 4.9 0 1 0 8.9 0a4.45 4.9 0 1 0 -8.9 0zM1257.7 769.7a4.45 4.9 0 1 0 8.9 0a4.45 4.9 0 1 0 -8.9 0zM1265.34 765.89a4.45 4.9 0 1 0 8.9 0a4.45 4.9 0 1 0 -8.9 0zM1258.33 777.79a4.45 4.9 0 1 0 8.9 0a4.45 4.9 0 1 0 -8.9 0zM1270.58 837.95a4.45 4.9 0 1 0 8.9 0a4.45 4.9 0 1 0 -8.9 0zM1269.93 816.76a4.45 4.9 0 1 0 8.9 0a4.45 4.9 0 1 0 -8.9 0zM1273.15 767.52a4.45 4.9 0 1 0 8.9 0a4.45 4.9 0 1 0 -8.9 0zM1271.27 858.08a4.45 4.9 0 1 0 8.9 0a4.45 4.9 0 1 0 -8.9 0zM1254.29 810.17a4.45 4.9 0 1 0 8.9 0a4.45 4.9 0 1 0 -8.9 0zM1254.95 829.49a4.45 4.9 0 1 0 8.9 0a4.45 4.9 0 1 0 -8.9 0zM1263.09 763.15a4.45 4.9 0 1 0 8.9 0a4.45 4.9 0 1 0 -8.9 0zM1259.92 776.63a4.45 4.9 0 1 0 8.9 0a4.45 4.9 0 1 0 -8.9 0zM1270.66 775.06a4.45 4.9 0 1 0 8.9 0a4.45 4.9 0 1 0 -8.9 0zM1256.39 865.23a4.45 4.9 0 1 0 8.9 0a4.45 4.9 0 1 0 -8.9 0zM1250.24 836.22a4.45 4.9 0 1 0 8.9 0a4.45 4.9 0 1 0 -8.9 0zM1268.12 827.54a4.45 4.9 0 1 0 8.9 0a4.45 4.9 0 1 0 -8.9 0zM1263.17 753.3a4.45 4.9 0 1 0 8.9 0a4.45 4.9 0 1 0 -8.9 0zM1263.28 784a4.45 4.9 0 1 0 8.9 0a4.45 4.9 0 1 0 -8.9 0zM1273.59 808.57a4.45 4.9 0 1 0 8.9 0a4.45 4.9 0 1 0 -8.9 0zM1258.12 833.8a4.45 4.9 0 1 0 8.9 0a4.45 4.9 0 1 0 -8.9 0zM1274.5 760.24a4.45 4.9 0 1 0 8.9 0a4.45 4.9 0 1 0 -8.9 0zM1267.75 782.53a4.45 4.9 0 1 0 8.9 0a4.45 4.9 0 1 0 -8.9 0zM1257.48 773a4.45 4.9 0 1 0 8.9 0a4.45 4.9 0 1 0 -8.9 0zM1271.12 764.72a4.45 4.9 0 1 0 8.9 0a4.45 4.9 0 1 0 -8.9 0zM1261.09 821.52a4.45 4.9 0 1 0 8.9 0a4.45 4.9 0 1 0 -8.9 0zM1262.96 814.43a4.45 4.9 0 1 0 8.9 0a4.45 4.9 0 1 0 -8.9 0zM1267.85 812.96a4.45 4.9 0 1 0 8.9 0a4.45 4.9 0 1 0 -8.9 0zM1259.93 772.91a4.45 4.9 0 1 0 8.9 0a4.45 4.9 0 1 0 -8.9 0zM1272.71 840.22a4.45 4.9 0 1 0 8.9 0a4.45 4.9 0 1 0 -8.9 0zM1267.1 755.77a4.45 4.9 0 1 0 8.9 0a4.45 4.9 0 1 0 -8.9 0zM1252.06 833.82a4.45 4.9 0 1 0 8.9 0a4.45 4.9 0 1 0 -8.9 0zM1252.47 816.3a4.45 4.9 0 1 0 8.9 0a4.45 4.9 0 1 0 -8.9 0zM1263.84 814.23a4.45 4.9 0 1 0 8.9 0a4.45 4.9 0 1 0 -8.9 0zM1254.49 817.37a4.45 4.9 0 1 0 8.9 0a4.45 4.9 0 1 0 -8.9 0zM1265.81 786.68a4.45 4.9 0 1 0 8.9 0a4.45 4.9 0 1 0 -8.9 0zM1261.39 760.09a4.45 4.9 0 1 0 8.9 0a4.45 4.9 0 1 0 -8.9 0zM1252.85 818.69a4.45 4.9 0 1 0 8.9 0a4.45 4.9 0 1 0 -8.9 0zM1271.52 809.55a4.45 4.9 0 1 0 8.9 0a4.45 4.9 0 1 0 -8.9 0zM1265.26 802.41a4.45 4.9 0 1 0 8.9 0a4.45 4.9 0 1 0 -8.9 0zM1255.08 802.83a4.45 4.9 0 1 0 8.9 0a4.45 4.9 0 1 0 -8.9 0zM1271.72 803.53a4.45 4.9 0 1 0 8.9 0a4.45 4.9 0 1 0 -8.9 0zM1260.28 836.27a4.45 4.9 0 1 0 8.9 0a4.45 4.9 0 1 0 -8.9 0zM1269.22 847.96a4.45 4.9 0 1 0 8.9 0a4.45 4.9 0 1 0 -8.9 0zM1251.7 818.08a4.45 4.9 0 1 0 8.9 0a4.45 4.9 0 1 0 -8.9 0zM1256.14 788.74a4.45 4.9 0 1 0 8.9 0a4.45 4.9 0 1 0 -8.9 0zM1274.18 870.26a4.45 4.9 0 1 0 8.9 0a4.45 4.9 0 1 0 -8.9 0zM1275.05 754.16a4.45 4.9 0 1 0 8.9 0a4.45 4.9 0 1 0 -8.9 0zM1268.84 749.48a4.45 4.9 0 1 0 8.9 0a4.45 4.9 0 1 0 -8.9 0zM1269.86 842.01a4.45 4.9 0 1 0 8.9 0a4.45 4.9 0 1 0 -8.9 0zM1265.99 868.28a4.45 4.9 0 1 0 8.9 0a4.45 4.9 0 1 0 -8.9 0zM1275.9 798.26a4.45 4.9 0 1 0 8.9 0a4.45 4.9 0 1 0 -8.9 0zM1273.31 793.5a4.45 4.9 0 1 0 8.9 0a4.45 4.9 0 1 0 -8.9 0zM1258.74 859.3a4.45 4.9 0 1 0 8.9 0a4.45 4.9 0 1 0 -8.9 0zM1267.28 831.18a4.45 4.9 0 1 0 8.9 0a4.45 4.9 0 1 0 -8.9 0zM1267.57 813.18a4.45 4.9 0 1 0 8.9 0a4.45 4.9 0 1 0 -8.9 0zM1258.6 789.15a4.45 4.9 0 1 0 8.9 0a4.45 4.9 0 1 0 -8.9 0zM1264.55 812.93a4.45 4.9 0 1 0 8.9 0a4.45 4.9 0 1 0 -8.9 0zM1255.74 836.85a4.45 4.9 0 1 0 8.9 0a4.45 4.9 0 1 0 -8.9 0zM1268.7 745.94a4.45 4.9 0 1 0 8.9 0a4.45 4.9 0 1 0 -8.9 0zM1269.02 782.94a4.45 4.9 0 1 0 8.9 0a4.45 4.9 0 1 0 -8.9 0zM1264.53 813.83a4.45 4.9 0 1 0 8.9 0a4.45 4.9 0 1 0 -8.9 0zM1255.78 848.83a4.45 4.9 0 1 0 8.9 0a4.45 4.9 0 1 0 -8.9 0zM1260.66 788.94a4.45 4.9 0 1 0 8.9 0a4.45 4.9 0 1 0 -8.9 0zM1268.35 863.15a4.45 4.9 0 1 0 8.9 0a4.45 4.9 0 1 0 -8.9 0zM1272.55 759.66a4.45 4.9 0 1 0 8.9 0a4.45 4.9 0 1 0 -8.9 0zM1271.08 798.11a4.45 4.9 0 1 0 8.9 0a4.45 4.9 0 1 0 -8.9 0zM1248.97 856.41a4.45 4.9 0 1 0 8.9 0a4.45 4.9 0 1 0 -8.9 0zM1257.12 771.36a4.45 4.9 0 1 0 8.9 0a4.45 4.9 0 1 0 -8.9 0zM1271.08 749.71a4.45 4.9 0 1 0 8.9 0a4.45 4.9 0 1 0 -8.9 0zM1251.29 833.76a4.45 4.9 0 1 0 8.9 0a4.45 4.9 0 1 0 -8.9 0zM1260.4 838.44a4.45 4.9 0 1 0 8.9 0a4.45 4.9 0 1 0 -8.9 0zM1258.92 774.91a4.45 4.9 0 1 0 8.9 0a4.45 4.9 0 1 0 -8.9 0zM1250.27 853.9a4.45 4.9 0 1 0 8.9 0a4.45 4.9 0 1 0 -8.9 0zM1259.33 808.74a4.45 4.9 0 1 0 8.9 0a4.45 4.9 0 1 0 -8.9 0zM1268.84 847.88a4.45 4.9 0 1 0 8.9 0a4.45 4.9 0 1 0 -8.9 0zM1267.44 785.52a4.45 4.9 0 1 0 8.9 0a4.45 4.9 0 1 0 -8.9 0zM1258.46 829.9a4.45 4.9 0 1 0 8.9 0a4.45 4.9 0 1 0 -8.9 0zM1257.62 783.37a4.45 4.9 0 1 0 8.9 0a4.45 4.9 0 1 0 -8.9 0zM1255.92 828.36a4.45 4.9 0 1 0 8.9 0a4.45 4.9 0 1 0 -8.9 0zM1255.84 783.21a4.45 4.9 0 1 0 8.9 0a4.45 4.9 0 1 0 -8.9 0zM1272.67 864.54a4.45 4.9 0 1 0 8.9 0a4.45 4.9 0 1 0 -8.9 0zM1265.66 859.9a4.45 4.9 0 1 0 8.9 0a4.45 4.9 0 1 0 -8.9 0zM1265.23 799.11a4.45 4.9 0 1 0 8.9 0a4.45 4.9 0 1 0 -8.9 0zM1274.39 867.52a4.45 4.9 0 1 0 8.9 0a4.45 4.9 0 1 0 -8.9 0zM1270.5 829.75a4.45 4.9 0 1 0 8.9 0a4.45 4.9 0 1 0 -8.9 0zM1263.55 785.5a4.45 4.9 0 1 0 8.9 0a4.45 4.9 0 1 0 -8.9 0zM1263.95 764.23a4.45 4.9 0 1 0 8.9 0a4.45 4.9 0 1 0 -8.9 0zM1262.21 840.18a4.45 4.9 0 1 0 8.9 0a4.45 4.9 0 1 0 -8.9 0zM1257.04 852.09a4.45 4.9 0 1 0 8.9 0a4.45 4.9 0 1 0 -8.9 0zM1270.99 834.3a4.45 4.9 0 1 0 8.9 0a4.45 4.9 0 1 0 -8.9 0zM1263.89 860.3a4.45 4.9 0 1 0 8.9 0a4.45 4.9 0 1 0 -8.9 0zM1263.52 866.96a4.45 4.9 0 1 0 8.9 0a4.45 4.9 0 1 0 -8.9 0zM1261.69 762.33a4.45 4.9 0 1 0 8.9 0a4.45 4.9 0 1 0 -8.9 0zM1268.64 771.02a4.45 4.9 0 1 0 8.9 0a4.45 4.9 0 1 0 -8.9 0zM1271.79 861.24a4.45 4.9 0 1 0 8.9 0a4.45 4.9 0 1 0 -8.9 0zM1271.37 757.1a4.45 4.9 0 1 0 8.9 0a4.45 4.9 0 1 0 -8.9 0zM1260.98 769.41a4.45 4.9 0 1 0 8.9 0a4.45 4.9 0 1 0 -8.9 0zM1265.77 830.05a4.45 4.9 0 1 0 8.9 0a4.45 4.9 0 1 0 -8.9 0zM1253.8 855.14a4.45 4.9 0 1 0 8.9 0a4.45 4.9 0 1 0 -8.9 0zM1268.78 841.09a4.45 4.9 0 1 0 8.9 0a4.45 4.9 0 1 0 -8.9 0zM1263.04 815.64a4.45 4.9 0 1 0 8.9 0a4.45 4.9 0 1 0 -8.9 0zM1257.79 854.62a4.45 4.9 0 1 0 8.9 0a4.45 4.9 0 1 0 -8.9 0zM1248.29 865.61a4.45 4.9 0 1 0 8.9 0a4.45 4.9 0 1 0 -8.9 0zM1274.99 863.11a4.45 4.9 0 1 0 8.9 0a4.45 4.9 0 1 0 -8.9 0zM1276.04 760.22a4.45 4.9 0 1 0 8.9 0a4.45 4.9 0 1 0 -8.9 0zM1258.74 805.6a4.45 4.9 0 1 0 8.9 0a4.45 4.9 0 1 0 -8.9 0zM1255.68 821.35a4.45 4.9 0 1 0 8.9 0a4.45 4.9 0 1 0 -8.9 0zM1263.6 860.35a4.45 4.9 0 1 0 8.9 0a4.45 4.9 0 1 0 -8.9 0zM1259.65 842.83a4.45 4.9 0 1 0 8.9 0a4.45 4.9 0 1 0 -8.9 0zM1260.47 812.47a4.45 4.9 0 1 0 8.9 0a4.45 4.9 0 1 0 -8.9 0zM1265.46 778.33a4.45 4.9 0 1 0 8.9 0a4.45 4.9 0 1 0 -8.9 0zM1255.01 807.91a4.45 4.9 0 1 0 8.9 0a4.45 4.9 0 1 0 -8.9 0zM1260.97 868.66a4.45 4.9 0 1 0 8.9 0a4.45 4.9 0 1 0 -8.9 0zM1273.73 850.89a4.45 4.9 0 1 0 8.9 0a4.45 4.9 0 1 0 -8.9 0zM1263.68 792.02a4.45 4.9 0 1 0 8.9 0a4.45 4.9 0 1 0 -8.9 0zM1256.51 816.1a4.45 4.9 0 1 0 8.9 0a4.45 4.9 0 1 0 -8.9 0zM1261.77 763.81a4.45 4.9 0 1 0 8.9 0a4.45 4.9 0 1 0 -8.9 0zM1264.27 862.81a4.45 4.9 0 1 0 8.9 0a4.45 4.9 0 1 0 -8.9 0zM1258.08 797.91a4.45 4.9 0 1 0 8.9 0a4.45 4.9 0 1 0 -8.9 0zM1262.81 786.9a4.45 4.9 0 1 0 8.9 0a4.45 4.9 0 1 0 -8.9 0zM1262.52 850.09a4.45 4.9 0 1 0 8.9 0a4.45 4.9 0 1 0 -8.9 0zM1267.91 827.65a4.45 4.9 0 1 0 8.9 0a4.45 4.9 0 1 0 -8.9 0zM1272.17 777.79a4.45 4.9 0 1 0 8.9 0a4.45 4.9 0 1 0 -8.9 0zM1265.92 866.8a4.45 4.9 0 1 0 8.9 0a4.45 4.9 0 1 0 -8.9 0zM1256.79 807.07a4.45 4.9 0 1 0 8.9 0a4.45 4.9 0 1 0 -8.9 0zM1253.89 845.27a4.45 4.9 0 1 0 8.9 0a4.45 4.9 0 1 0 -8.9 0zM1262.7 835.9a4.45 4.9 0 1 0 8.9 0a4.45 4.9 0 1 0 -8.9 0zM1263.31 860.57a4.45 4.9 0 1 0 8.9 0a4.45 4.9 0 1 0 -8.9 0zM1251.8 826.05a4.45 4.9 0 1 0 8.9 0a4.45 4.9 0 1 0 -8.9 0zM1274.15 749.74a4.45 4.9 0 1 0 8.9 0a4.45 4.9 0 1 0 -8.9 0zM1266.73 864.12a4.45 4.9 0 1 0 8.9 0a4.45 4.9 0 1 0 -8.9 0zM1260.55 841.42a4.45 4.9 0 1 0 8.9 0a4.45 4.9 0 1 0 -8.9 0zM1255.21 851.24a4.45 4.9 0 1 0 8.9 0a4.45 4.9 0 1 0 -8.9 0zM1250.25 834.25a4.45 4.9 0 1 0 8.9 0a4.45 4.9 0 1 0 -8.9 0zM1261.28 808.97a4.45 4.9 0 1 0 8.9 0a4.45 4.9 0 1 0 -8.9 0zM1267.5 823.04a4.45 4.9 0 1 0 8.9 0a4.45 4.9 0 1 0 -8.9 0zM1262.79 822.87a4.45 4.9 0 1 0 8.9 0a4.45 4.9 0 1 0 -8.9 0zM1253.11 806.73a4.45 4.9 0 1 0 8.9 0a4.45 4.9 0 1 0 -8.9 0zM1251.54 814.73a4.45 4.9 0 1 0 8.9 0a4.45 4.9 0 1 0 -8.9 0zM1258.5 811.94a4.45 4.9 0 1 0 8.9 0a4.45 4.9 0 1 0 -8.9 0zM1248.15 868.17a4.45 4.9 0 1 0 8.9 0a4.45 4.9 0 1 0 -8.9 0zM1267.3 847.55a4.45 4.9 0 1 0 8.9 0a4.45 4.9 0 1 0 -8.9 0zM1273.63 846.67a4.45 4.9 0 1 0 8.9 0a4.45 4.9 0 1 0 -8.9 0zM1259.64 758.93a4.45 4.9 0 1 0 8.9 0a4.45 4.9 0 1 0 -8.9 0zM1260.37 764.19a4.45 4.9 0 1 0 8.9 0a4.45 4.9 0 1 0 -8.9 0zM1271.59 811.57a4.45 4.9 0 1 0 8.9 0a4.45 4.9 0 1 0 -8.9 0zM1262.96 779.05a4.45 4.9 0 1 0 8.9 0a4.45 4.9 0 1 0 -8.9 0zM1263.52 792.32a4.45 4.9 0 1 0 8.9 0a4.45 4.9 0 1 0 -8.9 0zM1275.8 816.41a4.45 4.9 0 1 0 8.9 0a4.45 4.9 0 1 0 -8.9 0zM1269.21 773.85a4.45 4.9 0 1 0 8.9 0a4.45 4.9 0 1 0 -8.9 0zM1266.64 851.91a4.45 4.9 0 1 0 8.9 0a4.45 4.9 0 1 0 -8.9 0zM1269.49 853.21a4.45 4.9 0 1 0 8.9 0a4.45 4.9 0 1 0 -8.9 0zM1265.44 757.23a4.45 4.9 0 1 0 8.9 0a4.45 4.9 0 1 0 -8.9 0zM1252.61 814.86a4.45 4.9 0 1 0 8.9 0a4.45 4.9 0 1 0 -8.9 0zM1268.93 746.69a4.45 4.9 0 1 0 8.9 0a4.45 4.9 0 1 0 -8.9 0zM1262.8 808.23a4.45 4.9 0 1 0 8.9 0a4.45 4.9 0 1 0 -8.9 0zM1264.51 843.94a4.45 4.9 0 1 0 8.9 0a4.45 4.9 0 1 0 -8.9 0zM1251.39 853.17a4.45 4.9 0 1 0 8.9 0a4.45 4.9 0 1 0 -8.9 0zM1252.91 811.78a4.45 4.9 0 1 0 8.9 0a4.45 4.9 0 1 0 -8.9 0zM1273.25 772.03a4.45 4.9 0 1 0 8.9 0a4.45 4.9 0 1 0 -8.9 0zM1261.6 856.89a4.45 4.9 0 1 0 8.9 0a4.45 4.9 0 1 0 -8.9 0zM1263.67 751.34a4.45 4.9 0 1 0 8.9 0a4.45 4.9 0 1 0 -8.9 0zM1273.24 861.66a4.45 4.9 0 1 0 8.9 0a4.45 4.9 0 1 0 -8.9 0zM1251.76 816.22a4.45 4.9 0 1 0 8.9 0a4.45 4.9 0 1 0 -8.9 0zM1256.9 862.06a4.45 4.9 0 1 0 8.9 0a4.45 4.9 0 1 0 -8.9 0zM1264.39 866.16a4.45 4.9 0 1 0 8.9 0a4.45 4.9 0 1 0 -8.9 0zM1268.5 839.91a4.45 4.9 0 1 0 8.9 0a4.45 4.9 0 1 0 -8.9 0zM1256.71 795.49a4.45 4.9 0 1 0 8.9 0a4.45 4.9 0 1 0 -8.9 0zM1261.02 765.89a4.45 4.9 0 1 0 8.9 0a4.45 4.9 0 1 0 -8.9 0zM1259.53 850.25a4.45 4.9 0 1 0 8.9 0a4.45 4.9 0 1 0 -8.9 0zM1257.59 858.01a4.45 4.9 0 1 0 8.9 0a4.45 4.9 0 1 0 -8.9 0zM1253.43 840.33a4.45 4.9 0 1 0 8.9 0a4.45 4.9 0 1 0 -8.9 0zM1268.19 869.55a4.45 4.9 0 1 0 8.9 0a4.45 4.9 0 1 0 -8.9 0zM1275.45 808.35a4.45 4.9 0 1 0 8.9 0a4.45 4.9 0 1 0 -8.9 0zM1268.2 752.24a4.45 4.9 0 1 0 8.9 0a4.45 4.9 0 1 0 -8.9 0zM1258.19 850.75a4.45 4.9 0 1 0 8.9 0a4.45 4.9 0 1 0 -8.9 0zM1274.86 842.01a4.45 4.9 0 1 0 8.9 0a4.45 4.9 0 1 0 -8.9 0zM1271.3 795.29a4.45 4.9 0 1 0 8.9 0a4.45 4.9 0 1 0 -8.9 0zM1267.3 749.22a4.45 4.9 0 1 0 8.9 0a4.45 4.9 0 1 0 -8.9 0zM1261.52 870.07a4.45 4.9 0 1 0 8.9 0a4.45 4.9 0 1 0 -8.9 0zM1274.8 790.15a4.45 4.9 0 1 0 8.9 0a4.45 4.9 0 1 0 -8.9 0zM1269.14 799.7a4.45 4.9 0 1 0 8.9 0a4.45 4.9 0 1 0 -8.9 0zM1252.42 828.41a4.45 4.9 0 1 0 8.9 0a4.45 4.9 0 1 0 -8.9 0zM1270.87 823.14a4.45 4.9 0 1 0 8.9 0a4.45 4.9 0 1 0 -8.9 0zM1252.12 835a4.45 4.9 0 1 0 8.9 0a4.45 4.9 0 1 0 -8.9 0zM1270.41 764.85a4.45 4.9 0 1 0 8.9 0a4.45 4.9 0 1 0 -8.9 0zM1269.35 825.05a4.45 4.9 0 1 0 8.9 0a4.45 4.9 0 1 0 -8.9 0zM1256.91 785.24a4.45 4.9 0 1 0 8.9 0a4.45 4.9 0 1 0 -8.9 0zM1270.63 746.15a4.45 4.9 0 1 0 8.9 0a4.45 4.9 0 1 0 -8.9 0zM1260.59 790.67a4.45 4.9 0 1 0 8.9 0a4.45 4.9 0 1 0 -8.9 0zM1260.67 762.13a4.45 4.9 0 1 0 8.9 0a4.45 4.9 0 1 0 -8.9 0zM1266.24 801.83a4.45 4.9 0 1 0 8.9 0a4.45 4.9 0 1 0 -8.9 0zM1255.66 796.71a4.45 4.9 0 1 0 8.9 0a4.45 4.9 0 1 0 -8.9 0zM1256.82 789.92a4.45 4.9 0 1 0 8.9 0a4.45 4.9 0 1 0 -8.9 0zM1258.77 820.55a4.45 4.9 0 1 0 8.9 0a4.45 4.9 0 1 0 -8.9 0zM1261.16 793.85a4.45 4.9 0 1 0 8.9 0a4.45 4.9 0 1 0 -8.9 0zM1256.82 794.17a4.45 4.9 0 1 0 8.9 0a4.45 4.9 0 1 0 -8.9 0zM1273.43 858.59a4.45 4.9 0 1 0 8.9 0a4.45 4.9 0 1 0 -8.9 0zM1263.9 868.26a4.45 4.9 0 1 0 8.9 0a4.45 4.9 0 1 0 -8.9 0zM1263.66 766.78a4.45 4.9 0 1 0 8.9 0a4.45 4.9 0 1 0 -8.9 0zM1262.7 762.92a4.45 4.9 0 1 0 8.9 0a4.45 4.9 0 1 0 -8.9 0zM1254.29 807.39a4.45 4.9 0 1 0 8.9 0a4.45 4.9 0 1 0 -8.9 0zM1263.51 800.05a4.45 4.9 0 1 0 8.9 0a4.45 4.9 0 1 0 -8.9 0zM1254.83 806.27a4.45 4.9 0 1 0 8.9 0a4.45 4.9 0 1 0 -8.9 0zM1259.62 777.09a4.45 4.9 0 1 0 8.9 0a4.45 4.9 0 1 0 -8.9 0zM1265.61 823.94a4.45 4.9 0 1 0 8.9 0a4.45 4.9 0 1 0 -8.9 0zM1257.52 770.04a4.45 4.9 0 1 0 8.9 0a4.45 4.9 0 1 0 -8.9 0zM1274.95 783.73a4.45 4.9 0 1 0 8.9 0a4.45 4.9 0 1 0 -8.9 0zM1267.95 787.19a4.45 4.9 0 1 0 8.9 0a4.45 4.9 0 1 0 -8.9 0zM1258.11 846.41a4.45 4.9 0 1 0 8.9 0a4.45 4.9 0 1 0 -8.9 0zM1272.12 787.51a4.45 4.9 0 1 0 8.9 0a4.45 4.9 0 1 0 -8.9 0zM1275.35 853.37a4.45 4.9 0 1 0 8.9 0a4.45 4.9 0 1 0 -8.9 0zM1263.12 762.58a4.45 4.9 0 1 0 8.9 0a4.45 4.9 0 1 0 -8.9 0zM1253.59 864.38a4.45 4.9 0 1 0 8.9 0a4.45 4.9 0 1 0 -8.9 0zM1275.29 784.93a4.45 4.9 0 1 0 8.9 0a4.45 4.9 0 1 0 -8.9 0zM1255.99 867.08a4.45 4.9 0 1 0 8.9 0a4.45 4.9 0 1 0 -8.9 0zM1262.82 832.72a4.45 4.9 0 1 0 8.9 0a4.45 4.9 0 1 0 -8.9 0zM1256.77 817.77a4.45 4.9 0 1 0 8.9 0a4.45 4.9 0 1 0 -8.9 0zM1272.18 792.69a4.45 4.9 0 1 0 8.9 0a4.45 4.9 0 1 0 -8.9 0zM1257.46 794.81a4.45 4.9 0 1 0 8.9 0a4.45 4.9 0 1 0 -8.9 0zM1265.8 816.26a4.45 4.9 0 1 0 8.9 0a4.45 4.9 0 1 0 -8.9 0zM1268.21 813.98a4.45 4.9 0 1 0 8.9 0a4.45 4.9 0 1 0 -8.9 0zM1274.89 814.54a4.45 4.9 0 1 0 8.9 0a4.45 4.9 0 1 0 -8.9 0zM1269.52 803.43a4.45 4.9 0 1 0 8.9 0a4.45 4.9 0 1 0 -8.9 0zM1260.63 800.53a4.45 4.9 0 1 0 8.9 0a4.45 4.9 0 1 0 -8.9 0zM1271.35 832.45a4.45 4.9 0 1 0 8.9 0a4.45 4.9 0 1 0 -8.9 0zM1260.29 845.35a4.45 4.9 0 1 0 8.9 0a4.45 4.9 0 1 0 -8.9 0zM1267.47 808.16a4.45 4.9 0 1 0 8.9 0a4.45 4.9 0 1 0 -8.9 0zM1268.59 775.87a4.45 4.9 0 1 0 8.9 0a4.45 4.9 0 1 0 -8.9 0zM1270.55 835.26a4.45 4.9 0 1 0 8.9 0a4.45 4.9 0 1 0 -8.9 0zM1275.91 754.78a4.45 4.9 0 1 0 8.9 0a4.45 4.9 0 1 0 -8.9 0zM1262.35 805.64a4.45 4.9 0 1 0 8.9 0a4.45 4.9 0 1 0 -8.9 0zM1274.17 809.08a4.45 4.9 0 1 0 8.9 0a4.45 4.9 0 1 0 -8.9 0zM1264.2 832.31a4.45 4.9 0 1 0 8.9 0a4.45 4.9 0 1 0 -8.9 0zM1258.99 844.74a4.45 4.9 0 1 0 8.9 0a4.45 4.9 0 1 0 -8.9 0zM1263.26 857.89a4.45 4.9 0 1 0 8.9 0a4.45 4.9 0 1 0 -8.9 0zM1252.49 825.59a4.45 4.9 0 1 0 8.9 0a4.45 4.9 0 1 0 -8.9 0zM1267 842a4.45 4.9 0 1 0 8.9 0a4.45 4.9 0 1 0 -8.9 0zM1268.57 790.05a4.45 4.9 0 1 0 8.9 0a4.45 4.9 0 1 0 -8.9 0zM1275.83 751.06a4.45 4.9 0 1 0 8.9 0a4.45 4.9 0 1 0 -8.9 0zM1260.49 830.52a4.45 4.9 0 1 0 8.9 0a4.45 4.9 0 1 0 -8.9 0zM1275.15 839.96a4.45 4.9 0 1 0 8.9 0a4.45 4.9 0 1 0 -8.9 0zM1254.73 799.52a4.45 4.9 0 1 0 8.9 0a4.45 4.9 0 1 0 -8.9 0zM1265.4 777.97a4.45 4.9 0 1 0 8.9 0a4.45 4.9 0 1 0 -8.9 0zM1266.02 810.61a4.45 4.9 0 1 0 8.9 0a4.45 4.9 0 1 0 -8.9 0zM1261.95 817.69a4.45 4.9 0 1 0 8.9 0a4.45 4.9 0 1 0 -8.9 0zM1271.27 794.59a4.45 4.9 0 1 0 8.9 0a4.45 4.9 0 1 0 -8.9 0zM1263.29 819.37a4.45 4.9 0 1 0 8.9 0a4.45 4.9 0 1 0 -8.9 0zM1255.31 788.79a4.45 4.9 0 1 0 8.9 0a4.45 4.9 0 1 0 -8.9 0zM1265.56 758.62a4.45 4.9 0 1 0 8.9 0a4.45 4.9 0 1 0 -8.9 0zM1251.09 866.2a4.45 4.9 0 1 0 8.9 0a4.45 4.9 0 1 0 -8.9 0zM1251.98 863.55a4.45 4.9 0 1 0 8.9 0a4.45 4.9 0 1 0 -8.9 0zM1264.37 784.64a4.45 4.9 0 1 0 8.9 0a4.45 4.9 0 1 0 -8.9 0zM1265.15 771.46a4.45 4.9 0 1 0 8.9 0a4.45 4.9 0 1 0 -8.9 0zM1263.25 805.26a4.45 4.9 0 1 0 8.9 0a4.45 4.9 0 1 0 -8.9 0zM1258.34 832.94a4.45 4.9 0 1 0 8.9 0a4.45 4.9 0 1 0 -8.9 0zM1271.97 783.18a4.45 4.9 0 1 0 8.9 0a4.45 4.9 0 1 0 -8.9 0zM1273.27 759.94a4.45 4.9 0 1 0 8.9 0a4.45 4.9 0 1 0 -8.9 0zM1267.72 826.82a4.45 4.9 0 1 0 8.9 0a4.45 4.9 0 1 0 -8.9 0zM1275.73 766.13a4.45 4.9 0 1 0 8.9 0a4.45 4.9 0 1 0 -8.9 0zM1258.01 776.11a4.45 4.9 0 1 0 8.9 0a4.45 4.9 0 1 0 -8.9 0zM1267.37 765.6a4.45 4.9 0 1 0 8.9 0a4.45 4.9 0 1 0 -8.9 0zM1254.38 865.79a4.45 4.9 0 1 0 8.9 0a4.45 4.9 0 1 0 -8.9 0zM1259 796.33a4.45 4.9 0 1 0 8.9 0a4.45 4.9 0 1 0 -8.9 0zM1261.42 825.88a4.45 4.9 0 1 0 8.9 0a4.45 4.9 0 1 0 -8.9 0zM1271.42 749.16a4.45 4.9 0 1 0 8.9 0a4.45 4.9 0 1 0 -8.9 0zM1267.57 770.26a4.45 4.9 0 1 0 8.9 0a4.45 4.9 0 1 0 -8.9 0zM1269.85 794.3a4.45 4.9 0 1 0 8.9 0a4.45 4.9 0 1 0 -8.9 0zM1270.84 771.33a4.45 4.9 0 1 0 8.9 0a4.45 4.9 0 1 0 -8.9 0zM1250.93 847a4.45 4.9 0 1 0 8.9 0a4.45 4.9 0 1 0 -8.9 0zM1273.78 758.27a4.45 4.9 0 1 0 8.9 0a4.45 4.9 0 1 0 -8.9 0zM1262.23 768.96a4.45 4.9 0 1 0 8.9 0a4.45 4.9 0 1 0 -8.9 0zM1259.62 802.92a4.45 4.9 0 1 0 8.9 0a4.45 4.9 0 1 0 -8.9 0zM1263.15 853.76a4.45 4.9 0 1 0 8.9 0a4.45 4.9 0 1 0 -8.9 0zM1265.67 825.71a4.45 4.9 0 1 0 8.9 0a4.45 4.9 0 1 0 -8.9 0zM1265.46 822.22a4.45 4.9 0 1 0 8.9 0a4.45 4.9 0 1 0 -8.9 0zM1272.77 789.16a4.45 4.9 0 1 0 8.9 0a4.45 4.9 0 1 0 -8.9 0zM1271.27 822.98a4.45 4.9 0 1 0 8.9 0a4.45 4.9 0 1 0 -8.9 0zM1257.76 834.1a4.45 4.9 0 1 0 8.9 0a4.45 4.9 0 1 0 -8.9 0zM1252.57 822.62a4.45 4.9 0 1 0 8.9 0a4.45 4.9 0 1 0 -8.9 0zM1259.32 762.31a4.45 4.9 0 1 0 8.9 0a4.45 4.9 0 1 0 -8.9 0zM1258.49 783.83a4.45 4.9 0 1 0 8.9 0a4.45 4.9 0 1 0 -8.9 0zM1263.34 832.53a4.45 4.9 0 1 0 8.9 0a4.45 4.9 0 1 0 -8.9 0zM1257.76 797.99a4.45 4.9 0 1 0 8.9 0a4.45 4.9 0 1 0 -8.9 0zM1258.92 793.66a4.45 4.9 0 1 0 8.9 0a4.45 4.9 0 1 0 -8.9 0zM1268.16 825.26a4.45 4.9 0 1 0 8.9 0a4.45 4.9 0 1 0 -8.9 0zM1276.05 826.48a4.45 4.9 0 1 0 8.9 0a4.45 4.9 0 1 0 -8.9 0zM1263.35 815.14a4.45 4.9 0 1 0 8.9 0a4.45 4.9 0 1 0 -8.9 0zM1262.92 763.11a4.45 4.9 0 1 0 8.9 0a4.45 4.9 0 1 0 -8.9 0zM1255.14 802.1a4.45 4.9 0 1 0 8.9 0a4.45 4.9 0 1 0 -8.9 0zM1255.08 790.56a4.45 4.9 0 1 0 8.9 0a4.45 4.9 0 1 0 -8.9 0zM1272.53 762.64a4.45 4.9 0 1 0 8.9 0a4.45 4.9 0 1 0 -8.9 0zM1262.07 866.46a4.45 4.9 0 1 0 8.9 0a4.45 4.9 0 1 0 -8.9 0zM1268.71 807.62a4.45 4.9 0 1 0 8.9 0a4.45 4.9 0 1 0 -8.9 0zM1272.66 797.66a4.45 4.9 0 1 0 8.9 0a4.45 4.9 0 1 0 -8.9 0zM1254.85 806.83a4.45 4.9 0 1 0 8.9 0a4.45 4.9 0 1 0 -8.9 0zM1273.15 749.37a4.45 4.9 0 1 0 8.9 0a4.45 4.9 0 1 0 -8.9 0zM1260.41 782.16a4.45 4.9 0 1 0 8.9 0a4.45 4.9 0 1 0 -8.9 0zM1255.73 812.97a4.45 4.9 0 1 0 8.9 0a4.45 4.9 0 1 0 -8.9 0zM1270.32 802.89a4.45 4.9 0 1 0 8.9 0a4.45 4.9 0 1 0 -8.9 0zM1264.16 841.62a4.45 4.9 0 1 0 8.9 0a4.45 4.9 0 1 0 -8.9 0zM1259.78 759.71a4.45 4.9 0 1 0 8.9 0a4.45 4.9 0 1 0 -8.9 0zM1271.37 842.78a4.45 4.9 0 1 0 8.9 0a4.45 4.9 0 1 0 -8.9 0zM1272.3 791.54a4.45 4.9 0 1 0 8.9 0a4.45 4.9 0 1 0 -8.9 0zM1272.4 750.72a4.45 4.9 0 1 0 8.9 0a4.45 4.9 0 1 0 -8.9 0zM1275.8 814.07a4.45 4.9 0 1 0 8.9 0a4.45 4.9 0 1 0 -8.9 0zM1273.03 758.35a4.45 4.9 0 1 0 8.9 0a4.45 4.9 0 1 0 -8.9 0zM1257.61 839.79a4.45 4.9 0 1 0 8.9 0a4.45 4.9 0 1 0 -8.9 0zM1260.32 870.91a4.45 4.9 0 1 0 8.9 0a4.45 4.9 0 1 0 -8.9 0zM1272.16 789.25a4.45 4.9 0 1 0 8.9 0a4.45 4.9 0 1 0 -8.9 0zM1275.92 800.6a4.45 4.9 0 1 0 8.9 0a4.45 4.9 0 1 0 -8.9 0zM1255.84 842.84a4.45 4.9 0 1 0 8.9 0a4.45 4.9 0 1 0 -8.9 0zM1265 847.24a4.45 4.9 0 1 0 8.9 0a4.45 4.9 0 1 0 -8.9 0zM1269.91 789.5a4.45 4.9 0 1 0 8.9 0a4.45 4.9 0 1 0 -8.9 0zM1254.59 824.91a4.45 4.9 0 1 0 8.9 0a4.45 4.9 0 1 0 -8.9 0zM1260.88 762.97a4.45 4.9 0 1 0 8.9 0a4.45 4.9 0 1 0 -8.9 0zM1256.22 771.47a4.45 4.9 0 1 0 8.9 0a4.45 4.9 0 1 0 -8.9 0zM1260.79 789.53a4.45 4.9 0 1 0 8.9 0a4.45 4.9 0 1 0 -8.9 0zM1259.51 813.12a4.45 4.9 0 1 0 8.9 0a4.45 4.9 0 1 0 -8.9 0z"/>
<path fill="#e9716f" d="M1284.3 303a4.45 4.9 0 1 0 8.9 0a4.45 4.9 0 1 0 -8.9 0zM1345.8 395.5a4.45 4.9 0 1 0 8.9 0a4.45 4.9 0 1 0 -8.9 0zM1364.8 427.25a4.45 4.9 0 1 0 8.9 0a4.45 4.9 0 1 0 -8.9 0zM1335.8 433.5a4.45 4.9 0 1 0 8.9 0a4.45 4.9 0 1 0 -8.9 0zM1308.3 449a4.45 4.9 0 1 0 8.9 0a4.45 4.9 0 1 0 -8.9 0zM1399.55 474.75a4.45 4.9 0 1 0 8.9 0a4.45 4.9 0 1 0 -8.9 0zM1311.55 485a4.45 4.9 0 1 0 8.9 0a4.45 4.9 0 1 0 -8.9 0zM1349.3 491a4.45 4.9 0 1 0 8.9 0a4.45 4.9 0 1 0 -8.9 0zM1317.55 511.5a4.45 4.9 0 1 0 8.9 0a4.45 4.9 0 1 0 -8.9 0zM1345.55 511.75a4.45 4.9 0 1 0 8.9 0a4.45 4.9 0 1 0 -8.9 0zM1301.55 523a4.45 4.9 0 1 0 8.9 0a4.45 4.9 0 1 0 -8.9 0zM1388.8 529.75a4.45 4.9 0 1 0 8.9 0a4.45 4.9 0 1 0 -8.9 0zM1398.55 543.75a4.45 4.9 0 1 0 8.9 0a4.45 4.9 0 1 0 -8.9 0zM1377.3 554.25a4.45 4.9 0 1 0 8.9 0a4.45 4.9 0 1 0 -8.9 0zM1291.3 562.75a4.45 4.9 0 1 0 8.9 0a4.45 4.9 0 1 0 -8.9 0zM1301.55 562.75a4.45 4.9 0 1 0 8.9 0a4.45 4.9 0 1 0 -8.9 0zM1351.05 566.5a4.45 4.9 0 1 0 8.9 0a4.45 4.9 0 1 0 -8.9 0zM1283.05 573a4.45 4.9 0 1 0 8.9 0a4.45 4.9 0 1 0 -8.9 0zM1287.55 573a4.45 4.9 0 1 0 8.9 0a4.45 4.9 0 1 0 -8.9 0zM1292.05 590a4.45 4.9 0 1 0 8.9 0a4.45 4.9 0 1 0 -8.9 0zM1297.55 596.25a4.45 4.9 0 1 0 8.9 0a4.45 4.9 0 1 0 -8.9 0zM1362.3 605a4.45 4.9 0 1 0 8.9 0a4.45 4.9 0 1 0 -8.9 0zM1278.55 613.75a4.45 4.9 0 1 0 8.9 0a4.45 4.9 0 1 0 -8.9 0zM1280.55 610a4.45 4.9 0 1 0 8.9 0a4.45 4.9 0 1 0 -8.9 0zM1285.55 611.75a4.45 4.9 0 1 0 8.9 0a4.45 4.9 0 1 0 -8.9 0zM1294.55 616.25a4.45 4.9 0 1 0 8.9 0a4.45 4.9 0 1 0 -8.9 0zM1303.55 614.25a4.45 4.9 0 1 0 8.9 0a4.45 4.9 0 1 0 -8.9 0zM1313.05 611.5a4.45 4.9 0 1 0 8.9 0a4.45 4.9 0 1 0 -8.9 0zM1291.8 624.5a4.45 4.9 0 1 0 8.9 0a4.45 4.9 0 1 0 -8.9 0zM1374.8 624.5a4.45 4.9 0 1 0 8.9 0a4.45 4.9 0 1 0 -8.9 0zM1278.8 628.25a4.45 4.9 0 1 0 8.9 0a4.45 4.9 0 1 0 -8.9 0zM1300.05 629.25a4.45 4.9 0 1 0 8.9 0a4.45 4.9 0 1 0 -8.9 0zM1283.55 632.5a4.45 4.9 0 1 0 8.9 0a4.45 4.9 0 1 0 -8.9 0zM1279.55 647a4.45 4.9 0 1 0 8.9 0a4.45 4.9 0 1 0 -8.9 0zM1284.55 648.5a4.45 4.9 0 1 0 8.9 0a4.45 4.9 0 1 0 -8.9 0zM1292.05 650.5a4.45 4.9 0 1 0 8.9 0a4.45 4.9 0 1 0 -8.9 0zM1306.55 653.25a4.45 4.9 0 1 0 8.9 0a4.45 4.9 0 1 0 -8.9 0zM1318.05 663.75a4.45 4.9 0 1 0 8.9 0a4.45 4.9 0 1 0 -8.9 0zM1282.55 656a4.45 4.9 0 1 0 8.9 0a4.45 4.9 0 1 0 -8.9 0zM1281.55 660a4.45 4.9 0 1 0 8.9 0a4.45 4.9 0 1 0 -8.9 0zM1420.05 367a4.45 4.9 0 1 0 8.9 0a4.45 4.9 0 1 0 -8.9 0zM1450.05 494.5a4.45 4.9 0 1 0 8.9 0a4.45 4.9 0 1 0 -8.9 0zM1446.55 636.5a4.45 4.9 0 1 0 8.9 0a4.45 4.9 0 1 0 -8.9 0zM1580.55 841.3a4.45 4.9 0 1 0 8.9 0a4.45 4.9 0 1 0 -8.9 0zM1465.55 766.2a4.45 4.9 0 1 0 8.9 0a4.45 4.9 0 1 0 -8.9 0zM1458.85 824.5a4.45 4.9 0 1 0 8.9 0a4.45 4.9 0 1 0 -8.9 0zM1433.85 840.5a4.45 4.9 0 1 0 8.9 0a4.45 4.9 0 1 0 -8.9 0zM1422.65 845.6a4.45 4.9 0 1 0 8.9 0a4.45 4.9 0 1 0 -8.9 0zM1427.65 848.7a4.45 4.9 0 1 0 8.9 0a4.45 4.9 0 1 0 -8.9 0zM1428.05 853.4a4.45 4.9 0 1 0 8.9 0a4.45 4.9 0 1 0 -8.9 0zM1425.25 805.3a4.45 4.9 0 1 0 8.9 0a4.45 4.9 0 1 0 -8.9 0zM1417.45 797.1a4.45 4.9 0 1 0 8.9 0a4.45 4.9 0 1 0 -8.9 0zM1411.45 797.5a4.45 4.9 0 1 0 8.9 0a4.45 4.9 0 1 0 -8.9 0zM1409.05 782.9a4.45 4.9 0 1 0 8.9 0a4.45 4.9 0 1 0 -8.9 0zM1402.85 785.9a4.45 4.9 0 1 0 8.9 0a4.45 4.9 0 1 0 -8.9 0zM1397.85 767.1a4.45 4.9 0 1 0 8.9 0a4.45 4.9 0 1 0 -8.9 0zM1392.85 766.7a4.45 4.9 0 1 0 8.9 0a4.45 4.9 0 1 0 -8.9 0zM1387.25 768a4.45 4.9 0 1 0 8.9 0a4.45 4.9 0 1 0 -8.9 0zM1385.95 782.9a4.45 4.9 0 1 0 8.9 0a4.45 4.9 0 1 0 -8.9 0zM1387.05 840.9a4.45 4.9 0 1 0 8.9 0a4.45 4.9 0 1 0 -8.9 0zM1394.55 842.8a4.45 4.9 0 1 0 8.9 0a4.45 4.9 0 1 0 -8.9 0zM1404.35 846.3a4.45 4.9 0 1 0 8.9 0a4.45 4.9 0 1 0 -8.9 0zM1399.75 855.2a4.45 4.9 0 1 0 8.9 0a4.45 4.9 0 1 0 -8.9 0zM1398.95 860.8a4.45 4.9 0 1 0 8.9 0a4.45 4.9 0 1 0 -8.9 0zM1394.15 868.3a4.45 4.9 0 1 0 8.9 0a4.45 4.9 0 1 0 -8.9 0zM1406.85 870.2a4.45 4.9 0 1 0 8.9 0a4.45 4.9 0 1 0 -8.9 0zM1374.75 816.1a4.45 4.9 0 1 0 8.9 0a4.45 4.9 0 1 0 -8.9 0zM1363.35 753.1a4.45 4.9 0 1 0 8.9 0a4.45 4.9 0 1 0 -8.9 0zM1368.95 710.3a4.45 4.9 0 1 0 8.9 0a4.45 4.9 0 1 0 -8.9 0zM1355.15 672.1a4.45 4.9 0 1 0 8.9 0a4.45 4.9 0 1 0 -8.9 0zM1352.35 688.5a4.45 4.9 0 1 0 8.9 0a4.45 4.9 0 1 0 -8.9 0zM1338.65 695.7a4.45 4.9 0 1 0 8.9 0a4.45 4.9 0 1 0 -8.9 0zM1340.45 722.2a4.45 4.9 0 1 0 8.9 0a4.45 4.9 0 1 0 -8.9 0zM1335.05 727a4.45 4.9 0 1 0 8.9 0a4.45 4.9 0 1 0 -8.9 0zM1326.15 731.7a4.45 4.9 0 1 0 8.9 0a4.45 4.9 0 1 0 -8.9 0zM1314.55 724.4a4.45 4.9 0 1 0 8.9 0a4.45 4.9 0 1 0 -8.9 0zM1315.55 706.7a4.45 4.9 0 1 0 8.9 0a4.45 4.9 0 1 0 -8.9 0zM1320.55 712.7a4.45 4.9 0 1 0 8.9 0a4.45 4.9 0 1 0 -8.9 0zM1318.25 664.8a4.45 4.9 0 1 0 8.9 0a4.45 4.9 0 1 0 -8.9 0zM1322.95 669.4a4.45 4.9 0 1 0 8.9 0a4.45 4.9 0 1 0 -8.9 0zM1306.75 653.6a4.45 4.9 0 1 0 8.9 0a4.45 4.9 0 1 0 -8.9 0zM1292.55 650.8a4.45 4.9 0 1 0 8.9 0a4.45 4.9 0 1 0 -8.9 0zM1293.85 672a4.45 4.9 0 1 0 8.9 0a4.45 4.9 0 1 0 -8.9 0zM1301.85 685.7a4.45 4.9 0 1 0 8.9 0a4.45 4.9 0 1 0 -8.9 0zM1330.95 746.4a4.45 4.9 0 1 0 8.9 0a4.45 4.9 0 1 0 -8.9 0zM1324.85 755.5a4.45 4.9 0 1 0 8.9 0a4.45 4.9 0 1 0 -8.9 0zM1323.35 764.5a4.45 4.9 0 1 0 8.9 0a4.45 4.9 0 1 0 -8.9 0zM1333.05 762.4a4.45 4.9 0 1 0 8.9 0a4.45 4.9 0 1 0 -8.9 0zM1343.05 774.2a4.45 4.9 0 1 0 8.9 0a4.45 4.9 0 1 0 -8.9 0zM1349.05 780.7a4.45 4.9 0 1 0 8.9 0a4.45 4.9 0 1 0 -8.9 0zM1359.65 787.8a4.45 4.9 0 1 0 8.9 0a4.45 4.9 0 1 0 -8.9 0zM1365.55 784.8a4.45 4.9 0 1 0 8.9 0a4.45 4.9 0 1 0 -8.9 0zM1333.55 799.3a4.45 4.9 0 1 0 8.9 0a4.45 4.9 0 1 0 -8.9 0zM1339.55 799.7a4.45 4.9 0 1 0 8.9 0a4.45 4.9 0 1 0 -8.9 0zM1321.45 809.2a4.45 4.9 0 1 0 8.9 0a4.45 4.9 0 1 0 -8.9 0zM1338.55 818a4.45 4.9 0 1 0 8.9 0a4.45 4.9 0 1 0 -8.9 0zM1356.85 814.2a4.45 4.9 0 1 0 8.9 0a4.45 4.9 0 1 0 -8.9 0zM1361.55 816.1a4.45 4.9 0 1 0 8.9 0a4.45 4.9 0 1 0 -8.9 0zM1319.55 826.4a4.45 4.9 0 1 0 8.9 0a4.45 4.9 0 1 0 -8.9 0zM1343.85 829.2a4.45 4.9 0 1 0 8.9 0a4.45 4.9 0 1 0 -8.9 0zM1363.95 831a4.45 4.9 0 1 0 8.9 0a4.45 4.9 0 1 0 -8.9 0zM1334.85 835.7a4.45 4.9 0 1 0 8.9 0a4.45 4.9 0 1 0 -8.9 0zM1329.45 844a4.45 4.9 0 1 0 8.9 0a4.45 4.9 0 1 0 -8.9 0zM1350.55 846.9a4.45 4.9 0 1 0 8.9 0a4.45 4.9 0 1 0 -8.9 0zM1364.35 843.7a4.45 4.9 0 1 0 8.9 0a4.45 4.9 0 1 0 -8.9 0zM1365.85 854.3a4.45 4.9 0 1 0 8.9 0a4.45 4.9 0 1 0 -8.9 0zM1364.35 858a4.45 4.9 0 1 0 8.9 0a4.45 4.9 0 1 0 -8.9 0zM1337.25 855.2a4.45 4.9 0 1 0 8.9 0a4.45 4.9 0 1 0 -8.9 0zM1329.85 858a4.45 4.9 0 1 0 8.9 0a4.45 4.9 0 1 0 -8.9 0zM1340.05 865.5a4.45 4.9 0 1 0 8.9 0a4.45 4.9 0 1 0 -8.9 0zM1344.75 867.7a4.45 4.9 0 1 0 8.9 0a4.45 4.9 0 1 0 -8.9 0zM1353.55 870.2a4.45 4.9 0 1 0 8.9 0a4.45 4.9 0 1 0 -8.9 0zM1362.45 867.4a4.45 4.9 0 1 0 8.9 0a4.45 4.9 0 1 0 -8.9 0zM1280.05 680a4.45 4.9 0 1 0 8.9 0a4.45 4.9 0 1 0 -8.9 0zM1283.55 683a4.45 4.9 0 1 0 8.9 0a4.45 4.9 0 1 0 -8.9 0zM1288.55 685a4.45 4.9 0 1 0 8.9 0a4.45 4.9 0 1 0 -8.9 0zM1279.55 694a4.45 4.9 0 1 0 8.9 0a4.45 4.9 0 1 0 -8.9 0zM1286.55 700a4.45 4.9 0 1 0 8.9 0a4.45 4.9 0 1 0 -8.9 0zM1281.55 703a4.45 4.9 0 1 0 8.9 0a4.45 4.9 0 1 0 -8.9 0zM1287.55 715a4.45 4.9 0 1 0 8.9 0a4.45 4.9 0 1 0 -8.9 0zM1282.55 727a4.45 4.9 0 1 0 8.9 0a4.45 4.9 0 1 0 -8.9 0zM1291.55 731a4.45 4.9 0 1 0 8.9 0a4.45 4.9 0 1 0 -8.9 0zM1295.05 733a4.45 4.9 0 1 0 8.9 0a4.45 4.9 0 1 0 -8.9 0zM1295.55 738a4.45 4.9 0 1 0 8.9 0a4.45 4.9 0 1 0 -8.9 0zM1280.55 747a4.45 4.9 0 1 0 8.9 0a4.45 4.9 0 1 0 -8.9 0zM1290.05 749a4.45 4.9 0 1 0 8.9 0a4.45 4.9 0 1 0 -8.9 0zM1293.55 755a4.45 4.9 0 1 0 8.9 0a4.45 4.9 0 1 0 -8.9 0zM1300.05 750.5a4.45 4.9 0 1 0 8.9 0a4.45 4.9 0 1 0 -8.9 0zM1307.55 757a4.45 4.9 0 1 0 8.9 0a4.45 4.9 0 1 0 -8.9 0zM1310.55 762a4.45 4.9 0 1 0 8.9 0a4.45 4.9 0 1 0 -8.9 0zM1303.05 771a4.45 4.9 0 1 0 8.9 0a4.45 4.9 0 1 0 -8.9 0zM1288.55 763a4.45 4.9 0 1 0 8.9 0a4.45 4.9 0 1 0 -8.9 0zM1284.55 768a4.45 4.9 0 1 0 8.9 0a4.45 4.9 0 1 0 -8.9 0zM1291.55 772a4.45 4.9 0 1 0 8.9 0a4.45 4.9 0 1 0 -8.9 0zM1295.55 781.5a4.45 4.9 0 1 0 8.9 0a4.45 4.9 0 1 0 -8.9 0zM1282.55 786a4.45 4.9 0 1 0 8.9 0a4.45 4.9 0 1 0 -8.9 0zM1301.55 790a4.45 4.9 0 1 0 8.9 0a4.45 4.9 0 1 0 -8.9 0zM1304.55 795a4.45 4.9 0 1 0 8.9 0a4.45 4.9 0 1 0 -8.9 0zM1316.55 799a4.45 4.9 0 1 0 8.9 0a4.45 4.9 0 1 0 -8.9 0zM1308.55 802a4.45 4.9 0 1 0 8.9 0a4.45 4.9 0 1 0 -8.9 0zM1291.55 796a4.45 4.9 0 1 0 8.9 0a4.45 4.9 0 1 0 -8.9 0zM1285.55 806a4.45 4.9 0 1 0 8.9 0a4.45 4.9 0 1 0 -8.9 0zM1291.7 817.38a4.45 4.9 0 1 0 8.9 0a4.45 4.9 0 1 0 -8.9 0zM1281.13 804.06a4.45 4.9 0 1 0 8.9 0a4.45 4.9 0 1 0 -8.9 0zM1323.03 867.92a4.45 4.9 0 1 0 8.9 0a4.45 4.9 0 1 0 -8.9 0zM1279.89 857.54a4.45 4.9 0 1 0 8.9 0a4.45 4.9 0 1 0 -8.9 0zM1286.12 822.29a4.45 4.9 0 1 0 8.9 0a4.45 4.9 0 1 0 -8.9 0zM1280.58 825.57a4.45 4.9 0 1 0 8.9 0a4.45 4.9 0 1 0 -8.9 0zM1292.38 868.2a4.45 4.9 0 1 0 8.9 0a4.45 4.9 0 1 0 -8.9 0zM1298.8 796.54a4.45 4.9 0 1 0 8.9 0a4.45 4.9 0 1 0 -8.9 0zM1291.48 867.34a4.45 4.9 0 1 0 8.9 0a4.45 4.9 0 1 0 -8.9 0zM1285.09 850.13a4.45 4.9 0 1 0 8.9 0a4.45 4.9 0 1 0 -8.9 0zM1285.57 844.29a4.45 4.9 0 1 0 8.9 0a4.45 4.9 0 1 0 -8.9 0zM1284.98 796.73a4.45 4.9 0 1 0 8.9 0a4.45 4.9 0 1 0 -8.9 0zM1302.01 868.04a4.45 4.9 0 1 0 8.9 0a4.45 4.9 0 1 0 -8.9 0zM1321.65 832.12a4.45 4.9 0 1 0 8.9 0a4.45 4.9 0 1 0 -8.9 0zM1302.49 823.35a4.45 4.9 0 1 0 8.9 0a4.45 4.9 0 1 0 -8.9 0zM1286.98 819.56a4.45 4.9 0 1 0 8.9 0a4.45 4.9 0 1 0 -8.9 0zM1323.31 859.91a4.45 4.9 0 1 0 8.9 0a4.45 4.9 0 1 0 -8.9 0zM1301.02 841.6a4.45 4.9 0 1 0 8.9 0a4.45 4.9 0 1 0 -8.9 0zM1288.14 849.62a4.45 4.9 0 1 0 8.9 0a4.45 4.9 0 1 0 -8.9 0zM1296.62 860a4.45 4.9 0 1 0 8.9 0a4.45 4.9 0 1 0 -8.9 0zM1304.36 801.45a4.45 4.9 0 1 0 8.9 0a4.45 4.9 0 1 0 -8.9 0zM1280.73 787.14a4.45 4.9 0 1 0 8.9 0a4.45 4.9 0 1 0 -8.9 0zM1283.18 847.5a4.45 4.9 0 1 0 8.9 0a4.45 4.9 0 1 0 -8.9 0zM1291.8 853.44a4.45 4.9 0 1 0 8.9 0a4.45 4.9 0 1 0 -8.9 0zM1279.93 796.36a4.45 4.9 0 1 0 8.9 0a4.45 4.9 0 1 0 -8.9 0zM1282.16 862.96a4.45 4.9 0 1 0 8.9 0a4.45 4.9 0 1 0 -8.9 0zM1300.33 855.86a4.45 4.9 0 1 0 8.9 0a4.45 4.9 0 1 0 -8.9 0zM1307.15 824.18a4.45 4.9 0 1 0 8.9 0a4.45 4.9 0 1 0 -8.9 0zM1283.75 872.09a4.45 4.9 0 1 0 8.9 0a4.45 4.9 0 1 0 -8.9 0zM1318 868.92a4.45 4.9 0 1 0 8.9 0a4.45 4.9 0 1 0 -8.9 0zM1296.1 845.68a4.45 4.9 0 1 0 8.9 0a4.45 4.9 0 1 0 -8.9 0zM1298 825.57a4.45 4.9 0 1 0 8.9 0a4.45 4.9 0 1 0 -8.9 0zM1293.05 845.5a4.45 4.9 0 1 0 8.9 0a4.45 4.9 0 1 0 -8.9 0zM1300.02 868.59a4.45 4.9 0 1 0 8.9 0a4.45 4.9 0 1 0 -8.9 0zM1282.81 825.42a4.45 4.9 0 1 0 8.9 0a4.45 4.9 0 1 0 -8.9 0zM1284.3 837.65a4.45 4.9 0 1 0 8.9 0a4.45 4.9 0 1 0 -8.9 0zM1287.88 842.22a4.45 4.9 0 1 0 8.9 0a4.45 4.9 0 1 0 -8.9 0zM1286.76 817.69a4.45 4.9 0 1 0 8.9 0a4.45 4.9 0 1 0 -8.9 0zM1284.77 823.96a4.45 4.9 0 1 0 8.9 0a4.45 4.9 0 1 0 -8.9 0zM1283.66 860.92a4.45 4.9 0 1 0 8.9 0a4.45 4.9 0 1 0 -8.9 0zM1281.22 863.94a4.45 4.9 0 1 0 8.9 0a4.45 4.9 0 1 0 -8.9 0zM1281.21 841.8a4.45 4.9 0 1 0 8.9 0a4.45 4.9 0 1 0 -8.9 0zM1298.22 864.31a4.45 4.9 0 1 0 8.9 0a4.45 4.9 0 1 0 -8.9 0zM1282.72 846.02a4.45 4.9 0 1 0 8.9 0a4.45 4.9 0 1 0 -8.9 0zM1289.22 859.19a4.45 4.9 0 1 0 8.9 0a4.45 4.9 0 1 0 -8.9 0zM1280.93 863.87a4.45 4.9 0 1 0 8.9 0a4.45 4.9 0 1 0 -8.9 0zM1282.91 864.59a4.45 4.9 0 1 0 8.9 0a4.45 4.9 0 1 0 -8.9 0zM1279.74 841.95a4.45 4.9 0 1 0 8.9 0a4.45 4.9 0 1 0 -8.9 0zM1290.03 824.68a4.45 4.9 0 1 0 8.9 0a4.45 4.9 0 1 0 -8.9 0zM1281.3 791.36a4.45 4.9 0 1 0 8.9 0a4.45 4.9 0 1 0 -8.9 0zM1288.33 790.05a4.45 4.9 0 1 0 8.9 0a4.45 4.9 0 1 0 -8.9 0zM1290.65 847.15a4.45 4.9 0 1 0 8.9 0a4.45 4.9 0 1 0 -8.9 0zM1287.1 864.35a4.45 4.9 0 1 0 8.9 0a4.45 4.9 0 1 0 -8.9 0zM1280.24 759.25a4.45 4.9 0 1 0 8.9 0a4.45 4.9 0 1 0 -8.9 0zM1287.99 803.44a4.45 4.9 0 1 0 8.9 0a4.45 4.9 0 1 0 -8.9 0zM1286.21 869.42a4.45 4.9 0 1 0 8.9 0a4.45 4.9 0 1 0 -8.9 0zM1292.46 870.3a4.45 4.9 0 1 0 8.9 0a4.45 4.9 0 1 0 -8.9 0zM1281.65 839.4a4.45 4.9 0 1 0 8.9 0a4.45 4.9 0 1 0 -8.9 0zM1281.19 814.67a4.45 4.9 0 1 0 8.9 0a4.45 4.9 0 1 0 -8.9 0zM1291.67 809.93a4.45 4.9 0 1 0 8.9 0a4.45 4.9 0 1 0 -8.9 0zM1282.88 842.93a4.45 4.9 0 1 0 8.9 0a4.45 4.9 0 1 0 -8.9 0zM1287.33 849.11a4.45 4.9 0 1 0 8.9 0a4.45 4.9 0 1 0 -8.9 0zM1284.29 833.69a4.45 4.9 0 1 0 8.9 0a4.45 4.9 0 1 0 -8.9 0zM1291.78 818.6a4.45 4.9 0 1 0 8.9 0a4.45 4.9 0 1 0 -8.9 0zM1317.88 863.18a4.45 4.9 0 1 0 8.9 0a4.45 4.9 0 1 0 -8.9 0zM1282.63 829.3a4.45 4.9 0 1 0 8.9 0a4.45 4.9 0 1 0 -8.9 0zM1281.77 864.86a4.45 4.9 0 1 0 8.9 0a4.45 4.9 0 1 0 -8.9 0zM1280.56 872.39a4.45 4.9 0 1 0 8.9 0a4.45 4.9 0 1 0 -8.9 0zM1287.33 836.46a4.45 4.9 0 1 0 8.9 0a4.45 4.9 0 1 0 -8.9 0zM1284.03 861.97a4.45 4.9 0 1 0 8.9 0a4.45 4.9 0 1 0 -8.9 0zM1295.51 823.94a4.45 4.9 0 1 0 8.9 0a4.45 4.9 0 1 0 -8.9 0zM1287.42 825.99a4.45 4.9 0 1 0 8.9 0a4.45 4.9 0 1 0 -8.9 0zM1313.04 810.49a4.45 4.9 0 1 0 8.9 0a4.45 4.9 0 1 0 -8.9 0zM1292.3 829.21a4.45 4.9 0 1 0 8.9 0a4.45 4.9 0 1 0 -8.9 0zM1314.82 850.35a4.45 4.9 0 1 0 8.9 0a4.45 4.9 0 1 0 -8.9 0zM1289.77 830.78a4.45 4.9 0 1 0 8.9 0a4.45 4.9 0 1 0 -8.9 0zM1310.63 802.41a4.45 4.9 0 1 0 8.9 0a4.45 4.9 0 1 0 -8.9 0zM1280.51 865.24a4.45 4.9 0 1 0 8.9 0a4.45 4.9 0 1 0 -8.9 0zM1284.33 817.21a4.45 4.9 0 1 0 8.9 0a4.45 4.9 0 1 0 -8.9 0zM1290.5 858.88a4.45 4.9 0 1 0 8.9 0a4.45 4.9 0 1 0 -8.9 0zM1281.28 825.82a4.45 4.9 0 1 0 8.9 0a4.45 4.9 0 1 0 -8.9 0zM1295.19 758.14a4.45 4.9 0 1 0 8.9 0a4.45 4.9 0 1 0 -8.9 0zM1288.57 845.27a4.45 4.9 0 1 0 8.9 0a4.45 4.9 0 1 0 -8.9 0zM1280.64 870.87a4.45 4.9 0 1 0 8.9 0a4.45 4.9 0 1 0 -8.9 0zM1286.9 856.94a4.45 4.9 0 1 0 8.9 0a4.45 4.9 0 1 0 -8.9 0zM1283.3 868.67a4.45 4.9 0 1 0 8.9 0a4.45 4.9 0 1 0 -8.9 0zM1290.68 752.04a4.45 4.9 0 1 0 8.9 0a4.45 4.9 0 1 0 -8.9 0zM1283.63 870.86a4.45 4.9 0 1 0 8.9 0a4.45 4.9 0 1 0 -8.9 0zM1297.9 847.07a4.45 4.9 0 1 0 8.9 0a4.45 4.9 0 1 0 -8.9 0zM1293.25 773.39a4.45 4.9 0 1 0 8.9 0a4.45 4.9 0 1 0 -8.9 0zM1282.15 837.29a4.45 4.9 0 1 0 8.9 0a4.45 4.9 0 1 0 -8.9 0zM1292.64 845.43a4.45 4.9 0 1 0 8.9 0a4.45 4.9 0 1 0 -8.9 0zM1280.79 855.39a4.45 4.9 0 1 0 8.9 0a4.45 4.9 0 1 0 -8.9 0zM1284.82 828.14a4.45 4.9 0 1 0 8.9 0a4.45 4.9 0 1 0 -8.9 0zM1304.9 856.49a4.45 4.9 0 1 0 8.9 0a4.45 4.9 0 1 0 -8.9 0zM1294.93 858.9a4.45 4.9 0 1 0 8.9 0a4.45 4.9 0 1 0 -8.9 0zM1289.93 848.23a4.45 4.9 0 1 0 8.9 0a4.45 4.9 0 1 0 -8.9 0zM1284.46 856.88a4.45 4.9 0 1 0 8.9 0a4.45 4.9 0 1 0 -8.9 0zM1325.22 851.79a4.45 4.9 0 1 0 8.9 0a4.45 4.9 0 1 0 -8.9 0zM1293.49 841.21a4.45 4.9 0 1 0 8.9 0a4.45 4.9 0 1 0 -8.9 0zM1286.48 864.19a4.45 4.9 0 1 0 8.9 0a4.45 4.9 0 1 0 -8.9 0zM1285.39 816a4.45 4.9 0 1 0 8.9 0a4.45 4.9 0 1 0 -8.9 0zM1292.31 815.42a4.45 4.9 0 1 0 8.9 0a4.45 4.9 0 1 0 -8.9 0zM1282.51 840.63a4.45 4.9 0 1 0 8.9 0a4.45 4.9 0 1 0 -8.9 0zM1313.7 849.44a4.45 4.9 0 1 0 8.9 0a4.45 4.9 0 1 0 -8.9 0zM1295.13 867.32a4.45 4.9 0 1 0 8.9 0a4.45 4.9 0 1 0 -8.9 0zM1283.11 865.6a4.45 4.9 0 1 0 8.9 0a4.45 4.9 0 1 0 -8.9 0zM1289.95 840.36a4.45 4.9 0 1 0 8.9 0a4.45 4.9 0 1 0 -8.9 0zM1311.28 847.75a4.45 4.9 0 1 0 8.9 0a4.45 4.9 0 1 0 -8.9 0zM1281.17 801.11a4.45 4.9 0 1 0 8.9 0a4.45 4.9 0 1 0 -8.9 0zM1288.52 822.06a4.45 4.9 0 1 0 8.9 0a4.45 4.9 0 1 0 -8.9 0zM1288.79 859.72a4.45 4.9 0 1 0 8.9 0a4.45 4.9 0 1 0 -8.9 0zM1283.18 840.45a4.45 4.9 0 1 0 8.9 0a4.45 4.9 0 1 0 -8.9 0zM1285.84 770.53a4.45 4.9 0 1 0 8.9 0a4.45 4.9 0 1 0 -8.9 0zM1288.78 787.91a4.45 4.9 0 1 0 8.9 0a4.45 4.9 0 1 0 -8.9 0zM1305.49 859.57a4.45 4.9 0 1 0 8.9 0a4.45 4.9 0 1 0 -8.9 0zM1299.84 851.06a4.45 4.9 0 1 0 8.9 0a4.45 4.9 0 1 0 -8.9 0zM1314.93 844.15a4.45 4.9 0 1 0 8.9 0a4.45 4.9 0 1 0 -8.9 0zM1301.88 859.2a4.45 4.9 0 1 0 8.9 0a4.45 4.9 0 1 0 -8.9 0zM1284.16 837.13a4.45 4.9 0 1 0 8.9 0a4.45 4.9 0 1 0 -8.9 0z"/>
<line x1="1191.9" y1="204.3" x2="1191.9" y2="913" stroke="#b2b2b5" stroke-width="3.2" stroke-dasharray="14.2 11.4 3.3 11.5" stroke-dashoffset="7.2"/>
<line x1="1282.2" y1="204.3" x2="1282.2" y2="913" stroke="#b2b2b5" stroke-width="3.2" stroke-dasharray="14.2 11.4 3.3 11.5" stroke-dashoffset="7.2"/>
<line x1="982.2" y1="870.7" x2="1613.4" y2="870.7" stroke="#b2b2b5" stroke-width="3.3" stroke-dasharray="13.4 10.1 3.45 10.11" stroke-dashoffset="24.76"/>
<path fill="none" stroke="#333" stroke-width="1.4" d="M982 204.4H1601V914"/>
<path fill="none" stroke="#111" stroke-width="2.3" d="M982 203.7V914H1613.4"/>
<text x="1628" y="366.3" font-size="29.8" fill="#111" textLength="180" lengthAdjust="spacingAndGlyphs">pvalue&lt;=0.05</text>
<text x="1628.3" y="402.7" font-size="29.5" fill="#111" textLength="309" lengthAdjust="spacingAndGlyphs">|log2FoldChange|&gt;=1.0</text>
<ellipse cx="1640" cy="447.3" rx="12.1" ry="12.5" fill="#e9716f"/>
<ellipse cx="1640" cy="495.4" rx="12.1" ry="12.5" fill="#3bb44f"/>
<text x="1680.2" y="455.8" font-size="25.6" fill="#111" >UP 248</text>
<text x="1680.2" y="507.7" font-size="25.3" fill="#111" >DOWN 261</text>
</g>
<g id="panel-c">
<text x="66.8" y="1148.2" font-size="44.3" font-weight="bold" fill="#111" >c</text>
<rect x="474" y="1329" width="165.4" height="32.4" fill="#477aaa" />
<rect x="474" y="1368" width="274.7" height="30.8" fill="#477aaa" />
<rect x="474" y="1404.5" width="274.7" height="31.3" fill="#477aaa" />
<rect x="474" y="1441" width="274.7" height="31.6" fill="#477aaa" />
<rect x="474" y="1477.5" width="314.1" height="32.3" fill="#477aaa" />
<rect x="17.7" y="1598.8" width="453.8" height="34" fill="#477aaa" />
<rect x="60.8" y="1638" width="410.7" height="33.4" fill="#477aaa" />
<rect x="229" y="1677.1" width="242.5" height="33.4" fill="#477aaa" />
<rect x="231.4" y="1716.2" width="240.1" height="33.4" fill="#477aaa" />
<rect x="273.4" y="1755.4" width="198.1" height="33.4" fill="#477aaa" />
<line x1="473.6" y1="1519" x2="905.3" y2="1519" stroke="#4a4a4a" stroke-width="2.2" />
<line x1="587.8" y1="1519" x2="587.8" y2="1525.5" stroke="#4a4a4a" stroke-width="1.8" />
<line x1="702" y1="1519" x2="702" y2="1525.5" stroke="#4a4a4a" stroke-width="1.8" />
<line x1="816.8" y1="1519" x2="816.8" y2="1525.5" stroke="#4a4a4a" stroke-width="1.8" />
<line x1="0" y1="1592" x2="471.5" y2="1592" stroke="#4a4a4a" stroke-width="2.4" />
<line x1="117.4" y1="1586.5" x2="117.4" y2="1592" stroke="#4a4a4a" stroke-width="1.8" />
<line x1="234.8" y1="1586.5" x2="234.8" y2="1592" stroke="#4a4a4a" stroke-width="1.8" />
<line x1="353.5" y1="1586.5" x2="353.5" y2="1592" stroke="#4a4a4a" stroke-width="1.8" />
<line x1="473.6" y1="1297" x2="473.6" y2="1527" stroke="#222" stroke-width="2.2" />
<line x1="472.6" y1="1527" x2="472.6" y2="1592" stroke="#555" stroke-width="2.2" />
<line x1="471.6" y1="1592" x2="471.6" y2="1825" stroke="#333" stroke-width="2.5" />
<text x="586.5" y="1554" font-size="23.2" text-anchor="middle" fill="#111" textLength="34.3" lengthAdjust="spacingAndGlyphs">0.5</text>
<text x="701.7" y="1554" font-size="23.2" text-anchor="middle" fill="#111" textLength="34.3" lengthAdjust="spacingAndGlyphs">1.0</text>
<text x="806.2" y="1554" font-size="23.2" text-anchor="middle" fill="#111" textLength="34.3" lengthAdjust="spacingAndGlyphs">1.5</text>
<text x="106" y="1575.6" font-size="23.2" text-anchor="middle" fill="#111" textLength="42.6" lengthAdjust="spacingAndGlyphs">-1.5</text>
<text x="232.6" y="1575.6" font-size="23.2" text-anchor="middle" fill="#111" textLength="42.6" lengthAdjust="spacingAndGlyphs">-1.0</text>
<text x="349.5" y="1575.6" font-size="23.2" text-anchor="middle" fill="#111" textLength="42.6" lengthAdjust="spacingAndGlyphs">-0.5</text>
<text x="837.5" y="1550" font-size="19" fill="#111" textLength="119" lengthAdjust="spacingAndGlyphs">-log10(padj)</text>
<text x="457.5" y="1355.7" font-size="20.8" text-anchor="end" fill="#111" >Glycolysis/Gluconeogenesis</text>
<text x="457.5" y="1394" font-size="20.8" text-anchor="end" fill="#111" >Phagosome</text>
<text x="457.5" y="1429.5" font-size="20.8" text-anchor="end" fill="#111" >cGMP-PKG signaling pathway</text>
<text x="457.5" y="1465.8" font-size="20.8" text-anchor="end" fill="#111" >ECM-receptor interaction</text>
<text x="455.2" y="1499.2" font-size="20.8" text-anchor="end" fill="#111" >Lysosome</text>
<text x="478.5" y="1622.3" font-size="20.7" fill="#111" >Cytokine-cytokine receptor interaction</text>
<text x="478.5" y="1661" font-size="20.7" fill="#111" >TGF-beta signaling pathway</text>
<text x="478.5" y="1699.5" font-size="20.7" fill="#111" >IL-17 signaling pathway</text>
<text x="478.5" y="1739.7" font-size="20.7" fill="#111" >Toll-like receptor signaling pathway</text>
<text x="479.7" y="1779.1" font-size="20.7" fill="#111" >Foxo signaling pathway</text>
</g>
<g id="panel-d">
<text x="912.2" y="1144.4" font-size="41.2" fill="#111" stroke="#111" stroke-width="0.7" textLength="25.4" lengthAdjust="spacingAndGlyphs">d</text>
<g stroke="#a7a3ae" stroke-width="0.8"><rect x="1115.4" y="1231.3" width="44.9" height="21.55" fill="#ea494c" /><rect x="1160.3" y="1231.3" width="44.9" height="21.55" fill="#fbe3e3" /><rect x="1205.2" y="1231.3" width="44.9" height="21.55" fill="#fceaea" /><rect x="1250.1" y="1231.3" width="44.9" height="21.55" fill="#3a5aaa" /><rect x="1115.4" y="1252.85" width="44.9" height="21.55" fill="#ef7f82" /><rect x="1160.3" y="1252.85" width="44.9" height="21.55" fill="#f08d90" /><rect x="1205.2" y="1252.85" width="44.9" height="21.55" fill="#fceaea" /><rect x="1250.1" y="1252.85" width="44.9" height="21.55" fill="#3a5aaa" /><rect x="1115.4" y="1274.39" width="44.9" height="21.55" fill="#ef7f82" /><rect x="1160.3" y="1274.39" width="44.9" height="21.55" fill="#f29c9e" /><rect x="1205.2" y="1274.39" width="44.9" height="21.55" fill="#fceaea" /><rect x="1250.1" y="1274.39" width="44.9" height="21.55" fill="#3a5aaa" /><rect x="1115.4" y="1295.94" width="44.9" height="21.55" fill="#f4b1b3" /><rect x="1160.3" y="1295.94" width="44.9" height="21.55" fill="#ea494c" /><rect x="1205.2" y="1295.94" width="44.9" height="21.55" fill="#a3a8d4" /><rect x="1250.1" y="1295.94" width="44.9" height="21.55" fill="#5062af" /><rect x="1115.4" y="1317.48" width="44.9" height="21.55" fill="#ef8689" /><rect x="1160.3" y="1317.48" width="44.9" height="21.55" fill="#ed7174" /><rect x="1205.2" y="1317.48" width="44.9" height="21.55" fill="#bdc1e0" /><rect x="1250.1" y="1317.48" width="44.9" height="21.55" fill="#3f5cab" /><rect x="1115.4" y="1339.03" width="44.9" height="21.55" fill="#ee787b" /><rect x="1160.3" y="1339.03" width="44.9" height="21.55" fill="#ed7174" /><rect x="1205.2" y="1339.03" width="44.9" height="21.55" fill="#969bce" /><rect x="1250.1" y="1339.03" width="44.9" height="21.55" fill="#4a60ae" /><rect x="1115.4" y="1360.57" width="44.9" height="21.55" fill="#ea494c" /><rect x="1160.3" y="1360.57" width="44.9" height="21.55" fill="#f19497" /><rect x="1205.2" y="1360.57" width="44.9" height="21.55" fill="#898fc8" /><rect x="1250.1" y="1360.57" width="44.9" height="21.55" fill="#5062af" /><rect x="1115.4" y="1382.12" width="44.9" height="21.55" fill="#ec6669" /><rect x="1160.3" y="1382.12" width="44.9" height="21.55" fill="#ee787b" /><rect x="1205.2" y="1382.12" width="44.9" height="21.55" fill="#8289c5" /><rect x="1250.1" y="1382.12" width="44.9" height="21.55" fill="#5062af" /><rect x="1115.4" y="1403.67" width="44.9" height="21.55" fill="#ec6669" /><rect x="1160.3" y="1403.67" width="44.9" height="21.55" fill="#ef7f82" /><rect x="1205.2" y="1403.67" width="44.9" height="21.55" fill="#8289c5" /><rect x="1250.1" y="1403.67" width="44.9" height="21.55" fill="#5767b1" /><rect x="1115.4" y="1425.21" width="44.9" height="21.55" fill="#e9393c" /><rect x="1160.3" y="1425.21" width="44.9" height="21.55" fill="#f6bfc0" /><rect x="1205.2" y="1425.21" width="44.9" height="21.55" fill="#b0b4da" /><rect x="1250.1" y="1425.21" width="44.9" height="21.55" fill="#455eac" /><rect x="1115.4" y="1446.76" width="44.9" height="21.55" fill="#eb5b5e" /><rect x="1160.3" y="1446.76" width="44.9" height="21.55" fill="#f08d90" /><rect x="1205.2" y="1446.76" width="44.9" height="21.55" fill="#b7bbdd" /><rect x="1250.1" y="1446.76" width="44.9" height="21.55" fill="#3f5cab" /><rect x="1115.4" y="1468.3" width="44.9" height="21.55" fill="#ea494c" /><rect x="1160.3" y="1468.3" width="44.9" height="21.55" fill="#f29c9e" /><rect x="1205.2" y="1468.3" width="44.9" height="21.55" fill="#aaaed7" /><rect x="1250.1" y="1468.3" width="44.9" height="21.55" fill="#455eac" /><rect x="1115.4" y="1489.85" width="44.9" height="21.55" fill="#ea494c" /><rect x="1160.3" y="1489.85" width="44.9" height="21.55" fill="#f29c9e" /><rect x="1205.2" y="1489.85" width="44.9" height="21.55" fill="#b7bbdd" /><rect x="1250.1" y="1489.85" width="44.9" height="21.55" fill="#3f5cab" /><rect x="1115.4" y="1511.39" width="44.9" height="21.55" fill="#ea5255" /><rect x="1160.3" y="1511.39" width="44.9" height="21.55" fill="#f08d90" /><rect x="1205.2" y="1511.39" width="44.9" height="21.55" fill="#4a60ae" /><rect x="1250.1" y="1511.39" width="44.9" height="21.55" fill="#8f95cb" /><rect x="1115.4" y="1532.94" width="44.9" height="21.55" fill="#ea5255" /><rect x="1160.3" y="1532.94" width="44.9" height="21.55" fill="#f2a3a5" /><rect x="1205.2" y="1532.94" width="44.9" height="21.55" fill="#3a5aaa" /><rect x="1250.1" y="1532.94" width="44.9" height="21.55" fill="#bdc1e0" /><rect x="1115.4" y="1554.49" width="44.9" height="21.55" fill="#fef8f8" /><rect x="1160.3" y="1554.49" width="44.9" height="21.55" fill="#e82c2f" /><rect x="1205.2" y="1554.49" width="44.9" height="21.55" fill="#5062af" /><rect x="1250.1" y="1554.49" width="44.9" height="21.55" fill="#aaaed7" /><rect x="1115.4" y="1576.03" width="44.9" height="21.55" fill="#f2f3f9" /><rect x="1160.3" y="1576.03" width="44.9" height="21.55" fill="#e82c2f" /><rect x="1205.2" y="1576.03" width="44.9" height="21.55" fill="#6f79bc" /><rect x="1250.1" y="1576.03" width="44.9" height="21.55" fill="#8f95cb" /><rect x="1115.4" y="1597.58" width="44.9" height="21.55" fill="#f6bfc0" /><rect x="1160.3" y="1597.58" width="44.9" height="21.55" fill="#e9393c" /><rect x="1205.2" y="1597.58" width="44.9" height="21.55" fill="#3a5aaa" /><rect x="1250.1" y="1597.58" width="44.9" height="21.55" fill="#c4c7e3" /><rect x="1115.4" y="1619.12" width="44.9" height="21.55" fill="#f3aaac" /><rect x="1160.3" y="1619.12" width="44.9" height="21.55" fill="#e9393c" /><rect x="1205.2" y="1619.12" width="44.9" height="21.55" fill="#5767b1" /><rect x="1250.1" y="1619.12" width="44.9" height="21.55" fill="#6370b7" /><rect x="1115.4" y="1640.67" width="44.9" height="21.55" fill="#f19497" /><rect x="1160.3" y="1640.67" width="44.9" height="21.55" fill="#ea494c" /><rect x="1205.2" y="1640.67" width="44.9" height="21.55" fill="#5062af" /><rect x="1250.1" y="1640.67" width="44.9" height="21.55" fill="#5767b1" /><rect x="1115.4" y="1662.21" width="44.9" height="21.55" fill="#fdeeee" /><rect x="1160.3" y="1662.21" width="44.9" height="21.55" fill="#5062af" /><rect x="1205.2" y="1662.21" width="44.9" height="21.55" fill="#e82c2f" /><rect x="1250.1" y="1662.21" width="44.9" height="21.55" fill="#898fc8" /><rect x="1115.4" y="1683.76" width="44.9" height="21.55" fill="#bdc1e0" /><rect x="1160.3" y="1683.76" width="44.9" height="21.55" fill="#4a60ae" /><rect x="1205.2" y="1683.76" width="44.9" height="21.55" fill="#e82c2f" /><rect x="1250.1" y="1683.76" width="44.9" height="21.55" fill="#e5e6f3" /><rect x="1115.4" y="1705.31" width="44.9" height="21.55" fill="#9ca1d1" /><rect x="1160.3" y="1705.31" width="44.9" height="21.55" fill="#5062af" /><rect x="1205.2" y="1705.31" width="44.9" height="21.55" fill="#e82c2f" /><rect x="1250.1" y="1705.31" width="44.9" height="21.55" fill="#f8cdce" /><rect x="1115.4" y="1726.85" width="44.9" height="21.55" fill="#9ca1d1" /><rect x="1160.3" y="1726.85" width="44.9" height="21.55" fill="#5062af" /><rect x="1205.2" y="1726.85" width="44.9" height="21.55" fill="#e82c2f" /><rect x="1250.1" y="1726.85" width="44.9" height="21.55" fill="#f9d4d4" /><rect x="1115.4" y="1748.4" width="44.9" height="21.55" fill="#8289c5" /><rect x="1160.3" y="1748.4" width="44.9" height="21.55" fill="#a3a8d4" /><rect x="1205.2" y="1748.4" width="44.9" height="21.55" fill="#d1d4e9" /><rect x="1250.1" y="1748.4" width="44.9" height="21.55" fill="#e82c2f" /><rect x="1115.4" y="1769.94" width="44.9" height="21.55" fill="#898fc8" /><rect x="1160.3" y="1769.94" width="44.9" height="21.55" fill="#898fc8" /><rect x="1205.2" y="1769.94" width="44.9" height="21.55" fill="#dee0f0" /><rect x="1250.1" y="1769.94" width="44.9" height="21.55" fill="#e82c2f" /><rect x="1115.4" y="1791.49" width="44.9" height="21.55" fill="#898fc8" /><rect x="1160.3" y="1791.49" width="44.9" height="21.55" fill="#8f95cb" /><rect x="1205.2" y="1791.49" width="44.9" height="21.55" fill="#d8daec" /><rect x="1250.1" y="1791.49" width="44.9" height="21.55" fill="#e82c2f" /><rect x="1115.4" y="1813.03" width="44.9" height="21.55" fill="#898fc8" /><rect x="1160.3" y="1813.03" width="44.9" height="21.55" fill="#8f95cb" /><rect x="1205.2" y="1813.03" width="44.9" height="21.55" fill="#e5e6f3" /><rect x="1250.1" y="1813.03" width="44.9" height="21.55" fill="#e82c2f" /><rect x="1115.4" y="1834.58" width="44.9" height="21.55" fill="#bdc1e0" /><rect x="1160.3" y="1834.58" width="44.9" height="21.55" fill="#3a5aaa" /><rect x="1205.2" y="1834.58" width="44.9" height="21.55" fill="#ee787b" /><rect x="1250.1" y="1834.58" width="44.9" height="21.55" fill="#ed7174" /><rect x="1115.4" y="1856.13" width="44.9" height="21.55" fill="#6370b7" /><rect x="1160.3" y="1856.13" width="44.9" height="21.55" fill="#4a60ae" /><rect x="1205.2" y="1856.13" width="44.9" height="21.55" fill="#ee787b" /><rect x="1250.1" y="1856.13" width="44.9" height="21.55" fill="#eb5b5e" /><rect x="1115.4" y="1877.67" width="44.9" height="21.55" fill="#969bce" /><rect x="1160.3" y="1877.67" width="44.9" height="21.55" fill="#455eac" /><rect x="1205.2" y="1877.67" width="44.9" height="21.55" fill="#ee787b" /><rect x="1250.1" y="1877.67" width="44.9" height="21.55" fill="#eb5b5e" /><rect x="1115.4" y="1899.22" width="44.9" height="21.55" fill="#898fc8" /><rect x="1160.3" y="1899.22" width="44.9" height="21.55" fill="#4a60ae" /><rect x="1205.2" y="1899.22" width="44.9" height="21.55" fill="#ed7174" /><rect x="1250.1" y="1899.22" width="44.9" height="21.55" fill="#ec6669" /><rect x="1115.4" y="1920.76" width="44.9" height="21.55" fill="#3f5cab" /><rect x="1160.3" y="1920.76" width="44.9" height="21.55" fill="#a3a8d4" /><rect x="1205.2" y="1920.76" width="44.9" height="21.55" fill="#ee787b" /><rect x="1250.1" y="1920.76" width="44.9" height="21.55" fill="#ed7174" /><rect x="1115.4" y="1942.31" width="44.9" height="21.55" fill="#6f79bc" /><rect x="1160.3" y="1942.31" width="44.9" height="21.55" fill="#5767b1" /><rect x="1205.2" y="1942.31" width="44.9" height="21.55" fill="#e9393c" /><rect x="1250.1" y="1942.31" width="44.9" height="21.55" fill="#f3aaac" /><rect x="1115.4" y="1963.85" width="44.9" height="21.55" fill="#5062af" /><rect x="1160.3" y="1963.85" width="44.9" height="21.55" fill="#6f79bc" /><rect x="1205.2" y="1963.85" width="44.9" height="21.55" fill="#e9393c" /><rect x="1250.1" y="1963.85" width="44.9" height="21.55" fill="#f2a3a5" /></g>
<path fill="none" stroke="#3a3a3a" stroke-width="1.5" d="M1115.4 1263.62H1114.1V1285.16H1115.4M1115.4 1242.07H1103.5V1274.39H1114.1M1115.4 1328.26H1111.1V1349.8H1115.4M1115.4 1306.71H1106.9V1339.03H1111.1M1115.4 1392.89H1114.1V1414.44H1115.4M1115.4 1371.35H1110.5V1403.67H1114.1M1115.4 1479.08H1113.5V1500.62H1115.4M1115.4 1457.53H1111.9V1489.85H1113.5M1115.4 1435.98H1108.5V1473.69H1111.9M1110.5 1387.51H1103.5V1454.84H1108.5M1106.9 1322.87H1095.6V1421.17H1103.5M1103.5 1258.23H1089.6V1372.02H1095.6M1115.4 1522.17H1107.5V1543.71H1115.4M1115.4 1565.26H1109.9V1586.8H1115.4M1115.4 1629.9H1111.9V1651.44H1115.4M1115.4 1608.35H1101.1V1640.67H1111.9M1109.9 1576.03H1097.6V1624.51H1101.1M1107.5 1532.94H1084V1600.27H1097.6M1089.6 1315.13H1071.7V1566.61H1084M1115.4 1716.08H1114.1V1737.62H1115.4M1115.4 1694.53H1105.9V1726.85H1114.1M1115.4 1672.99H1093V1710.69H1105.9M1115.4 1802.26H1114.1V1823.81H1115.4M1115.4 1780.72H1113.5V1813.03H1114.1M1115.4 1759.17H1111.1V1796.88H1113.5M1115.4 1888.44H1113.5V1909.99H1115.4M1115.4 1866.9H1111.1V1899.22H1113.5M1115.4 1845.35H1103.5V1883.06H1111.1M1115.4 1953.08H1111.9V1974.63H1115.4M1115.4 1931.54H1100V1963.85H1111.9M1103.5 1864.21H1091.6V1947.7H1100M1111.1 1778.02H1078.7V1905.95H1091.6M1093 1691.84H1056.8V1841.99H1078.7M1071.7 1440.87H1042.5V1766.91H1056.8"/>
<text x="1310.2" y="1248.2" font-size="15.9" font-style="italic" fill="#111" stroke="#111" stroke-width="0.25">Bmp2</text>
<text x="1310.2" y="1268.6" font-size="15.9" font-style="italic" fill="#111" stroke="#111" stroke-width="0.25">Cxcl10</text>
<text x="1310.2" y="1288.7" font-size="15.9" font-style="italic" fill="#111" stroke="#111" stroke-width="0.25">Tnfsf10</text>
<text x="1310.2" y="1311.9" font-size="15.9" font-style="italic" fill="#111" stroke="#111" stroke-width="0.25">Ccl8</text>
<text x="1310.2" y="1334" font-size="15.9" font-style="italic" fill="#111" stroke="#111" stroke-width="0.25">Ccr2</text>
<text x="1310.2" y="1356" font-size="15.9" font-style="italic" fill="#111" stroke="#111" stroke-width="0.25">Il34</text>
<text x="1310.2" y="1377.5" font-size="15.9" font-style="italic" fill="#111" stroke="#111" stroke-width="0.25">Crlf2</text>
<text x="1310.2" y="1399.4" font-size="15.9" font-style="italic" fill="#111" stroke="#111" stroke-width="0.25">Ifnar2</text>
<text x="1310.2" y="1420.8" font-size="15.9" font-style="italic" fill="#111" stroke="#111" stroke-width="0.25">Il21r</text>
<text x="1310.2" y="1441" font-size="15.9" font-style="italic" fill="#111" stroke="#111" stroke-width="0.25">Cd40</text>
<text x="1310.2" y="1462" font-size="15.9" font-style="italic" fill="#111" stroke="#111" stroke-width="0.25">Cd4</text>
<text x="1310.2" y="1484.5" font-size="15.9" font-style="italic" fill="#111" stroke="#111" stroke-width="0.25">Tgfb1</text>
<text x="1310.2" y="1506.1" font-size="15.9" font-style="italic" fill="#111" stroke="#111" stroke-width="0.25">Tnf</text>
<text x="1310.2" y="1528.4" font-size="15.9" font-style="italic" fill="#111" stroke="#111" stroke-width="0.25">Gdf15</text>
<text x="1310.2" y="1550.1" font-size="15.9" font-style="italic" fill="#111" stroke="#111" stroke-width="0.25">Bmp6</text>
<text x="1310.2" y="1571.7" font-size="15.9" font-style="italic" fill="#111" stroke="#111" stroke-width="0.25">Tnfrsf11b</text>
<text x="1310.2" y="1592.5" font-size="15.9" font-style="italic" fill="#111" stroke="#111" stroke-width="0.25">Tnfsf8</text>
<text x="1310.2" y="1615" font-size="15.9" font-style="italic" fill="#111" stroke="#111" stroke-width="0.25">Tgfb3</text>
<text x="1310.2" y="1636.7" font-size="15.9" font-style="italic" fill="#111" stroke="#111" stroke-width="0.25">Lifr</text>
<text x="1310.2" y="1658" font-size="15.9" font-style="italic" fill="#111" stroke="#111" stroke-width="0.25">Inhbb</text>
<text x="1310.2" y="1679" font-size="15.9" font-style="italic" fill="#111" stroke="#111" stroke-width="0.25">Gdf3</text>
<text x="1310.2" y="1700.9" font-size="15.9" font-style="italic" fill="#111" stroke="#111" stroke-width="0.25">Il11ra1</text>
<text x="1310.2" y="1721.6" font-size="15.9" font-style="italic" fill="#111" stroke="#111" stroke-width="0.25">Il7r</text>
<text x="1310.2" y="1743.2" font-size="15.9" font-style="italic" fill="#111" stroke="#111" stroke-width="0.25">Tnfrsf9</text>
<text x="1310.2" y="1763.9" font-size="15.9" font-style="italic" fill="#111" stroke="#111" stroke-width="0.25">Tnfsf11</text>
<text x="1310.2" y="1787.1" font-size="15.9" font-style="italic" fill="#111" stroke="#111" stroke-width="0.25">Il13ra2</text>
<text x="1310.2" y="1808.7" font-size="15.9" font-style="italic" fill="#111" stroke="#111" stroke-width="0.25">Cxcl3</text>
<text x="1310.2" y="1830.3" font-size="15.9" font-style="italic" fill="#111" stroke="#111" stroke-width="0.25">Il1rl1</text>
<text x="1310.2" y="1851.3" font-size="15.9" font-style="italic" fill="#111" stroke="#111" stroke-width="0.25">Mpl</text>
<text x="1310.2" y="1873.9" font-size="15.9" font-style="italic" fill="#111" stroke="#111" stroke-width="0.25">Cxcr4</text>
<text x="1310.2" y="1893.9" font-size="15.9" font-style="italic" fill="#111" stroke="#111" stroke-width="0.25">Ccl6</text>
<text x="1310.2" y="1915.2" font-size="15.9" font-style="italic" fill="#111" stroke="#111" stroke-width="0.25">Tnfsf14</text>
<text x="1310.2" y="1937.8" font-size="15.9" font-style="italic" fill="#111" stroke="#111" stroke-width="0.25">Il1rl2</text>
<text x="1310.2" y="1958.5" font-size="15.9" font-style="italic" fill="#111" stroke="#111" stroke-width="0.25">Ppbp</text>
<text x="1310.2" y="1981" font-size="15.9" font-style="italic" fill="#111" stroke="#111" stroke-width="0.25">Cxcr1</text>
<rect x="1396.2" y="1231.2" width="14.6" height="198.5" fill="url(#cbD)" />
<text x="1415.8" y="1268.3" font-size="13.8" fill="#222" stroke="#222" stroke-width="0.35">1</text>
<text x="1415.8" y="1301.9" font-size="13.8" fill="#222" stroke="#222" stroke-width="0.35">0.5</text>
<text x="1415.8" y="1335.6" font-size="13.8" fill="#222" stroke="#222" stroke-width="0.35">0</text>
<text x="1415.8" y="1369.3" font-size="13.8" fill="#222" stroke="#222" stroke-width="0.35">−0.5</text>
<text x="1415.8" y="1402.7" font-size="13.8" fill="#222" stroke="#222" stroke-width="0.35">−1</text>
<text transform="translate(1120.5 2017.4) rotate(-28)" font-size="16.8" fill="#111" stroke="#111" stroke-width="0.2">W_1</text>
<text transform="translate(1162.5 2016.1) rotate(-28)" font-size="16.8" fill="#111" stroke="#111" stroke-width="0.2">W_2</text>
<text transform="translate(1203.8 2018.6) rotate(-28)" font-size="16.8" fill="#111" stroke="#111" stroke-width="0.2">L/L_1</text>
<text transform="translate(1252.6 2017.1) rotate(-28)" font-size="16.8" fill="#111" stroke="#111" stroke-width="0.2">L/L_2</text>
</g>
<g id="panel-e">
<text x="1502.3" y="1148" font-size="41.3" fill="#111" stroke="#111" stroke-width="0.7">e</text>
<g><text x="1642.7" y="1215.4" font-size="14.3" text-anchor="middle" font-style="italic" fill="#1a1a1a" >Tnfα</text><text transform="translate(1543.5 1317) rotate(-90)" text-anchor="middle" font-size="12.3" font-weight="bold" fill="#111">Relative mRNA expression</text><path fill="none" stroke="#0b0b0b" stroke-width="0.9" d="M1593.9 1353.3V1352.3M1590.9 1352.3H1596.9"/><rect x="1588.8" y="1353.3" width="10.2" height="28.2" fill="#0b0b0b" /><path fill="none" stroke="#2b47a0" stroke-width="0.9" d="M1610.8 1356.3V1352.3M1607.8 1352.3H1613.8"/><rect x="1605.9" y="1356.3" width="9.8" height="25.2" fill="#2b47a0" /><path fill="none" stroke="#0b0b0b" stroke-width="0.9" d="M1639.8 1328.4V1327.2M1636.8 1327.2H1642.8"/><rect x="1634.7" y="1328.4" width="10.2" height="53.1" fill="#0b0b0b" /><path fill="none" stroke="#2b47a0" stroke-width="0.9" d="M1657.1 1299.4V1296M1654.1 1296H1660.1"/><rect x="1652.2" y="1299.4" width="9.8" height="82.1" fill="#2b47a0" /><path fill="none" stroke="#0b0b0b" stroke-width="0.9" d="M1685.85 1369.7V1367.3M1682.85 1367.3H1688.85"/><rect x="1680.9" y="1369.7" width="9.9" height="11.8" fill="#0b0b0b" /><path fill="none" stroke="#2b47a0" stroke-width="0.9" d="M1703.2 1371.3V1370.4M1700.2 1370.4H1706.2"/><rect x="1698.2" y="1371.3" width="10" height="10.2" fill="#2b47a0" /><path fill="none" stroke="#555" stroke-width="1" d="M1582.5 1254V1381.3M1576.8 1254H1582.5M1576.8 1296.6H1582.5M1576.8 1339H1582.5M1576.8 1381.3H1582.5M1576.8 1381.5H1715.8M1602.4 1381.5V1386.7M1648.4 1381.5V1386.7M1694.5 1381.5V1386.7"/><text x="1575.2" y="1257.53" font-size="9.8" text-anchor="end" font-weight="bold" fill="#111" >0.015</text><text x="1575.2" y="1300.13" font-size="9.8" text-anchor="end" font-weight="bold" fill="#111" >0.010</text><text x="1575.2" y="1342.53" font-size="9.8" text-anchor="end" font-weight="bold" fill="#111" >0.005</text><text x="1575.2" y="1384.83" font-size="9.8" text-anchor="end" font-weight="bold" fill="#111" >0.000</text><text x="1602.4" y="1397" font-size="10.1" text-anchor="middle" font-weight="bold" fill="#111" >Con</text><text x="1648.4" y="1397" font-size="10.1" text-anchor="middle" font-weight="bold" fill="#111" >IFNγ</text><text x="1694.5" y="1397" font-size="10.1" text-anchor="middle" font-weight="bold" fill="#111" >IL4</text><path fill="none" stroke="#4a4a4a" stroke-width="1.1" d="M1636.6 1286.5H1655.9M1636.6 1282.9V1290.1M1655.9 1282.9V1290.1"/><text x="1646.25" y="1283.4" font-size="9.8" text-anchor="middle" fill="#1a1a1a" >***</text><rect x="1678.8" y="1236.3" width="12.5" height="5.3" fill="#0b0b0b" /><rect x="1678.8" y="1253.4" width="12.5" height="5.3" fill="#2b47a0" /><text x="1700.5" y="1241.8" font-size="10" fill="#222" >WT</text><text x="1700.5" y="1259.2" font-size="10" fill="#222" >L/L</text></g>
<g><text x="1867.8" y="1215.2" font-size="14.3" text-anchor="middle" font-style="italic" fill="#1a1a1a" >Cxcl9</text><text transform="translate(1767.3 1318.5) rotate(-90)" text-anchor="middle" font-size="12.3" font-weight="bold" fill="#111">Relative mRNA expression</text><path fill="none" stroke="#0b0b0b" stroke-width="0.9" d="M1817.55 1359V1345.4M1814.55 1345.4H1820.55"/><rect x="1812.6" y="1359" width="9.9" height="23.5" fill="#0b0b0b" /><path fill="none" stroke="#2b47a0" stroke-width="0.9" d="M1834.7 1362V1353.1M1831.7 1353.1H1837.7"/><rect x="1829.7" y="1362" width="10" height="20.5" fill="#2b47a0" /><path fill="none" stroke="#0b0b0b" stroke-width="0.9" d="M1863.7 1293.2V1291.4M1860.7 1291.4H1866.7"/><rect x="1858.7" y="1293.2" width="10" height="20.9" fill="#0b0b0b" /><rect x="1858.7" y="1323.8" width="10" height="58.7" fill="#0b0b0b" /><path fill="none" stroke="#2b47a0" stroke-width="0.9" d="M1880.9 1267.4V1264.5M1877.9 1264.5H1883.9"/><rect x="1876" y="1267.4" width="9.8" height="46.7" fill="#2b47a0" /><rect x="1876" y="1323.8" width="9.8" height="58.7" fill="#2b47a0" /><path fill="none" stroke="#0b0b0b" stroke-width="0.9" d="M1909.8 1371.1V1363.2M1906.8 1363.2H1912.8"/><rect x="1904.8" y="1371.1" width="10" height="11.4" fill="#0b0b0b" /><path fill="none" stroke="#2b47a0" stroke-width="0.9" d="M1927.15 1367.3V1358.1M1924.15 1358.1H1930.15"/><rect x="1922.1" y="1367.3" width="10.1" height="15.2" fill="#2b47a0" /><path fill="none" stroke="#555" stroke-width="1" d="M1805.5 1255V1314.1M1802.1 1314.1H1808.9M1805.5 1323.6V1382.7M1802.1 1323.6H1808.9M1799.8 1255H1805.5M1799.8 1278.7H1805.5M1799.8 1302.3H1805.5M1799.8 1335.4H1805.5M1799.8 1359H1805.5M1799.8 1382.7H1805.5M1799.8 1382.5H1939.9M1826.2 1382.5V1387.7M1872.3 1382.5V1387.7M1918.6 1382.5V1387.7"/><text x="1798.2" y="1258.53" font-size="9.8" text-anchor="end" font-weight="bold" fill="#111" >0.6</text><text x="1798.2" y="1282.23" font-size="9.8" text-anchor="end" font-weight="bold" fill="#111" >0.4</text><text x="1798.2" y="1305.83" font-size="9.8" text-anchor="end" font-weight="bold" fill="#111" >0.2</text><text x="1798.2" y="1338.93" font-size="9.8" text-anchor="end" font-weight="bold" fill="#111" >0.004</text><text x="1798.2" y="1362.53" font-size="9.8" text-anchor="end" font-weight="bold" fill="#111" >0.002</text><text x="1798.2" y="1386.23" font-size="9.8" text-anchor="end" font-weight="bold" fill="#111" >0.000</text><text x="1826.2" y="1397.8" font-size="10.1" text-anchor="middle" font-weight="bold" fill="#111" >Con</text><text x="1872.3" y="1397.8" font-size="10.1" text-anchor="middle" font-weight="bold" fill="#111" >IFNγ</text><text x="1918.6" y="1397.8" font-size="10.1" text-anchor="middle" font-weight="bold" fill="#111" >IL4</text><path fill="none" stroke="#4a4a4a" stroke-width="1.1" d="M1862.2 1256.6H1880.5M1862.2 1253V1260.2M1880.5 1253V1260.2"/><text x="1871.35" y="1252.2" font-size="9.8" text-anchor="middle" fill="#1a1a1a" >***</text><rect x="1903" y="1237.3" width="12.6" height="5.7" fill="#0b0b0b" /><rect x="1903" y="1254.4" width="12.6" height="5.7" fill="#2b47a0" /><text x="1925.1" y="1243" font-size="10" fill="#222" >WT</text><text x="1925.1" y="1260.7" font-size="10" fill="#222" >L/L</text></g>
<g><text x="1641.7" y="1433.3" font-size="14.3" text-anchor="middle" font-style="italic" fill="#1a1a1a" >iNOS</text><text transform="translate(1538 1519) rotate(-90)" text-anchor="middle" font-size="12.1" font-weight="bold" fill="#111">Relative mRNA expression</text><path fill="none" stroke="#0b0b0b" stroke-width="0.9" d="M1592.6 1572.1V1567.2M1589.6 1567.2H1595.6"/><rect x="1587.6" y="1572.1" width="10" height="10.4" fill="#0b0b0b" /><path fill="none" stroke="#2b47a0" stroke-width="0.9" d="M1609.1 1557.4V1547.3M1606.1 1547.3H1612.1"/><rect x="1604.1" y="1557.4" width="10" height="25.1" fill="#2b47a0" /><path fill="none" stroke="#0b0b0b" stroke-width="0.9" d="M1637.3 1504.1V1501.4M1634.3 1501.4H1640.3"/><rect x="1632.3" y="1504.1" width="10" height="10.7" fill="#0b0b0b" /><rect x="1632.3" y="1524" width="10" height="58.5" fill="#0b0b0b" /><path fill="none" stroke="#2b47a0" stroke-width="0.9" d="M1654.2 1477.4V1475.6M1651.2 1475.6H1657.2"/><rect x="1649.2" y="1477.4" width="10" height="37.4" fill="#2b47a0" /><rect x="1649.2" y="1524" width="10" height="58.5" fill="#2b47a0" /><path fill="none" stroke="#0b0b0b" stroke-width="0.9" d="M1682.3 1575.1V1570.5M1679.3 1570.5H1685.3"/><rect x="1677.2" y="1575.1" width="10.2" height="7.4" fill="#0b0b0b" /><path fill="none" stroke="#2b47a0" stroke-width="0.9" d="M1699.2 1568.4V1560.4M1696.2 1560.4H1702.2"/><rect x="1694.1" y="1568.4" width="10.2" height="14.1" fill="#2b47a0" /><path fill="none" stroke="#555" stroke-width="1" d="M1581.5 1456.6V1514.8M1578.1 1514.8H1584.9M1581.5 1524.3V1582.5M1578.1 1524.3H1584.9M1575.8 1456.6H1581.5M1575.8 1489.2H1581.5M1575.8 1524.3H1581.5M1575.8 1553.3H1581.5M1575.8 1582.5H1581.5M1575.8 1582.5H1711.9M1600.4 1582.5V1587.7M1645.4 1582.5V1587.7M1690.2 1582.5V1587.7"/><text x="1574.2" y="1460.13" font-size="9.8" text-anchor="end" font-weight="bold" fill="#111" >0.02</text><text x="1574.2" y="1492.73" font-size="9.8" text-anchor="end" font-weight="bold" fill="#111" >0.01</text><text x="1574.2" y="1527.83" font-size="9.8" text-anchor="end" font-weight="bold" fill="#111" >0.0002</text><text x="1574.2" y="1556.83" font-size="9.8" text-anchor="end" font-weight="bold" fill="#111" >0.0001</text><text x="1574.2" y="1586.03" font-size="9.8" text-anchor="end" font-weight="bold" fill="#111" >0.0000</text><text x="1600.4" y="1597.4" font-size="10.1" text-anchor="middle" font-weight="bold" fill="#111" >Con</text><text x="1645.4" y="1597.4" font-size="10.1" text-anchor="middle" font-weight="bold" fill="#111" >IFNγ</text><text x="1690.2" y="1597.4" font-size="10.1" text-anchor="middle" font-weight="bold" fill="#111" >IL4</text><path fill="none" stroke="#4a4a4a" stroke-width="1.1" d="M1636.6 1467.4H1654.7M1636.6 1463.8V1471M1654.7 1463.8V1471"/><text x="1645.65" y="1465.2" font-size="9.8" text-anchor="middle" fill="#1a1a1a" >***</text><rect x="1674.5" y="1448.7" width="12.6" height="5.6" fill="#0b0b0b" /><rect x="1674.5" y="1465.9" width="12.6" height="5.6" fill="#2b47a0" /><text x="1695.3" y="1454.5" font-size="10" fill="#222" >WT</text><text x="1695.3" y="1471.4" font-size="10" fill="#222" >L/L</text></g>
<g><text x="1871.7" y="1431.9" font-size="14.3" text-anchor="middle" font-style="italic" fill="#1a1a1a" >Cxcl10</text><text transform="translate(1763.5 1518.2) rotate(-90)" text-anchor="middle" font-size="12.7" font-weight="bold" fill="#111">Relative mRNA expression</text><path fill="none" stroke="#0b0b0b" stroke-width="0.9" d="M1817.95 1545.4V1543.4M1814.95 1543.4H1820.95"/><rect x="1813.1" y="1545.4" width="9.7" height="39.1" fill="#0b0b0b" /><path fill="none" stroke="#2b47a0" stroke-width="0.9" d="M1834.95 1573.2V1570M1831.95 1570H1837.95"/><rect x="1829.9" y="1573.2" width="10.1" height="11.3" fill="#2b47a0" /><path fill="none" stroke="#0b0b0b" stroke-width="0.9" d="M1863 1509.3V1506.4M1860 1506.4H1866"/><rect x="1858" y="1509.3" width="10" height="4.4" fill="#0b0b0b" /><rect x="1858" y="1523.5" width="10" height="61" fill="#0b0b0b" /><path fill="none" stroke="#2b47a0" stroke-width="0.9" d="M1880 1479.4V1477.1M1877 1477.1H1883"/><rect x="1875.1" y="1479.4" width="9.8" height="34.3" fill="#2b47a0" /><rect x="1875.1" y="1523.5" width="9.8" height="61" fill="#2b47a0" /><path fill="none" stroke="#0b0b0b" stroke-width="0.9" d="M1907.95 1578.1V1574.6M1904.95 1574.6H1910.95"/><rect x="1903" y="1578.1" width="9.9" height="6.4" fill="#0b0b0b" /><path fill="none" stroke="#2b47a0" stroke-width="0.9" d="M1925.05 1580.3V1578.5M1922.05 1578.5H1928.05"/><rect x="1920" y="1580.3" width="10.1" height="4.2" fill="#2b47a0" /><path fill="none" stroke="#555" stroke-width="1" d="M1806.5 1452.6V1513.7M1803.1 1513.7H1809.9M1806.5 1523.5V1584.4M1803.1 1523.5H1809.9M1800.8 1452.6H1806.5M1800.8 1477.4H1806.5M1800.8 1501.4H1806.5M1800.8 1523.5H1806.5M1800.8 1554H1806.5M1800.8 1584.4H1806.5M1800.8 1584.5H1936.9M1826.4 1584.5V1589.7M1871.7 1584.5V1589.7M1916.5 1584.5V1589.7"/><text x="1799.2" y="1456.13" font-size="9.8" text-anchor="end" font-weight="bold" fill="#111" >0.5</text><text x="1799.2" y="1480.93" font-size="9.8" text-anchor="end" font-weight="bold" fill="#111" >0.4</text><text x="1799.2" y="1504.93" font-size="9.8" text-anchor="end" font-weight="bold" fill="#111" >0.3</text><text x="1799.2" y="1527.03" font-size="9.8" text-anchor="end" font-weight="bold" fill="#111" >0.0050</text><text x="1799.2" y="1557.53" font-size="9.8" text-anchor="end" font-weight="bold" fill="#111" >0.0025</text><text x="1799.2" y="1587.93" font-size="9.8" text-anchor="end" font-weight="bold" fill="#111" >0.0000</text><text x="1826.4" y="1600.1" font-size="10.1" text-anchor="middle" font-weight="bold" fill="#111" >Con</text><text x="1871.7" y="1600.1" font-size="10.1" text-anchor="middle" font-weight="bold" fill="#111" >IFNγ</text><text x="1916.5" y="1600.1" font-size="10.1" text-anchor="middle" font-weight="bold" fill="#111" >IL4</text><path fill="none" stroke="#4a4a4a" stroke-width="1.1" d="M1861.5 1468.2H1879.6M1861.5 1464.6V1471.8M1879.6 1464.6V1471.8"/><text x="1870.55" y="1465.5" font-size="9.8" text-anchor="middle" fill="#1a1a1a" >***</text><path fill="none" stroke="#4a4a4a" stroke-width="1.1" d="M1815.5 1535.9H1834.9M1815.5 1532.3V1539.5M1834.9 1532.3V1539.5"/><text x="1825.2" y="1532.9" font-size="9.8" text-anchor="middle" fill="#1a1a1a" >***</text><rect x="1900.9" y="1440.8" width="12.4" height="5.9" fill="#0b0b0b" /><rect x="1900.9" y="1458.5" width="12.4" height="5.9" fill="#2b47a0" /><text x="1922.1" y="1446.9" font-size="10" fill="#222" >WT</text><text x="1922.1" y="1464.8" font-size="10" fill="#222" >L/L</text></g>
<g><text x="1638.4" y="1635.7" font-size="14.3" text-anchor="middle" font-style="italic" fill="#1a1a1a" >Ym1</text><text transform="translate(1539.2 1725.7) rotate(-90)" text-anchor="middle" font-size="12.7" font-weight="bold" fill="#111">Relative mRNA expression</text><path fill="none" stroke="#0b0b0b" stroke-width="0.9" d="M1589.5 1764.3V1762.2M1586.5 1762.2H1592.5"/><rect x="1584.5" y="1764.3" width="10" height="28.2" fill="#0b0b0b" /><path fill="none" stroke="#2b47a0" stroke-width="0.9" d="M1606.7 1776.3V1773.3M1603.7 1773.3H1609.7"/><rect x="1601.7" y="1776.3" width="10" height="16.2" fill="#2b47a0" /><path fill="none" stroke="#0b0b0b" stroke-width="0.9" d="M1635.75 1783.9V1781.8M1632.75 1781.8H1638.75"/><rect x="1630.7" y="1783.9" width="10.1" height="8.6" fill="#0b0b0b" /><path fill="none" stroke="#2b47a0" stroke-width="0.9" d="M1652.9 1748.4V1745.3M1649.9 1745.3H1655.9"/><rect x="1647.8" y="1748.4" width="10.2" height="44.1" fill="#2b47a0" /><path fill="none" stroke="#0b0b0b" stroke-width="0.9" d="M1681.7 1704.5V1697.9M1678.7 1697.9H1684.7"/><rect x="1676.6" y="1704.5" width="10.2" height="17" fill="#0b0b0b" /><rect x="1676.6" y="1731.3" width="10.2" height="61.2" fill="#0b0b0b" /><path fill="none" stroke="#2b47a0" stroke-width="0.9" d="M1699.1 1700.6V1697.3M1696.1 1697.3H1702.1"/><rect x="1693.9" y="1700.6" width="10.4" height="20.9" fill="#2b47a0" /><rect x="1693.9" y="1731.3" width="10.4" height="61.2" fill="#2b47a0" /><path fill="none" stroke="#555" stroke-width="1" d="M1578.5 1660.2V1721.5M1575.1 1721.5H1581.9M1578.5 1731.5V1792.5M1575.1 1731.5H1581.9M1572.8 1660.2H1578.5M1572.8 1691.1H1578.5M1572.8 1721.5H1578.5M1572.8 1731.5H1578.5M1572.8 1761.9H1578.5M1572.8 1792.5H1578.5M1572.8 1792.5H1711.9M1598 1792.5V1797.7M1644.2 1792.5V1797.7M1690.2 1792.5V1797.7"/><text x="1571.2" y="1663.73" font-size="9.8" text-anchor="end" font-weight="bold" fill="#111" >8</text><text x="1571.2" y="1694.63" font-size="9.8" text-anchor="end" font-weight="bold" fill="#111" >6</text><text x="1571.2" y="1725.03" font-size="9.8" text-anchor="end" font-weight="bold" fill="#111" >4</text><text x="1571.2" y="1735.03" font-size="9.8" text-anchor="end" font-weight="bold" fill="#111" >0.010</text><text x="1571.2" y="1765.43" font-size="9.8" text-anchor="end" font-weight="bold" fill="#111" >0.005</text><text x="1571.2" y="1796.03" font-size="9.8" text-anchor="end" font-weight="bold" fill="#111" >0.000</text><text x="1598" y="1808.2" font-size="10.1" text-anchor="middle" font-weight="bold" fill="#111" >Con</text><text x="1644.2" y="1808.2" font-size="10.1" text-anchor="middle" font-weight="bold" fill="#111" >IFNγ</text><text x="1690.2" y="1808.2" font-size="10.1" text-anchor="middle" font-weight="bold" fill="#111" >IL4</text><rect x="1668.4" y="1648.9" width="12.6" height="5.4" fill="#0b0b0b" /><rect x="1668.4" y="1666.6" width="12.6" height="5.4" fill="#2b47a0" /><text x="1689.6" y="1654.7" font-size="10" fill="#222" >WT</text><text x="1689.6" y="1672.5" font-size="10" fill="#222" >L/L</text></g>
<g><text x="1858.1" y="1635.8" font-size="14.3" text-anchor="middle" font-style="italic" fill="#1a1a1a" >Fizz</text><text transform="translate(1763.7 1733.2) rotate(-90)" text-anchor="middle" font-size="11.5" font-weight="bold" fill="#111">Relative mRNA expression</text><path fill="none" stroke="#0b0b0b" stroke-width="0.9" d="M1814.05 1772V1769M1811.05 1769H1817.05"/><rect x="1809" y="1772" width="10.1" height="20.5" fill="#0b0b0b" /><path fill="none" stroke="#2b47a0" stroke-width="0.9" d="M1831.4 1776.3V1774.5M1828.4 1774.5H1834.4"/><rect x="1826.4" y="1776.3" width="10" height="16.2" fill="#2b47a0" /><path fill="none" stroke="#0b0b0b" stroke-width="0.9" d="M1860.15 1777.3V1775.5M1857.15 1775.5H1863.15"/><rect x="1855.1" y="1777.3" width="10.1" height="15.2" fill="#0b0b0b" /><path fill="none" stroke="#2b47a0" stroke-width="0.9" d="M1877.4 1782.6V1781.4M1874.4 1781.4H1880.4"/><rect x="1872.3" y="1782.6" width="10.2" height="9.9" fill="#2b47a0" /><path fill="none" stroke="#0b0b0b" stroke-width="0.9" d="M1906.15 1725.3V1724M1903.15 1724H1909.15"/><rect x="1901.2" y="1725.3" width="9.9" height="3.9" fill="#0b0b0b" /><rect x="1901.2" y="1737.7" width="9.9" height="54.8" fill="#0b0b0b" /><path fill="none" stroke="#2b47a0" stroke-width="0.9" d="M1923.6 1691.6V1689.4M1920.6 1689.4H1926.6"/><rect x="1918.6" y="1691.6" width="10" height="37.6" fill="#2b47a0" /><rect x="1918.6" y="1737.7" width="10" height="54.8" fill="#2b47a0" /><path fill="none" stroke="#555" stroke-width="1" d="M1802.5 1674.2V1729.2M1799.1 1729.2H1805.9M1802.5 1737.7V1792.4M1799.1 1737.7H1805.9M1796.8 1674.2H1802.5M1796.8 1690.1H1802.5M1796.8 1705.5H1802.5M1796.8 1721.1H1802.5M1796.8 1737.7H1802.5M1796.8 1765.2H1802.5M1796.8 1792.4H1802.5M1796.8 1792.5H1936.3M1822.5 1792.5V1797.7M1868.6 1792.5V1797.7M1914.7 1792.5V1797.7"/><text x="1795.2" y="1677.73" font-size="9.8" text-anchor="end" font-weight="bold" fill="#111" >5</text><text x="1795.2" y="1693.63" font-size="9.8" text-anchor="end" font-weight="bold" fill="#111" >4</text><text x="1795.2" y="1709.03" font-size="9.8" text-anchor="end" font-weight="bold" fill="#111" >3</text><text x="1795.2" y="1724.63" font-size="9.8" text-anchor="end" font-weight="bold" fill="#111" >2</text><text x="1795.2" y="1741.23" font-size="9.8" text-anchor="end" font-weight="bold" fill="#111" >0.050</text><text x="1795.2" y="1768.73" font-size="9.8" text-anchor="end" font-weight="bold" fill="#111" >0.025</text><text x="1795.2" y="1795.93" font-size="9.8" text-anchor="end" font-weight="bold" fill="#111" >0.000</text><text x="1822.5" y="1807.2" font-size="10.1" text-anchor="middle" font-weight="bold" fill="#111" >Con</text><text x="1868.6" y="1807.2" font-size="10.1" text-anchor="middle" font-weight="bold" fill="#111" >IFNγ</text><text x="1914.7" y="1807.2" font-size="10.1" text-anchor="middle" font-weight="bold" fill="#111" >IL4</text><path fill="none" stroke="#4a4a4a" stroke-width="1.1" d="M1906.2 1685.9H1923.6M1906.2 1682.3V1689.5M1923.6 1682.3V1689.5"/><text x="1914.9" y="1682.6" font-size="9.8" text-anchor="middle" fill="#1a1a1a" >****</text><rect x="1892.6" y="1642.9" width="13" height="5.5" fill="#0b0b0b" /><rect x="1892.6" y="1658.7" width="13" height="5.5" fill="#2b47a0" /><text x="1914.5" y="1648.4" font-size="10" fill="#222" >WT</text><text x="1914.5" y="1664.7" font-size="10" fill="#222" >L/L</text></g>
<g><text x="1638.2" y="1844.7" font-size="14.8" text-anchor="middle" font-style="italic" fill="#1a1a1a" >Arg1</text><text transform="translate(1542.3 1942.7) rotate(-90)" text-anchor="middle" font-size="12.6" font-weight="bold" fill="#111">Relative mRNA expression</text><path fill="none" stroke="#0b0b0b" stroke-width="0.9" d="M1576.8 1950.2V1948.4M1573.8 1948.4H1579.8"/><rect x="1571.3" y="1950.2" width="11" height="58.3" fill="#0b0b0b" /><path fill="none" stroke="#2b47a0" stroke-width="0.9" d="M1595.55 1969.6V1968.4M1592.55 1968.4H1598.55"/><rect x="1589.4" y="1969.6" width="12.3" height="38.9" fill="#2b47a0" /><path fill="none" stroke="#0b0b0b" stroke-width="0.9" d="M1626.9 1977.2V1975.6M1623.9 1975.6H1629.9"/><rect x="1621.2" y="1977.2" width="11.4" height="31.3" fill="#0b0b0b" /><path fill="none" stroke="#2b47a0" stroke-width="0.9" d="M1645.75 1990.3V1988.8M1642.75 1988.8H1648.75"/><rect x="1639.6" y="1990.3" width="12.3" height="18.2" fill="#2b47a0" /><path fill="none" stroke="#0b0b0b" stroke-width="0.9" d="M1677.35 1916.6V1913.7M1674.35 1913.7H1680.35"/><rect x="1671.8" y="1916.6" width="11.1" height="91.9" fill="#0b0b0b" /><path fill="none" stroke="#2b47a0" stroke-width="0.9" d="M1696.3 1904.1V1895.4M1693.3 1895.4H1699.3"/><rect x="1690.2" y="1904.1" width="12.2" height="104.4" fill="#2b47a0" /><path fill="none" stroke="#555" stroke-width="1" d="M1564.5 1877.6V2008M1557.6 1877.6H1564.5M1557.6 1910.4H1564.5M1557.6 1942.9H1564.5M1557.6 1975.3H1564.5M1557.6 2008H1564.5M1557.6 2008.5H1710M1586.1 2008.5V2013.7M1636.3 2008.5V2013.7M1686.4 2008.5V2013.7"/><text x="1556" y="1881.31" font-size="10.3" text-anchor="end" font-weight="bold" fill="#111" >8</text><text x="1556" y="1914.11" font-size="10.3" text-anchor="end" font-weight="bold" fill="#111" >6</text><text x="1556" y="1946.61" font-size="10.3" text-anchor="end" font-weight="bold" fill="#111" >4</text><text x="1556" y="1979.01" font-size="10.3" text-anchor="end" font-weight="bold" fill="#111" >2</text><text x="1556" y="2011.71" font-size="10.3" text-anchor="end" font-weight="bold" fill="#111" >0</text><text x="1586.1" y="2023.7" font-size="10.8" text-anchor="middle" font-weight="bold" fill="#111" >Con</text><text x="1636.3" y="2023.7" font-size="10.8" text-anchor="middle" font-weight="bold" fill="#111" >IFNγ</text><text x="1686.4" y="2023.7" font-size="10.8" text-anchor="middle" font-weight="bold" fill="#111" >IL4</text><path fill="none" stroke="#4a4a4a" stroke-width="1.1" d="M1575.6 1940.7H1594.7M1575.6 1937.1V1944.3M1594.7 1937.1V1944.3"/><text x="1585.15" y="1937.7" font-size="9.8" text-anchor="middle" fill="#1a1a1a" >**</text><path fill="none" stroke="#4a4a4a" stroke-width="1.1" d="M1627.4 1967H1646M1627.4 1963.4V1970.6M1646 1963.4V1970.6"/><text x="1636.7" y="1964.6" font-size="9.8" text-anchor="middle" fill="#1a1a1a" >*</text><rect x="1660.4" y="1864.3" width="14.5" height="5.9" fill="#0b0b0b" /><rect x="1660.4" y="1881.3" width="14.5" height="5.9" fill="#2b47a0" /><text x="1684.3" y="1870.3" font-size="10.8" fill="#222" >WT</text><text x="1684.3" y="1888" font-size="10.8" fill="#222" >L/L</text></g>
<g><text x="1857.7" y="1844.6" font-size="14.3" text-anchor="middle" font-style="italic" fill="#1a1a1a" >Cd206</text><text transform="translate(1755.1 1949.2) rotate(-90)" text-anchor="middle" font-size="10.8" font-weight="bold" fill="#111">Relative mRNA expression</text><path fill="none" stroke="#0b0b0b" stroke-width="0.9" d="M1813.85 1950.7V1948.1M1810.85 1948.1H1816.85"/><rect x="1809" y="1950.7" width="9.7" height="14.7" fill="#0b0b0b" /><rect x="1809" y="1973.7" width="9.7" height="31.8" fill="#0b0b0b" /><path fill="none" stroke="#2b47a0" stroke-width="0.9" d="M1830.25 1955.4V1953.4M1827.25 1953.4H1833.25"/><rect x="1825.2" y="1955.4" width="10.1" height="10" fill="#2b47a0" /><rect x="1825.2" y="1973.7" width="10.1" height="31.8" fill="#2b47a0" /><path fill="none" stroke="#0b0b0b" stroke-width="0.9" d="M1857.9 1988.1V1984.6M1854.9 1984.6H1860.9"/><rect x="1853" y="1988.1" width="9.8" height="17.4" fill="#0b0b0b" /><path fill="none" stroke="#2b47a0" stroke-width="0.9" d="M1874.4 2000.1V1997.6M1871.4 1997.6H1877.4"/><rect x="1869.2" y="2000.1" width="10.4" height="5.4" fill="#2b47a0" /><path fill="none" stroke="#0b0b0b" stroke-width="0.9" d="M1901.75 1902V1900.8M1898.75 1900.8H1904.75"/><rect x="1897" y="1902" width="9.5" height="23.3" fill="#0b0b0b" /><rect x="1897" y="1933.5" width="9.5" height="31.9" fill="#0b0b0b" /><rect x="1897" y="1973.7" width="9.5" height="31.8" fill="#0b0b0b" /><path fill="none" stroke="#2b47a0" stroke-width="0.9" d="M1918.2 1918.8V1917.6M1915.2 1917.6H1921.2"/><rect x="1913.3" y="1918.8" width="9.8" height="6.5" fill="#2b47a0" /><rect x="1913.3" y="1933.5" width="9.8" height="31.9" fill="#2b47a0" /><rect x="1913.3" y="1973.7" width="9.8" height="31.8" fill="#2b47a0" /><path fill="none" stroke="#555" stroke-width="1" d="M1802.5 1893.3V1925.3M1799.1 1925.3H1805.9M1802.5 1933.5V1965.4M1799.1 1933.5H1805.9M1799.1 1965.4H1805.9M1802.5 1973.7V2005.6M1799.1 1973.7H1805.9M1796.8 1893.3H1802.5M1796.8 1914.6H1802.5M1796.8 1933.5H1802.5M1796.8 1952.4H1802.5M1796.8 1973.7H1802.5M1796.8 1989.7H1802.5M1796.8 2005.6H1802.5M1796.8 2005.5H1929.8M1822.3 2005.5V2010.7M1865.8 2005.5V2010.7M1909.5 2005.5V2010.7"/><text x="1795.2" y="1896.68" font-size="9.4" text-anchor="end" font-weight="bold" fill="#111" >0.02</text><text x="1795.2" y="1917.98" font-size="9.4" text-anchor="end" font-weight="bold" fill="#111" >0.01</text><text x="1795.2" y="1936.88" font-size="9.4" text-anchor="end" font-weight="bold" fill="#111" >0.002</text><text x="1795.2" y="1955.78" font-size="9.4" text-anchor="end" font-weight="bold" fill="#111" >0.001</text><text x="1795.2" y="1977.08" font-size="9.4" text-anchor="end" font-weight="bold" fill="#111" >0.00030</text><text x="1795.2" y="1993.08" font-size="9.4" text-anchor="end" font-weight="bold" fill="#111" >0.00015</text><text x="1795.2" y="2008.98" font-size="9.4" text-anchor="end" font-weight="bold" fill="#111" >0.00000</text><text x="1822.3" y="2019.2" font-size="9.7" text-anchor="middle" font-weight="bold" fill="#111" >Con</text><text x="1865.8" y="2019.2" font-size="9.7" text-anchor="middle" font-weight="bold" fill="#111" >IFNγ</text><text x="1909.5" y="2019.2" font-size="9.7" text-anchor="middle" font-weight="bold" fill="#111" >IL4</text><path fill="none" stroke="#4a4a4a" stroke-width="1.1" d="M1900.9 1893.9H1918.6M1900.9 1890.3V1897.5M1918.6 1890.3V1897.5"/><text x="1909.75" y="1891.2" font-size="9.8" text-anchor="middle" fill="#1a1a1a" >***</text><rect x="1885.8" y="1853.1" width="12.1" height="5.2" fill="#0b0b0b" /><rect x="1885.8" y="1867.9" width="12.1" height="5.2" fill="#2b47a0" /><text x="1906.5" y="1858.5" font-size="10" fill="#222" >WT</text><text x="1906.5" y="1873.6" font-size="10" fill="#222" >L/L</text></g>
</g>
</svg>
</body></html>
